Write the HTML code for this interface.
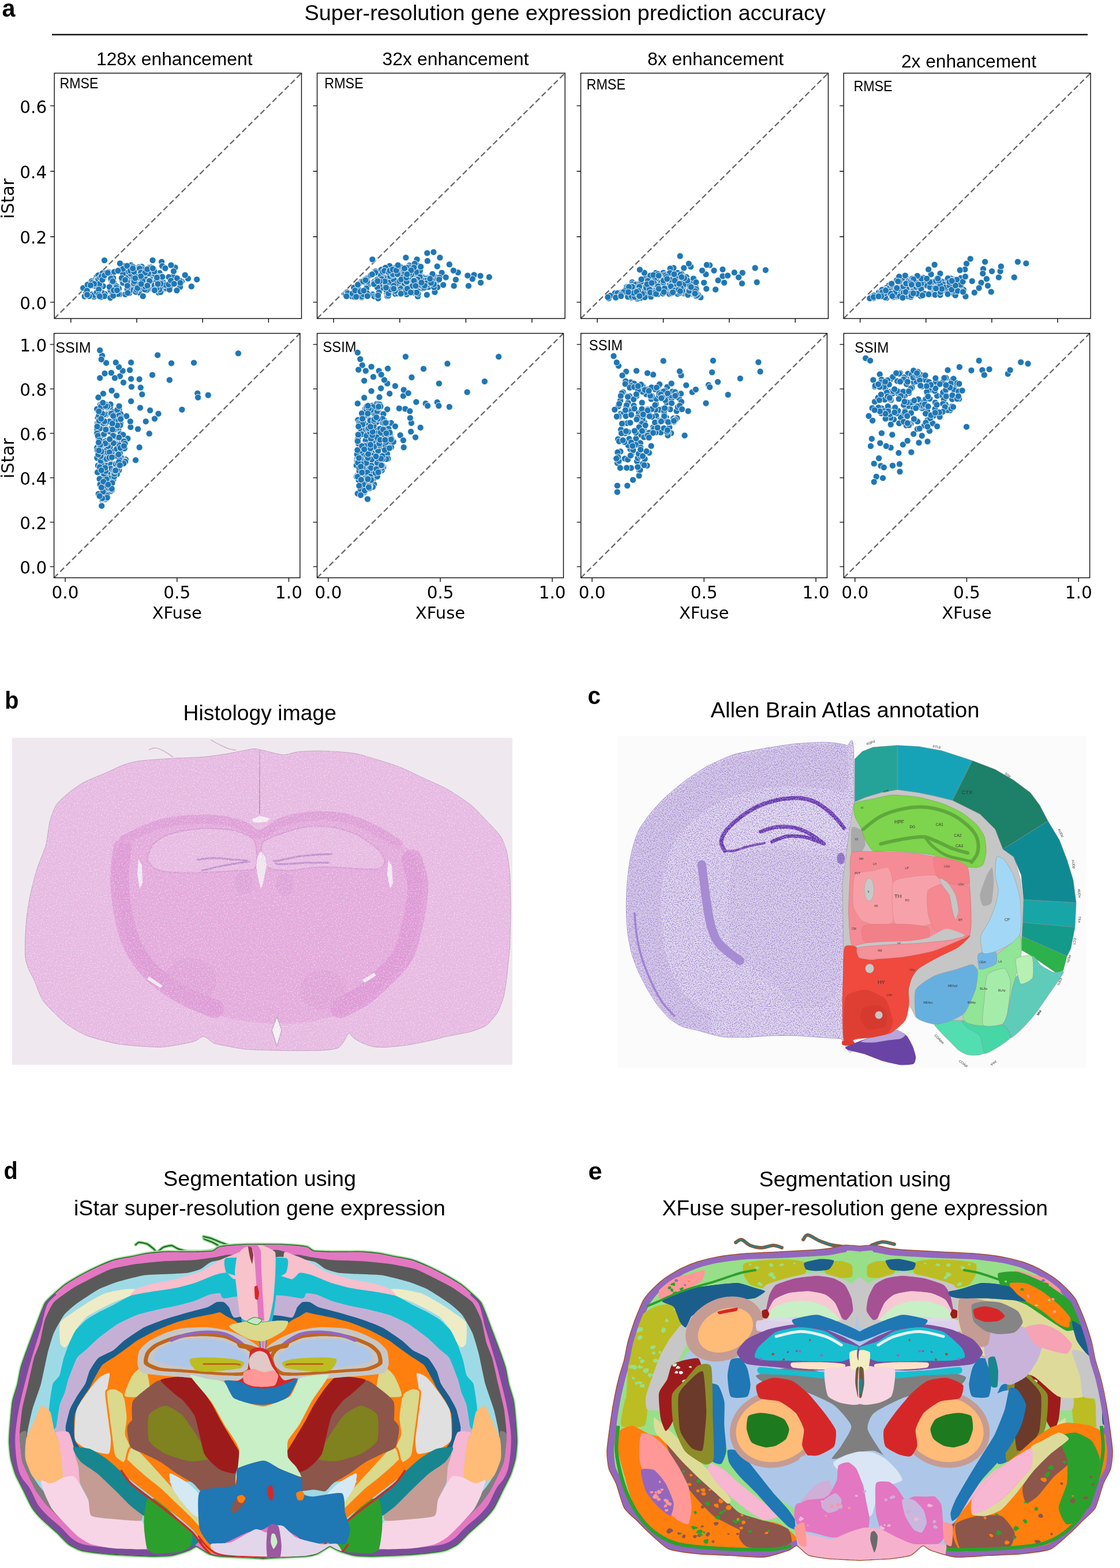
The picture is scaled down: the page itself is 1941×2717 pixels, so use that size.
<!DOCTYPE html>
<html><head><meta charset="utf-8"><title>Super-resolution gene expression figure</title>
<style>html,body{margin:0;padding:0;background:#fff;}svg{display:block;}</style></head>
<body><svg width="1941" height="2717" viewBox="0 0 1941 2717">
<rect width="1941" height="2717" fill="#fff"/>
<text x="3.5" y="28.8" font-size="42" font-family="'Liberation Sans', Arial, sans-serif" font-weight="bold" textLength="23" lengthAdjust="spacingAndGlyphs">a</text>
<text x="527.5" y="34.7" font-size="37" font-family="'Liberation Sans', Arial, sans-serif" textLength="903.5" lengthAdjust="spacingAndGlyphs">Super-resolution gene expression prediction accuracy</text>
<line x1="90" y1="60" x2="1885" y2="60" stroke="#111" stroke-width="2.6"/>
<text x="167" y="113.3" font-size="31" font-family="'Liberation Sans', Arial, sans-serif" textLength="270.5" lengthAdjust="spacingAndGlyphs">128x enhancement</text>
<text x="662.5" y="112.7" font-size="31" font-family="'Liberation Sans', Arial, sans-serif" textLength="254" lengthAdjust="spacingAndGlyphs">32x enhancement</text>
<text x="1122" y="113.2" font-size="31" font-family="'Liberation Sans', Arial, sans-serif" textLength="236" lengthAdjust="spacingAndGlyphs">8x enhancement</text>
<text x="1562" y="116.6" font-size="31" font-family="'Liberation Sans', Arial, sans-serif" textLength="234" lengthAdjust="spacingAndGlyphs">2x enhancement</text>
<text x="103.5" y="153.3" font-size="25.5" font-family="'Liberation Sans', Arial, sans-serif" textLength="67" lengthAdjust="spacingAndGlyphs">RMSE</text>
<text x="562.3" y="153.3" font-size="25.5" font-family="'Liberation Sans', Arial, sans-serif" textLength="67.5" lengthAdjust="spacingAndGlyphs">RMSE</text>
<text x="1016.6" y="155.4" font-size="25.5" font-family="'Liberation Sans', Arial, sans-serif" textLength="67.4" lengthAdjust="spacingAndGlyphs">RMSE</text>
<text x="1479.4" y="158.4" font-size="25.5" font-family="'Liberation Sans', Arial, sans-serif" textLength="67.2" lengthAdjust="spacingAndGlyphs">RMSE</text>
<text x="96.3" y="610.6" font-size="25.5" font-family="'Liberation Sans', Arial, sans-serif" textLength="61.2" lengthAdjust="spacingAndGlyphs">SSIM</text>
<text x="559.5" y="609.6" font-size="25.5" font-family="'Liberation Sans', Arial, sans-serif" textLength="58" lengthAdjust="spacingAndGlyphs">SSIM</text>
<text x="1020.8" y="607" font-size="25.5" font-family="'Liberation Sans', Arial, sans-serif" textLength="58.2" lengthAdjust="spacingAndGlyphs">SSIM</text>
<text x="1481.3" y="611" font-size="25.5" font-family="'Liberation Sans', Arial, sans-serif" textLength="59" lengthAdjust="spacingAndGlyphs">SSIM</text>
<text x="81.2" y="535.8" font-size="29.5" font-family="'DejaVu Sans', sans-serif" text-anchor="end">0.0</text>
<text x="81.2" y="422.4" font-size="29.5" font-family="'DejaVu Sans', sans-serif" text-anchor="end">0.2</text>
<text x="81.2" y="309" font-size="29.5" font-family="'DejaVu Sans', sans-serif" text-anchor="end">0.4</text>
<text x="81.2" y="195.6" font-size="29.5" font-family="'DejaVu Sans', sans-serif" text-anchor="end">0.6</text>
<text transform="translate(23.8 344) rotate(-90)" font-size="30" font-family="'DejaVu Sans', sans-serif" text-anchor="middle">iStar</text>
<text x="81.2" y="994.1" font-size="29.5" font-family="'DejaVu Sans', sans-serif" text-anchor="end">0.0</text>
<text x="81.2" y="917.1" font-size="29.5" font-family="'DejaVu Sans', sans-serif" text-anchor="end">0.2</text>
<text x="81.2" y="840.1" font-size="29.5" font-family="'DejaVu Sans', sans-serif" text-anchor="end">0.4</text>
<text x="81.2" y="763.1" font-size="29.5" font-family="'DejaVu Sans', sans-serif" text-anchor="end">0.6</text>
<text x="81.2" y="686.1" font-size="29.5" font-family="'DejaVu Sans', sans-serif" text-anchor="end">0.8</text>
<text x="81.2" y="609.1" font-size="29.5" font-family="'DejaVu Sans', sans-serif" text-anchor="end">1.0</text>
<text x="113" y="1036.6" font-size="29.5" font-family="'DejaVu Sans', sans-serif" text-anchor="middle">0.0</text>
<text x="306.8" y="1036.6" font-size="29.5" font-family="'DejaVu Sans', sans-serif" text-anchor="middle">0.5</text>
<text x="500.5" y="1036.6" font-size="29.5" font-family="'DejaVu Sans', sans-serif" text-anchor="middle">1.0</text>
<text x="306.8" y="1071.6" font-size="29" font-family="'DejaVu Sans', sans-serif" text-anchor="middle">XFuse</text>
<text x="569" y="1036.6" font-size="29.5" font-family="'DejaVu Sans', sans-serif" text-anchor="middle">0.0</text>
<text x="763.1" y="1036.6" font-size="29.5" font-family="'DejaVu Sans', sans-serif" text-anchor="middle">0.5</text>
<text x="957.1" y="1036.6" font-size="29.5" font-family="'DejaVu Sans', sans-serif" text-anchor="middle">1.0</text>
<text x="763" y="1071.6" font-size="29" font-family="'DejaVu Sans', sans-serif" text-anchor="middle">XFuse</text>
<text x="1026.1" y="1036.6" font-size="29.5" font-family="'DejaVu Sans', sans-serif" text-anchor="middle">0.0</text>
<text x="1220.1" y="1036.6" font-size="29.5" font-family="'DejaVu Sans', sans-serif" text-anchor="middle">0.5</text>
<text x="1414" y="1036.6" font-size="29.5" font-family="'DejaVu Sans', sans-serif" text-anchor="middle">1.0</text>
<text x="1220.1" y="1071.6" font-size="29" font-family="'DejaVu Sans', sans-serif" text-anchor="middle">XFuse</text>
<text x="1481.7" y="1036.6" font-size="29.5" font-family="'DejaVu Sans', sans-serif" text-anchor="middle">0.0</text>
<text x="1675.4" y="1036.6" font-size="29.5" font-family="'DejaVu Sans', sans-serif" text-anchor="middle">0.5</text>
<text x="1869.2" y="1036.6" font-size="29.5" font-family="'DejaVu Sans', sans-serif" text-anchor="middle">1.0</text>
<text x="1675.4" y="1071.6" font-size="29" font-family="'DejaVu Sans', sans-serif" text-anchor="middle">XFuse</text>
<text transform="translate(23.8 794) rotate(-90)" font-size="30" font-family="'DejaVu Sans', sans-serif" text-anchor="middle">iStar</text>
<g fill="none" stroke="#686868" stroke-width="2.3" stroke-dasharray="9.8 5"><line x1="94.2" y1="551.9" x2="522.5" y2="126.7"/><line x1="549.6" y1="551.9" x2="979.2" y2="126.7"/><line x1="1006.5" y1="551.9" x2="1435.4" y2="126.7"/><line x1="1462.1" y1="551.9" x2="1890" y2="126.7"/><line x1="93.6" y1="1001.2" x2="519.9" y2="577.6"/><line x1="549.6" y1="1001.2" x2="976.5" y2="577.6"/><line x1="1006.7" y1="1001.2" x2="1433.4" y2="577.6"/><line x1="1462.3" y1="1001.2" x2="1888.6" y2="577.6"/></g>
<g fill="none" stroke="#0a0a0a" stroke-width="1.4"><rect x="94.2" y="126.7" width="428.3" height="425.2"/><rect x="549.6" y="126.7" width="429.6" height="425.2"/><rect x="1006.5" y="126.7" width="428.9" height="425.2"/><rect x="1462.1" y="126.7" width="427.9" height="425.2"/><rect x="93.6" y="577.6" width="426.3" height="423.6"/><rect x="549.6" y="577.6" width="426.9" height="423.6"/><rect x="1006.7" y="577.6" width="426.7" height="423.6"/><rect x="1462.3" y="577.6" width="426.3" height="423.6"/></g>
<path fill="none" stroke="#0a0a0a" stroke-width="1.4" d="M87.2 523.6H94.2 M87.2 410.2H94.2 M87.2 296.8H94.2 M87.2 183.4H94.2 M122.8 551.9V558.9 M237 551.9V558.9 M351.2 551.9V558.9 M465.4 551.9V558.9 M542.6 523.6H549.6 M542.6 410.2H549.6 M542.6 296.8H549.6 M542.6 183.4H549.6 M578.2 551.9V558.9 M692.8 551.9V558.9 M807.4 551.9V558.9 M921.9 551.9V558.9 M999.5 523.6H1006.5 M999.5 410.2H1006.5 M999.5 296.8H1006.5 M999.5 183.4H1006.5 M1035.1 551.9V558.9 M1149.5 551.9V558.9 M1263.8 551.9V558.9 M1378.2 551.9V558.9 M1455.1 523.6H1462.1 M1455.1 410.2H1462.1 M1455.1 296.8H1462.1 M1455.1 183.4H1462.1 M1490.6 551.9V558.9 M1604.7 551.9V558.9 M1718.8 551.9V558.9 M1832.9 551.9V558.9 M86.6 981.9H93.6 M86.6 904.9H93.6 M86.6 827.9H93.6 M86.6 750.9H93.6 M86.6 673.9H93.6 M86.6 596.9H93.6 M113 1001.2V1008.2 M306.8 1001.2V1008.2 M500.5 1001.2V1008.2 M542.6 981.9H549.6 M542.6 904.9H549.6 M542.6 827.9H549.6 M542.6 750.9H549.6 M542.6 673.9H549.6 M542.6 596.9H549.6 M569 1001.2V1008.2 M763.1 1001.2V1008.2 M957.1 1001.2V1008.2 M999.7 981.9H1006.7 M999.7 904.9H1006.7 M999.7 827.9H1006.7 M999.7 750.9H1006.7 M999.7 673.9H1006.7 M999.7 596.9H1006.7 M1026.1 1001.2V1008.2 M1220.1 1001.2V1008.2 M1414 1001.2V1008.2 M1455.3 981.9H1462.3 M1455.3 904.9H1462.3 M1455.3 827.9H1462.3 M1455.3 750.9H1462.3 M1455.3 673.9H1462.3 M1455.3 596.9H1462.3 M1481.7 1001.2V1008.2 M1675.4 1001.2V1008.2 M1869.2 1001.2V1008.2"/>
<g fill="#1f77b4" stroke="#fff" stroke-width="0.9">
<circle cx="146.7" cy="502.1" r="5.6"/><circle cx="179.7" cy="513.7" r="5.6"/><circle cx="196.5" cy="509.5" r="5.6"/><circle cx="260.2" cy="474.7" r="5.6"/><circle cx="257.3" cy="495.3" r="5.6"/><circle cx="193.9" cy="494.2" r="5.6"/><circle cx="280.1" cy="453.7" r="5.6"/><circle cx="167.6" cy="479.5" r="5.6"/><circle cx="191.5" cy="497.1" r="5.6"/><circle cx="274" cy="491.7" r="5.6"/><circle cx="267.4" cy="497.9" r="5.6"/><circle cx="245.6" cy="462.2" r="5.6"/><circle cx="314.8" cy="487.6" r="5.6"/><circle cx="256.4" cy="466.6" r="5.6"/><circle cx="192.1" cy="501.4" r="5.6"/><circle cx="170.2" cy="477.1" r="5.6"/><circle cx="217.4" cy="492.4" r="5.6"/><circle cx="162.9" cy="514.2" r="5.6"/><circle cx="221" cy="471.6" r="5.6"/><circle cx="325.9" cy="482.7" r="5.6"/><circle cx="146.7" cy="513.6" r="5.6"/><circle cx="274.8" cy="507" r="5.6"/><circle cx="179.4" cy="481.6" r="5.6"/><circle cx="189.4" cy="471.9" r="5.6"/><circle cx="175.9" cy="507.3" r="5.6"/><circle cx="294.1" cy="502.2" r="5.6"/><circle cx="222.4" cy="470.5" r="5.6"/><circle cx="178.7" cy="495.9" r="5.6"/><circle cx="167.9" cy="510" r="5.6"/><circle cx="151.2" cy="512.4" r="5.6"/><circle cx="226.5" cy="497.4" r="5.6"/><circle cx="173" cy="495.4" r="5.6"/><circle cx="237.5" cy="490.6" r="5.6"/><circle cx="262.2" cy="485" r="5.6"/><circle cx="171" cy="507.3" r="5.6"/><circle cx="223.1" cy="492.3" r="5.6"/><circle cx="244.9" cy="478.3" r="5.6"/><circle cx="204.6" cy="497.7" r="5.6"/><circle cx="159.3" cy="510.2" r="5.6"/><circle cx="281.3" cy="501.9" r="5.6"/><circle cx="211.7" cy="485.5" r="5.6"/><circle cx="213.2" cy="490.2" r="5.6"/><circle cx="312.2" cy="497" r="5.6"/><circle cx="194.3" cy="510.6" r="5.6"/><circle cx="242.7" cy="477.1" r="5.6"/><circle cx="283" cy="489.7" r="5.6"/><circle cx="312" cy="486.7" r="5.6"/><circle cx="294.3" cy="490.7" r="5.6"/><circle cx="254.3" cy="489.5" r="5.6"/><circle cx="164.7" cy="495.3" r="5.6"/><circle cx="278.4" cy="488.9" r="5.6"/><circle cx="148.8" cy="504.9" r="5.6"/><circle cx="187.6" cy="471.4" r="5.6"/><circle cx="181.8" cy="509.4" r="5.6"/><circle cx="252.4" cy="495.4" r="5.6"/><circle cx="287.9" cy="499.7" r="5.6"/><circle cx="217.1" cy="510.1" r="5.6"/><circle cx="176.5" cy="507.2" r="5.6"/><circle cx="227.1" cy="459.5" r="5.6"/><circle cx="159.5" cy="491.6" r="5.6"/><circle cx="190.3" cy="474.9" r="5.6"/><circle cx="249.5" cy="500.2" r="5.6"/><circle cx="259.4" cy="500.1" r="5.6"/><circle cx="282.2" cy="495.1" r="5.6"/><circle cx="276.6" cy="473.1" r="5.6"/><circle cx="264.7" cy="488.4" r="5.6"/><circle cx="256.4" cy="501.1" r="5.6"/><circle cx="225.9" cy="479" r="5.6"/><circle cx="320.7" cy="476.7" r="5.6"/><circle cx="303.5" cy="463.5" r="5.6"/><circle cx="163.6" cy="486" r="5.6"/><circle cx="266.5" cy="466.4" r="5.6"/><circle cx="177.5" cy="473.6" r="5.6"/><circle cx="196.3" cy="482" r="5.6"/><circle cx="235.3" cy="479" r="5.6"/><circle cx="230.4" cy="462.5" r="5.6"/><circle cx="274.2" cy="501.4" r="5.6"/><circle cx="175.2" cy="481.6" r="5.6"/><circle cx="276.1" cy="479.9" r="5.6"/><circle cx="241" cy="486.8" r="5.6"/><circle cx="232" cy="468.9" r="5.6"/><circle cx="214.9" cy="484.4" r="5.6"/><circle cx="168.3" cy="485.3" r="5.6"/><circle cx="244.9" cy="467.9" r="5.6"/><circle cx="299.8" cy="479.3" r="5.6"/><circle cx="168.4" cy="486.2" r="5.6"/><circle cx="264.5" cy="451.1" r="5.6"/><circle cx="193.7" cy="490.3" r="5.6"/><circle cx="175.7" cy="483.3" r="5.6"/><circle cx="158.3" cy="495" r="5.6"/><circle cx="166.6" cy="492.7" r="5.6"/><circle cx="204.5" cy="504.9" r="5.6"/><circle cx="170.4" cy="483.9" r="5.6"/><circle cx="306.9" cy="482.2" r="5.6"/><circle cx="241.4" cy="507.1" r="5.6"/><circle cx="294.8" cy="496.4" r="5.6"/><circle cx="221.3" cy="495.7" r="5.6"/><circle cx="262.9" cy="489" r="5.6"/><circle cx="224.3" cy="507.8" r="5.6"/><circle cx="191.5" cy="503.2" r="5.6"/><circle cx="281.4" cy="494.8" r="5.6"/><circle cx="269.1" cy="475.9" r="5.6"/><circle cx="267.2" cy="492.6" r="5.6"/><circle cx="234.8" cy="500.3" r="5.6"/><circle cx="217.3" cy="481.2" r="5.6"/><circle cx="247" cy="501" r="5.6"/><circle cx="250.8" cy="480.5" r="5.6"/><circle cx="281.1" cy="460.9" r="5.6"/><circle cx="240.6" cy="463.1" r="5.6"/><circle cx="207.8" cy="470.3" r="5.6"/><circle cx="191.5" cy="516.2" r="5.6"/><circle cx="306.4" cy="503.3" r="5.6"/><circle cx="163.1" cy="511.4" r="5.6"/><circle cx="341.2" cy="484.3" r="5.6"/><circle cx="206" cy="500.2" r="5.6"/><circle cx="149" cy="497.9" r="5.6"/><circle cx="220.6" cy="483.6" r="5.6"/><circle cx="171" cy="504.8" r="5.6"/><circle cx="211" cy="461" r="5.6"/><circle cx="259.3" cy="463" r="5.6"/><circle cx="233.7" cy="468.8" r="5.6"/><circle cx="267.6" cy="490.7" r="5.6"/><circle cx="151.5" cy="499.6" r="5.6"/><circle cx="245.2" cy="465.8" r="5.6"/><circle cx="279.4" cy="479.3" r="5.6"/><circle cx="227.5" cy="502.7" r="5.6"/><circle cx="193.6" cy="493" r="5.6"/><circle cx="229.3" cy="488.8" r="5.6"/><circle cx="212.5" cy="477.9" r="5.6"/><circle cx="246" cy="497.9" r="5.6"/><circle cx="261.6" cy="463.3" r="5.6"/><circle cx="171.6" cy="502.3" r="5.6"/><circle cx="154.5" cy="513.1" r="5.6"/><circle cx="193" cy="496.1" r="5.6"/><circle cx="239.9" cy="465.5" r="5.6"/><circle cx="217.9" cy="462.2" r="5.6"/><circle cx="239.1" cy="474.9" r="5.6"/><circle cx="149.2" cy="506.3" r="5.6"/><circle cx="150.3" cy="498.3" r="5.6"/><circle cx="207.2" cy="509.9" r="5.6"/><circle cx="172.3" cy="491.9" r="5.6"/><circle cx="158.7" cy="487.3" r="5.6"/><circle cx="286.4" cy="464.8" r="5.6"/><circle cx="235.6" cy="491.2" r="5.6"/><circle cx="296.4" cy="459.5" r="5.6"/><circle cx="267.1" cy="497.7" r="5.6"/><circle cx="217.8" cy="481.2" r="5.6"/><circle cx="197" cy="489.3" r="5.6"/><circle cx="167.8" cy="506.9" r="5.6"/><circle cx="144.1" cy="499.1" r="5.6"/><circle cx="277.9" cy="499.5" r="5.6"/><circle cx="247.7" cy="513.3" r="5.6"/><circle cx="275.8" cy="492.6" r="5.6"/><circle cx="159.9" cy="489.8" r="5.6"/><circle cx="191.6" cy="483.5" r="5.6"/><circle cx="200.6" cy="470.3" r="5.6"/><circle cx="278.6" cy="488.3" r="5.6"/><circle cx="235.2" cy="505.8" r="5.6"/><circle cx="300.9" cy="470.1" r="5.6"/><circle cx="278" cy="506.3" r="5.6"/><circle cx="222.4" cy="495.7" r="5.6"/><circle cx="239" cy="491.8" r="5.6"/><circle cx="266.1" cy="488.3" r="5.6"/><circle cx="258.8" cy="464.8" r="5.6"/><circle cx="312.4" cy="490.2" r="5.6"/><circle cx="268.6" cy="475.8" r="5.6"/><circle cx="175.1" cy="514.9" r="5.6"/><circle cx="155.3" cy="495.2" r="5.6"/><circle cx="213.5" cy="461.8" r="5.6"/><circle cx="247.1" cy="486.5" r="5.6"/><circle cx="287.1" cy="493.9" r="5.6"/><circle cx="235.6" cy="478.7" r="5.6"/><circle cx="267.8" cy="494.6" r="5.6"/><circle cx="231.5" cy="481.9" r="5.6"/><circle cx="236.6" cy="502.1" r="5.6"/><circle cx="198" cy="471.1" r="5.6"/><circle cx="267.3" cy="470.3" r="5.6"/><circle cx="244.1" cy="472.7" r="5.6"/><circle cx="204.6" cy="509.5" r="5.6"/><circle cx="220.5" cy="502.4" r="5.6"/><circle cx="241.9" cy="465.3" r="5.6"/><circle cx="220.2" cy="488.3" r="5.6"/><circle cx="244.4" cy="473.8" r="5.6"/><circle cx="171.2" cy="501.6" r="5.6"/><circle cx="244.3" cy="472.2" r="5.6"/><circle cx="220.6" cy="500.8" r="5.6"/><circle cx="251" cy="473.5" r="5.6"/><circle cx="213.5" cy="460.8" r="5.6"/><circle cx="257" cy="473.8" r="5.6"/><circle cx="213" cy="474.3" r="5.6"/><circle cx="293.7" cy="501.8" r="5.6"/><circle cx="292.2" cy="492.9" r="5.6"/><circle cx="173.3" cy="481.2" r="5.6"/><circle cx="175.8" cy="479.2" r="5.6"/><circle cx="241.2" cy="493" r="5.6"/><circle cx="151.7" cy="493.3" r="5.6"/><circle cx="163.1" cy="491.9" r="5.6"/><circle cx="181.2" cy="513.2" r="5.6"/><circle cx="202.3" cy="503.4" r="5.6"/><circle cx="191.3" cy="516" r="5.6"/><circle cx="258.4" cy="486.6" r="5.6"/><circle cx="213.1" cy="465.8" r="5.6"/><circle cx="171.1" cy="510.9" r="5.6"/><circle cx="201.5" cy="496" r="5.6"/><circle cx="231.6" cy="490.6" r="5.6"/><circle cx="254.3" cy="502.5" r="5.6"/><circle cx="183.7" cy="473.2" r="5.6"/><circle cx="251.2" cy="501.7" r="5.6"/><circle cx="177.4" cy="484.9" r="5.6"/><circle cx="210.9" cy="481.6" r="5.6"/><circle cx="156.9" cy="494.4" r="5.6"/><circle cx="150.7" cy="503.7" r="5.6"/><circle cx="276.1" cy="501.7" r="5.6"/><circle cx="251.5" cy="472.6" r="5.6"/><circle cx="251.6" cy="496.4" r="5.6"/><circle cx="195.5" cy="508.5" r="5.6"/><circle cx="278.3" cy="491.6" r="5.6"/><circle cx="292.5" cy="480.1" r="5.6"/><circle cx="220.7" cy="495.1" r="5.6"/><circle cx="274.7" cy="480.3" r="5.6"/><circle cx="255.2" cy="466.5" r="5.6"/><circle cx="244.1" cy="478.7" r="5.6"/><circle cx="196.1" cy="512.6" r="5.6"/><circle cx="271.1" cy="484.1" r="5.6"/><circle cx="181.2" cy="477.1" r="5.6"/><circle cx="259" cy="486.8" r="5.6"/><circle cx="271.5" cy="499.8" r="5.6"/><circle cx="331.7" cy="496.4" r="5.6"/><circle cx="264.8" cy="465.1" r="5.6"/><circle cx="221.4" cy="507.6" r="5.6"/><circle cx="189.7" cy="497.3" r="5.6"/><circle cx="186.8" cy="472.7" r="5.6"/><circle cx="220.2" cy="460.7" r="5.6"/><circle cx="181" cy="451.1" r="5.6"/><circle cx="232.8" cy="487.5" r="5.6"/><circle cx="225.8" cy="469.3" r="5.6"/><circle cx="238.3" cy="499.3" r="5.6"/><circle cx="281.3" cy="479.7" r="5.6"/><circle cx="192.4" cy="482.7" r="5.6"/><circle cx="201.5" cy="498.7" r="5.6"/><circle cx="296.1" cy="486.3" r="5.6"/><circle cx="172.6" cy="513.4" r="5.6"/><circle cx="207.9" cy="456.4" r="5.6"/><circle cx="234.2" cy="482.1" r="5.6"/><circle cx="272.9" cy="491.9" r="5.6"/><circle cx="271.7" cy="485" r="5.6"/><circle cx="232.3" cy="471.1" r="5.6"/><circle cx="204.5" cy="469.1" r="5.6"/><circle cx="151.1" cy="510.7" r="5.6"/><circle cx="255.4" cy="495" r="5.6"/><circle cx="197" cy="503.1" r="5.6"/><circle cx="195.4" cy="487.4" r="5.6"/><circle cx="202.9" cy="503" r="5.6"/><circle cx="230.2" cy="465.1" r="5.6"/><circle cx="271.9" cy="481" r="5.6"/><circle cx="268" cy="503" r="5.6"/><circle cx="217" cy="485.1" r="5.6"/><circle cx="273.6" cy="492.1" r="5.6"/><circle cx="244.7" cy="492.1" r="5.6"/><circle cx="301.7" cy="491.8" r="5.6"/>
</g>
<g fill="#1f77b4" stroke="#fff" stroke-width="0.9">
<circle cx="192.4" cy="811.1" r="5.6"/><circle cx="171" cy="816.2" r="5.6"/><circle cx="181" cy="772.6" r="5.6"/><circle cx="242.9" cy="706.6" r="5.6"/><circle cx="175.9" cy="734.7" r="5.6"/><circle cx="169.8" cy="806.7" r="5.6"/><circle cx="235" cy="797.3" r="5.6"/><circle cx="179.6" cy="786.8" r="5.6"/><circle cx="176.5" cy="707.5" r="5.6"/><circle cx="209.9" cy="753.8" r="5.6"/><circle cx="168.3" cy="793.6" r="5.6"/><circle cx="200" cy="819.8" r="5.6"/><circle cx="206.4" cy="709.4" r="5.6"/><circle cx="189.1" cy="730.8" r="5.6"/><circle cx="174.2" cy="706" r="5.6"/><circle cx="177" cy="861.3" r="5.6"/><circle cx="182.8" cy="764.1" r="5.6"/><circle cx="182.3" cy="796.1" r="5.6"/><circle cx="183.9" cy="718.8" r="5.6"/><circle cx="209" cy="717.3" r="5.6"/><circle cx="181.8" cy="806.7" r="5.6"/><circle cx="204.7" cy="815.2" r="5.6"/><circle cx="221.3" cy="759.9" r="5.6"/><circle cx="192.2" cy="851.1" r="5.6"/><circle cx="187.1" cy="777.3" r="5.6"/><circle cx="209" cy="724.4" r="5.6"/><circle cx="191.6" cy="742.4" r="5.6"/><circle cx="176.2" cy="769" r="5.6"/><circle cx="169.5" cy="747.8" r="5.6"/><circle cx="188.3" cy="792.6" r="5.6"/><circle cx="177.3" cy="705.6" r="5.6"/><circle cx="226.3" cy="740.1" r="5.6"/><circle cx="241.6" cy="657.1" r="5.6"/><circle cx="202.1" cy="685.5" r="5.6"/><circle cx="168.8" cy="733" r="5.6"/><circle cx="204.8" cy="787.3" r="5.6"/><circle cx="173.8" cy="840" r="5.6"/><circle cx="191.8" cy="715.7" r="5.6"/><circle cx="168.1" cy="775.9" r="5.6"/><circle cx="178.6" cy="728.3" r="5.6"/><circle cx="191" cy="800.9" r="5.6"/><circle cx="174.3" cy="805.2" r="5.6"/><circle cx="194.1" cy="848.7" r="5.6"/><circle cx="209" cy="733.9" r="5.6"/><circle cx="200.3" cy="719.3" r="5.6"/><circle cx="185.5" cy="767.3" r="5.6"/><circle cx="187.8" cy="768.7" r="5.6"/><circle cx="192" cy="794.5" r="5.6"/><circle cx="188" cy="820.3" r="5.6"/><circle cx="173.3" cy="767.2" r="5.6"/><circle cx="204.5" cy="744.5" r="5.6"/><circle cx="190.7" cy="774.3" r="5.6"/><circle cx="176.1" cy="826.7" r="5.6"/><circle cx="177.6" cy="815.4" r="5.6"/><circle cx="215.4" cy="795.8" r="5.6"/><circle cx="175.7" cy="836.9" r="5.6"/><circle cx="183" cy="787.7" r="5.6"/><circle cx="198.9" cy="781" r="5.6"/><circle cx="173.1" cy="733.5" r="5.6"/><circle cx="198.4" cy="728.4" r="5.6"/><circle cx="202.7" cy="759.5" r="5.6"/><circle cx="204.2" cy="814.7" r="5.6"/><circle cx="168.1" cy="748.8" r="5.6"/><circle cx="181.8" cy="736.1" r="5.6"/><circle cx="177.4" cy="781.6" r="5.6"/><circle cx="227.1" cy="695.3" r="5.6"/><circle cx="264" cy="649.7" r="5.6"/><circle cx="173.6" cy="701.2" r="5.6"/><circle cx="182" cy="865.4" r="5.6"/><circle cx="176.9" cy="781.6" r="5.6"/><circle cx="168.3" cy="743.4" r="5.6"/><circle cx="172.9" cy="735" r="5.6"/><circle cx="185.4" cy="779.2" r="5.6"/><circle cx="183.6" cy="742.5" r="5.6"/><circle cx="336" cy="628.6" r="5.6"/><circle cx="184.6" cy="813.3" r="5.6"/><circle cx="205.6" cy="729.4" r="5.6"/><circle cx="193.5" cy="835.4" r="5.6"/><circle cx="189.1" cy="812.1" r="5.6"/><circle cx="190.5" cy="747.7" r="5.6"/><circle cx="205.3" cy="738.2" r="5.6"/><circle cx="185" cy="806.5" r="5.6"/><circle cx="183" cy="717.6" r="5.6"/><circle cx="252.7" cy="730.3" r="5.6"/><circle cx="205.5" cy="808.8" r="5.6"/><circle cx="180.2" cy="849.2" r="5.6"/><circle cx="412.9" cy="612.3" r="5.6"/><circle cx="206.2" cy="814.8" r="5.6"/><circle cx="227.1" cy="656.5" r="5.6"/><circle cx="191.1" cy="705.3" r="5.6"/><circle cx="192.3" cy="804.9" r="5.6"/><circle cx="200" cy="807.1" r="5.6"/><circle cx="182.5" cy="839.6" r="5.6"/><circle cx="169.5" cy="723.9" r="5.6"/><circle cx="196.6" cy="830.4" r="5.6"/><circle cx="178.9" cy="682.1" r="5.6"/><circle cx="177.5" cy="767.2" r="5.6"/><circle cx="175.2" cy="792.8" r="5.6"/><circle cx="174.2" cy="720.7" r="5.6"/><circle cx="171.5" cy="728.1" r="5.6"/><circle cx="171.3" cy="720.1" r="5.6"/><circle cx="217.9" cy="796.2" r="5.6"/><circle cx="214.5" cy="774.1" r="5.6"/><circle cx="189.4" cy="788.6" r="5.6"/><circle cx="219.2" cy="721.1" r="5.6"/><circle cx="173" cy="839.5" r="5.6"/><circle cx="190.2" cy="824.8" r="5.6"/><circle cx="190.9" cy="817.8" r="5.6"/><circle cx="173.1" cy="828.5" r="5.6"/><circle cx="192" cy="812.1" r="5.6"/><circle cx="183.3" cy="703" r="5.6"/><circle cx="176.5" cy="771.5" r="5.6"/><circle cx="172.1" cy="754.4" r="5.6"/><circle cx="168.9" cy="780.3" r="5.6"/><circle cx="315.4" cy="709.8" r="5.6"/><circle cx="184.2" cy="847.6" r="5.6"/><circle cx="198.1" cy="739.7" r="5.6"/><circle cx="176.8" cy="866" r="5.6"/><circle cx="180" cy="765.8" r="5.6"/><circle cx="196.5" cy="713.8" r="5.6"/><circle cx="205.4" cy="767.6" r="5.6"/><circle cx="175.6" cy="862.9" r="5.6"/><circle cx="190" cy="845.7" r="5.6"/><circle cx="175.6" cy="804.6" r="5.6"/><circle cx="203.2" cy="710.1" r="5.6"/><circle cx="170.7" cy="732.9" r="5.6"/><circle cx="184.1" cy="628.9" r="5.6"/><circle cx="206.3" cy="797.7" r="5.6"/><circle cx="182.9" cy="796.4" r="5.6"/><circle cx="202.7" cy="821.6" r="5.6"/><circle cx="168.1" cy="708.8" r="5.6"/><circle cx="182.7" cy="826.3" r="5.6"/><circle cx="172.9" cy="789.6" r="5.6"/><circle cx="205.3" cy="743.1" r="5.6"/><circle cx="174.1" cy="754.5" r="5.6"/><circle cx="181.8" cy="740.8" r="5.6"/><circle cx="173.6" cy="785.9" r="5.6"/><circle cx="185.6" cy="705.9" r="5.6"/><circle cx="204.5" cy="779.5" r="5.6"/><circle cx="173.1" cy="655" r="5.6"/><circle cx="202.2" cy="777.9" r="5.6"/><circle cx="181" cy="852.1" r="5.6"/><circle cx="174.6" cy="798.6" r="5.6"/><circle cx="180.2" cy="821.7" r="5.6"/><circle cx="360.7" cy="684.7" r="5.6"/><circle cx="188.7" cy="845.6" r="5.6"/><circle cx="196.9" cy="821.1" r="5.6"/><circle cx="202.7" cy="807.7" r="5.6"/><circle cx="203.7" cy="811.4" r="5.6"/><circle cx="196.7" cy="815.7" r="5.6"/><circle cx="175.9" cy="754.5" r="5.6"/><circle cx="196.9" cy="788.5" r="5.6"/><circle cx="187.3" cy="773" r="5.6"/><circle cx="193.1" cy="792.1" r="5.6"/><circle cx="177.9" cy="831.3" r="5.6"/><circle cx="211.1" cy="802.2" r="5.6"/><circle cx="177.8" cy="785.2" r="5.6"/><circle cx="208.8" cy="752.1" r="5.6"/><circle cx="187.1" cy="794.9" r="5.6"/><circle cx="176.1" cy="855.8" r="5.6"/><circle cx="342.3" cy="681.6" r="5.6"/><circle cx="184" cy="785.7" r="5.6"/><circle cx="184.7" cy="768.2" r="5.6"/><circle cx="209.6" cy="776.7" r="5.6"/><circle cx="180.8" cy="846.3" r="5.6"/><circle cx="206.5" cy="736.5" r="5.6"/><circle cx="202.7" cy="791.1" r="5.6"/><circle cx="215.1" cy="776.9" r="5.6"/><circle cx="202.8" cy="788.9" r="5.6"/><circle cx="179" cy="865.5" r="5.6"/><circle cx="202.9" cy="741.5" r="5.6"/><circle cx="191.5" cy="700.7" r="5.6"/><circle cx="172.5" cy="829.9" r="5.6"/><circle cx="177" cy="616.2" r="5.6"/><circle cx="206.8" cy="771.5" r="5.6"/><circle cx="225" cy="641.3" r="5.6"/><circle cx="170.4" cy="688.7" r="5.6"/><circle cx="213.2" cy="753.3" r="5.6"/><circle cx="197.8" cy="825.9" r="5.6"/><circle cx="208.3" cy="736.8" r="5.6"/><circle cx="179.1" cy="733.1" r="5.6"/><circle cx="175.9" cy="700.1" r="5.6"/><circle cx="192.8" cy="646" r="5.6"/><circle cx="169" cy="818.4" r="5.6"/><circle cx="181.2" cy="793.6" r="5.6"/><circle cx="182.2" cy="836.5" r="5.6"/><circle cx="214.3" cy="763.7" r="5.6"/><circle cx="175" cy="860.6" r="5.6"/><circle cx="181.5" cy="647.1" r="5.6"/><circle cx="181" cy="812.1" r="5.6"/><circle cx="199.2" cy="765.6" r="5.6"/><circle cx="192" cy="743.5" r="5.6"/><circle cx="179.3" cy="842.9" r="5.6"/><circle cx="189.6" cy="730.4" r="5.6"/><circle cx="206.3" cy="719.9" r="5.6"/><circle cx="173.5" cy="770.9" r="5.6"/><circle cx="273.2" cy="615.4" r="5.6"/><circle cx="274.5" cy="716.9" r="5.6"/><circle cx="209.9" cy="793.2" r="5.6"/><circle cx="178.4" cy="720.7" r="5.6"/><circle cx="177.9" cy="721.9" r="5.6"/><circle cx="177.5" cy="864.5" r="5.6"/><circle cx="241.6" cy="775.2" r="5.6"/><circle cx="185.4" cy="859.4" r="5.6"/><circle cx="182.4" cy="768.4" r="5.6"/><circle cx="185.4" cy="858.4" r="5.6"/><circle cx="173.4" cy="773.6" r="5.6"/><circle cx="174.9" cy="704.5" r="5.6"/><circle cx="203.8" cy="759.2" r="5.6"/><circle cx="197.4" cy="744.7" r="5.6"/><circle cx="243.7" cy="671.6" r="5.6"/><circle cx="172.8" cy="809.3" r="5.6"/><circle cx="189.7" cy="783.8" r="5.6"/><circle cx="178.5" cy="863.9" r="5.6"/><circle cx="184.7" cy="830.4" r="5.6"/><circle cx="209.1" cy="796.6" r="5.6"/><circle cx="183.5" cy="701.1" r="5.6"/><circle cx="185.8" cy="862.2" r="5.6"/><circle cx="203.3" cy="737.2" r="5.6"/><circle cx="214.9" cy="764.8" r="5.6"/><circle cx="207.9" cy="651.8" r="5.6"/><circle cx="216.2" cy="798.7" r="5.6"/><circle cx="180.6" cy="718.1" r="5.6"/><circle cx="194.7" cy="734" r="5.6"/><circle cx="170.7" cy="855.9" r="5.6"/><circle cx="217.2" cy="800" r="5.6"/><circle cx="177.1" cy="863.4" r="5.6"/><circle cx="204" cy="758.3" r="5.6"/><circle cx="227.1" cy="628.1" r="5.6"/><circle cx="198.4" cy="755.9" r="5.6"/><circle cx="343.1" cy="688.7" r="5.6"/><circle cx="178.6" cy="852" r="5.6"/><circle cx="213.9" cy="662.9" r="5.6"/><circle cx="176.3" cy="786.8" r="5.6"/><circle cx="297" cy="629.4" r="5.6"/><circle cx="183" cy="813.9" r="5.6"/><circle cx="195" cy="744.3" r="5.6"/><circle cx="174.5" cy="790.4" r="5.6"/><circle cx="239" cy="743.5" r="5.6"/><circle cx="173.6" cy="839.4" r="5.6"/><circle cx="177.1" cy="716.6" r="5.6"/><circle cx="184.3" cy="743.9" r="5.6"/><circle cx="186.3" cy="704.1" r="5.6"/><circle cx="202.7" cy="790.6" r="5.6"/><circle cx="208.1" cy="784.7" r="5.6"/><circle cx="171.7" cy="729.1" r="5.6"/><circle cx="170.3" cy="787.6" r="5.6"/><circle cx="209.6" cy="724.2" r="5.6"/><circle cx="200.8" cy="804" r="5.6"/><circle cx="182.8" cy="703.5" r="5.6"/><circle cx="196.7" cy="767.9" r="5.6"/><circle cx="194.6" cy="836.8" r="5.6"/><circle cx="246.3" cy="683.4" r="5.6"/><circle cx="205.6" cy="803.4" r="5.6"/><circle cx="227.9" cy="670.3" r="5.6"/><circle cx="172.8" cy="742.5" r="5.6"/><circle cx="206.2" cy="758" r="5.6"/><circle cx="179.2" cy="834.6" r="5.6"/><circle cx="196" cy="755" r="5.6"/><circle cx="204" cy="802.8" r="5.6"/><circle cx="181" cy="730.1" r="5.6"/><circle cx="209.1" cy="726.2" r="5.6"/><circle cx="215.8" cy="777" r="5.6"/><circle cx="184.6" cy="795.2" r="5.6"/><circle cx="193.6" cy="676.8" r="5.6"/><circle cx="170.6" cy="758.4" r="5.6"/><circle cx="168.2" cy="750.9" r="5.6"/><circle cx="268" cy="725.6" r="5.6"/><circle cx="212.6" cy="642.6" r="5.6"/><circle cx="258.7" cy="751.4" r="5.6"/><circle cx="175.2" cy="725.6" r="5.6"/><circle cx="207.8" cy="785.2" r="5.6"/><circle cx="193.6" cy="846.8" r="5.6"/><circle cx="206.9" cy="797.1" r="5.6"/><circle cx="189.3" cy="793.2" r="5.6"/><circle cx="168.5" cy="739.1" r="5.6"/><circle cx="202.9" cy="813.5" r="5.6"/><circle cx="172.6" cy="859.5" r="5.6"/><circle cx="183" cy="816.3" r="5.6"/><circle cx="208.6" cy="776.1" r="5.6"/><circle cx="182.2" cy="810.6" r="5.6"/><circle cx="193.9" cy="792.4" r="5.6"/><circle cx="293.8" cy="658.4" r="5.6"/><circle cx="173.1" cy="607" r="5.6"/><circle cx="214.2" cy="803.1" r="5.6"/><circle cx="187.4" cy="839.7" r="5.6"/><circle cx="198.4" cy="820.8" r="5.6"/><circle cx="206" cy="800.6" r="5.6"/><circle cx="175.7" cy="622.8" r="5.6"/><circle cx="175.8" cy="844.7" r="5.6"/><circle cx="260.1" cy="711.1" r="5.6"/><circle cx="207.8" cy="806.2" r="5.6"/><circle cx="173.6" cy="771.1" r="5.6"/><circle cx="193.2" cy="716.7" r="5.6"/><circle cx="190.1" cy="761.1" r="5.6"/><circle cx="178.3" cy="697.9" r="5.6"/><circle cx="206" cy="636" r="5.6"/><circle cx="206.5" cy="703.8" r="5.6"/><circle cx="200.7" cy="628.1" r="5.6"/><circle cx="169.5" cy="755" r="5.6"/><circle cx="171.3" cy="712.7" r="5.6"/><circle cx="225.8" cy="730.3" r="5.6"/><circle cx="176.2" cy="876.6" r="5.6"/><circle cx="199.1" cy="816.3" r="5.6"/><circle cx="180.2" cy="752.4" r="5.6"/><circle cx="200.2" cy="815.3" r="5.6"/><circle cx="183.3" cy="744.4" r="5.6"/><circle cx="216.6" cy="768.8" r="5.6"/><circle cx="205.5" cy="787.4" r="5.6"/><circle cx="196.2" cy="720.8" r="5.6"/><circle cx="172.3" cy="762.8" r="5.6"/><circle cx="175.6" cy="782.2" r="5.6"/><circle cx="214.8" cy="772.8" r="5.6"/><circle cx="171.4" cy="780.6" r="5.6"/><circle cx="175.7" cy="814.9" r="5.6"/><circle cx="198.9" cy="655" r="5.6"/><circle cx="170.9" cy="766.7" r="5.6"/>
</g>
<g fill="#1f77b4" stroke="#fff" stroke-width="0.9">
<circle cx="691.6" cy="498.9" r="5.6"/><circle cx="718" cy="499.7" r="5.6"/><circle cx="645.4" cy="449.5" r="5.6"/><circle cx="688.6" cy="468.6" r="5.6"/><circle cx="716.6" cy="469.3" r="5.6"/><circle cx="679.6" cy="484.3" r="5.6"/><circle cx="704.2" cy="466.6" r="5.6"/><circle cx="677.6" cy="482.6" r="5.6"/><circle cx="758.2" cy="497.8" r="5.6"/><circle cx="821.5" cy="476.4" r="5.6"/><circle cx="741.4" cy="481.4" r="5.6"/><circle cx="703.1" cy="485.6" r="5.6"/><circle cx="670.4" cy="508.5" r="5.6"/><circle cx="645.7" cy="510" r="5.6"/><circle cx="699.9" cy="492.7" r="5.6"/><circle cx="650.7" cy="470.2" r="5.6"/><circle cx="669.5" cy="502.6" r="5.6"/><circle cx="695.6" cy="502.8" r="5.6"/><circle cx="727.2" cy="473.5" r="5.6"/><circle cx="609.9" cy="513.6" r="5.6"/><circle cx="812" cy="495.4" r="5.6"/><circle cx="680.8" cy="497.7" r="5.6"/><circle cx="671.2" cy="513.6" r="5.6"/><circle cx="751.4" cy="436.9" r="5.6"/><circle cx="715.7" cy="499.6" r="5.6"/><circle cx="657.6" cy="485.8" r="5.6"/><circle cx="721.4" cy="497.8" r="5.6"/><circle cx="675.9" cy="461.7" r="5.6"/><circle cx="740.8" cy="452.2" r="5.6"/><circle cx="669.2" cy="483.8" r="5.6"/><circle cx="778.8" cy="458.2" r="5.6"/><circle cx="689.1" cy="461.4" r="5.6"/><circle cx="661.2" cy="486.3" r="5.6"/><circle cx="683.7" cy="500.3" r="5.6"/><circle cx="742.7" cy="497.4" r="5.6"/><circle cx="732.8" cy="499.6" r="5.6"/><circle cx="762.4" cy="446.4" r="5.6"/><circle cx="709.4" cy="460" r="5.6"/><circle cx="789.9" cy="484.6" r="5.6"/><circle cx="695" cy="509.6" r="5.6"/><circle cx="741.5" cy="482.8" r="5.6"/><circle cx="660.2" cy="471.1" r="5.6"/><circle cx="618.8" cy="506.3" r="5.6"/><circle cx="687.1" cy="507.4" r="5.6"/><circle cx="692.1" cy="496.4" r="5.6"/><circle cx="722.2" cy="491.1" r="5.6"/><circle cx="693.7" cy="499.5" r="5.6"/><circle cx="723.2" cy="499.4" r="5.6"/><circle cx="663.8" cy="474.4" r="5.6"/><circle cx="680.7" cy="486.9" r="5.6"/><circle cx="755.8" cy="486.2" r="5.6"/><circle cx="847.8" cy="480.1" r="5.6"/><circle cx="689.7" cy="490.8" r="5.6"/><circle cx="632.3" cy="509.7" r="5.6"/><circle cx="655.5" cy="482.9" r="5.6"/><circle cx="680.6" cy="470.9" r="5.6"/><circle cx="707.8" cy="505.7" r="5.6"/><circle cx="685.2" cy="509.4" r="5.6"/><circle cx="742.8" cy="491.2" r="5.6"/><circle cx="686.3" cy="485.5" r="5.6"/><circle cx="699.8" cy="488.1" r="5.6"/><circle cx="626.4" cy="488" r="5.6"/><circle cx="673.6" cy="470.8" r="5.6"/><circle cx="688.8" cy="508.5" r="5.6"/><circle cx="638.2" cy="493.3" r="5.6"/><circle cx="833.1" cy="489.8" r="5.6"/><circle cx="650.8" cy="472.4" r="5.6"/><circle cx="667.3" cy="476.1" r="5.6"/><circle cx="660.9" cy="498.8" r="5.6"/><circle cx="746.4" cy="491.9" r="5.6"/><circle cx="717.5" cy="472.7" r="5.6"/><circle cx="722.8" cy="483.5" r="5.6"/><circle cx="711.9" cy="475.7" r="5.6"/><circle cx="723.8" cy="503.9" r="5.6"/><circle cx="702.7" cy="503.2" r="5.6"/><circle cx="629.9" cy="488.5" r="5.6"/><circle cx="622.1" cy="492" r="5.6"/><circle cx="614.3" cy="509.4" r="5.6"/><circle cx="598.8" cy="510.9" r="5.6"/><circle cx="722.7" cy="459.9" r="5.6"/><circle cx="704.7" cy="492.1" r="5.6"/><circle cx="716.4" cy="474.7" r="5.6"/><circle cx="740.3" cy="493.4" r="5.6"/><circle cx="669" cy="474.9" r="5.6"/><circle cx="752.1" cy="481.3" r="5.6"/><circle cx="698.9" cy="485.8" r="5.6"/><circle cx="736.2" cy="493.5" r="5.6"/><circle cx="680.8" cy="494.8" r="5.6"/><circle cx="671.2" cy="513.1" r="5.6"/><circle cx="724.6" cy="470.3" r="5.6"/><circle cx="704.7" cy="510.1" r="5.6"/><circle cx="663.1" cy="475.2" r="5.6"/><circle cx="735.1" cy="498.5" r="5.6"/><circle cx="734.2" cy="481.1" r="5.6"/><circle cx="674.7" cy="489" r="5.6"/><circle cx="726.6" cy="489.6" r="5.6"/><circle cx="737.5" cy="482.8" r="5.6"/><circle cx="686.4" cy="486.9" r="5.6"/><circle cx="702.8" cy="506.6" r="5.6"/><circle cx="673" cy="512.3" r="5.6"/><circle cx="714.8" cy="495.5" r="5.6"/><circle cx="696.1" cy="466.4" r="5.6"/><circle cx="737.5" cy="485.7" r="5.6"/><circle cx="620.7" cy="510" r="5.6"/><circle cx="680.5" cy="478.7" r="5.6"/><circle cx="722.6" cy="449.5" r="5.6"/><circle cx="703" cy="484.4" r="5.6"/><circle cx="685" cy="495" r="5.6"/><circle cx="753.5" cy="506.2" r="5.6"/><circle cx="680.6" cy="464.9" r="5.6"/><circle cx="676.8" cy="490.7" r="5.6"/><circle cx="684.4" cy="463.8" r="5.6"/><circle cx="793.8" cy="472.2" r="5.6"/><circle cx="673.8" cy="489.6" r="5.6"/><circle cx="636" cy="492.4" r="5.6"/><circle cx="678.7" cy="473.5" r="5.6"/><circle cx="621.5" cy="503.9" r="5.6"/><circle cx="725.5" cy="481.9" r="5.6"/><circle cx="725.1" cy="471.5" r="5.6"/><circle cx="707.1" cy="487.6" r="5.6"/><circle cx="818.8" cy="483.3" r="5.6"/><circle cx="687.3" cy="462.3" r="5.6"/><circle cx="692.3" cy="506" r="5.6"/><circle cx="613.3" cy="498.5" r="5.6"/><circle cx="704.7" cy="487.8" r="5.6"/><circle cx="700.3" cy="490.6" r="5.6"/><circle cx="667.5" cy="473.3" r="5.6"/><circle cx="738" cy="486.4" r="5.6"/><circle cx="730" cy="484.7" r="5.6"/><circle cx="662.1" cy="470.4" r="5.6"/><circle cx="757.7" cy="461.6" r="5.6"/><circle cx="758.6" cy="486" r="5.6"/><circle cx="673.3" cy="508.7" r="5.6"/><circle cx="626.9" cy="515.4" r="5.6"/><circle cx="622.5" cy="503.7" r="5.6"/><circle cx="614" cy="514.5" r="5.6"/><circle cx="620.9" cy="503.5" r="5.6"/><circle cx="666.3" cy="470.7" r="5.6"/><circle cx="755.6" cy="480.8" r="5.6"/><circle cx="785.9" cy="468.8" r="5.6"/><circle cx="664.9" cy="479.9" r="5.6"/><circle cx="765.6" cy="472.7" r="5.6"/><circle cx="715.8" cy="470" r="5.6"/><circle cx="668.8" cy="492.7" r="5.6"/><circle cx="724" cy="513.6" r="5.6"/><circle cx="660.7" cy="467.4" r="5.6"/><circle cx="648.5" cy="513.5" r="5.6"/><circle cx="739.8" cy="510.9" r="5.6"/><circle cx="753.9" cy="486.7" r="5.6"/><circle cx="601.8" cy="506.3" r="5.6"/><circle cx="623.2" cy="502.8" r="5.6"/><circle cx="620.1" cy="493.3" r="5.6"/><circle cx="602.7" cy="508.3" r="5.6"/><circle cx="675.2" cy="460.9" r="5.6"/><circle cx="740.3" cy="438.5" r="5.6"/><circle cx="682.2" cy="484.4" r="5.6"/><circle cx="648.8" cy="487.8" r="5.6"/><circle cx="610.8" cy="508.7" r="5.6"/><circle cx="723.5" cy="474.5" r="5.6"/><circle cx="633.3" cy="487.4" r="5.6"/><circle cx="739" cy="490.9" r="5.6"/><circle cx="686.4" cy="492.1" r="5.6"/><circle cx="718.7" cy="456.9" r="5.6"/><circle cx="639.3" cy="510.8" r="5.6"/><circle cx="704.8" cy="469.4" r="5.6"/><circle cx="772.7" cy="480.6" r="5.6"/><circle cx="752.1" cy="497.8" r="5.6"/><circle cx="694.2" cy="462.8" r="5.6"/><circle cx="668" cy="463.8" r="5.6"/><circle cx="670.3" cy="470.6" r="5.6"/><circle cx="727.7" cy="480" r="5.6"/><circle cx="636.5" cy="487.6" r="5.6"/><circle cx="653.4" cy="484.8" r="5.6"/><circle cx="657.5" cy="494.1" r="5.6"/><circle cx="682.3" cy="495" r="5.6"/><circle cx="703.4" cy="446.4" r="5.6"/><circle cx="758.8" cy="482.8" r="5.6"/><circle cx="635" cy="499.7" r="5.6"/><circle cx="727.7" cy="494.1" r="5.6"/><circle cx="695.7" cy="473" r="5.6"/><circle cx="692.5" cy="487" r="5.6"/><circle cx="635.4" cy="482.6" r="5.6"/><circle cx="654.1" cy="497.9" r="5.6"/><circle cx="634.6" cy="512.1" r="5.6"/><circle cx="684.6" cy="504.3" r="5.6"/><circle cx="676" cy="478.6" r="5.6"/><circle cx="688.8" cy="471.4" r="5.6"/><circle cx="653" cy="512.3" r="5.6"/><circle cx="696.2" cy="480.7" r="5.6"/><circle cx="761.7" cy="480.9" r="5.6"/><circle cx="704.8" cy="488.9" r="5.6"/><circle cx="600.5" cy="513.4" r="5.6"/><circle cx="699.7" cy="467.2" r="5.6"/><circle cx="662.2" cy="476.6" r="5.6"/><circle cx="735.9" cy="494.9" r="5.6"/><circle cx="695.3" cy="484.2" r="5.6"/><circle cx="660.1" cy="477.1" r="5.6"/><circle cx="704.7" cy="488.1" r="5.6"/><circle cx="632.4" cy="484.6" r="5.6"/><circle cx="663.2" cy="471.1" r="5.6"/><circle cx="661.3" cy="483.5" r="5.6"/><circle cx="723.9" cy="484.4" r="5.6"/><circle cx="708.2" cy="463.1" r="5.6"/><circle cx="705.8" cy="500.2" r="5.6"/><circle cx="702" cy="472.9" r="5.6"/><circle cx="810.4" cy="477.5" r="5.6"/><circle cx="635.9" cy="507.9" r="5.6"/><circle cx="666.2" cy="469.3" r="5.6"/><circle cx="627" cy="513.7" r="5.6"/><circle cx="655.4" cy="517" r="5.6"/><circle cx="673.6" cy="471.5" r="5.6"/><circle cx="704.9" cy="463.9" r="5.6"/><circle cx="617.2" cy="514.2" r="5.6"/><circle cx="680.9" cy="476.9" r="5.6"/><circle cx="724.1" cy="493.9" r="5.6"/><circle cx="727.9" cy="469.1" r="5.6"/><circle cx="615.4" cy="503.4" r="5.6"/><circle cx="629.3" cy="487.6" r="5.6"/><circle cx="677" cy="501.6" r="5.6"/><circle cx="724.5" cy="508.7" r="5.6"/><circle cx="721.2" cy="471.5" r="5.6"/><circle cx="749.5" cy="474.8" r="5.6"/><circle cx="768.2" cy="493.8" r="5.6"/><circle cx="681" cy="475.2" r="5.6"/><circle cx="708.3" cy="479.8" r="5.6"/><circle cx="656.7" cy="506.7" r="5.6"/><circle cx="666.8" cy="487.6" r="5.6"/><circle cx="650.8" cy="489.1" r="5.6"/><circle cx="717.3" cy="463.6" r="5.6"/><circle cx="716.4" cy="506.8" r="5.6"/><circle cx="642.5" cy="476.9" r="5.6"/><circle cx="719.1" cy="487.2" r="5.6"/><circle cx="675.4" cy="469.1" r="5.6"/><circle cx="712.8" cy="475.7" r="5.6"/><circle cx="633.5" cy="485.5" r="5.6"/><circle cx="694.4" cy="509.2" r="5.6"/><circle cx="680.6" cy="467.1" r="5.6"/><circle cx="688.7" cy="475" r="5.6"/><circle cx="786.7" cy="495.4" r="5.6"/><circle cx="648.2" cy="492.2" r="5.6"/><circle cx="657.9" cy="487.7" r="5.6"/><circle cx="629.9" cy="510.3" r="5.6"/><circle cx="686.7" cy="468.6" r="5.6"/><circle cx="701" cy="465.1" r="5.6"/><circle cx="717.4" cy="486.5" r="5.6"/><circle cx="722.1" cy="506.8" r="5.6"/><circle cx="689.7" cy="459.5" r="5.6"/><circle cx="682.7" cy="500.4" r="5.6"/><circle cx="751.8" cy="492.5" r="5.6"/><circle cx="624.6" cy="505.3" r="5.6"/><circle cx="644.9" cy="475.4" r="5.6"/><circle cx="720.3" cy="495.4" r="5.6"/><circle cx="747.1" cy="490" r="5.6"/><circle cx="709.8" cy="473.7" r="5.6"/><circle cx="704.3" cy="481" r="5.6"/><circle cx="636.8" cy="513.1" r="5.6"/><circle cx="745.3" cy="483.1" r="5.6"/><circle cx="655.2" cy="512" r="5.6"/><circle cx="729.2" cy="462.2" r="5.6"/><circle cx="761.1" cy="484.3" r="5.6"/><circle cx="669.1" cy="498.4" r="5.6"/><circle cx="711.8" cy="506.7" r="5.6"/><circle cx="730.4" cy="489.6" r="5.6"/><circle cx="694.8" cy="508.8" r="5.6"/><circle cx="712.5" cy="468.4" r="5.6"/><circle cx="654.4" cy="487.1" r="5.6"/><circle cx="705.4" cy="475.3" r="5.6"/><circle cx="682.3" cy="500.3" r="5.6"/><circle cx="832.6" cy="478" r="5.6"/><circle cx="630.4" cy="503.6" r="5.6"/>
</g>
<g fill="#1f77b4" stroke="#fff" stroke-width="0.9">
<circle cx="702.3" cy="708.5" r="5.6"/><circle cx="654.3" cy="777.5" r="5.6"/><circle cx="666" cy="793.9" r="5.6"/><circle cx="631.5" cy="811" r="5.6"/><circle cx="633.3" cy="825.5" r="5.6"/><circle cx="651.7" cy="759.1" r="5.6"/><circle cx="775.4" cy="630.2" r="5.6"/><circle cx="699.7" cy="775.2" r="5.6"/><circle cx="698.9" cy="686.1" r="5.6"/><circle cx="671.2" cy="709.3" r="5.6"/><circle cx="648.3" cy="839.2" r="5.6"/><circle cx="645.1" cy="782.8" r="5.6"/><circle cx="630.5" cy="853.9" r="5.6"/><circle cx="635.4" cy="729.1" r="5.6"/><circle cx="635.2" cy="713.9" r="5.6"/><circle cx="618.8" cy="800.3" r="5.6"/><circle cx="657.6" cy="799.6" r="5.6"/><circle cx="640.2" cy="795.4" r="5.6"/><circle cx="649.5" cy="818.3" r="5.6"/><circle cx="645.9" cy="713.9" r="5.6"/><circle cx="618.6" cy="796.4" r="5.6"/><circle cx="620.5" cy="727" r="5.6"/><circle cx="628.1" cy="852.2" r="5.6"/><circle cx="624.1" cy="795.7" r="5.6"/><circle cx="674.5" cy="760" r="5.6"/><circle cx="644.4" cy="731.5" r="5.6"/><circle cx="619.2" cy="823.8" r="5.6"/><circle cx="643.7" cy="737.9" r="5.6"/><circle cx="665.1" cy="741.5" r="5.6"/><circle cx="623.4" cy="829.5" r="5.6"/><circle cx="646.7" cy="726" r="5.6"/><circle cx="621.3" cy="768.6" r="5.6"/><circle cx="643.6" cy="635.5" r="5.6"/><circle cx="672.8" cy="794.3" r="5.6"/><circle cx="658.6" cy="788.3" r="5.6"/><circle cx="652.4" cy="731.6" r="5.6"/><circle cx="632.3" cy="709.3" r="5.6"/><circle cx="645" cy="825.3" r="5.6"/><circle cx="643.5" cy="756.6" r="5.6"/><circle cx="629.9" cy="774.5" r="5.6"/><circle cx="728.7" cy="740.9" r="5.6"/><circle cx="663.9" cy="731.3" r="5.6"/><circle cx="632.9" cy="832.4" r="5.6"/><circle cx="757.7" cy="697.1" r="5.6"/><circle cx="671.5" cy="773.2" r="5.6"/><circle cx="760.3" cy="703.2" r="5.6"/><circle cx="642.2" cy="785.4" r="5.6"/><circle cx="712.9" cy="733" r="5.6"/><circle cx="651.1" cy="782.6" r="5.6"/><circle cx="699.7" cy="675.5" r="5.6"/><circle cx="627.8" cy="632.8" r="5.6"/><circle cx="646.1" cy="843.8" r="5.6"/><circle cx="671.8" cy="773.6" r="5.6"/><circle cx="628.9" cy="731" r="5.6"/><circle cx="677.8" cy="733" r="5.6"/><circle cx="663.2" cy="732.3" r="5.6"/><circle cx="678.1" cy="774.7" r="5.6"/><circle cx="650.2" cy="814.5" r="5.6"/><circle cx="626.5" cy="788.4" r="5.6"/><circle cx="619.8" cy="610.9" r="5.6"/><circle cx="635.8" cy="736.8" r="5.6"/><circle cx="666.3" cy="733" r="5.6"/><circle cx="625.2" cy="851.9" r="5.6"/><circle cx="632.8" cy="834.1" r="5.6"/><circle cx="625.1" cy="736" r="5.6"/><circle cx="671.2" cy="664.5" r="5.6"/><circle cx="669.1" cy="745.1" r="5.6"/><circle cx="662.4" cy="794" r="5.6"/><circle cx="642.7" cy="754.3" r="5.6"/><circle cx="627.9" cy="726.7" r="5.6"/><circle cx="664.9" cy="809.7" r="5.6"/><circle cx="621.4" cy="831.6" r="5.6"/><circle cx="649.6" cy="746.7" r="5.6"/><circle cx="650.3" cy="771.3" r="5.6"/><circle cx="710.8" cy="724.3" r="5.6"/><circle cx="648.2" cy="726.4" r="5.6"/><circle cx="663" cy="753" r="5.6"/><circle cx="627.3" cy="819.9" r="5.6"/><circle cx="650.3" cy="750.7" r="5.6"/><circle cx="664" cy="810.7" r="5.6"/><circle cx="760.9" cy="664.5" r="5.6"/><circle cx="655.2" cy="805.6" r="5.6"/><circle cx="620.3" cy="727.9" r="5.6"/><circle cx="653" cy="797" r="5.6"/><circle cx="631.9" cy="810.6" r="5.6"/><circle cx="643.6" cy="677.6" r="5.6"/><circle cx="641" cy="842.6" r="5.6"/><circle cx="649.2" cy="788.1" r="5.6"/><circle cx="648" cy="741.2" r="5.6"/><circle cx="778.8" cy="705" r="5.6"/><circle cx="665.1" cy="745.2" r="5.6"/><circle cx="635" cy="787.5" r="5.6"/><circle cx="627.7" cy="847.3" r="5.6"/><circle cx="619.4" cy="794.2" r="5.6"/><circle cx="647.7" cy="829.8" r="5.6"/><circle cx="653.8" cy="703.2" r="5.6"/><circle cx="645.8" cy="766.2" r="5.6"/><circle cx="737.7" cy="699.2" r="5.6"/><circle cx="675.5" cy="751.2" r="5.6"/><circle cx="642.3" cy="806.3" r="5.6"/><circle cx="637.2" cy="805" r="5.6"/><circle cx="622.7" cy="813.6" r="5.6"/><circle cx="628.3" cy="721" r="5.6"/><circle cx="684.9" cy="738.8" r="5.6"/><circle cx="643" cy="728.7" r="5.6"/><circle cx="631.2" cy="849.3" r="5.6"/><circle cx="621.1" cy="795.6" r="5.6"/><circle cx="652.8" cy="792" r="5.6"/><circle cx="644.3" cy="796.2" r="5.6"/><circle cx="639.7" cy="802.5" r="5.6"/><circle cx="640.7" cy="765.6" r="5.6"/><circle cx="720" cy="757.8" r="5.6"/><circle cx="631.5" cy="798.7" r="5.6"/><circle cx="666.5" cy="768.5" r="5.6"/><circle cx="625.8" cy="745.3" r="5.6"/><circle cx="628.7" cy="808.5" r="5.6"/><circle cx="721.3" cy="696.6" r="5.6"/><circle cx="636.1" cy="768.8" r="5.6"/><circle cx="633.8" cy="642.6" r="5.6"/><circle cx="654" cy="774.2" r="5.6"/><circle cx="650.6" cy="784.4" r="5.6"/><circle cx="666.4" cy="786.8" r="5.6"/><circle cx="702.9" cy="618.1" r="5.6"/><circle cx="644.3" cy="802.5" r="5.6"/><circle cx="645.4" cy="790" r="5.6"/><circle cx="667.8" cy="783.2" r="5.6"/><circle cx="666" cy="658.4" r="5.6"/><circle cx="640.7" cy="811.4" r="5.6"/><circle cx="676.6" cy="764.9" r="5.6"/><circle cx="653.9" cy="760.6" r="5.6"/><circle cx="641.2" cy="796.9" r="5.6"/><circle cx="655.5" cy="802.9" r="5.6"/><circle cx="619.8" cy="699.2" r="5.6"/><circle cx="637" cy="864.8" r="5.6"/><circle cx="635.4" cy="725.8" r="5.6"/><circle cx="645" cy="829.6" r="5.6"/><circle cx="662" cy="814.8" r="5.6"/><circle cx="640.1" cy="750.8" r="5.6"/><circle cx="621.4" cy="757.1" r="5.6"/><circle cx="679.7" cy="761.9" r="5.6"/><circle cx="649.7" cy="750.6" r="5.6"/><circle cx="618.1" cy="826.1" r="5.6"/><circle cx="734" cy="639.1" r="5.6"/><circle cx="668.9" cy="743.4" r="5.6"/><circle cx="639.8" cy="727.5" r="5.6"/><circle cx="635.9" cy="706.1" r="5.6"/><circle cx="668" cy="735.5" r="5.6"/><circle cx="658.1" cy="726" r="5.6"/><circle cx="653.4" cy="745.5" r="5.6"/><circle cx="629.3" cy="786.4" r="5.6"/><circle cx="619.4" cy="762.6" r="5.6"/><circle cx="652.1" cy="743.1" r="5.6"/><circle cx="672" cy="638.6" r="5.6"/><circle cx="633.4" cy="710.4" r="5.6"/><circle cx="629.6" cy="716.1" r="5.6"/><circle cx="647.5" cy="737.9" r="5.6"/><circle cx="624" cy="811.3" r="5.6"/><circle cx="670.7" cy="750.6" r="5.6"/><circle cx="707.6" cy="681.3" r="5.6"/><circle cx="618.7" cy="787.2" r="5.6"/><circle cx="632.6" cy="849.4" r="5.6"/><circle cx="617.8" cy="806.4" r="5.6"/><circle cx="650.5" cy="720.7" r="5.6"/><circle cx="652" cy="751" r="5.6"/><circle cx="660.2" cy="672.9" r="5.6"/><circle cx="622" cy="797.4" r="5.6"/><circle cx="647.6" cy="796.7" r="5.6"/><circle cx="654.2" cy="789.8" r="5.6"/><circle cx="636.8" cy="764.3" r="5.6"/><circle cx="667" cy="745.2" r="5.6"/><circle cx="655.7" cy="713.6" r="5.6"/><circle cx="627.9" cy="854.1" r="5.6"/><circle cx="643.6" cy="806.9" r="5.6"/><circle cx="638.1" cy="790.8" r="5.6"/><circle cx="654.5" cy="808.1" r="5.6"/><circle cx="629.6" cy="839.6" r="5.6"/><circle cx="631.2" cy="689.2" r="5.6"/><circle cx="666.5" cy="741" r="5.6"/><circle cx="629.5" cy="788.8" r="5.6"/><circle cx="639.4" cy="751.5" r="5.6"/><circle cx="661.3" cy="811.5" r="5.6"/><circle cx="642.9" cy="794.8" r="5.6"/><circle cx="653.4" cy="710.3" r="5.6"/><circle cx="693.6" cy="754.1" r="5.6"/><circle cx="674.6" cy="747.6" r="5.6"/><circle cx="654.3" cy="780.9" r="5.6"/><circle cx="648.6" cy="827.6" r="5.6"/><circle cx="624" cy="853.6" r="5.6"/><circle cx="663.2" cy="732.5" r="5.6"/><circle cx="621.8" cy="731.9" r="5.6"/><circle cx="626" cy="735.6" r="5.6"/><circle cx="657.1" cy="777.3" r="5.6"/><circle cx="635.4" cy="790.1" r="5.6"/><circle cx="662.8" cy="768.7" r="5.6"/><circle cx="623.7" cy="820.8" r="5.6"/><circle cx="627" cy="716.2" r="5.6"/><circle cx="675.2" cy="682.1" r="5.6"/><circle cx="656.7" cy="642.6" r="5.6"/><circle cx="673.4" cy="742.9" r="5.6"/><circle cx="655.2" cy="781" r="5.6"/><circle cx="653.5" cy="712.8" r="5.6"/><circle cx="658.7" cy="743" r="5.6"/><circle cx="620.7" cy="759.1" r="5.6"/><circle cx="635.3" cy="709.6" r="5.6"/><circle cx="646.3" cy="816.2" r="5.6"/><circle cx="620.3" cy="752.8" r="5.6"/><circle cx="712.1" cy="748" r="5.6"/><circle cx="631.2" cy="659.7" r="5.6"/><circle cx="633.8" cy="744.2" r="5.6"/><circle cx="627" cy="752.4" r="5.6"/><circle cx="665.6" cy="787.9" r="5.6"/><circle cx="664.5" cy="717.5" r="5.6"/><circle cx="670" cy="732.3" r="5.6"/><circle cx="625.2" cy="781" r="5.6"/><circle cx="671" cy="786.5" r="5.6"/><circle cx="633.5" cy="763.2" r="5.6"/><circle cx="653.7" cy="772.3" r="5.6"/><circle cx="624.9" cy="794.8" r="5.6"/><circle cx="681.8" cy="765.7" r="5.6"/><circle cx="636.5" cy="751.9" r="5.6"/><circle cx="710.3" cy="712.4" r="5.6"/><circle cx="645" cy="703" r="5.6"/><circle cx="665.6" cy="770.2" r="5.6"/><circle cx="624.3" cy="622.3" r="5.6"/><circle cx="741.1" cy="703.2" r="5.6"/><circle cx="698.9" cy="763" r="5.6"/><circle cx="628.7" cy="775.6" r="5.6"/><circle cx="665.5" cy="727.6" r="5.6"/><circle cx="623.4" cy="821" r="5.6"/><circle cx="655.4" cy="792.7" r="5.6"/><circle cx="653.3" cy="699.8" r="5.6"/><circle cx="619.8" cy="855.3" r="5.6"/><circle cx="622.7" cy="733.8" r="5.6"/><circle cx="635.2" cy="755" r="5.6"/><circle cx="653.8" cy="825.8" r="5.6"/><circle cx="642.7" cy="811.2" r="5.6"/><circle cx="657.9" cy="807.3" r="5.6"/><circle cx="636.5" cy="818.7" r="5.6"/><circle cx="641.6" cy="825.8" r="5.6"/><circle cx="640.9" cy="727.3" r="5.6"/><circle cx="654.4" cy="724.3" r="5.6"/><circle cx="655.1" cy="706.2" r="5.6"/><circle cx="660.5" cy="762" r="5.6"/><circle cx="666.9" cy="770.7" r="5.6"/><circle cx="662.5" cy="806.7" r="5.6"/><circle cx="634.3" cy="775.9" r="5.6"/><circle cx="624.8" cy="734.5" r="5.6"/><circle cx="671.3" cy="754.4" r="5.6"/><circle cx="622.6" cy="815.8" r="5.6"/><circle cx="657.3" cy="771.4" r="5.6"/><circle cx="639.7" cy="843" r="5.6"/><circle cx="662.9" cy="725.6" r="5.6"/><circle cx="672.3" cy="794.7" r="5.6"/><circle cx="637" cy="742.9" r="5.6"/><circle cx="666.7" cy="779.8" r="5.6"/><circle cx="630.6" cy="771.3" r="5.6"/><circle cx="659.5" cy="749.8" r="5.6"/><circle cx="629.7" cy="773.1" r="5.6"/><circle cx="656.5" cy="816.9" r="5.6"/><circle cx="691.8" cy="707.7" r="5.6"/><circle cx="646.9" cy="729.2" r="5.6"/><circle cx="668.8" cy="766.2" r="5.6"/><circle cx="665.8" cy="733" r="5.6"/><circle cx="864.2" cy="618.1" r="5.6"/><circle cx="630.4" cy="734.1" r="5.6"/><circle cx="628.4" cy="735.4" r="5.6"/><circle cx="641.2" cy="749.1" r="5.6"/><circle cx="639.3" cy="842.3" r="5.6"/><circle cx="639.4" cy="736.6" r="5.6"/><circle cx="619.9" cy="826" r="5.6"/><circle cx="653.8" cy="802" r="5.6"/><circle cx="653.8" cy="817.9" r="5.6"/><circle cx="641.6" cy="728.9" r="5.6"/><circle cx="648.4" cy="774" r="5.6"/><circle cx="636.4" cy="828.6" r="5.6"/><circle cx="643.3" cy="831.8" r="5.6"/><circle cx="669.5" cy="795.5" r="5.6"/><circle cx="656.9" cy="699.8" r="5.6"/><circle cx="658.4" cy="701.2" r="5.6"/><circle cx="655.7" cy="794.5" r="5.6"/><circle cx="644.2" cy="796.1" r="5.6"/><circle cx="663.2" cy="795.4" r="5.6"/><circle cx="684.9" cy="668.9" r="5.6"/><circle cx="654.7" cy="725.7" r="5.6"/><circle cx="648" cy="729.6" r="5.6"/><circle cx="646.2" cy="705.2" r="5.6"/><circle cx="639" cy="741.9" r="5.6"/><circle cx="713.4" cy="653.9" r="5.6"/><circle cx="635.4" cy="704.5" r="5.6"/><circle cx="668.4" cy="732.7" r="5.6"/><circle cx="619.8" cy="764.4" r="5.6"/><circle cx="652.9" cy="757.5" r="5.6"/><circle cx="624.8" cy="847.7" r="5.6"/><circle cx="660.7" cy="649.2" r="5.6"/><circle cx="642.9" cy="760.3" r="5.6"/><circle cx="668" cy="747.3" r="5.6"/><circle cx="657.3" cy="768.7" r="5.6"/><circle cx="647" cy="653.1" r="5.6"/><circle cx="637.5" cy="830.2" r="5.6"/><circle cx="645.3" cy="754.2" r="5.6"/><circle cx="622.5" cy="810.2" r="5.6"/><circle cx="621.2" cy="640.7" r="5.6"/><circle cx="659.5" cy="704.3" r="5.6"/><circle cx="657.5" cy="688.2" r="5.6"/><circle cx="634.7" cy="802.2" r="5.6"/><circle cx="650.6" cy="819.5" r="5.6"/><circle cx="632" cy="850.1" r="5.6"/><circle cx="648.7" cy="726.5" r="5.6"/><circle cx="642.7" cy="710.6" r="5.6"/><circle cx="676" cy="753.6" r="5.6"/><circle cx="678.3" cy="760.2" r="5.6"/><circle cx="637.6" cy="793.4" r="5.6"/><circle cx="662.6" cy="790.3" r="5.6"/><circle cx="625.7" cy="803.8" r="5.6"/><circle cx="839.9" cy="661" r="5.6"/><circle cx="638.1" cy="786.7" r="5.6"/><circle cx="620.3" cy="801.7" r="5.6"/><circle cx="660.3" cy="794.7" r="5.6"/><circle cx="637.1" cy="771.4" r="5.6"/><circle cx="632" cy="772.6" r="5.6"/><circle cx="622.4" cy="841.7" r="5.6"/><circle cx="639.2" cy="708.2" r="5.6"/><circle cx="677.6" cy="761.6" r="5.6"/><circle cx="628.2" cy="725.6" r="5.6"/><circle cx="675" cy="776.6" r="5.6"/><circle cx="656.1" cy="704.6" r="5.6"/><circle cx="675.5" cy="749.5" r="5.6"/><circle cx="664.1" cy="744.3" r="5.6"/><circle cx="669.4" cy="750.8" r="5.6"/><circle cx="621.3" cy="738.9" r="5.6"/><circle cx="652.3" cy="812.8" r="5.6"/><circle cx="642" cy="777.1" r="5.6"/><circle cx="622.1" cy="793.6" r="5.6"/><circle cx="619.4" cy="779.9" r="5.6"/><circle cx="640" cy="846.2" r="5.6"/><circle cx="620.9" cy="753.3" r="5.6"/><circle cx="652.1" cy="723.2" r="5.6"/><circle cx="642" cy="770.7" r="5.6"/><circle cx="809.6" cy="679.5" r="5.6"/><circle cx="658.8" cy="762.2" r="5.6"/><circle cx="660.9" cy="806.4" r="5.6"/><circle cx="625.3" cy="808.6" r="5.6"/><circle cx="637.4" cy="716.6" r="5.6"/><circle cx="639" cy="844.4" r="5.6"/><circle cx="651.6" cy="790.9" r="5.6"/><circle cx="645.7" cy="748.2" r="5.6"/><circle cx="667.4" cy="762.3" r="5.6"/><circle cx="642" cy="739.4" r="5.6"/><circle cx="627.2" cy="773" r="5.6"/><circle cx="625.1" cy="857.9" r="5.6"/><circle cx="627.3" cy="818.8" r="5.6"/><circle cx="631.3" cy="778.6" r="5.6"/><circle cx="625.8" cy="831.3" r="5.6"/><circle cx="637.5" cy="703.2" r="5.6"/><circle cx="655.5" cy="818.4" r="5.6"/>
</g>
<g fill="#1f77b4" stroke="#fff" stroke-width="0.9">
<circle cx="1173.3" cy="473.2" r="5.6"/><circle cx="1223.4" cy="475.4" r="5.6"/><circle cx="1197.1" cy="462.2" r="5.6"/><circle cx="1143.9" cy="498.7" r="5.6"/><circle cx="1077.6" cy="506.2" r="5.6"/><circle cx="1134.4" cy="492" r="5.6"/><circle cx="1095.6" cy="489.1" r="5.6"/><circle cx="1209" cy="512.3" r="5.6"/><circle cx="1149.3" cy="486.3" r="5.6"/><circle cx="1132.9" cy="495.5" r="5.6"/><circle cx="1165.8" cy="495.2" r="5.6"/><circle cx="1182.3" cy="501.3" r="5.6"/><circle cx="1214.2" cy="515.4" r="5.6"/><circle cx="1165.9" cy="500" r="5.6"/><circle cx="1133" cy="503.9" r="5.6"/><circle cx="1102" cy="515.3" r="5.6"/><circle cx="1150.1" cy="478.9" r="5.6"/><circle cx="1066.3" cy="511.6" r="5.6"/><circle cx="1200.4" cy="509.1" r="5.6"/><circle cx="1186.9" cy="491.5" r="5.6"/><circle cx="1118.4" cy="483.8" r="5.6"/><circle cx="1326.8" cy="468" r="5.6"/><circle cx="1178.6" cy="443.7" r="5.6"/><circle cx="1109.5" cy="491.6" r="5.6"/><circle cx="1143.4" cy="490.8" r="5.6"/><circle cx="1139.7" cy="510.1" r="5.6"/><circle cx="1139.5" cy="488.1" r="5.6"/><circle cx="1101.6" cy="492" r="5.6"/><circle cx="1110.8" cy="506.4" r="5.6"/><circle cx="1194.9" cy="487.8" r="5.6"/><circle cx="1102.1" cy="506.6" r="5.6"/><circle cx="1166.9" cy="474.1" r="5.6"/><circle cx="1158.2" cy="475.4" r="5.6"/><circle cx="1122.1" cy="489.9" r="5.6"/><circle cx="1186.4" cy="505.1" r="5.6"/><circle cx="1139.6" cy="505.1" r="5.6"/><circle cx="1203.8" cy="509.5" r="5.6"/><circle cx="1173.3" cy="490.6" r="5.6"/><circle cx="1106.5" cy="514.4" r="5.6"/><circle cx="1199.8" cy="487.2" r="5.6"/><circle cx="1101.9" cy="505.5" r="5.6"/><circle cx="1163.5" cy="485.3" r="5.6"/><circle cx="1166.1" cy="473.3" r="5.6"/><circle cx="1175.9" cy="482.6" r="5.6"/><circle cx="1148.4" cy="475.2" r="5.6"/><circle cx="1172" cy="501" r="5.6"/><circle cx="1244.5" cy="485.9" r="5.6"/><circle cx="1201.8" cy="482.7" r="5.6"/><circle cx="1252.4" cy="466.9" r="5.6"/><circle cx="1161.3" cy="477.1" r="5.6"/><circle cx="1187.5" cy="479.5" r="5.6"/><circle cx="1085.7" cy="497.3" r="5.6"/><circle cx="1185.2" cy="464.3" r="5.6"/><circle cx="1120.5" cy="497.8" r="5.6"/><circle cx="1286.7" cy="472.7" r="5.6"/><circle cx="1185.3" cy="479" r="5.6"/><circle cx="1180.8" cy="478.7" r="5.6"/><circle cx="1124.8" cy="484.6" r="5.6"/><circle cx="1098.7" cy="496.2" r="5.6"/><circle cx="1199.3" cy="506" r="5.6"/><circle cx="1102.5" cy="514.5" r="5.6"/><circle cx="1138.1" cy="500.4" r="5.6"/><circle cx="1124.2" cy="489.9" r="5.6"/><circle cx="1054.9" cy="517" r="5.6"/><circle cx="1119" cy="481" r="5.6"/><circle cx="1130.1" cy="490" r="5.6"/><circle cx="1132.9" cy="483" r="5.6"/><circle cx="1121.9" cy="509.8" r="5.6"/><circle cx="1095.7" cy="492.3" r="5.6"/><circle cx="1132.2" cy="503.8" r="5.6"/><circle cx="1180.8" cy="474.4" r="5.6"/><circle cx="1087.2" cy="509.4" r="5.6"/><circle cx="1135.9" cy="475" r="5.6"/><circle cx="1129.3" cy="484.3" r="5.6"/><circle cx="1094.3" cy="515.4" r="5.6"/><circle cx="1131.7" cy="485.1" r="5.6"/><circle cx="1128" cy="514.3" r="5.6"/><circle cx="1157.7" cy="494.9" r="5.6"/><circle cx="1252.4" cy="478.5" r="5.6"/><circle cx="1110.6" cy="516.1" r="5.6"/><circle cx="1183.6" cy="497.4" r="5.6"/><circle cx="1083.5" cy="509.1" r="5.6"/><circle cx="1150.2" cy="492.4" r="5.6"/><circle cx="1097" cy="504.8" r="5.6"/><circle cx="1124.7" cy="481.8" r="5.6"/><circle cx="1177.1" cy="482.6" r="5.6"/><circle cx="1127.1" cy="477.5" r="5.6"/><circle cx="1174.4" cy="472.8" r="5.6"/><circle cx="1161.3" cy="482.5" r="5.6"/><circle cx="1094.6" cy="496" r="5.6"/><circle cx="1205.6" cy="497.4" r="5.6"/><circle cx="1184.1" cy="485.6" r="5.6"/><circle cx="1088.2" cy="514.4" r="5.6"/><circle cx="1157.5" cy="482.6" r="5.6"/><circle cx="1085.4" cy="504.3" r="5.6"/><circle cx="1166.4" cy="494.5" r="5.6"/><circle cx="1193.7" cy="456.9" r="5.6"/><circle cx="1104.6" cy="517.5" r="5.6"/><circle cx="1123.6" cy="489.3" r="5.6"/><circle cx="1142" cy="492.4" r="5.6"/><circle cx="1191.6" cy="490" r="5.6"/><circle cx="1135" cy="481.2" r="5.6"/><circle cx="1116.7" cy="472.7" r="5.6"/><circle cx="1190.3" cy="485.9" r="5.6"/><circle cx="1100.5" cy="498.9" r="5.6"/><circle cx="1189.6" cy="480.1" r="5.6"/><circle cx="1101.7" cy="493.3" r="5.6"/><circle cx="1162.8" cy="476.5" r="5.6"/><circle cx="1154.9" cy="483.7" r="5.6"/><circle cx="1135" cy="501.4" r="5.6"/><circle cx="1112.8" cy="493.3" r="5.6"/><circle cx="1111.9" cy="488.6" r="5.6"/><circle cx="1108" cy="496.4" r="5.6"/><circle cx="1105.2" cy="514" r="5.6"/><circle cx="1148.9" cy="495.8" r="5.6"/><circle cx="1149.6" cy="472.7" r="5.6"/><circle cx="1083.9" cy="501.8" r="5.6"/><circle cx="1077.2" cy="507" r="5.6"/><circle cx="1166.5" cy="476.7" r="5.6"/><circle cx="1073.5" cy="507.7" r="5.6"/><circle cx="1167.3" cy="464.3" r="5.6"/><circle cx="1114.8" cy="505" r="5.6"/><circle cx="1272.7" cy="472.2" r="5.6"/><circle cx="1163.8" cy="504.2" r="5.6"/><circle cx="1067" cy="516.5" r="5.6"/><circle cx="1206.9" cy="513.3" r="5.6"/><circle cx="1065.7" cy="508.2" r="5.6"/><circle cx="1115.9" cy="506.8" r="5.6"/><circle cx="1136" cy="493.1" r="5.6"/><circle cx="1167.8" cy="489.4" r="5.6"/><circle cx="1230" cy="459.5" r="5.6"/><circle cx="1175.3" cy="493.5" r="5.6"/><circle cx="1133.4" cy="503.9" r="5.6"/><circle cx="1102.4" cy="509.6" r="5.6"/><circle cx="1109.3" cy="490.1" r="5.6"/><circle cx="1308.6" cy="464.3" r="5.6"/><circle cx="1173.1" cy="493.2" r="5.6"/><circle cx="1125.2" cy="503.5" r="5.6"/><circle cx="1057.4" cy="512.3" r="5.6"/><circle cx="1161.5" cy="486.2" r="5.6"/><circle cx="1177.4" cy="480.4" r="5.6"/><circle cx="1125.8" cy="494.3" r="5.6"/><circle cx="1210" cy="511" r="5.6"/><circle cx="1156.5" cy="500.6" r="5.6"/><circle cx="1133.2" cy="490.4" r="5.6"/><circle cx="1174.5" cy="501.1" r="5.6"/><circle cx="1086" cy="499.1" r="5.6"/><circle cx="1237.4" cy="468.8" r="5.6"/><circle cx="1134.7" cy="508.1" r="5.6"/><circle cx="1224.8" cy="459" r="5.6"/><circle cx="1104.6" cy="514.9" r="5.6"/><circle cx="1145.5" cy="503.9" r="5.6"/><circle cx="1184.9" cy="508.4" r="5.6"/><circle cx="1183.9" cy="505.7" r="5.6"/><circle cx="1161.5" cy="465.3" r="5.6"/><circle cx="1150.9" cy="476.4" r="5.6"/><circle cx="1145.7" cy="490" r="5.6"/><circle cx="1132.9" cy="508.7" r="5.6"/><circle cx="1148.7" cy="493" r="5.6"/><circle cx="1117.4" cy="515.1" r="5.6"/><circle cx="1127.6" cy="502.6" r="5.6"/><circle cx="1201.8" cy="493.2" r="5.6"/><circle cx="1094.4" cy="513.1" r="5.6"/><circle cx="1119.7" cy="498.6" r="5.6"/><circle cx="1190.6" cy="486.3" r="5.6"/><circle cx="1186.1" cy="490" r="5.6"/><circle cx="1157.6" cy="474.6" r="5.6"/><circle cx="1111.5" cy="488.1" r="5.6"/><circle cx="1198.2" cy="492.4" r="5.6"/><circle cx="1108.8" cy="467.4" r="5.6"/><circle cx="1174.5" cy="509.4" r="5.6"/><circle cx="1149.6" cy="489.4" r="5.6"/><circle cx="1178" cy="507.4" r="5.6"/><circle cx="1053.4" cy="514.9" r="5.6"/><circle cx="1128.5" cy="492.4" r="5.6"/><circle cx="1192.1" cy="510.9" r="5.6"/><circle cx="1170.9" cy="484.9" r="5.6"/><circle cx="1125.5" cy="501.6" r="5.6"/><circle cx="1206.3" cy="489.1" r="5.6"/><circle cx="1113" cy="509.2" r="5.6"/><circle cx="1106.2" cy="499" r="5.6"/><circle cx="1224.2" cy="500.4" r="5.6"/><circle cx="1121.5" cy="490.4" r="5.6"/><circle cx="1098.4" cy="497.8" r="5.6"/><circle cx="1070.1" cy="508.1" r="5.6"/><circle cx="1195.7" cy="496.2" r="5.6"/><circle cx="1095.7" cy="497.1" r="5.6"/><circle cx="1126.9" cy="506.9" r="5.6"/><circle cx="1153.6" cy="502.8" r="5.6"/><circle cx="1182.4" cy="503.6" r="5.6"/><circle cx="1146" cy="501.6" r="5.6"/><circle cx="1151.4" cy="500.8" r="5.6"/><circle cx="1180.5" cy="479.1" r="5.6"/><circle cx="1285.9" cy="491.2" r="5.6"/><circle cx="1148.8" cy="508.6" r="5.6"/><circle cx="1100.1" cy="514.5" r="5.6"/><circle cx="1206.5" cy="501.2" r="5.6"/><circle cx="1136.6" cy="472.9" r="5.6"/><circle cx="1160" cy="509.3" r="5.6"/><circle cx="1183.8" cy="487.7" r="5.6"/><circle cx="1098.1" cy="507.6" r="5.6"/><circle cx="1173.2" cy="477.8" r="5.6"/><circle cx="1162.6" cy="496.3" r="5.6"/><circle cx="1083.6" cy="503.3" r="5.6"/><circle cx="1067.1" cy="515.5" r="5.6"/><circle cx="1077.3" cy="509.3" r="5.6"/><circle cx="1198.5" cy="504.6" r="5.6"/><circle cx="1186.8" cy="492.5" r="5.6"/><circle cx="1194.4" cy="504.1" r="5.6"/><circle cx="1108" cy="496.9" r="5.6"/><circle cx="1220" cy="489.8" r="5.6"/><circle cx="1140.1" cy="474.7" r="5.6"/><circle cx="1132.3" cy="476.6" r="5.6"/><circle cx="1179.7" cy="498.3" r="5.6"/><circle cx="1122.7" cy="486.6" r="5.6"/><circle cx="1179.3" cy="476" r="5.6"/><circle cx="1161.2" cy="484.6" r="5.6"/><circle cx="1169.1" cy="503.3" r="5.6"/><circle cx="1195.2" cy="497.2" r="5.6"/><circle cx="1169.4" cy="486.2" r="5.6"/><circle cx="1106.2" cy="504" r="5.6"/><circle cx="1089.9" cy="497.3" r="5.6"/><circle cx="1175.8" cy="502.4" r="5.6"/><circle cx="1207.9" cy="511.7" r="5.6"/><circle cx="1177.3" cy="491.7" r="5.6"/><circle cx="1163.8" cy="508.2" r="5.6"/><circle cx="1142.2" cy="478.5" r="5.6"/><circle cx="1106.8" cy="512.8" r="5.6"/><circle cx="1311.7" cy="489.1" r="5.6"/><circle cx="1151.7" cy="499.7" r="5.6"/><circle cx="1195.4" cy="495" r="5.6"/><circle cx="1166" cy="506.6" r="5.6"/><circle cx="1153.5" cy="476.9" r="5.6"/><circle cx="1155.5" cy="484.4" r="5.6"/><circle cx="1141.2" cy="497" r="5.6"/><circle cx="1191.2" cy="486.1" r="5.6"/><circle cx="1150.5" cy="506.1" r="5.6"/><circle cx="1255.1" cy="489.8" r="5.6"/><circle cx="1111.5" cy="484.1" r="5.6"/><circle cx="1161" cy="472.9" r="5.6"/><circle cx="1121.4" cy="492.6" r="5.6"/><circle cx="1149.8" cy="486.2" r="5.6"/><circle cx="1141.5" cy="477.6" r="5.6"/><circle cx="1186" cy="482" r="5.6"/><circle cx="1080.5" cy="506.2" r="5.6"/><circle cx="1206.4" cy="507.9" r="5.6"/><circle cx="1140.4" cy="496.2" r="5.6"/><circle cx="1155.2" cy="479.7" r="5.6"/><circle cx="1240.1" cy="501.7" r="5.6"/><circle cx="1076" cy="510.6" r="5.6"/><circle cx="1136.1" cy="506.6" r="5.6"/><circle cx="1129.4" cy="490.3" r="5.6"/><circle cx="1204.6" cy="504.4" r="5.6"/><circle cx="1204.4" cy="508.7" r="5.6"/><circle cx="1156.1" cy="483.3" r="5.6"/><circle cx="1181.2" cy="480.1" r="5.6"/><circle cx="1088.8" cy="506.2" r="5.6"/><circle cx="1103.3" cy="505.8" r="5.6"/><circle cx="1280.1" cy="480.6" r="5.6"/><circle cx="1178.8" cy="504.6" r="5.6"/><circle cx="1137" cy="509.4" r="5.6"/><circle cx="1197.6" cy="497.4" r="5.6"/><circle cx="1261.1" cy="477.5" r="5.6"/><circle cx="1108.3" cy="513.1" r="5.6"/><circle cx="1216.9" cy="468.8" r="5.6"/><circle cx="1168.3" cy="475.1" r="5.6"/><circle cx="1141.6" cy="500.5" r="5.6"/><circle cx="1076.3" cy="513.1" r="5.6"/>
</g>
<g fill="#1f77b4" stroke="#fff" stroke-width="0.9">
<circle cx="1090.4" cy="760.3" r="5.6"/><circle cx="1110.8" cy="735.6" r="5.6"/><circle cx="1117.3" cy="716" r="5.6"/><circle cx="1130.2" cy="749.1" r="5.6"/><circle cx="1087.8" cy="686.4" r="5.6"/><circle cx="1093.2" cy="662.4" r="5.6"/><circle cx="1227.9" cy="667.1" r="5.6"/><circle cx="1155.7" cy="683.6" r="5.6"/><circle cx="1129.4" cy="722.4" r="5.6"/><circle cx="1176.4" cy="687.7" r="5.6"/><circle cx="1156.3" cy="670.5" r="5.6"/><circle cx="1110.7" cy="729" r="5.6"/><circle cx="1160.1" cy="740.6" r="5.6"/><circle cx="1092.1" cy="710.9" r="5.6"/><circle cx="1098.3" cy="702.7" r="5.6"/><circle cx="1121.4" cy="806.8" r="5.6"/><circle cx="1098.9" cy="664.6" r="5.6"/><circle cx="1120" cy="683.2" r="5.6"/><circle cx="1154.6" cy="723.6" r="5.6"/><circle cx="1161.4" cy="709.3" r="5.6"/><circle cx="1084.8" cy="704.1" r="5.6"/><circle cx="1088.4" cy="697.8" r="5.6"/><circle cx="1136.6" cy="729.6" r="5.6"/><circle cx="1124.9" cy="718.3" r="5.6"/><circle cx="1121.8" cy="750" r="5.6"/><circle cx="1103.3" cy="686" r="5.6"/><circle cx="1154.1" cy="682.4" r="5.6"/><circle cx="1137.1" cy="720.5" r="5.6"/><circle cx="1116.5" cy="719.1" r="5.6"/><circle cx="1132" cy="649.2" r="5.6"/><circle cx="1116.7" cy="732.1" r="5.6"/><circle cx="1132" cy="740.5" r="5.6"/><circle cx="1085.1" cy="643.9" r="5.6"/><circle cx="1084.5" cy="720.2" r="5.6"/><circle cx="1076.1" cy="744.4" r="5.6"/><circle cx="1192.6" cy="712.4" r="5.6"/><circle cx="1155.9" cy="729.6" r="5.6"/><circle cx="1093.8" cy="712.9" r="5.6"/><circle cx="1079.7" cy="679.5" r="5.6"/><circle cx="1103.9" cy="799.3" r="5.6"/><circle cx="1093.9" cy="668.6" r="5.6"/><circle cx="1137.1" cy="700.6" r="5.6"/><circle cx="1075.4" cy="717.2" r="5.6"/><circle cx="1131.2" cy="745.7" r="5.6"/><circle cx="1230" cy="670.8" r="5.6"/><circle cx="1282.8" cy="655.8" r="5.6"/><circle cx="1096.9" cy="831.6" r="5.6"/><circle cx="1128.6" cy="691.4" r="5.6"/><circle cx="1189.2" cy="667.6" r="5.6"/><circle cx="1154.1" cy="708.3" r="5.6"/><circle cx="1105.3" cy="793.9" r="5.6"/><circle cx="1087.2" cy="841.6" r="5.6"/><circle cx="1137.4" cy="691.3" r="5.6"/><circle cx="1163.6" cy="664.5" r="5.6"/><circle cx="1130.3" cy="722.5" r="5.6"/><circle cx="1084.2" cy="660.5" r="5.6"/><circle cx="1113.4" cy="678.7" r="5.6"/><circle cx="1146.6" cy="748" r="5.6"/><circle cx="1070.1" cy="794.2" r="5.6"/><circle cx="1091" cy="686.4" r="5.6"/><circle cx="1102.2" cy="760" r="5.6"/><circle cx="1235.8" cy="624.9" r="5.6"/><circle cx="1172.5" cy="712.3" r="5.6"/><circle cx="1149.6" cy="625.4" r="5.6"/><circle cx="1158.2" cy="750.9" r="5.6"/><circle cx="1109.7" cy="767.6" r="5.6"/><circle cx="1163.9" cy="690.3" r="5.6"/><circle cx="1132.4" cy="671.9" r="5.6"/><circle cx="1136.7" cy="748.4" r="5.6"/><circle cx="1088.5" cy="748.4" r="5.6"/><circle cx="1133.5" cy="742.7" r="5.6"/><circle cx="1083.6" cy="665.3" r="5.6"/><circle cx="1085" cy="795.6" r="5.6"/><circle cx="1149.3" cy="687.6" r="5.6"/><circle cx="1176.9" cy="690" r="5.6"/><circle cx="1151.1" cy="717.6" r="5.6"/><circle cx="1113.5" cy="726.7" r="5.6"/><circle cx="1125.7" cy="721.4" r="5.6"/><circle cx="1113.8" cy="804.1" r="5.6"/><circle cx="1080.3" cy="717.3" r="5.6"/><circle cx="1109.7" cy="790.6" r="5.6"/><circle cx="1148.4" cy="708.6" r="5.6"/><circle cx="1107.5" cy="814.7" r="5.6"/><circle cx="1075.1" cy="694" r="5.6"/><circle cx="1094.4" cy="787.5" r="5.6"/><circle cx="1071.9" cy="633.9" r="5.6"/><circle cx="1121.9" cy="674.8" r="5.6"/><circle cx="1170.7" cy="682.1" r="5.6"/><circle cx="1155.2" cy="686.3" r="5.6"/><circle cx="1099.5" cy="708.1" r="5.6"/><circle cx="1111.2" cy="670" r="5.6"/><circle cx="1180" cy="682.1" r="5.6"/><circle cx="1163.4" cy="685.2" r="5.6"/><circle cx="1069.8" cy="841.6" r="5.6"/><circle cx="1167.3" cy="724.9" r="5.6"/><circle cx="1113.6" cy="668.9" r="5.6"/><circle cx="1107.5" cy="824.4" r="5.6"/><circle cx="1165.4" cy="678.5" r="5.6"/><circle cx="1163.1" cy="750.6" r="5.6"/><circle cx="1097.3" cy="769.9" r="5.6"/><circle cx="1110.5" cy="721.9" r="5.6"/><circle cx="1141.5" cy="668.8" r="5.6"/><circle cx="1145.1" cy="749.4" r="5.6"/><circle cx="1142.2" cy="710" r="5.6"/><circle cx="1170" cy="682.8" r="5.6"/><circle cx="1092.4" cy="778.2" r="5.6"/><circle cx="1105.4" cy="744.5" r="5.6"/><circle cx="1071.8" cy="704" r="5.6"/><circle cx="1128.5" cy="772.8" r="5.6"/><circle cx="1150.8" cy="712.3" r="5.6"/><circle cx="1174.6" cy="705.5" r="5.6"/><circle cx="1095.8" cy="773.1" r="5.6"/><circle cx="1097.3" cy="780.1" r="5.6"/><circle cx="1168" cy="730.9" r="5.6"/><circle cx="1080.8" cy="733.8" r="5.6"/><circle cx="1117.6" cy="675.6" r="5.6"/><circle cx="1077.6" cy="681.3" r="5.6"/><circle cx="1143" cy="728.6" r="5.6"/><circle cx="1109.3" cy="814.3" r="5.6"/><circle cx="1071" cy="761" r="5.6"/><circle cx="1139.8" cy="738" r="5.6"/><circle cx="1106.8" cy="715.7" r="5.6"/><circle cx="1072.6" cy="800.9" r="5.6"/><circle cx="1117.5" cy="795.3" r="5.6"/><circle cx="1101.9" cy="770.7" r="5.6"/><circle cx="1105.2" cy="809.3" r="5.6"/><circle cx="1105.9" cy="744.9" r="5.6"/><circle cx="1143" cy="665.9" r="5.6"/><circle cx="1078.5" cy="650.5" r="5.6"/><circle cx="1180.5" cy="650.5" r="5.6"/><circle cx="1088.6" cy="771.5" r="5.6"/><circle cx="1098.1" cy="692" r="5.6"/><circle cx="1086.9" cy="733.3" r="5.6"/><circle cx="1135.4" cy="674.5" r="5.6"/><circle cx="1116" cy="741.9" r="5.6"/><circle cx="1093.8" cy="766.6" r="5.6"/><circle cx="1122.6" cy="709.4" r="5.6"/><circle cx="1063.5" cy="617" r="5.6"/><circle cx="1180.9" cy="696.2" r="5.6"/><circle cx="1112.6" cy="745" r="5.6"/><circle cx="1142.1" cy="685.7" r="5.6"/><circle cx="1158" cy="750.6" r="5.6"/><circle cx="1096.2" cy="772.7" r="5.6"/><circle cx="1110.1" cy="775.5" r="5.6"/><circle cx="1093.7" cy="810.9" r="5.6"/><circle cx="1069.8" cy="852.6" r="5.6"/><circle cx="1157.3" cy="754.5" r="5.6"/><circle cx="1087.3" cy="733.2" r="5.6"/><circle cx="1139.7" cy="735.3" r="5.6"/><circle cx="1111.2" cy="753.7" r="5.6"/><circle cx="1073.1" cy="699.8" r="5.6"/><circle cx="1129" cy="671.3" r="5.6"/><circle cx="1127.1" cy="686.1" r="5.6"/><circle cx="1135.9" cy="710.1" r="5.6"/><circle cx="1149.6" cy="725.5" r="5.6"/><circle cx="1124.9" cy="784.6" r="5.6"/><circle cx="1086.1" cy="810.6" r="5.6"/><circle cx="1169.9" cy="679.4" r="5.6"/><circle cx="1146.3" cy="680.8" r="5.6"/><circle cx="1173.3" cy="724.4" r="5.6"/><circle cx="1186.5" cy="754.6" r="5.6"/><circle cx="1137.9" cy="671.6" r="5.6"/><circle cx="1084.6" cy="720.9" r="5.6"/><circle cx="1112.5" cy="734.3" r="5.6"/><circle cx="1129.5" cy="708.9" r="5.6"/><circle cx="1070" cy="802.4" r="5.6"/><circle cx="1177.9" cy="703" r="5.6"/><circle cx="1091.4" cy="671.7" r="5.6"/><circle cx="1106.8" cy="786.3" r="5.6"/><circle cx="1083" cy="750.8" r="5.6"/><circle cx="1152" cy="727.9" r="5.6"/><circle cx="1150.4" cy="742.1" r="5.6"/><circle cx="1112.6" cy="697.7" r="5.6"/><circle cx="1261.7" cy="684" r="5.6"/><circle cx="1110.9" cy="666.3" r="5.6"/><circle cx="1155.3" cy="697.4" r="5.6"/><circle cx="1136.5" cy="749.2" r="5.6"/><circle cx="1072.3" cy="798.8" r="5.6"/><circle cx="1199.7" cy="679.5" r="5.6"/><circle cx="1116.2" cy="757.5" r="5.6"/><circle cx="1170" cy="727.2" r="5.6"/><circle cx="1073.1" cy="722" r="5.6"/><circle cx="1314.4" cy="627.6" r="5.6"/><circle cx="1152.8" cy="693.4" r="5.6"/><circle cx="1073" cy="764.8" r="5.6"/><circle cx="1075.3" cy="782.3" r="5.6"/><circle cx="1172.2" cy="684.4" r="5.6"/><circle cx="1144.7" cy="679.9" r="5.6"/><circle cx="1170.2" cy="685.9" r="5.6"/><circle cx="1107.6" cy="740.3" r="5.6"/><circle cx="1077.9" cy="734" r="5.6"/><circle cx="1118.5" cy="737" r="5.6"/><circle cx="1104.9" cy="723.4" r="5.6"/><circle cx="1135.9" cy="731" r="5.6"/><circle cx="1099.1" cy="670.7" r="5.6"/><circle cx="1105.8" cy="676.2" r="5.6"/><circle cx="1125" cy="749.8" r="5.6"/><circle cx="1122.2" cy="754.8" r="5.6"/><circle cx="1135.3" cy="701.9" r="5.6"/><circle cx="1071.9" cy="721" r="5.6"/><circle cx="1082.3" cy="766" r="5.6"/><circle cx="1135" cy="732" r="5.6"/><circle cx="1181.9" cy="709.1" r="5.6"/><circle cx="1234" cy="645.2" r="5.6"/><circle cx="1139.5" cy="741.1" r="5.6"/><circle cx="1103" cy="642.6" r="5.6"/><circle cx="1152.3" cy="677" r="5.6"/><circle cx="1079.6" cy="762.9" r="5.6"/><circle cx="1074.8" cy="810.8" r="5.6"/><circle cx="1101.8" cy="749.8" r="5.6"/><circle cx="1082.8" cy="794.6" r="5.6"/><circle cx="1103.4" cy="726.7" r="5.6"/><circle cx="1223.4" cy="698.7" r="5.6"/><circle cx="1116.3" cy="806" r="5.6"/><circle cx="1086" cy="702.1" r="5.6"/><circle cx="1111.2" cy="711.8" r="5.6"/><circle cx="1205.8" cy="675" r="5.6"/><circle cx="1070.4" cy="783.7" r="5.6"/><circle cx="1142.5" cy="681.4" r="5.6"/><circle cx="1151.9" cy="707.3" r="5.6"/><circle cx="1102.8" cy="683.2" r="5.6"/><circle cx="1149.8" cy="678.4" r="5.6"/><circle cx="1155.8" cy="748.3" r="5.6"/><circle cx="1317.5" cy="643.9" r="5.6"/><circle cx="1088.1" cy="687.7" r="5.6"/><circle cx="1145.3" cy="683.4" r="5.6"/><circle cx="1156.7" cy="745.5" r="5.6"/><circle cx="1087.9" cy="796.4" r="5.6"/><circle cx="1105.7" cy="669" r="5.6"/><circle cx="1159.7" cy="731.8" r="5.6"/><circle cx="1065.3" cy="709.8" r="5.6"/><circle cx="1071.2" cy="792.1" r="5.6"/><circle cx="1158" cy="731.4" r="5.6"/><circle cx="1083.9" cy="710.8" r="5.6"/><circle cx="1068.7" cy="628.1" r="5.6"/><circle cx="1112.4" cy="708.8" r="5.6"/><circle cx="1164" cy="698.6" r="5.6"/><circle cx="1144.5" cy="730.5" r="5.6"/><circle cx="1124.6" cy="758.2" r="5.6"/><circle cx="1129.5" cy="686.3" r="5.6"/><circle cx="1147.8" cy="688.7" r="5.6"/><circle cx="1131.9" cy="750" r="5.6"/><circle cx="1122" cy="646.5" r="5.6"/><circle cx="1075.8" cy="686.1" r="5.6"/><circle cx="1113.8" cy="790.3" r="5.6"/><circle cx="1170.4" cy="727.4" r="5.6"/><circle cx="1077" cy="750.9" r="5.6"/><circle cx="1127.1" cy="685.8" r="5.6"/><circle cx="1068.3" cy="794.5" r="5.6"/><circle cx="1122.4" cy="711.1" r="5.6"/><circle cx="1177.9" cy="643.4" r="5.6"/><circle cx="1085" cy="747.2" r="5.6"/><circle cx="1092.7" cy="789.4" r="5.6"/><circle cx="1112.8" cy="746.8" r="5.6"/><circle cx="1124.4" cy="677.3" r="5.6"/><circle cx="1167.9" cy="729.2" r="5.6"/><circle cx="1157" cy="681.7" r="5.6"/><circle cx="1244" cy="661.8" r="5.6"/><circle cx="1092.1" cy="732.5" r="5.6"/><circle cx="1114.6" cy="718.1" r="5.6"/><circle cx="1099.6" cy="746.6" r="5.6"/><circle cx="1120.3" cy="782" r="5.6"/><circle cx="1068.8" cy="721.8" r="5.6"/><circle cx="1146.2" cy="689.9" r="5.6"/><circle cx="1094" cy="718.9" r="5.6"/><circle cx="1151.1" cy="721.1" r="5.6"/><circle cx="1110.1" cy="779.1" r="5.6"/><circle cx="1145.8" cy="730.2" r="5.6"/>
</g>
<g fill="#1f77b4" stroke="#fff" stroke-width="0.9">
<circle cx="1540.7" cy="498.8" r="5.6"/><circle cx="1664.2" cy="491.9" r="5.6"/><circle cx="1535.9" cy="515.3" r="5.6"/><circle cx="1594.2" cy="511.2" r="5.6"/><circle cx="1543.9" cy="500.6" r="5.6"/><circle cx="1730.8" cy="480.6" r="5.6"/><circle cx="1548.4" cy="502.1" r="5.6"/><circle cx="1554.1" cy="509" r="5.6"/><circle cx="1564.3" cy="497.7" r="5.6"/><circle cx="1559" cy="483.3" r="5.6"/><circle cx="1717.7" cy="505.7" r="5.6"/><circle cx="1652" cy="505.3" r="5.6"/><circle cx="1675" cy="456.9" r="5.6"/><circle cx="1607.5" cy="494.6" r="5.6"/><circle cx="1549" cy="508.1" r="5.6"/><circle cx="1589.4" cy="496.6" r="5.6"/><circle cx="1540.9" cy="495.4" r="5.6"/><circle cx="1647" cy="484.9" r="5.6"/><circle cx="1570.4" cy="482.3" r="5.6"/><circle cx="1575.6" cy="503.4" r="5.6"/><circle cx="1555" cy="514.1" r="5.6"/><circle cx="1658.5" cy="487.6" r="5.6"/><circle cx="1618.8" cy="490.7" r="5.6"/><circle cx="1606" cy="493.4" r="5.6"/><circle cx="1581.9" cy="502.7" r="5.6"/><circle cx="1651.9" cy="484" r="5.6"/><circle cx="1637" cy="488.4" r="5.6"/><circle cx="1589.5" cy="482.6" r="5.6"/><circle cx="1622.4" cy="504.3" r="5.6"/><circle cx="1598.8" cy="484.3" r="5.6"/><circle cx="1612.3" cy="507.2" r="5.6"/><circle cx="1509.4" cy="514.9" r="5.6"/><circle cx="1778.3" cy="456.4" r="5.6"/><circle cx="1635.4" cy="502.7" r="5.6"/><circle cx="1582.7" cy="496.4" r="5.6"/><circle cx="1562.9" cy="501.5" r="5.6"/><circle cx="1594" cy="506.2" r="5.6"/><circle cx="1564" cy="510.8" r="5.6"/><circle cx="1559" cy="504.2" r="5.6"/><circle cx="1562.8" cy="501.5" r="5.6"/><circle cx="1551.4" cy="514.4" r="5.6"/><circle cx="1655.1" cy="492.2" r="5.6"/><circle cx="1596.5" cy="481.8" r="5.6"/><circle cx="1711.9" cy="495.1" r="5.6"/><circle cx="1673.4" cy="513.6" r="5.6"/><circle cx="1617.6" cy="504.5" r="5.6"/><circle cx="1523.1" cy="506.7" r="5.6"/><circle cx="1573.4" cy="484.7" r="5.6"/><circle cx="1540.1" cy="494.9" r="5.6"/><circle cx="1581.9" cy="490.8" r="5.6"/><circle cx="1665" cy="481.9" r="5.6"/><circle cx="1514" cy="516.6" r="5.6"/><circle cx="1577.5" cy="499" r="5.6"/><circle cx="1600.2" cy="496.6" r="5.6"/><circle cx="1646.7" cy="481.8" r="5.6"/><circle cx="1550.8" cy="507.4" r="5.6"/><circle cx="1554.7" cy="503.4" r="5.6"/><circle cx="1547.9" cy="504.2" r="5.6"/><circle cx="1684.7" cy="487.2" r="5.6"/><circle cx="1596.4" cy="506.6" r="5.6"/><circle cx="1580.7" cy="504" r="5.6"/><circle cx="1600" cy="481.4" r="5.6"/><circle cx="1592.4" cy="508" r="5.6"/><circle cx="1609.2" cy="492.9" r="5.6"/><circle cx="1622.9" cy="493.1" r="5.6"/><circle cx="1579.4" cy="490.7" r="5.6"/><circle cx="1709.8" cy="483.3" r="5.6"/><circle cx="1598.5" cy="484" r="5.6"/><circle cx="1563" cy="486.6" r="5.6"/><circle cx="1517.6" cy="513" r="5.6"/><circle cx="1577.7" cy="494.5" r="5.6"/><circle cx="1550.3" cy="512.7" r="5.6"/><circle cx="1647.3" cy="488.7" r="5.6"/><circle cx="1688.7" cy="507" r="5.6"/><circle cx="1573.2" cy="513.5" r="5.6"/><circle cx="1648.3" cy="482.8" r="5.6"/><circle cx="1733.5" cy="470.1" r="5.6"/><circle cx="1757.7" cy="480.6" r="5.6"/><circle cx="1597.1" cy="501.6" r="5.6"/><circle cx="1572.1" cy="502.2" r="5.6"/><circle cx="1669.8" cy="501.9" r="5.6"/><circle cx="1619.5" cy="493.7" r="5.6"/><circle cx="1627.1" cy="495" r="5.6"/><circle cx="1590.5" cy="501.7" r="5.6"/><circle cx="1579.9" cy="494.9" r="5.6"/><circle cx="1554" cy="500.1" r="5.6"/><circle cx="1592.5" cy="491.1" r="5.6"/><circle cx="1580.3" cy="491.9" r="5.6"/><circle cx="1514.6" cy="512.1" r="5.6"/><circle cx="1571.3" cy="506" r="5.6"/><circle cx="1663.5" cy="501.5" r="5.6"/><circle cx="1644.8" cy="493.2" r="5.6"/><circle cx="1707.1" cy="453.7" r="5.6"/><circle cx="1548" cy="514.7" r="5.6"/><circle cx="1681.6" cy="448.5" r="5.6"/><circle cx="1672.3" cy="466.9" r="5.6"/><circle cx="1536.1" cy="500.8" r="5.6"/><circle cx="1581.3" cy="508.9" r="5.6"/><circle cx="1536.3" cy="512.1" r="5.6"/><circle cx="1658.8" cy="500.1" r="5.6"/><circle cx="1593.4" cy="483.2" r="5.6"/><circle cx="1620" cy="498.3" r="5.6"/><circle cx="1581.6" cy="509.5" r="5.6"/><circle cx="1570.4" cy="484.2" r="5.6"/><circle cx="1533.8" cy="502.1" r="5.6"/><circle cx="1622.1" cy="488.9" r="5.6"/><circle cx="1578.6" cy="514.6" r="5.6"/><circle cx="1543" cy="509.3" r="5.6"/><circle cx="1559.6" cy="508.5" r="5.6"/><circle cx="1565" cy="484.9" r="5.6"/><circle cx="1651.8" cy="499.9" r="5.6"/><circle cx="1565.6" cy="503.4" r="5.6"/><circle cx="1719" cy="470.1" r="5.6"/><circle cx="1640.4" cy="492.7" r="5.6"/><circle cx="1587.9" cy="497.4" r="5.6"/><circle cx="1619" cy="493.4" r="5.6"/><circle cx="1566.3" cy="502.6" r="5.6"/><circle cx="1619.6" cy="458.7" r="5.6"/><circle cx="1536.3" cy="516.4" r="5.6"/><circle cx="1556" cy="511.6" r="5.6"/><circle cx="1624" cy="482.6" r="5.6"/><circle cx="1588.1" cy="491.5" r="5.6"/><circle cx="1506.8" cy="517" r="5.6"/><circle cx="1595.1" cy="510.2" r="5.6"/><circle cx="1612.6" cy="509.5" r="5.6"/><circle cx="1507.4" cy="517" r="5.6"/><circle cx="1576.8" cy="492.3" r="5.6"/><circle cx="1704" cy="466.1" r="5.6"/><circle cx="1536.6" cy="498.8" r="5.6"/><circle cx="1535.2" cy="501.9" r="5.6"/><circle cx="1549.3" cy="505.1" r="5.6"/><circle cx="1577.7" cy="490.2" r="5.6"/><circle cx="1557.7" cy="503.5" r="5.6"/><circle cx="1642.6" cy="500.5" r="5.6"/><circle cx="1656.1" cy="485.5" r="5.6"/><circle cx="1551.9" cy="512.1" r="5.6"/><circle cx="1574.4" cy="483.7" r="5.6"/><circle cx="1557.9" cy="500" r="5.6"/><circle cx="1621.8" cy="490.9" r="5.6"/><circle cx="1601.7" cy="495" r="5.6"/><circle cx="1568.7" cy="477.5" r="5.6"/><circle cx="1648" cy="502.4" r="5.6"/><circle cx="1617.1" cy="491" r="5.6"/><circle cx="1763.8" cy="453.7" r="5.6"/><circle cx="1632.1" cy="491" r="5.6"/><circle cx="1580.1" cy="483" r="5.6"/><circle cx="1575" cy="486.4" r="5.6"/><circle cx="1653.5" cy="509.9" r="5.6"/><circle cx="1545.3" cy="512.8" r="5.6"/><circle cx="1628.2" cy="502.6" r="5.6"/><circle cx="1650.1" cy="493.6" r="5.6"/><circle cx="1659.9" cy="487.7" r="5.6"/><circle cx="1576" cy="489.6" r="5.6"/><circle cx="1526.8" cy="505.2" r="5.6"/><circle cx="1599.5" cy="495" r="5.6"/><circle cx="1534.8" cy="511.9" r="5.6"/><circle cx="1561.6" cy="514.1" r="5.6"/><circle cx="1658.2" cy="484.6" r="5.6"/><circle cx="1584.5" cy="486" r="5.6"/><circle cx="1603" cy="488.4" r="5.6"/><circle cx="1625" cy="498.5" r="5.6"/><circle cx="1542.3" cy="498.8" r="5.6"/><circle cx="1655.8" cy="500.5" r="5.6"/><circle cx="1592.6" cy="496.5" r="5.6"/><circle cx="1631.6" cy="487.8" r="5.6"/><circle cx="1563.4" cy="497.5" r="5.6"/><circle cx="1540.3" cy="504.7" r="5.6"/><circle cx="1609.8" cy="494" r="5.6"/><circle cx="1589.5" cy="481.1" r="5.6"/><circle cx="1700.5" cy="489.8" r="5.6"/><circle cx="1665.5" cy="494.8" r="5.6"/><circle cx="1607" cy="494.9" r="5.6"/><circle cx="1570.8" cy="500.5" r="5.6"/><circle cx="1530.2" cy="510.5" r="5.6"/><circle cx="1559.2" cy="513.3" r="5.6"/><circle cx="1529.6" cy="503" r="5.6"/><circle cx="1664.6" cy="493.4" r="5.6"/><circle cx="1630" cy="495" r="5.6"/><circle cx="1534" cy="515.4" r="5.6"/><circle cx="1565.6" cy="496.4" r="5.6"/><circle cx="1533" cy="508.4" r="5.6"/><circle cx="1629.4" cy="474" r="5.6"/><circle cx="1596.1" cy="486.1" r="5.6"/><circle cx="1514" cy="514.7" r="5.6"/><circle cx="1611.7" cy="497.6" r="5.6"/><circle cx="1703.2" cy="474" r="5.6"/><circle cx="1649.3" cy="485.7" r="5.6"/><circle cx="1595.5" cy="512.9" r="5.6"/><circle cx="1596.5" cy="491.4" r="5.6"/><circle cx="1613.6" cy="475.4" r="5.6"/><circle cx="1554.1" cy="485.7" r="5.6"/><circle cx="1528.7" cy="502.1" r="5.6"/><circle cx="1579.1" cy="484.6" r="5.6"/><circle cx="1550.2" cy="507.8" r="5.6"/><circle cx="1734.8" cy="461.6" r="5.6"/><circle cx="1585.6" cy="488.1" r="5.6"/><circle cx="1655.7" cy="511.7" r="5.6"/><circle cx="1566" cy="506.9" r="5.6"/><circle cx="1654.9" cy="504.3" r="5.6"/><circle cx="1596.7" cy="482.8" r="5.6"/><circle cx="1543.6" cy="508.9" r="5.6"/><circle cx="1626.6" cy="491.4" r="5.6"/><circle cx="1610.3" cy="509.2" r="5.6"/><circle cx="1609.1" cy="466.9" r="5.6"/><circle cx="1569.4" cy="491.1" r="5.6"/><circle cx="1659.6" cy="504.1" r="5.6"/><circle cx="1668.5" cy="488.1" r="5.6"/><circle cx="1596.4" cy="501.3" r="5.6"/><circle cx="1569.6" cy="506" r="5.6"/><circle cx="1577.3" cy="488" r="5.6"/><circle cx="1672.9" cy="479.3" r="5.6"/><circle cx="1581.4" cy="482.6" r="5.6"/><circle cx="1620.5" cy="510.8" r="5.6"/><circle cx="1579.3" cy="508.8" r="5.6"/><circle cx="1625.5" cy="491.7" r="5.6"/><circle cx="1696.6" cy="499.1" r="5.6"/><circle cx="1629.5" cy="511.1" r="5.6"/><circle cx="1638.5" cy="500.1" r="5.6"/><circle cx="1614.8" cy="488.6" r="5.6"/><circle cx="1634.4" cy="493" r="5.6"/><circle cx="1636.8" cy="498" r="5.6"/><circle cx="1545.7" cy="493.6" r="5.6"/><circle cx="1611.4" cy="488.7" r="5.6"/><circle cx="1529.3" cy="506.3" r="5.6"/><circle cx="1554.3" cy="499.1" r="5.6"/><circle cx="1579.4" cy="512.1" r="5.6"/><circle cx="1645.4" cy="495" r="5.6"/><circle cx="1629.4" cy="494.2" r="5.6"/><circle cx="1642.5" cy="509.6" r="5.6"/><circle cx="1649.2" cy="501.9" r="5.6"/><circle cx="1630" cy="506.2" r="5.6"/><circle cx="1527.2" cy="513.3" r="5.6"/><circle cx="1546.4" cy="513.1" r="5.6"/><circle cx="1655.8" cy="494.7" r="5.6"/><circle cx="1599.1" cy="510.2" r="5.6"/><circle cx="1642.7" cy="482.3" r="5.6"/><circle cx="1545.2" cy="491.5" r="5.6"/><circle cx="1622.1" cy="486.7" r="5.6"/><circle cx="1591.7" cy="493.1" r="5.6"/><circle cx="1602.3" cy="509" r="5.6"/><circle cx="1632.2" cy="500.6" r="5.6"/><circle cx="1564.4" cy="515.9" r="5.6"/><circle cx="1558.2" cy="479.3" r="5.6"/><circle cx="1522.5" cy="513.5" r="5.6"/><circle cx="1609.4" cy="510" r="5.6"/><circle cx="1558.7" cy="487.8" r="5.6"/><circle cx="1668.9" cy="505.8" r="5.6"/><circle cx="1620.1" cy="499.4" r="5.6"/><circle cx="1589.2" cy="508.9" r="5.6"/><circle cx="1606.1" cy="482.8" r="5.6"/><circle cx="1570.4" cy="491.3" r="5.6"/><circle cx="1582.7" cy="508.3" r="5.6"/><circle cx="1589.8" cy="478" r="5.6"/><circle cx="1583.1" cy="484.1" r="5.6"/><circle cx="1645.5" cy="488.6" r="5.6"/><circle cx="1556.3" cy="487.5" r="5.6"/><circle cx="1663.6" cy="468.2" r="5.6"/><circle cx="1626.8" cy="486.2" r="5.6"/><circle cx="1622" cy="499.9" r="5.6"/><circle cx="1625.3" cy="482.7" r="5.6"/><circle cx="1578.7" cy="490.9" r="5.6"/><circle cx="1535.1" cy="503.3" r="5.6"/><circle cx="1598.6" cy="511.8" r="5.6"/><circle cx="1579.7" cy="493.2" r="5.6"/><circle cx="1649.6" cy="486.7" r="5.6"/>
</g>
<g fill="#1f77b4" stroke="#fff" stroke-width="0.9">
<circle cx="1638.6" cy="683" r="5.6"/><circle cx="1599.3" cy="703.5" r="5.6"/><circle cx="1675" cy="739.6" r="5.6"/><circle cx="1634.7" cy="661.1" r="5.6"/><circle cx="1544.1" cy="693.2" r="5.6"/><circle cx="1568.1" cy="696.4" r="5.6"/><circle cx="1573.5" cy="647.7" r="5.6"/><circle cx="1549" cy="726.8" r="5.6"/><circle cx="1574.8" cy="703.7" r="5.6"/><circle cx="1583.8" cy="662.5" r="5.6"/><circle cx="1527.8" cy="707.5" r="5.6"/><circle cx="1559.9" cy="646.4" r="5.6"/><circle cx="1650.3" cy="657.6" r="5.6"/><circle cx="1529.4" cy="665.7" r="5.6"/><circle cx="1578.4" cy="734.4" r="5.6"/><circle cx="1651.5" cy="659.6" r="5.6"/><circle cx="1561.1" cy="720.1" r="5.6"/><circle cx="1571.1" cy="665.6" r="5.6"/><circle cx="1500.2" cy="620.7" r="5.6"/><circle cx="1557.4" cy="784.9" r="5.6"/><circle cx="1555.6" cy="681" r="5.6"/><circle cx="1516" cy="670.1" r="5.6"/><circle cx="1567.2" cy="654.3" r="5.6"/><circle cx="1603.1" cy="658.1" r="5.6"/><circle cx="1570.1" cy="721.1" r="5.6"/><circle cx="1607" cy="712.1" r="5.6"/><circle cx="1624.1" cy="685.9" r="5.6"/><circle cx="1702.4" cy="641.3" r="5.6"/><circle cx="1544" cy="656.5" r="5.6"/><circle cx="1648.9" cy="660.7" r="5.6"/><circle cx="1514.7" cy="803.4" r="5.6"/><circle cx="1513.4" cy="658.4" r="5.6"/><circle cx="1604.1" cy="716.7" r="5.6"/><circle cx="1542" cy="691.4" r="5.6"/><circle cx="1620.4" cy="708.6" r="5.6"/><circle cx="1546.3" cy="753.3" r="5.6"/><circle cx="1585" cy="727.9" r="5.6"/><circle cx="1595.7" cy="697" r="5.6"/><circle cx="1561.1" cy="723.2" r="5.6"/><circle cx="1566.2" cy="701.8" r="5.6"/><circle cx="1575.4" cy="680.9" r="5.6"/><circle cx="1558.5" cy="647.5" r="5.6"/><circle cx="1575.7" cy="737" r="5.6"/><circle cx="1511.6" cy="707.2" r="5.6"/><circle cx="1567.2" cy="716.2" r="5.6"/><circle cx="1653.1" cy="675" r="5.6"/><circle cx="1527.9" cy="750.6" r="5.6"/><circle cx="1539.8" cy="707.5" r="5.6"/><circle cx="1589.8" cy="743.5" r="5.6"/><circle cx="1705.8" cy="649.7" r="5.6"/><circle cx="1598" cy="707.4" r="5.6"/><circle cx="1516" cy="696.1" r="5.6"/><circle cx="1610.5" cy="676.6" r="5.6"/><circle cx="1616.4" cy="733.6" r="5.6"/><circle cx="1579.8" cy="649.1" r="5.6"/><circle cx="1607.5" cy="765.1" r="5.6"/><circle cx="1570.7" cy="737.2" r="5.6"/><circle cx="1595.1" cy="649.2" r="5.6"/><circle cx="1518.7" cy="825.8" r="5.6"/><circle cx="1607" cy="682" r="5.6"/><circle cx="1536.8" cy="658.8" r="5.6"/><circle cx="1636.9" cy="684" r="5.6"/><circle cx="1559.5" cy="817.3" r="5.6"/><circle cx="1588.1" cy="660.8" r="5.6"/><circle cx="1560.3" cy="679.4" r="5.6"/><circle cx="1530.8" cy="713.9" r="5.6"/><circle cx="1543" cy="724.5" r="5.6"/><circle cx="1632.8" cy="685" r="5.6"/><circle cx="1582.7" cy="699" r="5.6"/><circle cx="1610.9" cy="746.7" r="5.6"/><circle cx="1781.5" cy="630.2" r="5.6"/><circle cx="1637.2" cy="709.5" r="5.6"/><circle cx="1558.2" cy="733.5" r="5.6"/><circle cx="1512.1" cy="728.8" r="5.6"/><circle cx="1590.1" cy="730.4" r="5.6"/><circle cx="1604.2" cy="691.8" r="5.6"/><circle cx="1505.5" cy="720.9" r="5.6"/><circle cx="1611.3" cy="690.8" r="5.6"/><circle cx="1526.6" cy="807.3" r="5.6"/><circle cx="1543.5" cy="724" r="5.6"/><circle cx="1525.7" cy="669.8" r="5.6"/><circle cx="1530.6" cy="713.7" r="5.6"/><circle cx="1635.4" cy="680.2" r="5.6"/><circle cx="1510.8" cy="760.4" r="5.6"/><circle cx="1533.2" cy="692.5" r="5.6"/><circle cx="1534.2" cy="673.7" r="5.6"/><circle cx="1568" cy="685.6" r="5.6"/><circle cx="1524.7" cy="648.6" r="5.6"/><circle cx="1538.3" cy="658.9" r="5.6"/><circle cx="1532.5" cy="712.3" r="5.6"/><circle cx="1543.7" cy="775.7" r="5.6"/><circle cx="1522.2" cy="688.9" r="5.6"/><circle cx="1591" cy="705.5" r="5.6"/><circle cx="1534.6" cy="725.5" r="5.6"/><circle cx="1554" cy="716.3" r="5.6"/><circle cx="1579.3" cy="783.6" r="5.6"/><circle cx="1566" cy="730.7" r="5.6"/><circle cx="1564.8" cy="770.4" r="5.6"/><circle cx="1652.5" cy="656.3" r="5.6"/><circle cx="1642.5" cy="641.3" r="5.6"/><circle cx="1651.2" cy="685.4" r="5.6"/><circle cx="1564.7" cy="688.7" r="5.6"/><circle cx="1547.3" cy="653.2" r="5.6"/><circle cx="1646.5" cy="711.1" r="5.6"/><circle cx="1546.8" cy="681.9" r="5.6"/><circle cx="1606.3" cy="678.9" r="5.6"/><circle cx="1514.7" cy="835" r="5.6"/><circle cx="1619.9" cy="677.5" r="5.6"/><circle cx="1555.2" cy="660.4" r="5.6"/><circle cx="1580.6" cy="671.7" r="5.6"/><circle cx="1538.8" cy="704.1" r="5.6"/><circle cx="1527.7" cy="657.8" r="5.6"/><circle cx="1575" cy="736.7" r="5.6"/><circle cx="1578.2" cy="673.5" r="5.6"/><circle cx="1597.5" cy="704.1" r="5.6"/><circle cx="1649.9" cy="704.2" r="5.6"/><circle cx="1641.9" cy="710.8" r="5.6"/><circle cx="1683.4" cy="641.8" r="5.6"/><circle cx="1638.8" cy="701.4" r="5.6"/><circle cx="1617.7" cy="720.5" r="5.6"/><circle cx="1635.7" cy="692.2" r="5.6"/><circle cx="1634.3" cy="679.9" r="5.6"/><circle cx="1525.3" cy="767.8" r="5.6"/><circle cx="1543.4" cy="678.6" r="5.6"/><circle cx="1769.1" cy="627.6" r="5.6"/><circle cx="1571.1" cy="657" r="5.6"/><circle cx="1551.9" cy="706" r="5.6"/><circle cx="1582.6" cy="654.2" r="5.6"/><circle cx="1566.9" cy="654" r="5.6"/><circle cx="1634" cy="699.9" r="5.6"/><circle cx="1620.8" cy="697.5" r="5.6"/><circle cx="1609.8" cy="661.8" r="5.6"/><circle cx="1568.4" cy="712.1" r="5.6"/><circle cx="1535.8" cy="773" r="5.6"/><circle cx="1523.1" cy="794.1" r="5.6"/><circle cx="1547.9" cy="677.8" r="5.6"/><circle cx="1607.9" cy="727.5" r="5.6"/><circle cx="1587.7" cy="650.2" r="5.6"/><circle cx="1568.4" cy="714.1" r="5.6"/><circle cx="1650.2" cy="691.7" r="5.6"/><circle cx="1555" cy="677.7" r="5.6"/><circle cx="1637.5" cy="705.2" r="5.6"/><circle cx="1536.9" cy="680" r="5.6"/><circle cx="1578.4" cy="697.3" r="5.6"/><circle cx="1597" cy="702" r="5.6"/><circle cx="1661.2" cy="678.3" r="5.6"/><circle cx="1553.2" cy="646.6" r="5.6"/><circle cx="1521.6" cy="689.2" r="5.6"/><circle cx="1597.7" cy="755.1" r="5.6"/><circle cx="1565.4" cy="678.5" r="5.6"/><circle cx="1662.8" cy="636" r="5.6"/><circle cx="1542.2" cy="717.7" r="5.6"/><circle cx="1575" cy="678.1" r="5.6"/><circle cx="1571.8" cy="697.1" r="5.6"/><circle cx="1597.8" cy="669.6" r="5.6"/><circle cx="1527" cy="662.4" r="5.6"/><circle cx="1540.7" cy="666.2" r="5.6"/><circle cx="1589.6" cy="704.1" r="5.6"/><circle cx="1524" cy="693.3" r="5.6"/><circle cx="1612" cy="724.8" r="5.6"/><circle cx="1550.2" cy="674.4" r="5.6"/><circle cx="1639.1" cy="675.7" r="5.6"/><circle cx="1601.9" cy="737.3" r="5.6"/><circle cx="1590.6" cy="649.8" r="5.6"/><circle cx="1657.4" cy="665.9" r="5.6"/><circle cx="1531.8" cy="670.4" r="5.6"/><circle cx="1583.1" cy="707.9" r="5.6"/><circle cx="1527.3" cy="716.2" r="5.6"/><circle cx="1587.2" cy="707.2" r="5.6"/><circle cx="1647.8" cy="664.6" r="5.6"/><circle cx="1516.7" cy="668.3" r="5.6"/><circle cx="1646.3" cy="671.5" r="5.6"/><circle cx="1594" cy="659.2" r="5.6"/><circle cx="1604.5" cy="732.3" r="5.6"/><circle cx="1590.6" cy="644.3" r="5.6"/><circle cx="1543.7" cy="735.6" r="5.6"/><circle cx="1602.8" cy="700.8" r="5.6"/><circle cx="1591.3" cy="691.8" r="5.6"/><circle cx="1564.7" cy="657.7" r="5.6"/><circle cx="1572.7" cy="763.8" r="5.6"/><circle cx="1628.6" cy="722.3" r="5.6"/><circle cx="1608.5" cy="704.3" r="5.6"/><circle cx="1546.9" cy="806.8" r="5.6"/><circle cx="1556.3" cy="711.7" r="5.6"/><circle cx="1584.3" cy="694" r="5.6"/><circle cx="1746.7" cy="647.8" r="5.6"/><circle cx="1578.9" cy="715.6" r="5.6"/><circle cx="1559" cy="804.1" r="5.6"/><circle cx="1621.9" cy="661.7" r="5.6"/><circle cx="1607.4" cy="739.3" r="5.6"/><circle cx="1637.6" cy="705.3" r="5.6"/><circle cx="1551.2" cy="706.2" r="5.6"/><circle cx="1624.1" cy="738.8" r="5.6"/><circle cx="1603.5" cy="650.4" r="5.6"/><circle cx="1538.2" cy="686.9" r="5.6"/><circle cx="1566" cy="657.4" r="5.6"/><circle cx="1639.7" cy="686.8" r="5.6"/><circle cx="1593.6" cy="742.6" r="5.6"/><circle cx="1658.7" cy="664" r="5.6"/><circle cx="1639.3" cy="654.7" r="5.6"/><circle cx="1608.3" cy="687.1" r="5.6"/><circle cx="1539.2" cy="712.8" r="5.6"/><circle cx="1621.3" cy="655.3" r="5.6"/><circle cx="1696.6" cy="624.9" r="5.6"/><circle cx="1750.6" cy="641.3" r="5.6"/><circle cx="1508.9" cy="773" r="5.6"/><circle cx="1621.3" cy="673" r="5.6"/><circle cx="1534.5" cy="716.9" r="5.6"/><circle cx="1648.5" cy="708" r="5.6"/><circle cx="1636.4" cy="654.9" r="5.6"/><circle cx="1613.2" cy="666.9" r="5.6"/><circle cx="1613.4" cy="719.5" r="5.6"/><circle cx="1561" cy="686.2" r="5.6"/><circle cx="1650.4" cy="684.9" r="5.6"/><circle cx="1522.4" cy="706.2" r="5.6"/><circle cx="1667.6" cy="676.8" r="5.6"/><circle cx="1662.1" cy="691.2" r="5.6"/><circle cx="1583.1" cy="642.2" r="5.6"/><circle cx="1524.6" cy="670.5" r="5.6"/><circle cx="1633.6" cy="713.5" r="5.6"/><circle cx="1531.8" cy="809.9" r="5.6"/><circle cx="1589.1" cy="646.6" r="5.6"/><circle cx="1627.8" cy="714.5" r="5.6"/><circle cx="1658.6" cy="691" r="5.6"/><circle cx="1524.9" cy="712.7" r="5.6"/><circle cx="1567.6" cy="696" r="5.6"/><circle cx="1530" cy="828.4" r="5.6"/><circle cx="1662.3" cy="665" r="5.6"/><circle cx="1623.5" cy="701.4" r="5.6"/><circle cx="1592.5" cy="767.2" r="5.6"/><circle cx="1628.8" cy="665.6" r="5.6"/><circle cx="1714.5" cy="639.9" r="5.6"/><circle cx="1522.1" cy="665.9" r="5.6"/><circle cx="1583.9" cy="726" r="5.6"/><circle cx="1572.9" cy="661.5" r="5.6"/><circle cx="1583.2" cy="752" r="5.6"/><circle cx="1526.9" cy="683.6" r="5.6"/><circle cx="1508.1" cy="624.9" r="5.6"/><circle cx="1605.8" cy="669" r="5.6"/><circle cx="1515.7" cy="710.5" r="5.6"/><circle cx="1550.4" cy="714.6" r="5.6"/><circle cx="1660.9" cy="686.6" r="5.6"/><circle cx="1560.1" cy="661.3" r="5.6"/><circle cx="1557.6" cy="691.2" r="5.6"/><circle cx="1620.7" cy="715.2" r="5.6"/><circle cx="1572.2" cy="720.9" r="5.6"/><circle cx="1572.8" cy="733.2" r="5.6"/><circle cx="1541.8" cy="689.5" r="5.6"/><circle cx="1534.1" cy="661.5" r="5.6"/><circle cx="1595.3" cy="668.2" r="5.6"/><circle cx="1651.9" cy="705.2" r="5.6"/><circle cx="1639.4" cy="667.4" r="5.6"/>
</g>
<text x="8.2" y="1227.5" font-size="42" font-family="'Liberation Sans', Arial, sans-serif" font-weight="bold" textLength="24.2" lengthAdjust="spacingAndGlyphs">b</text>
<text x="317.5" y="1247.8" font-size="36" font-family="'Liberation Sans', Arial, sans-serif" textLength="265.5" lengthAdjust="spacingAndGlyphs">Histology image</text>
<text x="1018.5" y="1219.6" font-size="42" font-family="'Liberation Sans', Arial, sans-serif" font-weight="bold" textLength="22.5" lengthAdjust="spacingAndGlyphs">c</text>
<text x="1231.5" y="1242.6" font-size="36" font-family="'Liberation Sans', Arial, sans-serif" textLength="466" lengthAdjust="spacingAndGlyphs">Allen Brain Atlas annotation</text>
<text x="6.4" y="2043.4" font-size="42" font-family="'Liberation Sans', Arial, sans-serif" font-weight="bold" textLength="24.2" lengthAdjust="spacingAndGlyphs">d</text>
<text x="283" y="2055.2" font-size="36" font-family="'Liberation Sans', Arial, sans-serif" textLength="334" lengthAdjust="spacingAndGlyphs">Segmentation using</text>
<text x="128" y="2106" font-size="36" font-family="'Liberation Sans', Arial, sans-serif" textLength="644" lengthAdjust="spacingAndGlyphs">iStar super-resolution gene expression</text>
<text x="1019.5" y="2043.8" font-size="42" font-family="'Liberation Sans', Arial, sans-serif" font-weight="bold" textLength="24" lengthAdjust="spacingAndGlyphs">e</text>
<text x="1315.5" y="2055.7" font-size="36" font-family="'Liberation Sans', Arial, sans-serif" textLength="332.5" lengthAdjust="spacingAndGlyphs">Segmentation using</text>
<text x="1147.5" y="2105.9" font-size="36" font-family="'Liberation Sans', Arial, sans-serif" textLength="668.5" lengthAdjust="spacingAndGlyphs">XFuse super-resolution gene expression</text>
<rect x="21" y="1278.5" width="867" height="566.5" fill="#efe9ef"/>
<path d="M438.4 1297.7 C431.3 1298.4 404.1 1304.4 394.1 1306 C384.1 1307.6 363.8 1310.6 352.5 1311.6 C341.2 1312.6 310 1313.5 297.1 1314.3 C284.2 1315.1 251.4 1317.2 241.7 1318.5 C232 1319.8 220.5 1323.1 214 1325.4 C207.5 1327.7 194.4 1334.3 186.3 1337.9 C178.2 1341.5 152.8 1351.5 144.7 1355.9 C136.6 1360.3 122.5 1370.8 117 1375.3 C111.5 1379.8 101.2 1389.2 97.6 1394.7 C94 1400.2 88.6 1414.3 86.5 1422.4 C84.4 1430.5 82.2 1454.3 79.6 1464 C77 1473.7 67.4 1495.8 64.3 1505.5 C61.2 1515.2 55.4 1537.4 53.3 1547.1 C51.2 1556.8 47.4 1579 46.3 1588.7 C45.2 1598.4 43.9 1621.9 43.6 1630.2 C43.3 1638.5 43.3 1654.2 44 1660 C44.7 1665.8 48.1 1675.3 50 1680 C51.9 1684.7 57 1693.6 60 1700 C63 1706.4 69.3 1726.6 75.4 1735 C81.5 1743.4 103.8 1765.1 112.4 1772 C121 1778.9 138.5 1789.7 149.3 1794 C160.1 1798.3 189.6 1806.5 204.7 1808.9 C219.8 1811.3 263.5 1814.8 278.6 1814.4 C293.7 1814 325.4 1807.3 334 1805.2 C342.6 1803.1 348.6 1796 352.5 1796 C356.4 1796 364.7 1803.7 367.3 1805.2 C369.9 1806.7 367.8 1807.4 374.7 1808.9 C381.6 1810.4 411.7 1816.7 426.4 1818.1 C441.1 1819.5 484.9 1820.3 500.3 1820.5 C515.7 1820.7 548.5 1820.5 558.4 1820 C568.3 1819.5 581.1 1817.9 585.5 1816 C589.9 1814.1 594.1 1806.8 596.3 1803.8 C598.5 1800.8 602.5 1790.9 604.4 1790.3 C606.3 1789.7 610.1 1796.5 612.6 1798.4 C615.1 1800.3 622.3 1804.8 626.1 1806.5 C629.9 1808.2 640.3 1812.3 645 1813.3 C649.7 1814.3 659.4 1815 666.7 1814.7 C674 1814.4 697.9 1812 707.4 1810.6 C716.9 1809.2 740.1 1804.2 748 1802.5 C755.9 1800.8 767.2 1797.4 775.1 1795.7 C783 1794 807.9 1789.8 815.8 1787.6 C823.7 1785.4 837.4 1780.5 842.8 1776.7 C848.2 1772.9 858.3 1760.7 861.8 1755 C865.3 1749.3 870.7 1734.9 872.6 1728 C874.5 1721.1 877 1702.5 878 1695.5 C879 1688.5 880.2 1674.7 880.8 1668.4 C881.4 1662.1 883 1650.8 883.5 1641.3 C884 1631.8 884.6 1596.5 884.8 1587 C885 1577.5 885 1568.5 884.8 1560 C884.6 1551.5 884.3 1523.6 883.5 1513.8 C882.7 1504 880 1483.5 878.1 1475.9 C876.2 1468.3 871.3 1455.1 867.2 1448.8 C863.1 1442.5 848.8 1428 842.8 1421.7 C836.8 1415.4 823.7 1400.9 815.8 1394.6 C807.9 1388.3 784.6 1372.9 775.1 1367.5 C765.6 1362.1 744 1353 734.5 1348.6 C725 1344.2 703.3 1333.4 693.8 1329.6 C684.3 1325.8 662.7 1318.9 653.2 1316.1 C643.7 1313.3 623.7 1306.9 612.6 1305.2 C601.5 1303.5 569.5 1301.5 558.4 1301.2 C547.3 1300.9 525.6 1301.7 517.7 1302.5 C509.8 1303.3 497.9 1308.2 490.6 1307.9 C483.3 1307.6 461.1 1301.2 455 1300 C448.9 1298.8 445.5 1297 438.4 1297.7 Z" fill="#e8bbe3" stroke="#b592b4" stroke-width="0.8"/>
<path d="M193.4 1494.9 C194.7 1484.2 202 1467.3 209.6 1459.7 C217.2 1452.1 239.5 1443.1 250.3 1438 C261.1 1432.9 280.3 1424.9 290.9 1421.7 C301.5 1418.5 319.2 1414.7 330 1414 C340.8 1413.3 359.3 1414.6 372.2 1416.3 C385.1 1418 416 1423.9 426.4 1427.1 C436.8 1430.3 441.4 1441.4 450 1440 C458.6 1438.6 478 1420.9 490.6 1416.3 C503.2 1411.7 530.3 1406.2 544.8 1405.5 C559.3 1404.8 584.5 1407.3 599 1410.9 C613.5 1414.5 640.6 1426.1 653.2 1432.6 C665.8 1439.1 684.8 1452.5 693.8 1459.7 C702.8 1466.9 715.8 1477.7 720.9 1486.7 C726 1495.7 730.7 1516.6 731.8 1527.4 C732.9 1538.2 730.4 1557.2 729 1568 C727.6 1578.8 723.5 1597.9 721 1608.7 C718.5 1619.5 713.6 1640.3 710 1649.3 C706.4 1658.3 699.6 1669.2 693.8 1676.4 C688 1683.6 674.8 1695.6 666.7 1703.5 C658.6 1711.4 643.9 1728.2 633.1 1735.5 C622.3 1742.8 598.9 1753.4 585.4 1758.2 C571.9 1763 545.9 1769.2 531.6 1771.3 C517.3 1773.4 492.9 1774.7 477.8 1774.3 C462.7 1773.9 432.4 1770.7 418.1 1768.3 C403.8 1765.9 383 1760.8 370.3 1756.4 C357.6 1752 335.2 1742.3 322.5 1735.5 C309.8 1728.7 285.1 1713.6 274.8 1705.6 C264.5 1697.6 252.1 1685.3 244.9 1675.8 C237.7 1666.3 225.8 1645.9 221 1634 C216.2 1622.1 211.8 1598.7 209 1586.2 C206.2 1573.7 202.1 1552.2 200 1540 C197.9 1527.8 192.1 1505.6 193.4 1494.9 Z" fill="#e4aadc"/>
<path d="M212 1470 C211.2 1478.3 206.8 1501.7 207 1520 C207.2 1538.3 209.7 1561.3 213 1580 C216.3 1598.7 220.7 1616.7 227 1632 C233.3 1647.3 242 1660.5 251 1672 C260 1683.5 268.5 1691.5 281 1701 C293.5 1710.5 310.8 1721.2 326 1729 C341.2 1736.8 364.3 1744.8 372 1748" fill="none" stroke="#dc92d2" stroke-width="32" stroke-linecap="round" opacity="0.7"/>
<path d="M714 1490 C715.7 1496.7 722.8 1516.7 724 1530 C725.2 1543.3 722.8 1556.7 721 1570 C719.2 1583.3 716.2 1597 713 1610 C709.8 1623 706.5 1637.7 702 1648 C697.5 1658.3 693 1663.7 686 1672 C679 1680.3 669.7 1689 660 1698 C650.3 1707 639.7 1718 628 1726 C616.3 1734 596.3 1742.7 590 1746" fill="none" stroke="#dc90d2" stroke-width="36" stroke-linecap="round" opacity="0.7"/>
<path d="M215 1455 C221.7 1451.8 240.8 1441.3 255 1436 C269.2 1430.7 280.5 1425.7 300 1423 C319.5 1420.3 352 1418.8 372 1420 C392 1421.2 407 1425.7 420 1430 C433 1434.3 438.3 1447 450 1446 C461.7 1445 474.2 1429.3 490 1424 C505.8 1418.7 526.7 1415 545 1414 C563.3 1413 582.5 1414 600 1418 C617.5 1422 635 1430.7 650 1438 C665 1445.3 683.3 1458 690 1462" fill="none" stroke="#df9fd7" stroke-width="16" stroke-linecap="round"/>
<path d="M255.7 1486.7 C256.4 1482.7 259.8 1470.2 263.8 1465.1 C267.8 1460 278.3 1452.2 285.5 1448.8 C292.7 1445.4 308.2 1441.1 318 1439.3 C327.8 1437.5 347.9 1435.5 358.7 1435.3 C369.5 1435.1 390.3 1436.6 399.3 1438 C408.3 1439.4 420.6 1443.2 426.4 1446.1 C432.2 1449 440.5 1452.1 442.7 1459.7 C444.9 1467.3 446.7 1496.5 442.7 1503 C438.7 1509.5 422.3 1507.3 412.9 1508.4 C403.5 1509.5 383 1510.6 372.2 1511.1 C361.4 1511.6 342.4 1512.5 331.6 1512.5 C320.8 1512.5 299.2 1512 290.9 1511.1 C282.6 1510.2 273.6 1507.9 269.3 1505.7 C265 1503.5 260.2 1497.4 258.4 1494.9 C256.6 1492.4 255 1490.7 255.7 1486.7 Z" fill="#e8bde4" stroke="#d99bd2" stroke-width="2.2"/>
<path d="M455.4 1459.7 C460.1 1452.8 480.5 1447 490.6 1443.4 C500.7 1439.8 520.5 1434 531.3 1432.6 C542.1 1431.2 561.1 1431.2 571.9 1432.6 C582.7 1434 603.6 1439.8 612.6 1443.4 C621.6 1447 633.2 1455 639.7 1459.7 C646.2 1464.4 657.7 1473.9 661.3 1478.6 C664.9 1483.3 667.4 1491.3 666.7 1494.9 C666 1498.5 661.3 1504.3 655.9 1505.7 C650.5 1507.1 635.5 1506.1 626.1 1505.7 C616.7 1505.3 596.3 1503.4 585.5 1503 C574.7 1502.6 555.6 1502.3 544.8 1503 C534 1503.7 513.9 1508 504.2 1508.4 C494.5 1508.8 478.2 1507.5 471.7 1505.7 C465.2 1503.9 457.6 1501 455.4 1494.9 C453.2 1488.8 450.7 1466.6 455.4 1459.7 Z" fill="#e8bde4" stroke="#d99bd2" stroke-width="2.2"/>
<path d="M342.4 1489.5 C347.4 1489 361.8 1486.7 372.2 1486.7 C382.6 1486.7 395.4 1488.8 404.7 1489.5 C414 1490.2 424.1 1490.8 428 1491" fill="none" stroke="#bf8fcc" stroke-width="3.2" stroke-linecap="round"/>
<path d="M350.5 1508.4 C356.4 1507.1 374.5 1502.5 385.8 1500.3 C397.1 1498 410.6 1496.1 418.3 1494.9 C426 1493.7 429.7 1493.3 432 1493" fill="none" stroke="#bf8fcc" stroke-width="3.2" stroke-linecap="round"/>
<path d="M474 1492 C475.9 1491.8 477.9 1492.1 485.2 1490.8 C492.5 1489.5 507.8 1485.6 517.7 1484 C527.6 1482.4 535.3 1482 544.8 1481.3 C554.3 1480.6 569.6 1480.2 574.6 1480" fill="none" stroke="#bf8fcc" stroke-width="3.2" stroke-linecap="round"/>
<path d="M478 1496 C480.1 1496.3 481.7 1497.8 490.6 1497.6 C499.5 1497.4 518.2 1495.4 531.3 1494.9 C544.4 1494.5 562.9 1494.9 569.2 1494.9" fill="none" stroke="#bf8fcc" stroke-width="3.2" stroke-linecap="round"/>
<ellipse cx="422" cy="1530" rx="16" ry="20" fill="#dea4d8"/>
<ellipse cx="494" cy="1532" rx="16" ry="20" fill="#dea4d8"/>
<ellipse cx="330" cy="1700" rx="45" ry="40" fill="#de9fd6" opacity="0.6"/>
<ellipse cx="560" cy="1715" rx="40" ry="35" fill="#de9fd6" opacity="0.6"/>
<path d="M449.5 1300 L450.5 1300 L451 1410 L449 1410 Z" fill="#b58fb4"/>
<path d="M436 1420 L450 1414 L468 1418 L462 1424 L450 1425 L440 1425 Z" fill="#f7f3f7"/>
<path d="M452 1475 L460 1485 L462 1500 L456 1530 L452 1540 L448 1525 L444 1500 L446 1485 Z" fill="#f2eaf2"/>
<path d="M480 1762 L488 1785 L480 1813 L471 1785 Z" fill="#f8f4f8" stroke="#9a7a9a" stroke-width="0.8"/>
<path d="M240 1488 L246 1500 L247 1530 L242 1540 L238 1515 Z" fill="#f4eef4"/>
<path d="M673 1490 L679 1500 L681 1530 L676 1540 L671 1515 Z" fill="#f4eef4"/>
<path d="M258 1692 L282 1708 L278 1712 L255 1697 Z" fill="#f4eef4"/>
<path d="M628 1698 L648 1686 L652 1690 L632 1703 Z" fill="#f4eef4"/>
<path d="M258 1299 C260 1298.5 265.5 1295.5 270 1296 C274.5 1296.5 280 1299.3 285 1302 C290 1304.7 297.5 1310.3 300 1312" fill="none" stroke="#c9a0c8" stroke-width="1.2"/>
<path d="M365 1282 C367.5 1283.3 375 1287.5 380 1290 C385 1292.5 390 1295.3 395 1297 C400 1298.7 407.5 1299.5 410 1300" fill="none" stroke="#c9a0c8" stroke-width="1.2"/>
<defs><filter id="bgrain" x="0" y="0" width="1" height="1"><feTurbulence type="fractalNoise" baseFrequency="0.7" numOctaves="2" seed="3"/><feColorMatrix type="matrix" values="0 0 0 0 0.72  0 0 0 0 0.42  0 0 0 0 0.70  3.0 0 0 0 -1.45"/></filter><filter id="bgrain2" x="0" y="0" width="1" height="1"><feTurbulence type="fractalNoise" baseFrequency="0.45" numOctaves="2" seed="9"/><feColorMatrix type="matrix" values="0 0 0 0 1  0 0 0 0 1  0 0 0 0 1  0 3.0 0 0 -1.5"/></filter><clipPath id="bclip"><path d="M438.4 1297.7 C431.3 1298.4 404.1 1304.4 394.1 1306 C384.1 1307.6 363.8 1310.6 352.5 1311.6 C341.2 1312.6 310 1313.5 297.1 1314.3 C284.2 1315.1 251.4 1317.2 241.7 1318.5 C232 1319.8 220.5 1323.1 214 1325.4 C207.5 1327.7 194.4 1334.3 186.3 1337.9 C178.2 1341.5 152.8 1351.5 144.7 1355.9 C136.6 1360.3 122.5 1370.8 117 1375.3 C111.5 1379.8 101.2 1389.2 97.6 1394.7 C94 1400.2 88.6 1414.3 86.5 1422.4 C84.4 1430.5 82.2 1454.3 79.6 1464 C77 1473.7 67.4 1495.8 64.3 1505.5 C61.2 1515.2 55.4 1537.4 53.3 1547.1 C51.2 1556.8 47.4 1579 46.3 1588.7 C45.2 1598.4 43.9 1621.9 43.6 1630.2 C43.3 1638.5 43.3 1654.2 44 1660 C44.7 1665.8 48.1 1675.3 50 1680 C51.9 1684.7 57 1693.6 60 1700 C63 1706.4 69.3 1726.6 75.4 1735 C81.5 1743.4 103.8 1765.1 112.4 1772 C121 1778.9 138.5 1789.7 149.3 1794 C160.1 1798.3 189.6 1806.5 204.7 1808.9 C219.8 1811.3 263.5 1814.8 278.6 1814.4 C293.7 1814 325.4 1807.3 334 1805.2 C342.6 1803.1 348.6 1796 352.5 1796 C356.4 1796 364.7 1803.7 367.3 1805.2 C369.9 1806.7 367.8 1807.4 374.7 1808.9 C381.6 1810.4 411.7 1816.7 426.4 1818.1 C441.1 1819.5 484.9 1820.3 500.3 1820.5 C515.7 1820.7 548.5 1820.5 558.4 1820 C568.3 1819.5 581.1 1817.9 585.5 1816 C589.9 1814.1 594.1 1806.8 596.3 1803.8 C598.5 1800.8 602.5 1790.9 604.4 1790.3 C606.3 1789.7 610.1 1796.5 612.6 1798.4 C615.1 1800.3 622.3 1804.8 626.1 1806.5 C629.9 1808.2 640.3 1812.3 645 1813.3 C649.7 1814.3 659.4 1815 666.7 1814.7 C674 1814.4 697.9 1812 707.4 1810.6 C716.9 1809.2 740.1 1804.2 748 1802.5 C755.9 1800.8 767.2 1797.4 775.1 1795.7 C783 1794 807.9 1789.8 815.8 1787.6 C823.7 1785.4 837.4 1780.5 842.8 1776.7 C848.2 1772.9 858.3 1760.7 861.8 1755 C865.3 1749.3 870.7 1734.9 872.6 1728 C874.5 1721.1 877 1702.5 878 1695.5 C879 1688.5 880.2 1674.7 880.8 1668.4 C881.4 1662.1 883 1650.8 883.5 1641.3 C884 1631.8 884.6 1596.5 884.8 1587 C885 1577.5 885 1568.5 884.8 1560 C884.6 1551.5 884.3 1523.6 883.5 1513.8 C882.7 1504 880 1483.5 878.1 1475.9 C876.2 1468.3 871.3 1455.1 867.2 1448.8 C863.1 1442.5 848.8 1428 842.8 1421.7 C836.8 1415.4 823.7 1400.9 815.8 1394.6 C807.9 1388.3 784.6 1372.9 775.1 1367.5 C765.6 1362.1 744 1353 734.5 1348.6 C725 1344.2 703.3 1333.4 693.8 1329.6 C684.3 1325.8 662.7 1318.9 653.2 1316.1 C643.7 1313.3 623.7 1306.9 612.6 1305.2 C601.5 1303.5 569.5 1301.5 558.4 1301.2 C547.3 1300.9 525.6 1301.7 517.7 1302.5 C509.8 1303.3 497.9 1308.2 490.6 1307.9 C483.3 1307.6 461.1 1301.2 455 1300 C448.9 1298.8 445.5 1297 438.4 1297.7 Z"/></clipPath></defs>
<g clip-path="url(#bclip)"><rect x="40" y="1295" width="850" height="530" filter="url(#bgrain)" opacity="0.55"/><rect x="40" y="1295" width="850" height="530" filter="url(#bgrain2)" opacity="0.5"/></g>
<rect x="1070" y="1275" width="812" height="575" fill="#fbfbfb"/>
<defs><filter id="cgrain" x="0" y="0" width="1" height="1"><feTurbulence type="fractalNoise" baseFrequency="0.55" numOctaves="2" seed="7"/><feColorMatrix type="matrix" values="0 0 0 0 0.40  0 0 0 0 0.27  0 0 0 0 0.66  3.6 0 0 0 -1.55"/></filter><clipPath id="cleft"><path d="M1479.7 1311.3 C1478.6 1260.2 1472.7 1294 1467.8 1291.5 C1462.9 1289 1439.7 1286.4 1430.7 1286.2 C1421.7 1285.9 1388.3 1287.8 1377.7 1288.8 C1367.1 1289.9 1335.4 1294.9 1324.8 1296.8 C1314.2 1298.6 1281.9 1304.2 1271.8 1307.4 C1261.8 1310.5 1232.9 1323.8 1224.2 1328.5 C1215.4 1333.3 1191.9 1349.5 1184.4 1355 C1177 1360.6 1155.9 1378.6 1150 1384.2 C1144.2 1389.7 1130.4 1405.3 1126.2 1410.6 C1122 1415.9 1110.6 1431.5 1107.7 1437.1 C1104.7 1442.7 1098.8 1460.1 1097.1 1466.2 C1095.3 1472.3 1091.5 1491.1 1090.4 1498 C1089.4 1504.9 1087 1527.1 1086.5 1535.1 C1085.9 1543 1085 1569.2 1085.2 1577.4 C1085.3 1585.7 1086.9 1609.7 1087.8 1617.2 C1088.7 1624.6 1092.7 1645.2 1094.4 1651.6 C1096.1 1657.9 1102.4 1674.6 1105 1680.7 C1107.7 1686.8 1117.5 1706.4 1120.9 1712.5 C1124.3 1718.6 1135.5 1736.3 1139.4 1741.6 C1143.4 1746.9 1156.4 1761.7 1160.6 1765.4 C1164.9 1769.1 1177 1776.7 1181.8 1778.7 C1186.6 1780.7 1203.2 1784 1208.3 1785.3 C1213.3 1786.6 1228.1 1790.9 1232.1 1791.9 C1236.1 1793 1245.1 1795.4 1248 1795.9 C1250.9 1796.4 1256.2 1797.1 1261.2 1797.2 C1266.3 1797.3 1290.6 1797.5 1298.3 1797.2 C1306 1796.9 1330.1 1794.8 1338 1794.6 C1346 1794.3 1369.8 1794.3 1377.7 1794.6 C1385.7 1794.8 1409.5 1796.7 1417.5 1797.2 C1425.4 1797.7 1451.1 1799.3 1457.2 1799.9 C1463.3 1800.4 1476.1 1851.4 1478.4 1802.5 C1480.6 1753.7 1480.7 1362.4 1479.7 1311.3 Z"/></clipPath></defs>
<path d="M1479.7 1311.3 C1478.6 1260.2 1472.7 1294 1467.8 1291.5 C1462.9 1289 1439.7 1286.4 1430.7 1286.2 C1421.7 1285.9 1388.3 1287.8 1377.7 1288.8 C1367.1 1289.9 1335.4 1294.9 1324.8 1296.8 C1314.2 1298.6 1281.9 1304.2 1271.8 1307.4 C1261.8 1310.5 1232.9 1323.8 1224.2 1328.5 C1215.4 1333.3 1191.9 1349.5 1184.4 1355 C1177 1360.6 1155.9 1378.6 1150 1384.2 C1144.2 1389.7 1130.4 1405.3 1126.2 1410.6 C1122 1415.9 1110.6 1431.5 1107.7 1437.1 C1104.7 1442.7 1098.8 1460.1 1097.1 1466.2 C1095.3 1472.3 1091.5 1491.1 1090.4 1498 C1089.4 1504.9 1087 1527.1 1086.5 1535.1 C1085.9 1543 1085 1569.2 1085.2 1577.4 C1085.3 1585.7 1086.9 1609.7 1087.8 1617.2 C1088.7 1624.6 1092.7 1645.2 1094.4 1651.6 C1096.1 1657.9 1102.4 1674.6 1105 1680.7 C1107.7 1686.8 1117.5 1706.4 1120.9 1712.5 C1124.3 1718.6 1135.5 1736.3 1139.4 1741.6 C1143.4 1746.9 1156.4 1761.7 1160.6 1765.4 C1164.9 1769.1 1177 1776.7 1181.8 1778.7 C1186.6 1780.7 1203.2 1784 1208.3 1785.3 C1213.3 1786.6 1228.1 1790.9 1232.1 1791.9 C1236.1 1793 1245.1 1795.4 1248 1795.9 C1250.9 1796.4 1256.2 1797.1 1261.2 1797.2 C1266.3 1797.3 1290.6 1797.5 1298.3 1797.2 C1306 1796.9 1330.1 1794.8 1338 1794.6 C1346 1794.3 1369.8 1794.3 1377.7 1794.6 C1385.7 1794.8 1409.5 1796.7 1417.5 1797.2 C1425.4 1797.7 1451.1 1799.3 1457.2 1799.9 C1463.3 1800.4 1476.1 1851.4 1478.4 1802.5 C1480.6 1753.7 1480.7 1362.4 1479.7 1311.3 Z" fill="#e3ddf0" stroke="#9a86c4" stroke-width="0.8"/>
<path d="M1467.8 1294.1 C1464.1 1286.1 1439.7 1290.3 1430.7 1290.2 C1421.7 1290 1388.3 1291.7 1377.7 1292.8 C1367.1 1293.9 1335.4 1298.9 1324.8 1300.7 C1314.2 1302.6 1281.9 1308.2 1271.8 1311.3 C1261.8 1314.5 1232.9 1327.8 1224.2 1332.5 C1215.4 1337.3 1191.9 1353.4 1184.4 1359 C1177 1364.6 1155.9 1382.6 1150 1388.1 C1144.2 1393.7 1130.4 1409.3 1126.2 1414.6 C1122 1419.9 1110.4 1435.7 1107.7 1441.1 C1104.9 1446.5 1100 1463.2 1098.4 1468.9 C1096.8 1474.6 1092.8 1491.4 1091.8 1498 C1090.8 1504.6 1089 1527.1 1088.6 1535.1 C1088.1 1543 1087.2 1569.2 1087.3 1577.4 C1087.4 1585.7 1088.8 1609.7 1089.7 1617.2 C1090.6 1624.6 1094.6 1645.2 1096.3 1651.6 C1098 1657.9 1104.2 1674.6 1106.9 1680.7 C1109.5 1686.8 1119.1 1706.4 1122.5 1712.5 C1125.9 1718.6 1137.1 1736.4 1141 1741.6 C1145 1746.8 1157.9 1760.7 1161.9 1764.1 C1166 1767.6 1177.2 1774.2 1181.8 1776 C1186.4 1777.9 1203.5 1781.5 1208.3 1782.6 C1213 1783.8 1227.1 1790.7 1229.5 1787.9 C1231.8 1785.2 1234.2 1759.5 1232.1 1754.8 C1230 1750.2 1213 1745 1208.3 1741.6 C1203.5 1738.2 1188.7 1725.7 1184.4 1720.4 C1180.2 1715.1 1169.1 1695.8 1165.9 1688.7 C1162.7 1681.5 1154.5 1656.9 1152.7 1648.9 C1150.8 1641 1148.2 1617.2 1147.4 1609.2 C1146.6 1601.3 1144.7 1577.4 1144.7 1569.5 C1144.7 1561.6 1146.3 1537.5 1147.4 1529.8 C1148.4 1522.1 1152.9 1500.1 1155.3 1492.7 C1157.7 1485.3 1167 1462.5 1171.2 1455.6 C1175.4 1448.8 1191.6 1429.7 1197.7 1423.9 C1203.8 1418 1224.7 1401.9 1232.1 1397.4 C1239.5 1392.9 1262.6 1382 1271.8 1378.9 C1281.1 1375.7 1314.2 1367.2 1324.8 1365.6 C1335.4 1364 1367.1 1363 1377.7 1363 C1388.3 1363 1421.7 1364.8 1430.7 1365.6 C1439.7 1366.4 1464.1 1378.1 1467.8 1370.9 C1471.5 1363.8 1471.5 1302.2 1467.8 1294.1 Z" fill="#d9cfea"/>
<path d="M1099.7 1582.7 C1100.4 1589.4 1101.5 1609.2 1103.7 1622.5 C1105.9 1635.7 1108.8 1648.9 1113 1662.2 C1117.1 1675.4 1123.1 1689.5 1128.8 1701.9 C1134.6 1714.2 1140.8 1726.6 1147.4 1736.3 C1154 1746 1165 1756.2 1168.6 1760.1" fill="none" stroke="#8c6cc4" stroke-width="3.5" stroke-linecap="round" opacity="0.8"/>
<path d="M1271.8 1484.8 C1275.3 1479.5 1290.4 1478.1 1298.3 1476.8 C1306.2 1475.5 1340.7 1471.5 1351.3 1471.5 C1361.9 1471.5 1394.9 1475 1404.2 1476.8 C1413.5 1478.7 1437.8 1486.1 1443.9 1490.1 C1450 1494 1462.7 1507.3 1465.1 1516.5 C1467.5 1525.8 1468 1568.2 1467.8 1582.7 C1467.5 1597.3 1464.1 1648.9 1462.5 1662.2 C1460.9 1675.4 1455.1 1707.2 1451.9 1715.1 C1448.7 1723.1 1438.1 1738.4 1430.7 1741.6 C1423.3 1744.8 1385.7 1749.6 1377.7 1746.9 C1369.8 1744.3 1357.1 1721 1351.3 1715.1 C1345.4 1709.3 1325.8 1693.9 1319.5 1688.7 C1313.1 1683.4 1293 1667.5 1287.7 1662.2 C1282.4 1656.9 1269.2 1643.6 1266.5 1635.7 C1263.9 1627.8 1261.5 1593.3 1261.2 1582.7 C1261 1572.1 1262.8 1539.6 1263.9 1529.8 C1264.9 1520 1268.4 1490.1 1271.8 1484.8 Z" fill="#ddd5ec"/>
<path d="M1216.2 1498 C1216.9 1503.3 1218.6 1517.9 1220.2 1529.8 C1221.7 1541.7 1223.5 1557.1 1225.5 1569.5 C1227.5 1581.9 1229.2 1593.8 1232.1 1603.9 C1235 1614.1 1237.8 1622.9 1242.7 1630.4 C1247.6 1637.9 1254.6 1643.2 1261.2 1648.9 C1267.9 1654.7 1278.9 1662.2 1282.4 1664.8" fill="none" stroke="#8a68c4" stroke-width="15" stroke-linecap="round" opacity="0.7"/>
<path d="M1250.6 1471.5 C1246.3 1468.4 1246.1 1455.6 1248 1450.3 C1249.8 1445.1 1260.7 1432.1 1266.5 1426.5 C1272.4 1421 1290 1407.3 1298.3 1402.7 C1306.6 1398.1 1328.8 1389.3 1338 1386.8 C1347.3 1384.3 1368.5 1381.2 1377.7 1381.5 C1387 1381.8 1409.4 1385.7 1417.5 1389.4 C1425.5 1393.2 1441.3 1407.7 1446.6 1413.3 C1451.8 1418.8 1461.8 1430.9 1462.5 1437.1 C1463.1 1443.3 1456.2 1462.2 1451.9 1466.2 C1447.6 1470.2 1434 1471.5 1425.4 1471.5 C1416.7 1471.5 1389.5 1466.9 1377.7 1466.2 C1366 1465.6 1335.6 1465 1324.8 1466.2 C1314 1467.5 1293.7 1476.2 1285.1 1476.8 C1276.4 1477.4 1255 1474.6 1250.6 1471.5 Z" fill="#e8e3f2"/>
<path d="M1255.9 1474.2 C1255 1472 1250.3 1465.8 1250.1 1460.9 C1249.9 1456.1 1251.4 1450.6 1254.6 1445.1 C1257.8 1439.5 1263.2 1433.6 1269.2 1427.8 C1275.1 1422.1 1282 1416.1 1290.4 1410.6 C1298.7 1405.1 1309.3 1398.9 1319.5 1394.7 C1329.6 1390.6 1340.7 1387.5 1351.3 1385.5 C1361.9 1383.5 1372.9 1382.2 1383 1382.8 C1393.2 1383.5 1403.3 1385.7 1412.2 1389.4 C1421 1393.2 1429.4 1400 1436 1405.3 C1442.6 1410.6 1447.5 1416.4 1451.9 1421.2 C1456.3 1426.1 1460.7 1432.3 1462.5 1434.5" fill="none" stroke="#5f30a8" stroke-width="7" stroke-linecap="round"/>
<path d="M1255.9 1474.2 C1258.6 1474.2 1264.8 1475.5 1271.8 1474.2 C1278.9 1472.9 1289.5 1468.4 1298.3 1466.2 C1307.1 1464 1320.4 1461.8 1324.8 1460.9" fill="none" stroke="#6a3ab0" stroke-width="4" stroke-linecap="round"/>
<path d="M1318.2 1441.1 C1322.8 1439.8 1336 1434.2 1346 1433.1 C1355.9 1432 1368 1432.5 1377.7 1434.5 C1387.4 1436.4 1396.1 1440.6 1404.2 1445.1 C1412.4 1449.5 1423 1458.3 1426.7 1460.9" fill="none" stroke="#5f30a8" stroke-width="6.5" stroke-linecap="round"/>
<path d="M1338 1458.3 C1342.4 1456.7 1355.2 1450.3 1364.5 1449 C1373.8 1447.7 1385.2 1449 1393.6 1450.3 C1402 1451.7 1409.1 1455 1414.8 1457 C1420.5 1459 1425.8 1461.4 1428 1462.3" fill="none" stroke="#5f30a8" stroke-width="6" stroke-linecap="round"/>
<ellipse cx="1457.2" cy="1487.4" rx="7" ry="10" fill="#8a6cc0"/>
<g clip-path="url(#cleft)"><rect x="1080" y="1280" width="410" height="530" filter="url(#cgrain)"/></g>
<path d="M1465.3 1814.4 C1466.9 1813 1481.7 1807 1486.5 1805.2 C1491.2 1803.3 1507.7 1797.6 1513 1795.9 C1518.3 1794.2 1535.2 1789 1539.4 1787.9 C1543.7 1786.9 1552.1 1784.6 1555.3 1785.3 C1558.5 1786 1568.6 1791.8 1571.2 1794.6 C1573.9 1797.3 1580.2 1809.4 1581.8 1813.1 C1583.4 1816.8 1587 1828.6 1587.1 1831.6 C1587.2 1834.7 1585.8 1842.2 1583.1 1843.5 C1580.5 1844.9 1566 1845.9 1560.6 1845.4 C1555.2 1844.9 1535.2 1840.2 1528.8 1838.3 C1522.5 1836.3 1502.9 1828.2 1497.1 1826.3 C1491.2 1824.5 1473.8 1820.9 1470.6 1819.7 C1467.4 1818.5 1463.7 1815.9 1465.3 1814.4 Z" fill="#6a44a4"/>
<path d="M1491.8 1805.2 C1491.8 1804.1 1508.2 1797.6 1513 1795.9 C1517.7 1794.2 1535.2 1789 1539.4 1787.9 C1543.7 1786.9 1552.4 1784.8 1555.3 1785.3 C1558.2 1785.8 1568 1791.8 1568.6 1793.2 C1569.1 1794.7 1563.5 1798.9 1560.6 1799.9 C1557.7 1800.8 1544.2 1801.8 1539.4 1802.5 C1534.7 1803.2 1517.7 1806.2 1513 1806.5 C1508.2 1806.7 1491.8 1806.2 1491.8 1805.2 Z" fill="#b9a5dc"/>
<path d="M1481.2 1389.4 L1513 1376.2 L1547.4 1366.9 L1592.4 1373.6 L1650.6 1386.8 L1698.3 1410.6 L1735.4 1445.1 L1756.6 1482.1 L1768.5 1524.5 L1773.8 1569.5 L1772.4 1609.2 L1769.8 1641 L1767.1 1662.2 L1751.3 1715.1 L1724.8 1768.1 L1671.8 1773.4 L1618.9 1773.4 L1587.1 1762.8 L1576.5 1741.6 L1573.9 1715.1 L1462.6 1715.1 L1460 1529.8 L1470.6 1450.3 L1478.5 1397.4 Z" fill="#c6c6c6" stroke="#8a8a8a" stroke-width="0.5"/>
<path d="M1481.2 1315.3 L1494.4 1302.1 L1513 1294.7 L1555.3 1291.5 L1555.3 1368.3 L1526.2 1373.6 L1499.7 1381.5 L1481.2 1389.4 Z" fill="#26a398" stroke="#8a8a8a" stroke-width="0.5"/>
<path d="M1555.3 1291.5 L1592.4 1293.6 L1632.1 1300.7 L1685.1 1318 L1650.6 1386.8 L1618.9 1378.9 L1592.4 1373.6 L1555.3 1368.3 Z" fill="#17a3b7" stroke="#8a8a8a" stroke-width="0.5"/>
<path d="M1685.1 1318 L1724.8 1333.3 L1756.6 1351.8 L1785.7 1373.6 L1801.6 1394.7 L1816.1 1422.5 L1738 1471.5 L1724.8 1437.1 L1698.3 1410.6 L1650.6 1386.8 Z" fill="#1d8068" stroke="#8a8a8a" stroke-width="0.5"/>
<path d="M1816.1 1422.5 L1836 1455.6 L1849.2 1490.1 L1859.8 1524.5 L1865.1 1564.2 L1773.8 1558.9 L1769.8 1516.5 L1756.6 1484.8 L1738 1471.5 Z" fill="#0f8a93" stroke="#8a8a8a" stroke-width="0.5"/>
<path d="M1865.1 1564.2 L1863 1606.6 L1772.4 1598.6 L1773.8 1558.9 Z" fill="#18a5a7" stroke="#8a8a8a" stroke-width="0.5"/>
<path d="M1863 1606.6 L1855.8 1643.6 L1849.2 1656.9 L1771.1 1622.5 L1772.4 1598.6 Z" fill="#139a8b" stroke="#8a8a8a" stroke-width="0.5"/>
<path d="M1849.2 1656.9 L1842.6 1682 L1830.7 1686 L1788.3 1656.9 L1770.3 1646.3 L1771.1 1622.5 Z" fill="#2bb24a" stroke="#8a8a8a" stroke-width="0.5"/>
<path d="M1736.7 1720.4 C1738.3 1713 1750.3 1706.1 1753.9 1701.9 C1757.5 1697.7 1768.9 1682.6 1772.4 1678.1 C1776 1673.5 1786.5 1656.9 1789.7 1656.3 C1792.8 1655.8 1800.6 1669.9 1804.2 1672.8 C1807.8 1675.6 1821.5 1683.6 1825.4 1684.7 C1829.3 1685.8 1842.9 1681.9 1843.4 1683.9 C1843.9 1685.9 1833.8 1699.8 1830.7 1704.5 C1827.6 1709.3 1815.9 1725.7 1812.2 1731 C1808.5 1736.3 1797.6 1752.5 1793.6 1757.5 C1789.7 1762.5 1776.7 1777.2 1772.4 1781.3 C1768.2 1785.4 1754.7 1799.1 1751.3 1798.5 C1747.8 1798 1739.5 1783.8 1738 1776 C1736.6 1768.2 1735.1 1727.8 1736.7 1720.4 Z" fill="#5fcbb9" stroke="#8a8a8a" stroke-width="0.5"/>
<path d="M1618.9 1773.4 C1620.2 1771.1 1640.1 1768.5 1645.3 1768.1 C1650.6 1767.7 1666.5 1768.5 1671.8 1769.4 C1677.1 1770.3 1691.7 1776.7 1698.3 1777.4 C1704.9 1778 1732.7 1774 1738 1776 C1743.3 1778 1752.6 1793.1 1751.3 1797.2 C1749.9 1801.3 1730.1 1814 1724.8 1817.1 C1719.5 1820.1 1703.1 1826.6 1698.3 1827.7 C1693.5 1828.7 1680.8 1828.5 1677.1 1827.7 C1673.4 1826.9 1664.4 1822.1 1661.2 1819.7 C1658.1 1817.3 1648.3 1806.7 1645.3 1803.8 C1642.4 1800.9 1634.8 1793.6 1632.1 1790.6 C1629.5 1787.5 1617.5 1775.6 1618.9 1773.4 Z" fill="#52deb0" stroke="#8a8a8a" stroke-width="0.5"/>
<path d="M1666.5 1768.1 C1668.6 1767.7 1691.2 1776.6 1698.3 1777.4 C1705.5 1778.1 1732.7 1774 1738 1776 C1743.3 1778 1752.6 1793.1 1751.3 1797.2 C1749.9 1801.3 1729.3 1814.3 1724.8 1817.1 C1720.3 1819.8 1708.9 1827.3 1706.2 1825 C1703.6 1822.8 1701.2 1798.9 1698.3 1794.6 C1695.4 1790.2 1680.3 1784 1677.1 1781.3 C1673.9 1778.7 1664.4 1768.5 1666.5 1768.1 Z" fill="#47d6a6" stroke="#8a8a8a" stroke-width="0.5"/>
<path d="M1693 1680.7 C1696.7 1675.8 1719 1660.1 1724.8 1655.6 C1730.6 1651.1 1747 1639.1 1751.3 1635.7 C1755.5 1632.3 1765.2 1619.8 1767.1 1621.1 C1769.1 1622.5 1770.6 1643.2 1770.3 1648.9 C1770.1 1654.6 1766.1 1671.4 1764.5 1678.1 C1762.9 1684.7 1755.8 1707.4 1753.9 1715.1 C1752.1 1722.8 1747.7 1748.9 1746 1754.8 C1744.2 1760.8 1741.5 1772.5 1736.7 1774.7 C1731.9 1777 1704.8 1777.9 1698.3 1777.4 C1691.8 1776.8 1675 1774 1671.8 1769.4 C1668.6 1764.8 1664.9 1737.5 1666.5 1731 C1668.1 1724.5 1685.1 1709.6 1687.7 1704.5 C1690.4 1699.5 1689.3 1685.6 1693 1680.7 Z" fill="#90e596" stroke="#8a8a8a" stroke-width="0.5"/>
<path d="M1711.5 1688.7 C1715 1683.6 1736.7 1676.7 1740.7 1678.1 C1744.6 1679.4 1750.7 1694.2 1751.3 1701.9 C1751.8 1709.6 1747.4 1747.6 1746 1754.8 C1744.5 1762.1 1740.9 1772.6 1736.7 1774.7 C1732.5 1776.8 1706.6 1780.7 1703.6 1776 C1700.6 1771.4 1705.5 1737.1 1706.2 1728.4 C1707 1719.6 1708.1 1693.7 1711.5 1688.7 Z" fill="#a5ecaa" stroke="#8a8a8a" stroke-width="0.5"/>
<path d="M1760.5 1662.2 C1762.5 1657.4 1785.4 1653.7 1788.3 1656.9 C1791.2 1660.1 1791.6 1689.2 1789.7 1693.9 C1787.7 1698.7 1771.4 1707.7 1768.5 1704.5 C1765.6 1701.4 1758.5 1666.9 1760.5 1662.2 Z" fill="#b6f0b3" stroke="#8a8a8a" stroke-width="0.5"/>
<path d="M1695.7 1652.9 C1698.3 1649.9 1721.7 1647.2 1724.8 1648.9 C1727.8 1650.7 1728.8 1667.1 1726.1 1670.1 C1723.5 1673.2 1701.3 1681.1 1698.3 1679.4 C1695.3 1677.7 1693 1655.9 1695.7 1652.9 Z" fill="#72b6e6" stroke="#8a8a8a" stroke-width="0.5"/>
<path d="M1587.1 1715.1 C1590.1 1708 1611.7 1694.9 1618.9 1691.3 C1626 1687.7 1652 1681.4 1658.6 1679.4 C1665.2 1677.4 1681.5 1671 1685.1 1671.4 C1688.6 1671.8 1693.8 1679 1694.3 1683.4 C1694.9 1687.7 1692.6 1708 1690.4 1715.1 C1688.1 1722.3 1676.3 1749.4 1671.8 1754.8 C1667.3 1760.3 1650.6 1767.4 1645.3 1769.4 C1640.1 1771.4 1624.6 1775.4 1618.9 1774.7 C1613.2 1774 1591.6 1768.7 1588.4 1762.8 C1585.2 1756.8 1584.1 1722.3 1587.1 1715.1 Z" fill="#66b0e0" stroke="#8a8a8a" stroke-width="0.5"/>
<path d="M1727.4 1484.8 C1729 1482.1 1737.8 1486.9 1740.7 1490.1 C1743.6 1493.2 1753.9 1509.9 1756.6 1516.5 C1759.3 1523.2 1766.4 1548.3 1767.7 1556.3 C1769 1564.2 1769.8 1589.6 1769.8 1596 C1769.7 1602.3 1769 1615.8 1767.1 1619.8 C1765.3 1623.8 1755.5 1632.8 1751.3 1635.7 C1747 1638.6 1729.5 1647.3 1724.8 1648.9 C1720 1650.5 1706.1 1654.2 1703.6 1651.6 C1701.1 1648.9 1698.6 1628 1699.6 1622.5 C1700.7 1616.9 1711.7 1601.3 1714.2 1596 C1716.7 1590.7 1723.2 1574.8 1724.8 1569.5 C1726.4 1564.2 1730.1 1548.3 1730.1 1543 C1730.1 1537.7 1725 1522.4 1724.8 1516.5 C1724.5 1510.7 1725.8 1487.4 1727.4 1484.8 Z" fill="#a2d8f5" stroke="#8a8a8a" stroke-width="0.5"/>
<path d="M1708.9 1519.2 C1711 1514.4 1718.2 1502.2 1719.5 1503.3 C1720.8 1504.4 1722.3 1523.7 1722.1 1529.8 C1722 1535.9 1720 1560.2 1718.2 1564.2 C1716.3 1568.2 1705.6 1570.8 1703.6 1569.5 C1701.6 1568.2 1697.8 1556 1698.3 1551 C1698.8 1545.9 1706.8 1524 1708.9 1519.2 Z" fill="#a9a9a9" stroke="none" stroke-width="0.5"/>
<path d="M1475.9 1434.5 C1477.7 1430 1492 1436.8 1494.4 1439.8 C1496.8 1442.7 1500.2 1459.3 1499.7 1463.6 C1499.2 1467.8 1491.5 1480 1489.1 1482.1 C1486.7 1484.2 1477.2 1489.5 1475.9 1484.8 C1474.6 1480 1474 1439 1475.9 1434.5 Z" fill="#a9a9a9" stroke="none" stroke-width="0.5"/>
<path d="M1481.2 1392.1 C1484.4 1389.2 1506.3 1385.6 1513 1384.2 C1519.6 1382.7 1539.4 1377.8 1547.4 1377.5 C1555.3 1377.3 1583.9 1380 1592.4 1381.5 C1600.9 1383 1624.7 1389.4 1632.1 1392.1 C1639.5 1394.7 1660.4 1404.3 1666.5 1408 C1672.6 1411.7 1689 1424.9 1693 1429.2 C1697 1433.4 1704.7 1445.6 1706.2 1450.3 C1707.8 1455.1 1709.2 1472.1 1708.9 1476.8 C1708.6 1481.6 1705.5 1495.4 1703.6 1498 C1701.7 1500.7 1696.2 1503.3 1690.4 1503.3 C1684.5 1503.3 1652.5 1500.1 1645.3 1498 C1638.2 1495.9 1625.5 1484.2 1618.9 1482.1 C1612.2 1480 1587.1 1477.6 1579.2 1476.8 C1571.2 1476 1546.1 1474.4 1539.4 1474.2 C1532.8 1473.9 1516.9 1476 1513 1474.2 C1509 1472.3 1501.8 1459.6 1499.7 1455.6 C1497.6 1451.7 1493.6 1438.7 1491.8 1434.5 C1489.9 1430.2 1482.2 1417.5 1481.2 1413.3 C1480.1 1409 1478 1395 1481.2 1392.1 Z" fill="#7ed44c" stroke="#5e9f3a" stroke-width="0.5"/>
<path d="M1495.7 1437.1 C1500.8 1433.4 1514.5 1420.6 1526.2 1414.6 C1537.9 1408.6 1552.7 1404 1565.9 1401.4 C1579.2 1398.7 1592.4 1397.4 1605.6 1398.7 C1618.9 1400 1633.4 1404 1645.3 1409.3 C1657.3 1414.6 1669.2 1423.4 1677.1 1430.5 C1685.1 1437.5 1690.1 1443.9 1693 1451.7 C1695.9 1459.4 1695.9 1469.8 1694.3 1476.8 C1692.8 1483.9 1685.5 1491.2 1683.7 1494" fill="none" stroke="#5fa83c" stroke-width="6" stroke-linecap="round"/>
<path d="M1526.2 1462.3 C1530.6 1461.2 1543.8 1457.9 1552.7 1456.2 C1561.5 1454.4 1570.8 1452.6 1579.2 1451.7 C1587.5 1450.7 1595.5 1449.2 1603 1450.3 C1610.5 1451.5 1616.2 1455 1624.2 1458.3 C1632.1 1461.6 1641.8 1466.9 1650.6 1470.2 C1659.5 1473.5 1672.7 1476.8 1677.1 1478.1" fill="none" stroke="#5fa83c" stroke-width="6" stroke-linecap="round"/>
<path d="M1603 1450.3 C1605.2 1453 1610 1460.9 1616.2 1466.2 C1622.4 1471.5 1630.8 1478.1 1640.1 1482.1 C1649.3 1486.1 1664.3 1488.3 1671.8 1490.1 C1679.3 1491.8 1682.9 1492.3 1685.1 1492.7" fill="none" stroke="#5fa83c" stroke-width="5" stroke-linecap="round"/>
<path d="M1475.9 1478.1 C1479.9 1474 1502.6 1475.5 1513 1475.5 C1523.3 1475.5 1568.6 1477.2 1579.2 1478.1 C1589.7 1479.1 1609.6 1482.7 1618.9 1484.8 C1628.1 1486.9 1665.7 1494.8 1671.8 1499.3 C1678 1503.8 1679.5 1517.7 1680.3 1529.8 C1681.1 1541.8 1686.4 1609.6 1680.3 1619.8 C1674.2 1630 1630.3 1630.5 1618.9 1631.7 C1607.4 1632.9 1577.8 1631.5 1565.9 1631.7 C1554 1632 1508.7 1633.8 1499.7 1634.4 C1490.7 1634.9 1478.8 1642.2 1475.9 1637 C1473 1631.9 1470.9 1594.8 1470.6 1582.7 C1470.3 1570.7 1472.7 1527 1473.2 1516.5 C1473.8 1506.1 1471.9 1482.3 1475.9 1478.1 Z" fill="#f58c95" stroke="#c86a70" stroke-width="0.5"/>
<path d="M1481.2 1516.5 C1484.6 1510.5 1507.1 1509.9 1513 1508.6 C1518.8 1507.3 1536 1501.2 1539.4 1503.3 C1542.9 1505.4 1546.6 1520.5 1547.4 1529.8 C1548.2 1539 1549.5 1588.6 1547.4 1596 C1545.3 1603.4 1531.5 1603.9 1526.2 1603.9 C1520.9 1603.9 1499.2 1599.4 1494.4 1596 C1489.7 1592.5 1479.9 1577.4 1478.5 1569.5 C1477.2 1561.6 1477.7 1522.6 1481.2 1516.5 Z" fill="#f79fa7" stroke="#d07a80" stroke-width="0.5"/>
<path d="M1547.4 1529.8 C1550.3 1521.8 1572 1520.5 1579.2 1519.2 C1586.3 1517.9 1612.8 1515.5 1618.9 1516.5 C1625 1517.6 1637.4 1524.5 1640.1 1529.8 C1642.7 1535.1 1647.5 1562.6 1645.3 1569.5 C1643.2 1576.4 1624.7 1594.9 1618.9 1598.6 C1613 1602.3 1594 1606.6 1587.1 1606.6 C1580.2 1606.6 1554 1606.3 1550 1598.6 C1546.1 1590.9 1544.5 1537.7 1547.4 1529.8 Z" fill="#f7a2aa" stroke="#d07a80" stroke-width="0.5"/>
<path d="M1618.9 1484.8 C1622.6 1482.1 1655.4 1490.9 1661.2 1492.7 C1667.1 1494.6 1675.3 1499.6 1677.1 1503.3 C1679 1507 1681.4 1526.9 1679.8 1529.8 C1678.2 1532.7 1664.7 1532.4 1661.2 1532.4 C1657.8 1532.4 1649.1 1531.1 1645.3 1529.8 C1641.6 1528.5 1626.8 1523.7 1624.2 1519.2 C1621.5 1514.7 1615.2 1487.4 1618.9 1484.8 Z" fill="#f48088" stroke="#d07a80" stroke-width="0.5"/>
<path d="M1608.3 1543 C1611.5 1537.7 1634.8 1530.6 1640.1 1529.8 C1645.3 1529 1657.3 1534 1661.2 1535.1 C1665.2 1536.1 1677.9 1531.9 1679.8 1540.4 C1681.7 1548.8 1683.7 1611.6 1680.3 1619.8 C1676.9 1628 1651.5 1623.5 1645.3 1622.5 C1639.2 1621.4 1622.6 1613.2 1618.9 1609.2 C1615.2 1605.2 1609.3 1589.4 1608.3 1582.7 C1607.2 1576.1 1605.1 1548.3 1608.3 1543 Z" fill="#f58890" stroke="#d07a80" stroke-width="0.5"/>
<path d="M1497.1 1603.9 C1503.7 1600.7 1554.8 1601 1565.9 1601.3 C1577 1601.5 1604 1604.2 1608.3 1606.6 C1612.5 1609 1612.5 1622.7 1608.3 1625.1 C1604 1627.5 1576.8 1629.6 1565.9 1630.4 C1555.1 1631.2 1506.6 1635.7 1499.7 1633 C1492.8 1630.4 1490.4 1607.1 1497.1 1603.9 Z" fill="#f28089" stroke="#d07a80" stroke-width="0.5"/>
<ellipse cx="1506.3" cy="1541.7" rx="8.5" ry="19.9" fill="#c8c8c8" stroke="#999" stroke-width="0.5"/>
<path d="M1629.5 1521.8 C1630.5 1521.6 1640.1 1526.9 1642.7 1529.8 C1645.3 1532.7 1654.1 1546.2 1655.9 1551 C1657.8 1555.7 1661.2 1573.2 1661.2 1577.4 C1661.2 1581.7 1657 1593.3 1655.9 1593.3 C1654.9 1593.3 1651.7 1581.7 1650.6 1577.4 C1649.6 1573.2 1647.2 1555.5 1645.3 1551 C1643.5 1546.5 1633.7 1535.3 1632.1 1532.4 C1630.5 1529.5 1628.4 1522.1 1629.5 1521.8 Z" fill="#c6c6c6" stroke="#999" stroke-width="0.4"/>
<path d="M1499.7 1634.4 C1504 1633.4 1531.5 1632.1 1539.4 1631.7 C1547.4 1631.3 1572.3 1631.1 1579.2 1630.4 C1586 1629.7 1602.2 1627.2 1608.3 1625.1 C1614.4 1623 1633.7 1609.6 1640.1 1609.2 C1646.4 1608.8 1672.6 1618.5 1671.8 1621.1 C1671 1623.8 1641.4 1634 1632.1 1635.7 C1622.8 1637.4 1589.7 1637.8 1579.2 1638.3 C1568.6 1638.9 1534.4 1640.7 1526.2 1641 C1518 1641.3 1499.7 1641.7 1497.1 1641 C1494.4 1640.3 1495.5 1635.3 1499.7 1634.4 Z" fill="#c6c6c6"/>
<path d="M1464 1641 C1466.2 1636.2 1481.3 1639.1 1483.8 1641 C1486.3 1642.8 1486.2 1657.3 1489.1 1659.5 C1492 1661.8 1507.9 1663.8 1513 1663.5 C1518 1663.2 1531.5 1658.9 1539.4 1656.9 C1547.4 1654.9 1581.8 1646.2 1592.4 1643.6 C1603 1641.1 1636.5 1634 1645.3 1631.7 C1654.2 1629.5 1679.5 1620.2 1681.1 1621.1 C1682.7 1622.1 1666.9 1637.2 1661.2 1641 C1655.5 1644.8 1631 1655.8 1624.2 1659.5 C1617.3 1663.2 1596.8 1674.6 1592.4 1678.1 C1588 1681.5 1582.3 1690.2 1580.5 1693.9 C1578.7 1697.7 1574.9 1710.4 1574.4 1715.1 C1573.9 1719.9 1575.8 1736.3 1575.2 1741.6 C1574.6 1746.9 1571.6 1763.3 1568.6 1768.1 C1565.5 1772.9 1550.3 1786.4 1544.7 1789.3 C1539.2 1792.2 1518.8 1796.2 1513 1797.2 C1507.1 1798.3 1491.5 1799.2 1486.5 1799.9 C1481.4 1800.5 1465.3 1809.7 1462.6 1803.8 C1460 1798 1460.1 1753.1 1460 1741.6 C1459.9 1730.1 1460.9 1698.7 1461.3 1688.7 C1461.7 1678.6 1461.7 1645.8 1464 1641 Z" fill="#ef4a3d" stroke="#c23a30" stroke-width="0.5"/>
<path d="M1486.5 1642.3 C1491.5 1640.1 1528.8 1637.8 1539.4 1637 C1550 1636.2 1581.8 1635.2 1592.4 1634.4 C1603 1633.6 1636.5 1630.4 1645.3 1629.1 C1654.2 1627.8 1683.7 1619.3 1681.1 1621.1 C1678.4 1623 1630.4 1643.9 1618.9 1647.6 C1607.4 1651.3 1576.5 1656.7 1565.9 1658.2 C1555.3 1659.7 1520.6 1662 1513 1662.2 C1505.3 1662.3 1491.8 1661.5 1489.1 1659.5 C1486.5 1657.5 1481.4 1644.6 1486.5 1642.3 Z" fill="#f49199" stroke="#c86a70" stroke-width="0.5"/>
<path d="M1465.3 1728.4 C1469 1719.6 1492.8 1714.9 1499.7 1715.1 C1506.6 1715.4 1529.4 1725.7 1534.1 1731 C1538.9 1736.3 1546.8 1762.3 1547.4 1768.1 C1547.9 1773.9 1542.9 1786.4 1539.4 1789.3 C1536 1792.2 1518.8 1796.2 1513 1797.2 C1507.1 1798.3 1486.2 1799.3 1481.2 1799.9 C1476.2 1800.4 1464.2 1809.7 1462.6 1802.5 C1461.1 1795.4 1461.6 1737.1 1465.3 1728.4 Z" fill="#df3f33" stroke="none" stroke-width="0.5"/>
<path d="M1494.4 1746.9 C1497.3 1744.3 1516.7 1740.8 1520.9 1741.6 C1525.1 1742.4 1535.5 1751.1 1536.8 1754.8 C1538.1 1758.6 1537.3 1775.8 1534.1 1778.7 C1531 1781.6 1509.2 1785 1505 1784 C1500.8 1782.9 1492.8 1771.8 1491.8 1768.1 C1490.7 1764.4 1491.5 1749.6 1494.4 1746.9 Z" fill="#d63a2f" stroke="none" stroke-width="0.5"/>
<ellipse cx="1507.1" cy="1678.1" rx="7.4" ry="7.9" fill="#c8c8c8"/>
<ellipse cx="1523" cy="1758.8" rx="6.6" ry="6.6" fill="#c8c8c8"/>
<path d="M1460 1803.8 C1461.6 1803 1473.8 1802.1 1475.9 1802.5 C1478 1802.9 1481.7 1806.9 1481.2 1807.8 C1480.7 1808.7 1472.7 1811.5 1470.6 1811.8 C1468.5 1812 1461.1 1811.2 1460 1810.4 C1458.9 1809.7 1458.4 1804.6 1460 1803.8 Z" fill="#e03a2e" stroke="none" stroke-width="0.5"/>
<g font-family="'Liberation Sans', sans-serif" fill="#333"><text x="1502.4" y="1291.5" font-size="5.9" transform="rotate(-20 1502.4 1291.5)">RSPd</text><text x="1616.2" y="1295.4" font-size="5.9" transform="rotate(5 1616.2 1295.4)">PTLp</text><text x="1740.7" y="1341.8" font-size="5.9" transform="rotate(30 1740.7 1341.8)">SSp</text><text x="1666.5" y="1376.2" font-size="9.3" transform="rotate(0 1666.5 1376.2)">CTX</text><text x="1833.3" y="1437.1" font-size="5.9" transform="rotate(65 1833.3 1437.1)">AUDd</text><text x="1857.2" y="1490.1" font-size="5.9" transform="rotate(80 1857.2 1490.1)">AUDp</text><text x="1867.8" y="1540.4" font-size="5.9" transform="rotate(85 1867.8 1540.4)">AUDv</text><text x="1869.1" y="1588" font-size="5.9" transform="rotate(90 1869.1 1588)">TEa</text><text x="1861.1" y="1625.1" font-size="5.9" transform="rotate(100 1861.1 1625.1)">ECT</text><text x="1851.9" y="1654.2" font-size="5.9" transform="rotate(105 1851.9 1654.2)">PERI</text><text x="1837.3" y="1693.9" font-size="5.9" transform="rotate(115 1837.3 1693.9)">ENTl</text><text x="1801.6" y="1749.6" font-size="5.9" transform="rotate(125 1801.6 1749.6)">PIR</text><text x="1724.8" y="1836.9" font-size="5.9" transform="rotate(140 1724.8 1836.9)">PAA</text><text x="1661.2" y="1839.6" font-size="5.9" transform="rotate(35 1661.2 1839.6)">COApl</text><text x="1618.9" y="1794.6" font-size="5.9" transform="rotate(45 1618.9 1794.6)">COApm</text><text x="1550" y="1426.5" font-size="8.5" transform="rotate(0 1550 1426.5)">HPF</text><text x="1576.5" y="1434.5" font-size="6.4" transform="rotate(0 1576.5 1434.5)">DG</text><text x="1621.5" y="1430.5" font-size="6.8" transform="rotate(0 1621.5 1430.5)">CA1</text><text x="1653.3" y="1450.3" font-size="6.8" transform="rotate(0 1653.3 1450.3)">CA2</text><text x="1655.9" y="1467.6" font-size="6.8" transform="rotate(0 1655.9 1467.6)">CA3</text><text x="1550" y="1556.3" font-size="9.3" transform="rotate(0 1550 1556.3)">TH</text><text x="1520.9" y="1704.5" font-size="9.3" transform="rotate(0 1520.9 1704.5)">HY</text><text x="1740.7" y="1596" font-size="6.8" transform="rotate(0 1740.7 1596)">CP</text><text x="1730.1" y="1667.5" font-size="5.1" transform="rotate(0 1730.1 1667.5)">LA</text><text x="1698.3" y="1715.1" font-size="5.1" transform="rotate(0 1698.3 1715.1)">BLAa</text><text x="1730.1" y="1717.8" font-size="5.1" transform="rotate(0 1730.1 1717.8)">BLAp</text><text x="1677.1" y="1739" font-size="5.1" transform="rotate(0 1677.1 1739)">BMAp</text><text x="1642.7" y="1709.8" font-size="5.1" transform="rotate(0 1642.7 1709.8)">MEApd</text><text x="1600.3" y="1739" font-size="5.1" transform="rotate(0 1600.3 1739)">MEApv</text><text x="1697" y="1668.8" font-size="5.1" transform="rotate(0 1697 1668.8)">CEAl</text><text x="1568.6" y="1506" font-size="5.1" transform="rotate(0 1568.6 1506)">LP</text><text x="1636.1" y="1503.3" font-size="5.1" transform="rotate(0 1636.1 1503.3)">LGd</text><text x="1661.2" y="1533.8" font-size="5.1" transform="rotate(0 1661.2 1533.8)">LGv</text><text x="1568.6" y="1561.6" font-size="5.1" transform="rotate(0 1568.6 1561.6)">PO</text><text x="1661.2" y="1596" font-size="5.1" transform="rotate(0 1661.2 1596)">RT</text><text x="1520.9" y="1648.9" font-size="5.1" transform="rotate(0 1520.9 1648.9)">VM</text><text x="1481.2" y="1515.2" font-size="5.1" transform="rotate(0 1481.2 1515.2)">PVT</text><text x="1489.1" y="1490.1" font-size="4.7" transform="rotate(0 1489.1 1490.1)">MH</text><text x="1513" y="1499.3" font-size="4.7" transform="rotate(0 1513 1499.3)">LH</text><text x="1475.9" y="1610.5" font-size="5.1" transform="rotate(0 1475.9 1610.5)">CM</text><text x="1515.6" y="1572.1" font-size="4.7" transform="rotate(0 1515.6 1572.1)">PF</text><text x="1503.7" y="1547" font-size="4.7" transform="rotate(0 1503.7 1547)">fr</text><text x="1555.3" y="1635.7" font-size="5.1" transform="rotate(0 1555.3 1635.7)">ml</text><text x="1531.5" y="1373.6" font-size="4.7" transform="rotate(-20 1531.5 1373.6)">cing</text><text x="1491.8" y="1401.4" font-size="4.7" transform="rotate(0 1491.8 1401.4)">cc</text><text x="1481.2" y="1455.6" font-size="4.7" transform="rotate(0 1481.2 1455.6)">V3</text><text x="1576.5" y="1683.4" font-size="4.7" transform="rotate(0 1576.5 1683.4)">TTN</text><text x="1536.8" y="1725.7" font-size="4.7" transform="rotate(0 1536.8 1725.7)">LHA</text><text x="1801.6" y="1749.6" font-size="5.9" transform="rotate(125 1801.6 1749.6)">PIR</text></g>
<defs><clipPath id="dclip"><path d="M424.9 2156.9 C416.4 2157 406.7 2157.9 402.2 2158.3 C397.7 2158.7 383 2160.2 379.6 2161.2 C376.2 2162.2 372.2 2167.3 368.2 2168.2 C364.2 2169 345.6 2169.5 339.9 2169.7 C334.2 2169.8 317.3 2169.7 311.6 2169.7 C305.9 2169.7 289 2169.4 283.3 2169.7 C277.6 2170 260.6 2171.7 254.9 2172.5 C249.2 2173.3 232.3 2177.1 226.6 2178.2 C220.9 2179.3 204 2182.1 198.3 2183.8 C192.6 2185.5 175.7 2192.5 170 2195.1 C164.3 2197.7 147.3 2206.2 141.6 2209.3 C135.9 2212.4 118.1 2222.9 113.3 2226.3 C108.5 2229.7 96.9 2240.2 93.5 2243.3 C90.1 2246.4 81.6 2254.1 79.3 2257.5 C77 2260.9 72.5 2273.1 70.8 2277.3 C69.1 2281.6 64 2295.5 62.3 2300 C60.6 2304.5 55.5 2318.1 53.8 2322.6 C52.1 2327.1 47 2340.5 45.3 2345.3 C43.6 2350.1 38.2 2365.4 36.8 2370.8 C35.4 2376.2 32.6 2393.3 31.2 2399.1 C29.8 2404.8 24 2421.1 22.7 2428.3 C21.4 2435.5 19 2463.7 18.4 2470.8 C17.8 2477.9 16.9 2493.4 17 2499.1 C17.1 2504.8 18.7 2521.8 19.8 2527.5 C20.9 2533.2 26 2550.1 28.3 2555.8 C30.6 2561.5 39.7 2578.4 42.5 2584.1 C45.3 2589.8 53.6 2607.6 56.7 2612.4 C59.8 2617.2 69.4 2628.1 73.6 2632.3 C77.8 2636.6 94.6 2650.7 99.1 2654.9 C103.6 2659.2 114.8 2671.7 119 2674.8 C123.2 2677.9 135.1 2684.4 141.6 2686.1 C148.1 2687.8 175.6 2691 184.1 2691.8 C192.6 2692.7 218.1 2694.2 226.6 2694.6 C235.1 2695 262 2696 269.1 2696 C276.2 2696 291.7 2695.6 297.4 2694.6 C303.1 2693.6 321.4 2687.7 325.7 2686.1 C329.9 2684.5 337.6 2679.3 339.9 2679 C342.2 2678.7 346.1 2682 348.4 2683.3 C350.7 2684.6 359.2 2690.5 362.6 2691.8 C366 2693.1 377.6 2695.4 382.4 2696 C387.2 2696.6 405 2697.1 410.7 2697.4 C416.4 2697.7 434.5 2698.5 439 2698.8 C443.5 2699.1 454.3 2699.9 456 2700 C457.7 2700.1 454.3 2700.1 456 2700 C457.7 2699.9 468.5 2699.1 473 2698.8 C477.5 2698.5 495.6 2697.7 501.3 2697.4 C507 2697.1 524.8 2696.6 529.6 2696 C534.4 2695.4 546 2693.1 549.4 2691.8 C552.8 2690.5 561.3 2684.6 563.6 2683.3 C565.9 2682 569.8 2678.7 572.1 2679 C574.4 2679.3 582 2684.5 586.3 2686.1 C590.5 2687.7 608.9 2693.6 614.6 2694.6 C620.3 2695.6 635.8 2696 642.9 2696 C650 2696 676.9 2695 685.4 2694.6 C693.9 2694.2 719.4 2692.7 727.9 2691.8 C736.4 2691 763.9 2687.8 770.4 2686.1 C776.9 2684.4 788.8 2677.9 793 2674.8 C797.2 2671.7 808.4 2659.2 812.9 2654.9 C817.4 2650.7 834.2 2636.6 838.4 2632.3 C842.6 2628.1 852.2 2617.2 855.3 2612.4 C858.4 2607.6 866.7 2589.8 869.5 2584.1 C872.3 2578.4 881.4 2561.5 883.7 2555.8 C886 2550.1 891.1 2533.2 892.2 2527.5 C893.3 2521.8 894.9 2504.8 895 2499.1 C895.1 2493.4 894.2 2477.9 893.6 2470.8 C893 2463.7 890.6 2435.5 889.3 2428.3 C888 2421.1 882.2 2404.8 880.8 2399.1 C879.4 2393.3 876.6 2376.2 875.2 2370.8 C873.8 2365.4 868.4 2350.1 866.7 2345.3 C865 2340.5 859.9 2327.1 858.2 2322.6 C856.5 2318.1 851.4 2304.5 849.7 2300 C848 2295.5 842.9 2281.6 841.2 2277.3 C839.5 2273.1 835 2260.9 832.7 2257.5 C830.4 2254.1 821.9 2246.4 818.5 2243.3 C815.1 2240.2 803.5 2229.7 798.7 2226.3 C793.9 2222.9 776.1 2212.4 770.4 2209.3 C764.7 2206.2 747.7 2197.7 742 2195.1 C736.3 2192.5 719.4 2185.5 713.7 2183.8 C708 2182.1 691.1 2179.3 685.4 2178.2 C679.7 2177.1 662.8 2173.3 657.1 2172.5 C651.4 2171.7 634.4 2170 628.7 2169.7 C623 2169.4 606.1 2169.7 600.4 2169.7 C594.7 2169.7 577.8 2169.8 572.1 2169.7 C566.4 2169.5 547.8 2169 543.8 2168.2 C539.8 2167.3 535.8 2162.2 532.4 2161.2 C529 2160.2 514.3 2158.7 509.8 2158.3 C505.3 2157.9 495.6 2157 487.1 2156.9 C478.6 2156.8 433.4 2156.8 424.9 2156.9 Z"/></clipPath></defs>
<path d="M235.1 2156.9 C235.7 2156.5 238.8 2152.8 240.8 2152.7 C242.7 2152.5 252.4 2154.4 254.9 2155.5 C257.5 2156.6 264.6 2162.6 266.3 2164 C268 2165.4 270.2 2169.9 271.9 2169.7 C273.6 2169.4 280.7 2162.3 283.3 2161.2 C285.8 2160 294.9 2158 297.4 2158.3 C300 2158.6 305.9 2163 308.7 2164 C311.6 2165 321.2 2167.8 325.7 2168.2 C330.3 2168.7 349.3 2168.5 354.1 2168.2 C358.9 2168 371.3 2166.3 373.9 2165.4 C376.4 2164.6 380.1 2161 379.6 2159.7 C379 2158.5 370.8 2153.9 368.2 2152.7 C365.7 2151.4 355.6 2148 354.1 2147 C352.5 2146 352.8 2143.2 352.7 2142.7" fill="none" stroke="#a8e0a0" stroke-width="6" stroke-linecap="round"/>
<path d="M235.1 2156.9 C235.7 2156.5 238.8 2152.8 240.8 2152.7 C242.7 2152.5 252.4 2154.4 254.9 2155.5 C257.5 2156.6 264.6 2162.6 266.3 2164 C268 2165.4 270.2 2169.9 271.9 2169.7 C273.6 2169.4 280.7 2162.3 283.3 2161.2 C285.8 2160 294.9 2158 297.4 2158.3 C300 2158.6 305.9 2163 308.7 2164 C311.6 2165 321.2 2167.8 325.7 2168.2 C330.3 2168.7 349.3 2168.5 354.1 2168.2 C358.9 2168 371.3 2166.3 373.9 2165.4 C376.4 2164.6 380.1 2161 379.6 2159.7 C379 2158.5 370.8 2153.9 368.2 2152.7 C365.7 2151.4 355.6 2148 354.1 2147 C352.5 2146 352.8 2143.2 352.7 2142.7" fill="none" stroke="#1e6e2a" stroke-width="2.5" stroke-linecap="round"/>
<path d="M352.7 2142.7 C353.9 2143 362.4 2144.6 365.4 2145.6 C368.4 2146.6 378.7 2151.2 382.4 2152.7 C386.1 2154.1 400.2 2159 402.2 2159.7" fill="none" stroke="#a8e0a0" stroke-width="6" stroke-linecap="round"/>
<path d="M352.7 2142.7 C353.9 2143 362.4 2144.6 365.4 2145.6 C368.4 2146.6 378.7 2151.2 382.4 2152.7 C386.1 2154.1 400.2 2159 402.2 2159.7" fill="none" stroke="#1e6e2a" stroke-width="2.5" stroke-linecap="round"/>
<path d="M424.9 2156.9 C416.4 2157 406.7 2157.9 402.2 2158.3 C397.7 2158.7 383 2160.2 379.6 2161.2 C376.2 2162.2 372.2 2167.3 368.2 2168.2 C364.2 2169 345.6 2169.5 339.9 2169.7 C334.2 2169.8 317.3 2169.7 311.6 2169.7 C305.9 2169.7 289 2169.4 283.3 2169.7 C277.6 2170 260.6 2171.7 254.9 2172.5 C249.2 2173.3 232.3 2177.1 226.6 2178.2 C220.9 2179.3 204 2182.1 198.3 2183.8 C192.6 2185.5 175.7 2192.5 170 2195.1 C164.3 2197.7 147.3 2206.2 141.6 2209.3 C135.9 2212.4 118.1 2222.9 113.3 2226.3 C108.5 2229.7 96.9 2240.2 93.5 2243.3 C90.1 2246.4 81.6 2254.1 79.3 2257.5 C77 2260.9 72.5 2273.1 70.8 2277.3 C69.1 2281.6 64 2295.5 62.3 2300 C60.6 2304.5 55.5 2318.1 53.8 2322.6 C52.1 2327.1 47 2340.5 45.3 2345.3 C43.6 2350.1 38.2 2365.4 36.8 2370.8 C35.4 2376.2 32.6 2393.3 31.2 2399.1 C29.8 2404.8 24 2421.1 22.7 2428.3 C21.4 2435.5 19 2463.7 18.4 2470.8 C17.8 2477.9 16.9 2493.4 17 2499.1 C17.1 2504.8 18.7 2521.8 19.8 2527.5 C20.9 2533.2 26 2550.1 28.3 2555.8 C30.6 2561.5 39.7 2578.4 42.5 2584.1 C45.3 2589.8 53.6 2607.6 56.7 2612.4 C59.8 2617.2 69.4 2628.1 73.6 2632.3 C77.8 2636.6 94.6 2650.7 99.1 2654.9 C103.6 2659.2 114.8 2671.7 119 2674.8 C123.2 2677.9 135.1 2684.4 141.6 2686.1 C148.1 2687.8 175.6 2691 184.1 2691.8 C192.6 2692.7 218.1 2694.2 226.6 2694.6 C235.1 2695 262 2696 269.1 2696 C276.2 2696 291.7 2695.6 297.4 2694.6 C303.1 2693.6 321.4 2687.7 325.7 2686.1 C329.9 2684.5 337.6 2679.3 339.9 2679 C342.2 2678.7 346.1 2682 348.4 2683.3 C350.7 2684.6 359.2 2690.5 362.6 2691.8 C366 2693.1 377.6 2695.4 382.4 2696 C387.2 2696.6 405 2697.1 410.7 2697.4 C416.4 2697.7 434.5 2698.5 439 2698.8 C443.5 2699.1 454.3 2699.9 456 2700 C457.7 2700.1 454.3 2700.1 456 2700 C457.7 2699.9 468.5 2699.1 473 2698.8 C477.5 2698.5 495.6 2697.7 501.3 2697.4 C507 2697.1 524.8 2696.6 529.6 2696 C534.4 2695.4 546 2693.1 549.4 2691.8 C552.8 2690.5 561.3 2684.6 563.6 2683.3 C565.9 2682 569.8 2678.7 572.1 2679 C574.4 2679.3 582 2684.5 586.3 2686.1 C590.5 2687.7 608.9 2693.6 614.6 2694.6 C620.3 2695.6 635.8 2696 642.9 2696 C650 2696 676.9 2695 685.4 2694.6 C693.9 2694.2 719.4 2692.7 727.9 2691.8 C736.4 2691 763.9 2687.8 770.4 2686.1 C776.9 2684.4 788.8 2677.9 793 2674.8 C797.2 2671.7 808.4 2659.2 812.9 2654.9 C817.4 2650.7 834.2 2636.6 838.4 2632.3 C842.6 2628.1 852.2 2617.2 855.3 2612.4 C858.4 2607.6 866.7 2589.8 869.5 2584.1 C872.3 2578.4 881.4 2561.5 883.7 2555.8 C886 2550.1 891.1 2533.2 892.2 2527.5 C893.3 2521.8 894.9 2504.8 895 2499.1 C895.1 2493.4 894.2 2477.9 893.6 2470.8 C893 2463.7 890.6 2435.5 889.3 2428.3 C888 2421.1 882.2 2404.8 880.8 2399.1 C879.4 2393.3 876.6 2376.2 875.2 2370.8 C873.8 2365.4 868.4 2350.1 866.7 2345.3 C865 2340.5 859.9 2327.1 858.2 2322.6 C856.5 2318.1 851.4 2304.5 849.7 2300 C848 2295.5 842.9 2281.6 841.2 2277.3 C839.5 2273.1 835 2260.9 832.7 2257.5 C830.4 2254.1 821.9 2246.4 818.5 2243.3 C815.1 2240.2 803.5 2229.7 798.7 2226.3 C793.9 2222.9 776.1 2212.4 770.4 2209.3 C764.7 2206.2 747.7 2197.7 742 2195.1 C736.3 2192.5 719.4 2185.5 713.7 2183.8 C708 2182.1 691.1 2179.3 685.4 2178.2 C679.7 2177.1 662.8 2173.3 657.1 2172.5 C651.4 2171.7 634.4 2170 628.7 2169.7 C623 2169.4 606.1 2169.7 600.4 2169.7 C594.7 2169.7 577.8 2169.8 572.1 2169.7 C566.4 2169.5 547.8 2169 543.8 2168.2 C539.8 2167.3 535.8 2162.2 532.4 2161.2 C529 2160.2 514.3 2158.7 509.8 2158.3 C505.3 2157.9 495.6 2157 487.1 2156.9 C478.6 2156.8 433.4 2156.8 424.9 2156.9 Z" fill="none" stroke="#a8e0a0" stroke-width="7"/>
<path d="M424.9 2156.9 C416.4 2157 406.7 2157.9 402.2 2158.3 C397.7 2158.7 383 2160.2 379.6 2161.2 C376.2 2162.2 372.2 2167.3 368.2 2168.2 C364.2 2169 345.6 2169.5 339.9 2169.7 C334.2 2169.8 317.3 2169.7 311.6 2169.7 C305.9 2169.7 289 2169.4 283.3 2169.7 C277.6 2170 260.6 2171.7 254.9 2172.5 C249.2 2173.3 232.3 2177.1 226.6 2178.2 C220.9 2179.3 204 2182.1 198.3 2183.8 C192.6 2185.5 175.7 2192.5 170 2195.1 C164.3 2197.7 147.3 2206.2 141.6 2209.3 C135.9 2212.4 118.1 2222.9 113.3 2226.3 C108.5 2229.7 96.9 2240.2 93.5 2243.3 C90.1 2246.4 81.6 2254.1 79.3 2257.5 C77 2260.9 72.5 2273.1 70.8 2277.3 C69.1 2281.6 64 2295.5 62.3 2300 C60.6 2304.5 55.5 2318.1 53.8 2322.6 C52.1 2327.1 47 2340.5 45.3 2345.3 C43.6 2350.1 38.2 2365.4 36.8 2370.8 C35.4 2376.2 32.6 2393.3 31.2 2399.1 C29.8 2404.8 24 2421.1 22.7 2428.3 C21.4 2435.5 19 2463.7 18.4 2470.8 C17.8 2477.9 16.9 2493.4 17 2499.1 C17.1 2504.8 18.7 2521.8 19.8 2527.5 C20.9 2533.2 26 2550.1 28.3 2555.8 C30.6 2561.5 39.7 2578.4 42.5 2584.1 C45.3 2589.8 53.6 2607.6 56.7 2612.4 C59.8 2617.2 69.4 2628.1 73.6 2632.3 C77.8 2636.6 94.6 2650.7 99.1 2654.9 C103.6 2659.2 114.8 2671.7 119 2674.8 C123.2 2677.9 135.1 2684.4 141.6 2686.1 C148.1 2687.8 175.6 2691 184.1 2691.8 C192.6 2692.7 218.1 2694.2 226.6 2694.6 C235.1 2695 262 2696 269.1 2696 C276.2 2696 291.7 2695.6 297.4 2694.6 C303.1 2693.6 321.4 2687.7 325.7 2686.1 C329.9 2684.5 337.6 2679.3 339.9 2679 C342.2 2678.7 346.1 2682 348.4 2683.3 C350.7 2684.6 359.2 2690.5 362.6 2691.8 C366 2693.1 377.6 2695.4 382.4 2696 C387.2 2696.6 405 2697.1 410.7 2697.4 C416.4 2697.7 434.5 2698.5 439 2698.8 C443.5 2699.1 454.3 2699.9 456 2700 C457.7 2700.1 454.3 2700.1 456 2700 C457.7 2699.9 468.5 2699.1 473 2698.8 C477.5 2698.5 495.6 2697.7 501.3 2697.4 C507 2697.1 524.8 2696.6 529.6 2696 C534.4 2695.4 546 2693.1 549.4 2691.8 C552.8 2690.5 561.3 2684.6 563.6 2683.3 C565.9 2682 569.8 2678.7 572.1 2679 C574.4 2679.3 582 2684.5 586.3 2686.1 C590.5 2687.7 608.9 2693.6 614.6 2694.6 C620.3 2695.6 635.8 2696 642.9 2696 C650 2696 676.9 2695 685.4 2694.6 C693.9 2694.2 719.4 2692.7 727.9 2691.8 C736.4 2691 763.9 2687.8 770.4 2686.1 C776.9 2684.4 788.8 2677.9 793 2674.8 C797.2 2671.7 808.4 2659.2 812.9 2654.9 C817.4 2650.7 834.2 2636.6 838.4 2632.3 C842.6 2628.1 852.2 2617.2 855.3 2612.4 C858.4 2607.6 866.7 2589.8 869.5 2584.1 C872.3 2578.4 881.4 2561.5 883.7 2555.8 C886 2550.1 891.1 2533.2 892.2 2527.5 C893.3 2521.8 894.9 2504.8 895 2499.1 C895.1 2493.4 894.2 2477.9 893.6 2470.8 C893 2463.7 890.6 2435.5 889.3 2428.3 C888 2421.1 882.2 2404.8 880.8 2399.1 C879.4 2393.3 876.6 2376.2 875.2 2370.8 C873.8 2365.4 868.4 2350.1 866.7 2345.3 C865 2340.5 859.9 2327.1 858.2 2322.6 C856.5 2318.1 851.4 2304.5 849.7 2300 C848 2295.5 842.9 2281.6 841.2 2277.3 C839.5 2273.1 835 2260.9 832.7 2257.5 C830.4 2254.1 821.9 2246.4 818.5 2243.3 C815.1 2240.2 803.5 2229.7 798.7 2226.3 C793.9 2222.9 776.1 2212.4 770.4 2209.3 C764.7 2206.2 747.7 2197.7 742 2195.1 C736.3 2192.5 719.4 2185.5 713.7 2183.8 C708 2182.1 691.1 2179.3 685.4 2178.2 C679.7 2177.1 662.8 2173.3 657.1 2172.5 C651.4 2171.7 634.4 2170 628.7 2169.7 C623 2169.4 606.1 2169.7 600.4 2169.7 C594.7 2169.7 577.8 2169.8 572.1 2169.7 C566.4 2169.5 547.8 2169 543.8 2168.2 C539.8 2167.3 535.8 2162.2 532.4 2161.2 C529 2160.2 514.3 2158.7 509.8 2158.3 C505.3 2157.9 495.6 2157 487.1 2156.9 C478.6 2156.8 433.4 2156.8 424.9 2156.9 Z" fill="none" stroke="#1e6e2a" stroke-width="3"/>
<path d="M424.9 2156.9 C416.4 2157 406.7 2157.9 402.2 2158.3 C397.7 2158.7 383 2160.2 379.6 2161.2 C376.2 2162.2 372.2 2167.3 368.2 2168.2 C364.2 2169 345.6 2169.5 339.9 2169.7 C334.2 2169.8 317.3 2169.7 311.6 2169.7 C305.9 2169.7 289 2169.4 283.3 2169.7 C277.6 2170 260.6 2171.7 254.9 2172.5 C249.2 2173.3 232.3 2177.1 226.6 2178.2 C220.9 2179.3 204 2182.1 198.3 2183.8 C192.6 2185.5 175.7 2192.5 170 2195.1 C164.3 2197.7 147.3 2206.2 141.6 2209.3 C135.9 2212.4 118.1 2222.9 113.3 2226.3 C108.5 2229.7 96.9 2240.2 93.5 2243.3 C90.1 2246.4 81.6 2254.1 79.3 2257.5 C77 2260.9 72.5 2273.1 70.8 2277.3 C69.1 2281.6 64 2295.5 62.3 2300 C60.6 2304.5 55.5 2318.1 53.8 2322.6 C52.1 2327.1 47 2340.5 45.3 2345.3 C43.6 2350.1 38.2 2365.4 36.8 2370.8 C35.4 2376.2 32.6 2393.3 31.2 2399.1 C29.8 2404.8 24 2421.1 22.7 2428.3 C21.4 2435.5 19 2463.7 18.4 2470.8 C17.8 2477.9 16.9 2493.4 17 2499.1 C17.1 2504.8 18.7 2521.8 19.8 2527.5 C20.9 2533.2 26 2550.1 28.3 2555.8 C30.6 2561.5 39.7 2578.4 42.5 2584.1 C45.3 2589.8 53.6 2607.6 56.7 2612.4 C59.8 2617.2 69.4 2628.1 73.6 2632.3 C77.8 2636.6 94.6 2650.7 99.1 2654.9 C103.6 2659.2 114.8 2671.7 119 2674.8 C123.2 2677.9 135.1 2684.4 141.6 2686.1 C148.1 2687.8 175.6 2691 184.1 2691.8 C192.6 2692.7 218.1 2694.2 226.6 2694.6 C235.1 2695 262 2696 269.1 2696 C276.2 2696 291.7 2695.6 297.4 2694.6 C303.1 2693.6 321.4 2687.7 325.7 2686.1 C329.9 2684.5 337.6 2679.3 339.9 2679 C342.2 2678.7 346.1 2682 348.4 2683.3 C350.7 2684.6 359.2 2690.5 362.6 2691.8 C366 2693.1 377.6 2695.4 382.4 2696 C387.2 2696.6 405 2697.1 410.7 2697.4 C416.4 2697.7 434.5 2698.5 439 2698.8 C443.5 2699.1 454.3 2699.9 456 2700 C457.7 2700.1 454.3 2700.1 456 2700 C457.7 2699.9 468.5 2699.1 473 2698.8 C477.5 2698.5 495.6 2697.7 501.3 2697.4 C507 2697.1 524.8 2696.6 529.6 2696 C534.4 2695.4 546 2693.1 549.4 2691.8 C552.8 2690.5 561.3 2684.6 563.6 2683.3 C565.9 2682 569.8 2678.7 572.1 2679 C574.4 2679.3 582 2684.5 586.3 2686.1 C590.5 2687.7 608.9 2693.6 614.6 2694.6 C620.3 2695.6 635.8 2696 642.9 2696 C650 2696 676.9 2695 685.4 2694.6 C693.9 2694.2 719.4 2692.7 727.9 2691.8 C736.4 2691 763.9 2687.8 770.4 2686.1 C776.9 2684.4 788.8 2677.9 793 2674.8 C797.2 2671.7 808.4 2659.2 812.9 2654.9 C817.4 2650.7 834.2 2636.6 838.4 2632.3 C842.6 2628.1 852.2 2617.2 855.3 2612.4 C858.4 2607.6 866.7 2589.8 869.5 2584.1 C872.3 2578.4 881.4 2561.5 883.7 2555.8 C886 2550.1 891.1 2533.2 892.2 2527.5 C893.3 2521.8 894.9 2504.8 895 2499.1 C895.1 2493.4 894.2 2477.9 893.6 2470.8 C893 2463.7 890.6 2435.5 889.3 2428.3 C888 2421.1 882.2 2404.8 880.8 2399.1 C879.4 2393.3 876.6 2376.2 875.2 2370.8 C873.8 2365.4 868.4 2350.1 866.7 2345.3 C865 2340.5 859.9 2327.1 858.2 2322.6 C856.5 2318.1 851.4 2304.5 849.7 2300 C848 2295.5 842.9 2281.6 841.2 2277.3 C839.5 2273.1 835 2260.9 832.7 2257.5 C830.4 2254.1 821.9 2246.4 818.5 2243.3 C815.1 2240.2 803.5 2229.7 798.7 2226.3 C793.9 2222.9 776.1 2212.4 770.4 2209.3 C764.7 2206.2 747.7 2197.7 742 2195.1 C736.3 2192.5 719.4 2185.5 713.7 2183.8 C708 2182.1 691.1 2179.3 685.4 2178.2 C679.7 2177.1 662.8 2173.3 657.1 2172.5 C651.4 2171.7 634.4 2170 628.7 2169.7 C623 2169.4 606.1 2169.7 600.4 2169.7 C594.7 2169.7 577.8 2169.8 572.1 2169.7 C566.4 2169.5 547.8 2169 543.8 2168.2 C539.8 2167.3 535.8 2162.2 532.4 2161.2 C529 2160.2 514.3 2158.7 509.8 2158.3 C505.3 2157.9 495.6 2157 487.1 2156.9 C478.6 2156.8 433.4 2156.8 424.9 2156.9 Z" fill="#e377c2"/>
<g clip-path="url(#dclip)">
<g><path d="M90 2236 C87.2 2239 77.6 2246.2 73.3 2254 C69 2261.8 66.3 2276.3 64.4 2283 C62.5 2289.7 65.4 2282.3 62 2294 C58.6 2305.7 49 2335.7 44 2353 C39 2370.3 35.7 2383.2 32 2398 C28.3 2412.8 24.7 2427.3 22 2442 C19.3 2456.7 16.8 2473 16 2486 C15.2 2499 16 2509.3 17 2520 C18 2530.7 19.8 2542 22 2550 C24.2 2558 26.6 2562.3 30 2568 C33.4 2573.7 38 2576.7 42.5 2584.1 C47 2591.5 51.5 2604.4 56.7 2612.4 C61.9 2620.4 66.5 2625.2 73.6 2632.3 C80.7 2639.4 91.5 2647.8 99.1 2654.9 C106.7 2662 111.9 2669.6 119 2674.8 C126.1 2680 130.8 2683.3 141.6 2686.1 C152.4 2688.9 169.9 2690.4 184.1 2691.8 C198.3 2693.2 212.4 2693.9 226.6 2694.6 C240.8 2695.3 257.3 2696 269.1 2696 C280.9 2696 288 2696.2 297.4 2694.6 C306.8 2692.9 318.6 2688.7 325.7 2686.1 C332.8 2683.5 337.5 2680.2 339.9 2679" fill="none" stroke="#7b4c9c" stroke-width="21" clip-path="url(#dclip)" stroke-linejoin="round"/><path d="M447 2174 C442.7 2155.2 408.1 2174.4 403.6 2174.4 C399.1 2174.4 395.3 2174 392.5 2174.4 C389.7 2174.8 374.9 2178.1 370.3 2178.8 C365.7 2179.5 344.5 2182.7 337.1 2183.3 C329.7 2183.9 290 2184.9 281.7 2185.5 C273.4 2186.1 244.7 2188.9 237.3 2190 C229.9 2191.1 199.5 2196.8 193 2198.8 C186.5 2200.8 165.3 2211.5 159.8 2214.3 C154.3 2217.1 132 2228.5 126.5 2232 C121 2235.5 97.4 2251.8 93.3 2256.4 C89.2 2261 79.7 2281.5 77.7 2287.4 C75.7 2293.3 70.5 2321.5 68.9 2327 C67.3 2332.5 60.7 2347.1 59 2353 C57.3 2358.9 50.5 2390.6 48.8 2398 C47.1 2405.4 39.6 2434.7 38.4 2442 C37.2 2449.3 34 2478.6 34 2486 C34 2493.4 37.2 2525.2 38.4 2531 C39.6 2536.8 46.7 2551.4 48.7 2555.8 C50.7 2560.2 60.3 2579.8 62.9 2584.1 C65.5 2588.3 76.8 2603.3 79.9 2606.8 C83 2610.3 96.4 2623.3 99.7 2626.6 C103 2629.9 116.4 2643.5 119.5 2646.4 C122.6 2649.3 133.2 2659.9 136.5 2662 C139.8 2664.1 153.4 2670.7 158.6 2671.9 C163.8 2673.1 191.5 2675.7 198.3 2676.2 C205.2 2676.7 233.7 2677.5 240.8 2677.6 C247.9 2677.7 276.2 2678 283.3 2677.6 C290.4 2677.2 321 2673.2 325.7 2672.5 C330.4 2671.8 335.4 2668.5 339.9 2669.1 C344.4 2669.7 369.2 2689.1 380 2680 C390.8 2670.9 463.8 2583.3 470 2560 C476.2 2536.7 456.9 2432.2 455 2400 C453.1 2367.8 451.3 2192.8 447 2174 Z" fill="#5a5a5a"/><path d="M34 2486 C33.3 2491.1 36.9 2524 38.4 2531 C39.9 2538 46.2 2550.5 48.7 2555.8 C51.2 2561.1 59.8 2579 62.9 2584.1 C66 2589.2 76.2 2602.6 79.9 2606.8 C83.6 2611.1 95.7 2622.6 99.7 2626.6 C103.7 2630.6 115.8 2642.9 119.5 2646.4 C123.2 2649.9 132.6 2659.4 136.5 2662 C140.4 2664.6 152.4 2670.5 158.6 2671.9 C164.8 2673.3 190.1 2675.6 198.3 2676.2 C206.5 2676.8 232.3 2677.5 240.8 2677.6 C249.3 2677.7 274.8 2678.1 283.3 2677.6 C291.8 2677.1 320 2673.3 325.7 2672.5 C331.4 2671.7 342.5 2670.2 339.9 2669.1 C337.3 2668 311 2662.9 300 2662 C289 2661.1 243 2661 230 2660 C217 2659 179.4 2654 170 2652 C160.6 2650 142.2 2643.5 136 2640 C129.8 2636.5 112.7 2621.5 107.6 2617 C102.5 2612.5 89 2599.2 85 2595 C81 2590.8 71.3 2579.5 68 2575 C64.7 2570.5 53.9 2554.5 52 2550 C50.1 2545.5 49.5 2535 49 2530 C48.5 2525 47.4 2505 47 2500 C46.6 2495 46.3 2481.4 45 2480 C43.7 2478.6 34.7 2480.9 34 2486 Z" fill="#7f7f7f"/><path d="M447 2186 C439.9 2168.1 378.5 2184.4 370.3 2185.5 C362.1 2186.6 351.9 2197.1 348.2 2198.8 C344.5 2200.5 330.6 2204.7 326 2205.4 C321.4 2206.1 299.3 2207.2 292.8 2207.6 C286.3 2208 255.8 2208.8 248.4 2209.9 C241 2211 210.6 2219 204.1 2221 C197.6 2223 176.7 2231.1 170.8 2234.2 C164.9 2237.3 138.2 2254.9 133.2 2258.6 C128.2 2262.3 114.3 2274.3 111 2278.6 C107.7 2282.8 95.7 2304.1 93.3 2309.6 C90.9 2315.1 84.4 2337.6 82.5 2345 C80.6 2352.4 73.2 2389.9 71 2398 C68.8 2406.1 58.2 2434.7 56.2 2442 C54.2 2449.3 47.6 2478.7 47 2486 C46.4 2493.3 48.6 2524.7 49 2530 C49.4 2535.3 50.4 2546.2 52 2550 C53.6 2553.8 65.2 2571.2 68 2575 C70.8 2578.8 81.7 2591.5 85 2595 C88.3 2598.5 103.3 2613.2 107.6 2617 C111.8 2620.8 130.8 2637.1 136 2640 C141.2 2642.9 162.2 2650.3 170 2652 C177.8 2653.7 219.2 2659.2 230 2660 C240.8 2660.8 290.9 2661.6 300 2662 C309.1 2662.4 332.3 2664.3 339 2665 C345.7 2665.7 369.1 2678.8 380 2670 C390.9 2661.2 463.8 2582.5 470 2560 C476.2 2537.5 456.9 2431.2 455 2400 C453.1 2368.8 454.1 2203.9 447 2186 Z" fill="#9edae5"/><path d="M104.3 2327.3 C103.5 2323 102.1 2297.2 104.3 2291.9 C106.5 2286.6 121.6 2277.6 126.5 2274 C131.4 2270.4 147.5 2259.7 153.1 2256.4 C158.7 2253.1 175.8 2243.2 182 2241 C188.2 2238.8 209.9 2234.9 215.2 2234.2 C220.5 2233.5 234 2233.1 235.1 2234.2 C236.2 2235.3 230.1 2243.1 226.3 2245.3 C222.5 2247.5 203 2254 197.4 2256.4 C191.8 2258.8 175.7 2267 170.8 2269.7 C165.9 2272.4 152.7 2279.4 148.7 2283 C144.7 2286.6 133.9 2300.8 131 2305.2 C128.1 2309.6 121.8 2324.3 119.9 2327.3 C118 2330.3 113.6 2335 112 2335 C110.4 2335 105.1 2331.6 104.3 2327.3 Z" fill="#eeecc6"/><path d="M235.1 2234.2 C238.4 2232.2 252.6 2227.2 259.5 2225.4 C266.4 2223.6 294.9 2218.7 303.8 2216.5 C312.7 2214.3 340.4 2206.5 348.2 2203.2 C356 2199.9 375.9 2186.2 381.4 2183.3 C386.9 2180.4 399.7 2175.5 403.6 2174.4 C407.5 2173.3 418.4 2165.6 420 2172 C421.6 2178.4 421.4 2234.2 420 2238.7 C418.6 2243.1 408.6 2219.8 405.8 2216.5 C403.1 2213.2 396.1 2206.1 392.5 2205.4 C388.9 2204.7 375.8 2208.1 370.3 2209.9 C364.8 2211.7 343.8 2221 337.1 2223.2 C330.5 2225.4 311.6 2230.4 303.8 2232 C296 2233.6 267.2 2237.4 259.5 2238.7 C251.8 2240 228.7 2245.8 226.3 2245.3 C223.9 2244.9 231.8 2236.2 235.1 2234.2 Z" fill="#f8bfcd"/><path d="M447 2216 C442.9 2200.7 410.3 2217.4 405.8 2216.5 C401.3 2215.6 395.5 2206 392.5 2205.4 C389.5 2204.8 374.9 2208.4 370.3 2209.9 C365.7 2211.4 342.6 2221.4 337.1 2223.2 C331.6 2225 310.3 2230.7 303.8 2232 C297.3 2233.3 266 2237.6 259.5 2238.7 C253 2239.8 231.5 2243.5 226.3 2245.3 C221.1 2247.1 202 2258.4 197.4 2260.8 C192.8 2263.2 174.9 2271.8 170.8 2274 C166.7 2276.2 152 2284.8 148.7 2287.4 C145.4 2290 133.4 2301.9 131 2305.2 C128.6 2308.5 121.7 2323.2 119.9 2327.3 C118.2 2331.5 111.4 2350.4 110 2355 C108.6 2359.6 104.9 2379.4 103.4 2383 C101.9 2386.6 93.1 2393.5 91.6 2397.8 C90.1 2402.1 86.4 2427.9 85.7 2434.7 C85 2441.5 82.5 2474.9 82.8 2479 C83 2483.1 78.9 2476.8 88.7 2483.5 C98.5 2490.2 168.2 2553.6 200 2560 C231.8 2566.4 448.8 2573.3 470 2560 C491.2 2546.7 456.9 2428.7 455 2400 C453.1 2371.3 451.1 2231.3 447 2216 Z" fill="#17becf"/><path d="M447 2250 C441.4 2237.5 393.6 2250.6 388.1 2249.8 C382.6 2249 383.4 2241.5 381.4 2240.9 C379.4 2240.3 367.4 2242 363.7 2243.1 C360 2244.2 342.1 2252.5 337.1 2254.2 C332.1 2255.9 309.3 2261.7 303.8 2263 C298.3 2264.3 276.1 2268.4 270.6 2269.7 C265.1 2271 242.8 2276.6 237.3 2278.6 C231.8 2280.6 209.6 2290.8 204.1 2294.1 C198.6 2297.4 175.3 2314.8 170.8 2318.5 C166.3 2322.2 153.2 2335.1 150 2338 C146.8 2340.9 135.7 2349 133 2353.4 C130.3 2357.8 119.9 2385.5 118.2 2390.4 C116.5 2395.3 113.5 2408.9 112.3 2412.6 C111.1 2416.3 104.6 2429.8 103.4 2434.7 C102.2 2439.6 98.1 2467.4 97.5 2471.7 C96.9 2476 87.5 2479.1 96 2486.5 C104.5 2493.9 168.8 2553.9 200 2560 C231.2 2566.1 448.8 2573.3 470 2560 C491.2 2546.7 456.9 2425.8 455 2400 C453.1 2374.2 452.6 2262.5 447 2250 Z" fill="#c5b0d5"/><path d="M447 2283 C442.9 2273.2 410 2284.5 405.8 2283 C401.6 2281.5 398.5 2267.5 397 2265.3 C395.5 2263.1 390 2257.1 388.1 2256.4 C386.2 2255.7 377.2 2255.7 374.8 2256.4 C372.4 2257.1 363.4 2263.8 359.3 2265.3 C355.2 2266.8 332.5 2272.3 326 2274.1 C319.5 2275.9 288.2 2285.2 281.7 2287.4 C275.2 2289.6 253.9 2297.7 248.4 2300.7 C242.9 2303.7 219.6 2319.6 215.2 2322.9 C210.8 2326.2 199.8 2337.5 196 2340 C192.2 2342.5 173.4 2350.4 170 2353.4 C166.6 2356.4 157 2371.9 155.2 2375.6 C153.3 2379.3 149.7 2394.1 147.8 2397.8 C146 2401.5 135.2 2416.3 133 2420 C130.8 2423.7 122.8 2437.7 121.2 2442 C119.6 2446.3 114.3 2468 113.8 2471.7 C113.3 2475.4 114.4 2483.1 115.3 2486.5 C116.2 2489.9 117 2506.9 124.1 2513 C131.2 2519.1 171.2 2556.1 200 2560 C228.8 2563.9 448.8 2573.3 470 2560 C491.2 2546.7 456.9 2423.1 455 2400 C453.1 2376.9 451.1 2292.8 447 2283 Z" fill="#1b5e8c"/></g>
<g transform="matrix(-1 0 0 1 912 0)"><path d="M90 2236 C87.2 2239 77.6 2246.2 73.3 2254 C69 2261.8 66.3 2276.3 64.4 2283 C62.5 2289.7 65.4 2282.3 62 2294 C58.6 2305.7 49 2335.7 44 2353 C39 2370.3 35.7 2383.2 32 2398 C28.3 2412.8 24.7 2427.3 22 2442 C19.3 2456.7 16.8 2473 16 2486 C15.2 2499 16 2509.3 17 2520 C18 2530.7 19.8 2542 22 2550 C24.2 2558 26.6 2562.3 30 2568 C33.4 2573.7 38 2576.7 42.5 2584.1 C47 2591.5 51.5 2604.4 56.7 2612.4 C61.9 2620.4 66.5 2625.2 73.6 2632.3 C80.7 2639.4 91.5 2647.8 99.1 2654.9 C106.7 2662 111.9 2669.6 119 2674.8 C126.1 2680 130.8 2683.3 141.6 2686.1 C152.4 2688.9 169.9 2690.4 184.1 2691.8 C198.3 2693.2 212.4 2693.9 226.6 2694.6 C240.8 2695.3 257.3 2696 269.1 2696 C280.9 2696 288 2696.2 297.4 2694.6 C306.8 2692.9 318.6 2688.7 325.7 2686.1 C332.8 2683.5 337.5 2680.2 339.9 2679" fill="none" stroke="#7b4c9c" stroke-width="21"  stroke-linejoin="round"/><path d="M447 2174 C442.7 2155.2 408.1 2174.4 403.6 2174.4 C399.1 2174.4 395.3 2174 392.5 2174.4 C389.7 2174.8 374.9 2178.1 370.3 2178.8 C365.7 2179.5 344.5 2182.7 337.1 2183.3 C329.7 2183.9 290 2184.9 281.7 2185.5 C273.4 2186.1 244.7 2188.9 237.3 2190 C229.9 2191.1 199.5 2196.8 193 2198.8 C186.5 2200.8 165.3 2211.5 159.8 2214.3 C154.3 2217.1 132 2228.5 126.5 2232 C121 2235.5 97.4 2251.8 93.3 2256.4 C89.2 2261 79.7 2281.5 77.7 2287.4 C75.7 2293.3 70.5 2321.5 68.9 2327 C67.3 2332.5 60.7 2347.1 59 2353 C57.3 2358.9 50.5 2390.6 48.8 2398 C47.1 2405.4 39.6 2434.7 38.4 2442 C37.2 2449.3 34 2478.6 34 2486 C34 2493.4 37.2 2525.2 38.4 2531 C39.6 2536.8 46.7 2551.4 48.7 2555.8 C50.7 2560.2 60.3 2579.8 62.9 2584.1 C65.5 2588.3 76.8 2603.3 79.9 2606.8 C83 2610.3 96.4 2623.3 99.7 2626.6 C103 2629.9 116.4 2643.5 119.5 2646.4 C122.6 2649.3 133.2 2659.9 136.5 2662 C139.8 2664.1 153.4 2670.7 158.6 2671.9 C163.8 2673.1 191.5 2675.7 198.3 2676.2 C205.2 2676.7 233.7 2677.5 240.8 2677.6 C247.9 2677.7 276.2 2678 283.3 2677.6 C290.4 2677.2 321 2673.2 325.7 2672.5 C330.4 2671.8 335.4 2668.5 339.9 2669.1 C344.4 2669.7 369.2 2689.1 380 2680 C390.8 2670.9 463.8 2583.3 470 2560 C476.2 2536.7 456.9 2432.2 455 2400 C453.1 2367.8 451.3 2192.8 447 2174 Z" fill="#5a5a5a"/><path d="M34 2486 C33.3 2491.1 36.9 2524 38.4 2531 C39.9 2538 46.2 2550.5 48.7 2555.8 C51.2 2561.1 59.8 2579 62.9 2584.1 C66 2589.2 76.2 2602.6 79.9 2606.8 C83.6 2611.1 95.7 2622.6 99.7 2626.6 C103.7 2630.6 115.8 2642.9 119.5 2646.4 C123.2 2649.9 132.6 2659.4 136.5 2662 C140.4 2664.6 152.4 2670.5 158.6 2671.9 C164.8 2673.3 190.1 2675.6 198.3 2676.2 C206.5 2676.8 232.3 2677.5 240.8 2677.6 C249.3 2677.7 274.8 2678.1 283.3 2677.6 C291.8 2677.1 320 2673.3 325.7 2672.5 C331.4 2671.7 342.5 2670.2 339.9 2669.1 C337.3 2668 311 2662.9 300 2662 C289 2661.1 243 2661 230 2660 C217 2659 179.4 2654 170 2652 C160.6 2650 142.2 2643.5 136 2640 C129.8 2636.5 112.7 2621.5 107.6 2617 C102.5 2612.5 89 2599.2 85 2595 C81 2590.8 71.3 2579.5 68 2575 C64.7 2570.5 53.9 2554.5 52 2550 C50.1 2545.5 49.5 2535 49 2530 C48.5 2525 47.4 2505 47 2500 C46.6 2495 46.3 2481.4 45 2480 C43.7 2478.6 34.7 2480.9 34 2486 Z" fill="#7f7f7f"/><path d="M447 2186 C439.9 2168.1 378.5 2184.4 370.3 2185.5 C362.1 2186.6 351.9 2197.1 348.2 2198.8 C344.5 2200.5 330.6 2204.7 326 2205.4 C321.4 2206.1 299.3 2207.2 292.8 2207.6 C286.3 2208 255.8 2208.8 248.4 2209.9 C241 2211 210.6 2219 204.1 2221 C197.6 2223 176.7 2231.1 170.8 2234.2 C164.9 2237.3 138.2 2254.9 133.2 2258.6 C128.2 2262.3 114.3 2274.3 111 2278.6 C107.7 2282.8 95.7 2304.1 93.3 2309.6 C90.9 2315.1 84.4 2337.6 82.5 2345 C80.6 2352.4 73.2 2389.9 71 2398 C68.8 2406.1 58.2 2434.7 56.2 2442 C54.2 2449.3 47.6 2478.7 47 2486 C46.4 2493.3 48.6 2524.7 49 2530 C49.4 2535.3 50.4 2546.2 52 2550 C53.6 2553.8 65.2 2571.2 68 2575 C70.8 2578.8 81.7 2591.5 85 2595 C88.3 2598.5 103.3 2613.2 107.6 2617 C111.8 2620.8 130.8 2637.1 136 2640 C141.2 2642.9 162.2 2650.3 170 2652 C177.8 2653.7 219.2 2659.2 230 2660 C240.8 2660.8 290.9 2661.6 300 2662 C309.1 2662.4 332.3 2664.3 339 2665 C345.7 2665.7 369.1 2678.8 380 2670 C390.9 2661.2 463.8 2582.5 470 2560 C476.2 2537.5 456.9 2431.2 455 2400 C453.1 2368.8 454.1 2203.9 447 2186 Z" fill="#9edae5"/><path d="M104.3 2327.3 C103.5 2323 102.1 2297.2 104.3 2291.9 C106.5 2286.6 121.6 2277.6 126.5 2274 C131.4 2270.4 147.5 2259.7 153.1 2256.4 C158.7 2253.1 175.8 2243.2 182 2241 C188.2 2238.8 209.9 2234.9 215.2 2234.2 C220.5 2233.5 234 2233.1 235.1 2234.2 C236.2 2235.3 230.1 2243.1 226.3 2245.3 C222.5 2247.5 203 2254 197.4 2256.4 C191.8 2258.8 175.7 2267 170.8 2269.7 C165.9 2272.4 152.7 2279.4 148.7 2283 C144.7 2286.6 133.9 2300.8 131 2305.2 C128.1 2309.6 121.8 2324.3 119.9 2327.3 C118 2330.3 113.6 2335 112 2335 C110.4 2335 105.1 2331.6 104.3 2327.3 Z" fill="#eeecc6"/><path d="M235.1 2234.2 C238.4 2232.2 252.6 2227.2 259.5 2225.4 C266.4 2223.6 294.9 2218.7 303.8 2216.5 C312.7 2214.3 340.4 2206.5 348.2 2203.2 C356 2199.9 375.9 2186.2 381.4 2183.3 C386.9 2180.4 399.7 2175.5 403.6 2174.4 C407.5 2173.3 418.4 2165.6 420 2172 C421.6 2178.4 421.4 2234.2 420 2238.7 C418.6 2243.1 408.6 2219.8 405.8 2216.5 C403.1 2213.2 396.1 2206.1 392.5 2205.4 C388.9 2204.7 375.8 2208.1 370.3 2209.9 C364.8 2211.7 343.8 2221 337.1 2223.2 C330.5 2225.4 311.6 2230.4 303.8 2232 C296 2233.6 267.2 2237.4 259.5 2238.7 C251.8 2240 228.7 2245.8 226.3 2245.3 C223.9 2244.9 231.8 2236.2 235.1 2234.2 Z" fill="#f8bfcd"/><path d="M447 2216 C442.9 2200.7 410.3 2217.4 405.8 2216.5 C401.3 2215.6 395.5 2206 392.5 2205.4 C389.5 2204.8 374.9 2208.4 370.3 2209.9 C365.7 2211.4 342.6 2221.4 337.1 2223.2 C331.6 2225 310.3 2230.7 303.8 2232 C297.3 2233.3 266 2237.6 259.5 2238.7 C253 2239.8 231.5 2243.5 226.3 2245.3 C221.1 2247.1 202 2258.4 197.4 2260.8 C192.8 2263.2 174.9 2271.8 170.8 2274 C166.7 2276.2 152 2284.8 148.7 2287.4 C145.4 2290 133.4 2301.9 131 2305.2 C128.6 2308.5 121.7 2323.2 119.9 2327.3 C118.2 2331.5 111.4 2350.4 110 2355 C108.6 2359.6 104.9 2379.4 103.4 2383 C101.9 2386.6 93.1 2393.5 91.6 2397.8 C90.1 2402.1 86.4 2427.9 85.7 2434.7 C85 2441.5 82.5 2474.9 82.8 2479 C83 2483.1 78.9 2476.8 88.7 2483.5 C98.5 2490.2 168.2 2553.6 200 2560 C231.8 2566.4 448.8 2573.3 470 2560 C491.2 2546.7 456.9 2428.7 455 2400 C453.1 2371.3 451.1 2231.3 447 2216 Z" fill="#17becf"/><path d="M447 2250 C441.4 2237.5 393.6 2250.6 388.1 2249.8 C382.6 2249 383.4 2241.5 381.4 2240.9 C379.4 2240.3 367.4 2242 363.7 2243.1 C360 2244.2 342.1 2252.5 337.1 2254.2 C332.1 2255.9 309.3 2261.7 303.8 2263 C298.3 2264.3 276.1 2268.4 270.6 2269.7 C265.1 2271 242.8 2276.6 237.3 2278.6 C231.8 2280.6 209.6 2290.8 204.1 2294.1 C198.6 2297.4 175.3 2314.8 170.8 2318.5 C166.3 2322.2 153.2 2335.1 150 2338 C146.8 2340.9 135.7 2349 133 2353.4 C130.3 2357.8 119.9 2385.5 118.2 2390.4 C116.5 2395.3 113.5 2408.9 112.3 2412.6 C111.1 2416.3 104.6 2429.8 103.4 2434.7 C102.2 2439.6 98.1 2467.4 97.5 2471.7 C96.9 2476 87.5 2479.1 96 2486.5 C104.5 2493.9 168.8 2553.9 200 2560 C231.2 2566.1 448.8 2573.3 470 2560 C491.2 2546.7 456.9 2425.8 455 2400 C453.1 2374.2 452.6 2262.5 447 2250 Z" fill="#c5b0d5"/><path d="M447 2283 C442.9 2273.2 410 2284.5 405.8 2283 C401.6 2281.5 398.5 2267.5 397 2265.3 C395.5 2263.1 390 2257.1 388.1 2256.4 C386.2 2255.7 377.2 2255.7 374.8 2256.4 C372.4 2257.1 363.4 2263.8 359.3 2265.3 C355.2 2266.8 332.5 2272.3 326 2274.1 C319.5 2275.9 288.2 2285.2 281.7 2287.4 C275.2 2289.6 253.9 2297.7 248.4 2300.7 C242.9 2303.7 219.6 2319.6 215.2 2322.9 C210.8 2326.2 199.8 2337.5 196 2340 C192.2 2342.5 173.4 2350.4 170 2353.4 C166.6 2356.4 157 2371.9 155.2 2375.6 C153.3 2379.3 149.7 2394.1 147.8 2397.8 C146 2401.5 135.2 2416.3 133 2420 C130.8 2423.7 122.8 2437.7 121.2 2442 C119.6 2446.3 114.3 2468 113.8 2471.7 C113.3 2475.4 114.4 2483.1 115.3 2486.5 C116.2 2489.9 117 2506.9 124.1 2513 C131.2 2519.1 171.2 2556.1 200 2560 C228.8 2563.9 448.8 2573.3 470 2560 C491.2 2546.7 456.9 2423.1 455 2400 C453.1 2376.9 451.1 2292.8 447 2283 Z" fill="#1b5e8c"/></g>
<path d="M392 2205 C393.2 2207.1 408.3 2209 410 2212 C411.7 2215 417.3 2244.7 418 2250 C418.7 2255.3 416.5 2289.2 420 2292 C423.5 2294.8 466.1 2294.8 470 2292 C473.9 2289.2 477.2 2255.1 478 2250 C478.8 2244.9 480.8 2218 482 2215 C483.2 2212 495.1 2207.3 496 2205 C496.9 2202.7 502.9 2181.7 496 2180 C489.1 2178.3 398.9 2178.3 392 2180 C385.1 2181.7 390.8 2202.9 392 2205 Z" fill="#17becf"/><path d="M410.3 2179 C411 2176.4 416.8 2167.3 418 2166 C419.2 2164.7 425.5 2160.5 428 2160 C430.5 2159.5 451.7 2157.3 455 2158 C458.3 2158.7 475.5 2166.5 477 2170 C478.5 2173.5 477.2 2204.7 477 2210 C476.8 2215.3 474.7 2244.8 474 2250 C473.3 2255.2 468 2285.3 466 2288 C464 2290.7 446.8 2290 444 2290 C441.2 2290 425.9 2288.7 424 2288 C422.1 2287.3 416.8 2282.5 416 2280 C415.2 2277.5 412.6 2255 412 2250 C411.4 2245 407.1 2209.7 407 2205 C406.9 2200.3 409.6 2181.6 410.3 2179 Z" fill="#f8c3cb"/><path d="M428 2158 C427.5 2158.5 437.1 2164.5 438 2166 C438.9 2167.5 440.6 2176.4 441 2180 C441.4 2183.6 443.7 2214.7 444 2220 C444.3 2225.3 445.7 2255.5 446 2260 C446.3 2264.5 447.4 2285.1 448 2287 C448.6 2288.9 454.3 2288 455 2288 C455.7 2288 458 2290.2 458 2287 C458 2283.8 455.3 2245.8 455 2240 C454.7 2234.2 453.2 2204.8 453 2200 C452.8 2195.2 452.5 2170.8 452 2168 C451.5 2165.2 447.6 2158.7 446 2158 C444.4 2157.3 428.5 2157.5 428 2158 Z" fill="#e377c2"/><path d="M441 2230 C441.3 2228.5 445.5 2227.3 446 2228 C446.5 2228.7 448.9 2238.4 449 2240 C449.1 2241.6 447.5 2251.3 447 2252 C446.5 2252.7 442.4 2251.5 442 2250 C441.6 2248.5 440.7 2231.5 441 2230 Z" fill="#d62728"/><path d="M430 2160 C430.2 2158.9 435.4 2161 436 2162 C436.6 2163 438.9 2173.1 439 2175 C439.1 2176.9 437.4 2189.8 437 2190 C436.6 2190.2 433.5 2180 433 2178 C432.5 2176 429.8 2161.1 430 2160 Z" fill="#8b3a4a"/>
<g><path d="M447 2297 C444.1 2288.4 423.4 2297.1 420 2296.3 C416.6 2295.5 408.1 2288.7 405.8 2287.4 C403.5 2286.1 394.5 2281.9 392.5 2280.8 C390.5 2279.7 383.2 2274.5 381.4 2274.1 C379.5 2273.7 374 2275.7 370.3 2276.4 C366.6 2277.1 342.6 2281.7 337.1 2283 C331.6 2284.3 309.3 2290.1 303.8 2291.9 C298.3 2293.8 276.1 2302.6 270.6 2305.2 C265.1 2307.8 241.6 2320.3 237.3 2322.9 C233.1 2325.5 222.8 2333.7 219.6 2336 C216.4 2338.3 203 2348.1 199.5 2350.5 C196 2352.9 180.4 2362 177.3 2365.3 C174.2 2368.6 164.4 2387.1 162.6 2390.4 C160.8 2393.7 157 2402.1 155.2 2405.2 C153.3 2408.3 142.5 2423.6 140.4 2427.3 C138.3 2431 131 2445.8 130 2449.5 C129 2453.2 128.3 2467.4 128.6 2471.7 C128.8 2476 127 2493.8 133 2501.2 C138.9 2508.6 171.9 2555.1 200 2560 C228.1 2564.9 448.8 2573.3 470 2560 C491.2 2546.7 456.9 2421.9 455 2400 C453.1 2378.1 449.9 2305.6 447 2297 Z" fill="#ff7f0e"/><path d="M162.6 2397.8 C166.8 2392.1 172.3 2386.8 175 2385 C177.7 2383.2 188.9 2377.3 190 2380 C191.1 2382.7 185.8 2401.3 186 2412 C186.2 2422.7 191.8 2475.8 192 2486.5 C192.2 2497.2 192.2 2516.7 188 2519 C183.8 2521.3 155.8 2512.5 150 2510 C144.2 2507.5 131.7 2500.8 130 2494 C128.3 2487.2 129.7 2451.6 133 2442 C136.3 2432.4 158.4 2403.5 162.6 2397.8 Z" fill="#e0e0e0"/><path d="M45.3 2493.5 C46.9 2486.8 57.5 2465.7 60 2460 C62.5 2454.3 68.8 2438.8 70.8 2436.8 C72.8 2434.8 78.3 2438.9 80 2440 C81.7 2441.1 86.3 2443.8 87.8 2448 C89.3 2452.2 93.4 2476.9 94.9 2482 C96.4 2487.1 101.1 2491.3 102.5 2499 C103.9 2506.7 109.8 2551.5 109 2558.6 C108.2 2565.7 98.2 2568.9 94.9 2570 C91.7 2571.1 80.3 2571.1 76.5 2570 C72.7 2568.9 60 2562.8 56.7 2558.6 C53.5 2554.3 45.1 2534 44 2527.5 C42.9 2521 43.7 2500.2 45.3 2493.5 Z" fill="#ffbb78"/><path d="M96.3 2482 C98 2480.3 115.5 2478.3 119 2482 C122.5 2485.7 129.1 2511.6 130.9 2519 C132.7 2526.4 137 2549.3 137.4 2555.8 C137.8 2562.3 137.5 2579.8 134.5 2584 C131.5 2588.2 112.5 2597.4 107.6 2598.3 C102.6 2599.2 86.3 2595.4 85 2592.6 C83.7 2589.8 92.5 2573.4 94.9 2570 C97.3 2566.6 108.2 2565.7 109 2558.6 C109.8 2551.5 103.8 2506.7 102.5 2499 C101.2 2491.3 94.6 2483.7 96.3 2482 Z" fill="#f7b6d2"/><path d="M70.8 2565 C71.5 2563 82.6 2569.7 85 2570 C87.4 2570.3 92.5 2569 95 2568 C97.5 2567 106.7 2561 110 2560 C113.3 2559 125 2556.5 128 2558 C131 2559.5 137.5 2570.8 140 2575 C142.5 2579.2 151 2594.8 153 2600 C155 2605.2 155.5 2623.4 160 2626.6 C164.5 2629.8 189.9 2631.5 198.3 2632.3 C206.7 2633.1 237.9 2632.7 243.6 2635 C249.3 2637.3 253.8 2650.2 255 2655 C256.2 2659.8 261.7 2680.2 256 2683 C250.3 2685.8 208 2683.7 198.3 2683 C188.6 2682.3 164.8 2678 158.6 2676 C152.4 2674 140.5 2666.5 136 2663 C131.5 2659.5 117.8 2645.6 113.3 2640.8 C108.8 2636 94.1 2620.4 90.6 2615.3 C87.1 2610.2 80 2595 78 2590 C76 2585 70.1 2567 70.8 2565 Z" fill="#f8d5e6"/><path d="M130.3 2519 C132.6 2518.4 153.2 2532 158.6 2536 C164 2540 178.7 2554.1 184.1 2558.6 C189.5 2563.1 207.9 2577.3 212.4 2581.3 C216.9 2585.3 226 2594.6 229.4 2598.3 C232.8 2602 245 2614.3 246.4 2618 C247.8 2621.7 248.4 2633.6 243.6 2635 C238.8 2636.4 206.8 2633.1 198.3 2632.3 C189.8 2631.5 163.1 2630 158.6 2626.6 C154.1 2623.2 155 2604 153 2598.3 C151 2592.6 140.5 2575.7 138.8 2570 C137.1 2564.3 136.8 2546.7 136 2541.6 C135.2 2536.5 128 2519.6 130.3 2519 Z" fill="#c49c94"/><path d="M127.5 2507.6 C130.1 2506.8 150.1 2508.5 155.8 2510.5 C161.5 2512.5 179 2523.8 184.1 2527.5 C189.2 2531.2 202.6 2543.2 206.8 2547.3 C211.1 2551.4 221.8 2563.7 226.6 2568 C231.4 2572.3 249.2 2585.6 254.9 2590 C260.6 2594.4 277.6 2607.6 283.3 2612 C289 2616.4 306.5 2630.3 311.6 2634.5 C316.7 2638.7 330.9 2650.8 334.2 2654.3 C337.5 2657.9 345.4 2667.4 345 2670 C344.6 2672.6 334.5 2681 330 2680 C325.5 2679 306.5 2665 300 2660 C293.5 2655 269.9 2633.3 264.8 2630 C259.7 2626.7 253.1 2628.6 249.3 2626.6 C245.5 2624.6 231.7 2614.1 226.6 2609.6 C221.5 2605.1 204 2586.8 198.3 2581.3 C192.6 2575.8 175.7 2559.1 170 2554.4 C164.3 2549.7 145.6 2538 141.6 2534.5 C137.6 2531 131.7 2521.7 130.3 2519 C128.9 2516.3 125 2508.4 127.5 2507.6 Z" fill="#17868f"/><path d="M254.9 2598.3 C257.1 2595.5 267.6 2596 271.9 2598.3 C276.1 2600.6 292.9 2616.8 297.4 2621 C301.9 2625.2 313.7 2637.1 317.2 2640.8 C320.7 2644.5 331.5 2654 332.8 2657.8 C334.1 2661.6 332.1 2675.9 330 2679 C327.9 2682.1 317.7 2687.7 311.6 2689 C305.5 2690.3 274.8 2692.4 269.1 2691.8 C263.4 2691.2 256.8 2687.6 254.9 2683.3 C253 2679.1 250.3 2655 249.8 2649.3 C249.3 2643.6 249.3 2631.7 249.8 2626.6 C250.3 2621.5 252.7 2601.1 254.9 2598.3 Z" fill="#2ca02c"/><path d="M184 2411 C185.3 2406.7 194.4 2405 198 2405.7 C201.6 2406.4 212.3 2411.1 215 2417 C217.7 2422.9 220.7 2448.8 221 2456.7 C221.3 2464.6 217.3 2479.1 218 2485 C218.7 2490.9 226.2 2501.7 226.6 2507.6 C226.9 2513.5 223 2533 221 2536 C219 2539 212.3 2534.7 209.6 2533 C206.9 2531.3 200 2527.4 198 2521.8 C196 2516.2 193.9 2494.3 192.6 2485 C191.3 2475.7 188 2451.1 187 2442.5 C186 2433.9 182.7 2415.3 184 2411 Z" fill="#dbd98c" stroke="#ff7f0e" stroke-width="3"/><path d="M223.8 2510.5 C225.8 2507.2 231.5 2505.6 235.1 2507.6 C238.7 2509.6 249.3 2521.6 254.9 2527.5 C260.5 2533.4 277.3 2552 283.3 2558.6 C289.3 2565.2 300.7 2578.4 306 2584 C311.3 2589.6 323.7 2601.2 328.6 2606.8 C333.5 2612.4 345.8 2627.7 348.4 2632.3 C351 2636.9 351.9 2644.4 351.2 2646.4 C350.5 2648.4 346.6 2651.6 342.6 2649.3 C338.6 2647 323.5 2631.9 317.2 2626.6 C310.9 2621.3 296.3 2609.2 289 2603.9 C281.7 2598.6 262.2 2586.6 254.9 2581.3 C247.6 2576 230.9 2563.9 226.6 2558.6 C222.3 2553.3 218.4 2541.6 218.1 2536 C217.8 2530.4 221.8 2513.8 223.8 2510.5 Z" fill="#dbd98c" stroke="#ff7f0e" stroke-width="3.5"/><path d="M215 2420 C211.7 2415.9 223.3 2391.1 226.6 2385 C229.9 2378.9 240.3 2369.3 243.6 2368 C246.9 2366.7 253 2369.6 255 2373.6 C257 2377.6 260.6 2396.6 260.6 2402 C260.6 2407.4 260.3 2417.9 255 2420 C249.7 2422.1 218.3 2424.1 215 2420 Z" fill="#dbd98c" stroke="#ff7f0e" stroke-width="3"/><path d="M209.6 2547.3 C210.5 2551 222.1 2561 226.6 2565 C231.1 2569 249.2 2582.6 254.9 2587 C260.6 2591.4 277.6 2604.6 283.3 2609 C289 2613.4 306.5 2626.8 311.6 2631 C316.7 2635.2 330.7 2647.3 334.2 2651 C337.7 2654.7 344.2 2664.1 347 2668 C349.8 2671.9 359.5 2688 362 2690 C364.5 2692 371.7 2690.2 372 2688 C372.3 2685.8 367.2 2671.8 365 2668 C362.8 2664.2 353.5 2654 350 2650 C346.5 2646 334.5 2632.6 330 2628 C325.5 2623.4 310 2608.8 305 2604 C300 2599.2 285 2584.4 280 2580 C275 2575.6 259.8 2564 255 2560 C250.2 2556 235.7 2543.2 232 2540 C228.3 2536.8 220.2 2527.3 218 2528 C215.8 2528.7 208.7 2543.6 209.6 2547.3 Z" fill="#ff7f0e"/><path d="M209.6 2547.3 C212.4 2551.1 219 2562.4 226.6 2570 C234.2 2577.6 245.4 2585.3 254.9 2592.6 C264.4 2599.9 273.9 2606.6 283.3 2613.9 C292.8 2621.2 303.1 2629.4 311.6 2636.5 C320.1 2643.6 328.3 2650.2 334.2 2656.3 C340.1 2662.4 341.8 2666.9 347 2673.3 C352.2 2679.7 362.3 2691.1 365.4 2694.6" fill="none" stroke="#d62728" stroke-width="3.5"/><path d="M294.6 2553 C297.4 2552.4 320.3 2566 325.7 2570 C331.1 2574 345.2 2588.1 348.4 2592.6 C351.6 2597.1 357.2 2611.5 357.5 2615.3 C357.8 2619.1 354.1 2630.1 351.8 2630.9 C349.5 2631.8 338.2 2627.1 334.2 2623.8 C330.2 2620.5 315.3 2603.1 311.6 2598.3 C307.9 2593.5 299.1 2580.1 297.4 2575.6 C295.7 2571.1 291.8 2553.6 294.6 2553 Z" fill="#d4e9f4"/><path d="M221 2470.8 C223.3 2464.3 244.2 2447.3 249.3 2442.5 C254.4 2437.7 268.5 2425.8 271.9 2422.7 C275.3 2419.6 280.5 2410.2 283.3 2411.3 C286.1 2412.4 296.1 2429.5 300.3 2434 C304.5 2438.5 320.3 2450.8 325.7 2456.7 C331.1 2462.6 349.2 2486.7 354 2493.5 C358.8 2500.3 369.1 2519.8 373.9 2524.6 C378.7 2529.4 398.2 2537.1 402.2 2541.6 C406.2 2546.1 414.1 2565.8 413.5 2570 C412.9 2574.2 401 2583 396.5 2584.1 C392 2585.2 373 2581.3 368.2 2581.3 C363.4 2581.3 351.8 2585.2 348.4 2584.1 C345 2583 338.4 2573.1 334.2 2570 C329.9 2566.9 311.6 2556.7 305.9 2553 C300.2 2549.3 283.3 2536.5 277.6 2533.1 C271.9 2529.7 254.4 2521.6 249.3 2519 C244.2 2516.4 229.4 2512.4 226.6 2507.6 C223.8 2502.8 218.7 2477.3 221 2470.8 Z" fill="#8c564b"/><path d="M230 2428.6 C232.8 2422.1 253.5 2406.8 258.3 2403.1 C263.1 2399.4 272.5 2391 278.2 2391.8 C283.9 2392.7 307.9 2405.4 315 2411.6 C322.1 2417.8 344.2 2445.5 349 2454 C353.8 2462.5 362.2 2489.5 363.1 2496.6 C364 2503.7 362.3 2522.2 357.5 2525 C352.7 2527.8 323.5 2526.4 315 2525 C306.5 2523.6 279.9 2513.6 272.5 2510.8 C265.1 2508 245.6 2500.8 241.3 2496.6 C237.1 2492.3 231.1 2475.1 230 2468.3 C228.9 2461.5 227.2 2435.1 230 2428.6 Z" fill="#8c564b"/><path d="M258.3 2451.3 C261.1 2445.2 281 2435.7 286.7 2435.7 C292.4 2435.7 309.9 2446.6 315 2451.3 C320.1 2456 333.4 2476.2 337.6 2482.4 C341.9 2488.6 354.7 2509.1 357.5 2513.6 C360.3 2518.1 368.8 2525.9 366 2527.7 C363.2 2529.5 337 2532.8 329.1 2532 C321.2 2531.2 293.8 2522.8 286.7 2519.3 C279.6 2515.8 261.1 2503.4 258.3 2496.6 C255.5 2489.8 255.5 2457.4 258.3 2451.3 Z" fill="#7f821f"/><path d="M278.2 2391.8 C278.2 2388.8 298.5 2386.8 303.6 2386.1 C308.7 2385.4 324.6 2382.7 329.1 2384.7 C333.6 2386.7 345.1 2401 349 2406 C352.9 2411 364.5 2428.6 367.9 2434.3 C371.3 2440 379.8 2456.9 383 2462.6 C386.2 2468.3 396.6 2485.2 400 2490.9 C403.4 2496.6 414.7 2514.2 417 2519.3 C419.3 2524.4 423.7 2538.6 422.6 2542 C421.5 2545.4 409.6 2552.6 405.6 2553.2 C401.6 2553.8 386.7 2549.2 383 2547.5 C379.3 2545.8 371.1 2538.8 368.2 2536 C365.3 2533.2 356.3 2524.1 354 2519 C351.7 2513.9 347.3 2491.6 345.6 2485 C343.9 2478.4 339.9 2458.7 337.1 2452.9 C334.3 2447.1 320.6 2430.4 317.2 2426.7 C313.8 2423 307.5 2419.5 303.6 2416 C299.7 2412.5 278.2 2394.8 278.2 2391.8 Z" fill="#9e1b1b"/></g>
<g transform="matrix(-1 0 0 1 912 0)"><path d="M447 2297 C444.1 2288.4 423.4 2297.1 420 2296.3 C416.6 2295.5 408.1 2288.7 405.8 2287.4 C403.5 2286.1 394.5 2281.9 392.5 2280.8 C390.5 2279.7 383.2 2274.5 381.4 2274.1 C379.5 2273.7 374 2275.7 370.3 2276.4 C366.6 2277.1 342.6 2281.7 337.1 2283 C331.6 2284.3 309.3 2290.1 303.8 2291.9 C298.3 2293.8 276.1 2302.6 270.6 2305.2 C265.1 2307.8 241.6 2320.3 237.3 2322.9 C233.1 2325.5 222.8 2333.7 219.6 2336 C216.4 2338.3 203 2348.1 199.5 2350.5 C196 2352.9 180.4 2362 177.3 2365.3 C174.2 2368.6 164.4 2387.1 162.6 2390.4 C160.8 2393.7 157 2402.1 155.2 2405.2 C153.3 2408.3 142.5 2423.6 140.4 2427.3 C138.3 2431 131 2445.8 130 2449.5 C129 2453.2 128.3 2467.4 128.6 2471.7 C128.8 2476 127 2493.8 133 2501.2 C138.9 2508.6 171.9 2555.1 200 2560 C228.1 2564.9 448.8 2573.3 470 2560 C491.2 2546.7 456.9 2421.9 455 2400 C453.1 2378.1 449.9 2305.6 447 2297 Z" fill="#ff7f0e"/><path d="M162.6 2397.8 C166.8 2392.1 172.3 2386.8 175 2385 C177.7 2383.2 188.9 2377.3 190 2380 C191.1 2382.7 185.8 2401.3 186 2412 C186.2 2422.7 191.8 2475.8 192 2486.5 C192.2 2497.2 192.2 2516.7 188 2519 C183.8 2521.3 155.8 2512.5 150 2510 C144.2 2507.5 131.7 2500.8 130 2494 C128.3 2487.2 129.7 2451.6 133 2442 C136.3 2432.4 158.4 2403.5 162.6 2397.8 Z" fill="#e0e0e0"/><path d="M45.3 2493.5 C46.9 2486.8 57.5 2465.7 60 2460 C62.5 2454.3 68.8 2438.8 70.8 2436.8 C72.8 2434.8 78.3 2438.9 80 2440 C81.7 2441.1 86.3 2443.8 87.8 2448 C89.3 2452.2 93.4 2476.9 94.9 2482 C96.4 2487.1 101.1 2491.3 102.5 2499 C103.9 2506.7 109.8 2551.5 109 2558.6 C108.2 2565.7 98.2 2568.9 94.9 2570 C91.7 2571.1 80.3 2571.1 76.5 2570 C72.7 2568.9 60 2562.8 56.7 2558.6 C53.5 2554.3 45.1 2534 44 2527.5 C42.9 2521 43.7 2500.2 45.3 2493.5 Z" fill="#ffbb78"/><path d="M96.3 2482 C98 2480.3 115.5 2478.3 119 2482 C122.5 2485.7 129.1 2511.6 130.9 2519 C132.7 2526.4 137 2549.3 137.4 2555.8 C137.8 2562.3 137.5 2579.8 134.5 2584 C131.5 2588.2 112.5 2597.4 107.6 2598.3 C102.6 2599.2 86.3 2595.4 85 2592.6 C83.7 2589.8 92.5 2573.4 94.9 2570 C97.3 2566.6 108.2 2565.7 109 2558.6 C109.8 2551.5 103.8 2506.7 102.5 2499 C101.2 2491.3 94.6 2483.7 96.3 2482 Z" fill="#f7b6d2"/><path d="M70.8 2565 C71.5 2563 82.6 2569.7 85 2570 C87.4 2570.3 92.5 2569 95 2568 C97.5 2567 106.7 2561 110 2560 C113.3 2559 125 2556.5 128 2558 C131 2559.5 137.5 2570.8 140 2575 C142.5 2579.2 151 2594.8 153 2600 C155 2605.2 155.5 2623.4 160 2626.6 C164.5 2629.8 189.9 2631.5 198.3 2632.3 C206.7 2633.1 237.9 2632.7 243.6 2635 C249.3 2637.3 253.8 2650.2 255 2655 C256.2 2659.8 261.7 2680.2 256 2683 C250.3 2685.8 208 2683.7 198.3 2683 C188.6 2682.3 164.8 2678 158.6 2676 C152.4 2674 140.5 2666.5 136 2663 C131.5 2659.5 117.8 2645.6 113.3 2640.8 C108.8 2636 94.1 2620.4 90.6 2615.3 C87.1 2610.2 80 2595 78 2590 C76 2585 70.1 2567 70.8 2565 Z" fill="#f8d5e6"/><path d="M130.3 2519 C132.6 2518.4 153.2 2532 158.6 2536 C164 2540 178.7 2554.1 184.1 2558.6 C189.5 2563.1 207.9 2577.3 212.4 2581.3 C216.9 2585.3 226 2594.6 229.4 2598.3 C232.8 2602 245 2614.3 246.4 2618 C247.8 2621.7 248.4 2633.6 243.6 2635 C238.8 2636.4 206.8 2633.1 198.3 2632.3 C189.8 2631.5 163.1 2630 158.6 2626.6 C154.1 2623.2 155 2604 153 2598.3 C151 2592.6 140.5 2575.7 138.8 2570 C137.1 2564.3 136.8 2546.7 136 2541.6 C135.2 2536.5 128 2519.6 130.3 2519 Z" fill="#c49c94"/><path d="M127.5 2507.6 C130.1 2506.8 150.1 2508.5 155.8 2510.5 C161.5 2512.5 179 2523.8 184.1 2527.5 C189.2 2531.2 202.6 2543.2 206.8 2547.3 C211.1 2551.4 221.8 2563.7 226.6 2568 C231.4 2572.3 249.2 2585.6 254.9 2590 C260.6 2594.4 277.6 2607.6 283.3 2612 C289 2616.4 306.5 2630.3 311.6 2634.5 C316.7 2638.7 330.9 2650.8 334.2 2654.3 C337.5 2657.9 345.4 2667.4 345 2670 C344.6 2672.6 334.5 2681 330 2680 C325.5 2679 306.5 2665 300 2660 C293.5 2655 269.9 2633.3 264.8 2630 C259.7 2626.7 253.1 2628.6 249.3 2626.6 C245.5 2624.6 231.7 2614.1 226.6 2609.6 C221.5 2605.1 204 2586.8 198.3 2581.3 C192.6 2575.8 175.7 2559.1 170 2554.4 C164.3 2549.7 145.6 2538 141.6 2534.5 C137.6 2531 131.7 2521.7 130.3 2519 C128.9 2516.3 125 2508.4 127.5 2507.6 Z" fill="#17868f"/><path d="M254.9 2598.3 C257.1 2595.5 267.6 2596 271.9 2598.3 C276.1 2600.6 292.9 2616.8 297.4 2621 C301.9 2625.2 313.7 2637.1 317.2 2640.8 C320.7 2644.5 331.5 2654 332.8 2657.8 C334.1 2661.6 332.1 2675.9 330 2679 C327.9 2682.1 317.7 2687.7 311.6 2689 C305.5 2690.3 274.8 2692.4 269.1 2691.8 C263.4 2691.2 256.8 2687.6 254.9 2683.3 C253 2679.1 250.3 2655 249.8 2649.3 C249.3 2643.6 249.3 2631.7 249.8 2626.6 C250.3 2621.5 252.7 2601.1 254.9 2598.3 Z" fill="#2ca02c"/><path d="M184 2411 C185.3 2406.7 194.4 2405 198 2405.7 C201.6 2406.4 212.3 2411.1 215 2417 C217.7 2422.9 220.7 2448.8 221 2456.7 C221.3 2464.6 217.3 2479.1 218 2485 C218.7 2490.9 226.2 2501.7 226.6 2507.6 C226.9 2513.5 223 2533 221 2536 C219 2539 212.3 2534.7 209.6 2533 C206.9 2531.3 200 2527.4 198 2521.8 C196 2516.2 193.9 2494.3 192.6 2485 C191.3 2475.7 188 2451.1 187 2442.5 C186 2433.9 182.7 2415.3 184 2411 Z" fill="#dbd98c" stroke="#ff7f0e" stroke-width="3"/><path d="M223.8 2510.5 C225.8 2507.2 231.5 2505.6 235.1 2507.6 C238.7 2509.6 249.3 2521.6 254.9 2527.5 C260.5 2533.4 277.3 2552 283.3 2558.6 C289.3 2565.2 300.7 2578.4 306 2584 C311.3 2589.6 323.7 2601.2 328.6 2606.8 C333.5 2612.4 345.8 2627.7 348.4 2632.3 C351 2636.9 351.9 2644.4 351.2 2646.4 C350.5 2648.4 346.6 2651.6 342.6 2649.3 C338.6 2647 323.5 2631.9 317.2 2626.6 C310.9 2621.3 296.3 2609.2 289 2603.9 C281.7 2598.6 262.2 2586.6 254.9 2581.3 C247.6 2576 230.9 2563.9 226.6 2558.6 C222.3 2553.3 218.4 2541.6 218.1 2536 C217.8 2530.4 221.8 2513.8 223.8 2510.5 Z" fill="#dbd98c" stroke="#ff7f0e" stroke-width="3.5"/><path d="M215 2420 C211.7 2415.9 223.3 2391.1 226.6 2385 C229.9 2378.9 240.3 2369.3 243.6 2368 C246.9 2366.7 253 2369.6 255 2373.6 C257 2377.6 260.6 2396.6 260.6 2402 C260.6 2407.4 260.3 2417.9 255 2420 C249.7 2422.1 218.3 2424.1 215 2420 Z" fill="#dbd98c" stroke="#ff7f0e" stroke-width="3"/><path d="M209.6 2547.3 C210.5 2551 222.1 2561 226.6 2565 C231.1 2569 249.2 2582.6 254.9 2587 C260.6 2591.4 277.6 2604.6 283.3 2609 C289 2613.4 306.5 2626.8 311.6 2631 C316.7 2635.2 330.7 2647.3 334.2 2651 C337.7 2654.7 344.2 2664.1 347 2668 C349.8 2671.9 359.5 2688 362 2690 C364.5 2692 371.7 2690.2 372 2688 C372.3 2685.8 367.2 2671.8 365 2668 C362.8 2664.2 353.5 2654 350 2650 C346.5 2646 334.5 2632.6 330 2628 C325.5 2623.4 310 2608.8 305 2604 C300 2599.2 285 2584.4 280 2580 C275 2575.6 259.8 2564 255 2560 C250.2 2556 235.7 2543.2 232 2540 C228.3 2536.8 220.2 2527.3 218 2528 C215.8 2528.7 208.7 2543.6 209.6 2547.3 Z" fill="#ff7f0e"/><path d="M209.6 2547.3 C212.4 2551.1 219 2562.4 226.6 2570 C234.2 2577.6 245.4 2585.3 254.9 2592.6 C264.4 2599.9 273.9 2606.6 283.3 2613.9 C292.8 2621.2 303.1 2629.4 311.6 2636.5 C320.1 2643.6 328.3 2650.2 334.2 2656.3 C340.1 2662.4 341.8 2666.9 347 2673.3 C352.2 2679.7 362.3 2691.1 365.4 2694.6" fill="none" stroke="#d62728" stroke-width="3.5"/><path d="M294.6 2553 C297.4 2552.4 320.3 2566 325.7 2570 C331.1 2574 345.2 2588.1 348.4 2592.6 C351.6 2597.1 357.2 2611.5 357.5 2615.3 C357.8 2619.1 354.1 2630.1 351.8 2630.9 C349.5 2631.8 338.2 2627.1 334.2 2623.8 C330.2 2620.5 315.3 2603.1 311.6 2598.3 C307.9 2593.5 299.1 2580.1 297.4 2575.6 C295.7 2571.1 291.8 2553.6 294.6 2553 Z" fill="#d4e9f4"/><path d="M221 2470.8 C223.3 2464.3 244.2 2447.3 249.3 2442.5 C254.4 2437.7 268.5 2425.8 271.9 2422.7 C275.3 2419.6 280.5 2410.2 283.3 2411.3 C286.1 2412.4 296.1 2429.5 300.3 2434 C304.5 2438.5 320.3 2450.8 325.7 2456.7 C331.1 2462.6 349.2 2486.7 354 2493.5 C358.8 2500.3 369.1 2519.8 373.9 2524.6 C378.7 2529.4 398.2 2537.1 402.2 2541.6 C406.2 2546.1 414.1 2565.8 413.5 2570 C412.9 2574.2 401 2583 396.5 2584.1 C392 2585.2 373 2581.3 368.2 2581.3 C363.4 2581.3 351.8 2585.2 348.4 2584.1 C345 2583 338.4 2573.1 334.2 2570 C329.9 2566.9 311.6 2556.7 305.9 2553 C300.2 2549.3 283.3 2536.5 277.6 2533.1 C271.9 2529.7 254.4 2521.6 249.3 2519 C244.2 2516.4 229.4 2512.4 226.6 2507.6 C223.8 2502.8 218.7 2477.3 221 2470.8 Z" fill="#8c564b"/><path d="M230 2428.6 C232.8 2422.1 253.5 2406.8 258.3 2403.1 C263.1 2399.4 272.5 2391 278.2 2391.8 C283.9 2392.7 307.9 2405.4 315 2411.6 C322.1 2417.8 344.2 2445.5 349 2454 C353.8 2462.5 362.2 2489.5 363.1 2496.6 C364 2503.7 362.3 2522.2 357.5 2525 C352.7 2527.8 323.5 2526.4 315 2525 C306.5 2523.6 279.9 2513.6 272.5 2510.8 C265.1 2508 245.6 2500.8 241.3 2496.6 C237.1 2492.3 231.1 2475.1 230 2468.3 C228.9 2461.5 227.2 2435.1 230 2428.6 Z" fill="#8c564b"/><path d="M258.3 2451.3 C261.1 2445.2 281 2435.7 286.7 2435.7 C292.4 2435.7 309.9 2446.6 315 2451.3 C320.1 2456 333.4 2476.2 337.6 2482.4 C341.9 2488.6 354.7 2509.1 357.5 2513.6 C360.3 2518.1 368.8 2525.9 366 2527.7 C363.2 2529.5 337 2532.8 329.1 2532 C321.2 2531.2 293.8 2522.8 286.7 2519.3 C279.6 2515.8 261.1 2503.4 258.3 2496.6 C255.5 2489.8 255.5 2457.4 258.3 2451.3 Z" fill="#7f821f"/><path d="M278.2 2391.8 C278.2 2388.8 298.5 2386.8 303.6 2386.1 C308.7 2385.4 324.6 2382.7 329.1 2384.7 C333.6 2386.7 345.1 2401 349 2406 C352.9 2411 364.5 2428.6 367.9 2434.3 C371.3 2440 379.8 2456.9 383 2462.6 C386.2 2468.3 396.6 2485.2 400 2490.9 C403.4 2496.6 414.7 2514.2 417 2519.3 C419.3 2524.4 423.7 2538.6 422.6 2542 C421.5 2545.4 409.6 2552.6 405.6 2553.2 C401.6 2553.8 386.7 2549.2 383 2547.5 C379.3 2545.8 371.1 2538.8 368.2 2536 C365.3 2533.2 356.3 2524.1 354 2519 C351.7 2513.9 347.3 2491.6 345.6 2485 C343.9 2478.4 339.9 2458.7 337.1 2452.9 C334.3 2447.1 320.6 2430.4 317.2 2426.7 C313.8 2423 307.5 2419.5 303.6 2416 C299.7 2412.5 278.2 2394.8 278.2 2391.8 Z" fill="#9e1b1b"/></g>
<g><path d="M238.5 2364.9 C237.8 2360.4 239 2345.6 241.3 2340.8 C243.6 2336 253 2327.5 258.3 2323.8 C263.6 2320.2 280 2312.2 286.7 2309.7 C293.3 2307.1 306.7 2302.9 315 2301.7 C323.2 2300.6 348.2 2299.3 357.5 2299.7 C366.7 2300.2 386.7 2303.4 394.3 2305.4 C401.9 2307.4 416.7 2313.8 422.6 2316.7 C428.6 2319.7 441.3 2327.4 445.3 2330.9 C449.2 2334.4 455.6 2342.3 456.6 2346.5 C457.6 2350.6 456.1 2361.2 453.8 2366.3 C451.5 2371.4 443.1 2387.2 436.8 2390.4 C430.5 2393.5 409.2 2393.2 400 2393.2 C390.7 2393.2 367.4 2391.2 357.5 2390.4 C347.6 2389.6 324.9 2387 315 2386.1 C305.1 2385.2 280.4 2383.6 272.5 2382.7 C264.6 2381.9 251 2381.1 247 2379.1 C243 2377 239.2 2369.4 238.5 2364.9 Z" fill="#c7c7c7"/><path d="M249.8 2363.5 C247.5 2359.8 250.7 2347.6 252.7 2343.6 C254.6 2339.7 262.2 2332.5 266.8 2329.5 C271.4 2326.5 286 2320.3 292.3 2318.2 C298.6 2316 313 2312.1 320.6 2311.1 C328.2 2310.1 349.2 2309.3 357.5 2309.7 C365.7 2310 384.5 2312.1 391.5 2313.9 C398.4 2315.7 411.7 2322.4 416.9 2325.2 C422.2 2328 433.5 2334.8 436.8 2338 C440.1 2341.1 444.9 2348.2 445.3 2352.1 C445.6 2356.1 442.3 2368.3 439.6 2372 C437 2375.6 428.6 2382 422.6 2383.3 C416.7 2384.6 397.2 2383.6 388.6 2383.3 C380 2383 358.2 2381.1 349 2380.5 C339.7 2379.8 318.2 2378.3 309.3 2377.6 C300.4 2377 279.4 2376.5 272.5 2374.8 C265.5 2373.2 252.1 2367.1 249.8 2363.5 Z" fill="#c0661c"/><path d="M256.9 2360.6 C254.8 2357.8 257.9 2348.2 259.7 2345.1 C261.6 2341.9 268.4 2336.2 272.5 2333.7 C276.6 2331.3 289.2 2325.8 295.1 2323.8 C301.1 2321.8 316.2 2317.7 323.5 2316.7 C330.7 2315.7 349.9 2315.1 357.5 2315.3 C365.1 2315.6 382.2 2317.1 388.6 2318.7 C395.1 2320.4 407.6 2326.7 412.7 2329.5 C417.8 2332.2 429.6 2339.4 432.5 2342.2 C435.5 2345 438 2350.6 438.2 2353.6 C438.4 2356.5 436.1 2364.9 433.9 2367.7 C431.8 2370.5 425.1 2376.4 419.8 2377.6 C414.5 2378.9 396.9 2378.5 388.6 2378.2 C380.4 2377.9 357.9 2376 349 2375.4 C340 2374.7 320.4 2373.2 312.1 2372.5 C303.9 2371.9 284.6 2371.1 278.2 2369.7 C271.7 2368.3 259.1 2363.5 256.9 2360.6 Z" fill="#c7c7c7"/><path d="M266.8 2355 C264.8 2352.7 268 2346 269.7 2343.6 C271.3 2341.3 277.4 2337.1 281 2335.1 C284.6 2333.2 295.5 2328.3 300.8 2326.7 C306.1 2325 319.7 2321.7 326.3 2321 C332.9 2320.3 350.5 2320.1 357.5 2320.4 C364.4 2320.7 379.8 2322.3 385.8 2323.8 C391.7 2325.4 403.8 2331.3 408.5 2333.7 C413.1 2336.2 423 2342.6 425.4 2345.1 C427.9 2347.5 429.7 2352.5 429.7 2355 C429.7 2357.5 427.6 2364.3 425.4 2366.3 C423.3 2368.3 416.2 2371.2 411.3 2372 C406.3 2372.7 390.2 2372.7 383 2372.5 C375.7 2372.4 356.9 2371.1 349 2370.6 C341 2370 322.2 2368.5 315 2367.7 C307.7 2366.9 292.3 2365 286.7 2363.5 C281 2362 268.8 2357.3 266.8 2355 Z" fill="#aec7e8"/><path d="M296.6 2322.4 C301 2320.7 313.3 2314.8 323.5 2312.5 C333.6 2310.1 346.6 2308.5 357.5 2308.2 C368.3 2308 379.7 2308.7 388.6 2311.1 C397.6 2313.4 405.1 2318.6 411.3 2322.4 C417.4 2326.2 423.1 2331.8 425.4 2333.7" fill="none" stroke="#9467bd" stroke-width="5.5" stroke-linecap="round"/><path d="M329.1 2355 C331.1 2353.3 343.3 2352.4 349 2352.1 C354.6 2351.9 370.7 2352.4 377.3 2352.7 C383.9 2353 400.3 2354.1 405.6 2355 C410.9 2355.9 421.3 2358.8 422.6 2360.6 C423.9 2362.5 420.9 2368.9 416.9 2370.6 C413 2372.2 395.6 2374 388.6 2374.8 C381.7 2375.6 363.1 2377.1 357.5 2377.1 C351.8 2377.1 343.4 2376.1 340.5 2374.8 C337.5 2373.5 333.3 2368.6 332 2366.3 C330.6 2364 327.2 2356.6 329.1 2355 Z" fill="#bcbd22"/><path d="M351.8 2363.5 C356 2363.5 368.3 2363.5 377.3 2363.5 C386.3 2363.5 399 2363.2 405.6 2363.5 C412.2 2363.7 415.1 2364.7 416.9 2364.9" fill="none" stroke="#c0661c" stroke-width="3"/><path d="M411.3 2326.7 C413.6 2326.2 429.3 2329.6 433.9 2330.9 C438.6 2332.2 448.3 2335.5 450.9 2338 C453.6 2340.5 457.3 2351.5 456.6 2352.1 C455.9 2352.8 448.6 2345.3 445.3 2343.6 C442 2342 431.9 2339 428.3 2338 C424.6 2337 416.1 2336.5 414.1 2335.1 C412.1 2333.8 409 2327.1 411.3 2326.7 Z" fill="#c0661c"/></g><g transform="matrix(-1 0 0 1 912 0)"><path d="M238.5 2364.9 C237.8 2360.4 239 2345.6 241.3 2340.8 C243.6 2336 253 2327.5 258.3 2323.8 C263.6 2320.2 280 2312.2 286.7 2309.7 C293.3 2307.1 306.7 2302.9 315 2301.7 C323.2 2300.6 348.2 2299.3 357.5 2299.7 C366.7 2300.2 386.7 2303.4 394.3 2305.4 C401.9 2307.4 416.7 2313.8 422.6 2316.7 C428.6 2319.7 441.3 2327.4 445.3 2330.9 C449.2 2334.4 455.6 2342.3 456.6 2346.5 C457.6 2350.6 456.1 2361.2 453.8 2366.3 C451.5 2371.4 443.1 2387.2 436.8 2390.4 C430.5 2393.5 409.2 2393.2 400 2393.2 C390.7 2393.2 367.4 2391.2 357.5 2390.4 C347.6 2389.6 324.9 2387 315 2386.1 C305.1 2385.2 280.4 2383.6 272.5 2382.7 C264.6 2381.9 251 2381.1 247 2379.1 C243 2377 239.2 2369.4 238.5 2364.9 Z" fill="#c7c7c7"/><path d="M249.8 2363.5 C247.5 2359.8 250.7 2347.6 252.7 2343.6 C254.6 2339.7 262.2 2332.5 266.8 2329.5 C271.4 2326.5 286 2320.3 292.3 2318.2 C298.6 2316 313 2312.1 320.6 2311.1 C328.2 2310.1 349.2 2309.3 357.5 2309.7 C365.7 2310 384.5 2312.1 391.5 2313.9 C398.4 2315.7 411.7 2322.4 416.9 2325.2 C422.2 2328 433.5 2334.8 436.8 2338 C440.1 2341.1 444.9 2348.2 445.3 2352.1 C445.6 2356.1 442.3 2368.3 439.6 2372 C437 2375.6 428.6 2382 422.6 2383.3 C416.7 2384.6 397.2 2383.6 388.6 2383.3 C380 2383 358.2 2381.1 349 2380.5 C339.7 2379.8 318.2 2378.3 309.3 2377.6 C300.4 2377 279.4 2376.5 272.5 2374.8 C265.5 2373.2 252.1 2367.1 249.8 2363.5 Z" fill="#c0661c"/><path d="M256.9 2360.6 C254.8 2357.8 257.9 2348.2 259.7 2345.1 C261.6 2341.9 268.4 2336.2 272.5 2333.7 C276.6 2331.3 289.2 2325.8 295.1 2323.8 C301.1 2321.8 316.2 2317.7 323.5 2316.7 C330.7 2315.7 349.9 2315.1 357.5 2315.3 C365.1 2315.6 382.2 2317.1 388.6 2318.7 C395.1 2320.4 407.6 2326.7 412.7 2329.5 C417.8 2332.2 429.6 2339.4 432.5 2342.2 C435.5 2345 438 2350.6 438.2 2353.6 C438.4 2356.5 436.1 2364.9 433.9 2367.7 C431.8 2370.5 425.1 2376.4 419.8 2377.6 C414.5 2378.9 396.9 2378.5 388.6 2378.2 C380.4 2377.9 357.9 2376 349 2375.4 C340 2374.7 320.4 2373.2 312.1 2372.5 C303.9 2371.9 284.6 2371.1 278.2 2369.7 C271.7 2368.3 259.1 2363.5 256.9 2360.6 Z" fill="#c7c7c7"/><path d="M266.8 2355 C264.8 2352.7 268 2346 269.7 2343.6 C271.3 2341.3 277.4 2337.1 281 2335.1 C284.6 2333.2 295.5 2328.3 300.8 2326.7 C306.1 2325 319.7 2321.7 326.3 2321 C332.9 2320.3 350.5 2320.1 357.5 2320.4 C364.4 2320.7 379.8 2322.3 385.8 2323.8 C391.7 2325.4 403.8 2331.3 408.5 2333.7 C413.1 2336.2 423 2342.6 425.4 2345.1 C427.9 2347.5 429.7 2352.5 429.7 2355 C429.7 2357.5 427.6 2364.3 425.4 2366.3 C423.3 2368.3 416.2 2371.2 411.3 2372 C406.3 2372.7 390.2 2372.7 383 2372.5 C375.7 2372.4 356.9 2371.1 349 2370.6 C341 2370 322.2 2368.5 315 2367.7 C307.7 2366.9 292.3 2365 286.7 2363.5 C281 2362 268.8 2357.3 266.8 2355 Z" fill="#aec7e8"/><path d="M296.6 2322.4 C301 2320.7 313.3 2314.8 323.5 2312.5 C333.6 2310.1 346.6 2308.5 357.5 2308.2 C368.3 2308 379.7 2308.7 388.6 2311.1 C397.6 2313.4 405.1 2318.6 411.3 2322.4 C417.4 2326.2 423.1 2331.8 425.4 2333.7" fill="none" stroke="#9467bd" stroke-width="5.5" stroke-linecap="round"/><path d="M329.1 2355 C331.1 2353.3 343.3 2352.4 349 2352.1 C354.6 2351.9 370.7 2352.4 377.3 2352.7 C383.9 2353 400.3 2354.1 405.6 2355 C410.9 2355.9 421.3 2358.8 422.6 2360.6 C423.9 2362.5 420.9 2368.9 416.9 2370.6 C413 2372.2 395.6 2374 388.6 2374.8 C381.7 2375.6 363.1 2377.1 357.5 2377.1 C351.8 2377.1 343.4 2376.1 340.5 2374.8 C337.5 2373.5 333.3 2368.6 332 2366.3 C330.6 2364 327.2 2356.6 329.1 2355 Z" fill="#bcbd22"/><path d="M351.8 2363.5 C356 2363.5 368.3 2363.5 377.3 2363.5 C386.3 2363.5 399 2363.2 405.6 2363.5 C412.2 2363.7 415.1 2364.7 416.9 2364.9" fill="none" stroke="#c0661c" stroke-width="3"/><path d="M411.3 2326.7 C413.6 2326.2 429.3 2329.6 433.9 2330.9 C438.6 2332.2 448.3 2335.5 450.9 2338 C453.6 2340.5 457.3 2351.5 456.6 2352.1 C455.9 2352.8 448.6 2345.3 445.3 2343.6 C442 2342 431.9 2339 428.3 2338 C424.6 2337 416.1 2336.5 414.1 2335.1 C412.1 2333.8 409 2327.1 411.3 2326.7 Z" fill="#c0661c"/></g>
<path d="M397.1 2296.9 C399.1 2294.6 421.7 2290.5 428.3 2289.8 C434.9 2289.2 447.8 2291.4 453.8 2291.2 C459.7 2291.1 474 2288.6 479.3 2288.4 C484.6 2288.2 497.4 2288 499.1 2289.8 C500.7 2291.6 496.1 2301 493.4 2304 C490.8 2307 480.7 2313 476.4 2315.3 C472.1 2317.6 461.6 2323.2 456.6 2323.8 C451.6 2324.5 439.2 2322.6 433.9 2321 C428.7 2319.3 415.6 2312.5 411.3 2309.7 C407 2306.8 395.1 2299.2 397.1 2296.9 Z" fill="#dbd98c"/><path d="M428.3 2289.8 C427.8 2288.3 438.1 2283.1 441 2282.7 C444 2282.4 453.3 2285.5 453.8 2287 C454.3 2288.5 448.2 2295.2 445.3 2295.5 C442.3 2295.8 428.8 2291.3 428.3 2289.8 Z" fill="#c8e6c8" stroke="#2ca02c" stroke-width="1.2"/><path d="M433.9 2340.8 C436.3 2335.9 444.5 2335.1 448.1 2335.1 C451.7 2335.1 462.1 2337.8 465.1 2340.8 C468.1 2343.8 471.3 2355.7 473.6 2360.6 C475.9 2365.6 482.6 2379.7 484.9 2383.3 C487.2 2386.9 490.1 2391.1 493.4 2391.8 C496.7 2392.5 512.3 2386 513.3 2389 C514.2 2391.9 505.2 2412.7 501.9 2417.3 C498.6 2421.9 490.2 2426.6 484.9 2428.6 C479.6 2430.6 463.2 2434.3 456.6 2434.3 C450 2434.3 434.2 2429.9 428.3 2428.6 C422.3 2427.3 410.2 2426.9 405.6 2423 C401 2419 387.6 2398.3 388.6 2394.6 C389.6 2391 409.5 2393.8 414.1 2391.8 C418.7 2389.8 426 2383.6 428.3 2377.6 C430.6 2371.7 431.6 2345.8 433.9 2340.8 Z" fill="#d62728"/><path d="M388.6 2393.2 C389.9 2389.7 411.7 2393.5 416.9 2394.6 C422.2 2395.8 429.3 2401.8 433.9 2403.1 C438.6 2404.5 451.3 2406 456.6 2406 C461.9 2406 474 2404.5 479.3 2403.1 C484.6 2401.8 497.6 2396.3 501.9 2394.6 C506.2 2393 516.1 2386.3 516.1 2389 C516.1 2391.6 505.6 2412.7 501.9 2417.3 C498.3 2421.9 490.2 2426.6 484.9 2428.6 C479.6 2430.6 463.2 2434 456.6 2434.3 C450 2434.6 434.2 2432.6 428.3 2431.5 C422.3 2430.3 410.2 2428.8 405.6 2424.4 C401 2419.9 387.3 2396.7 388.6 2393.2 Z" fill="#1f77b4"/><path d="M436.8 2346.5 C438.9 2344.5 446.5 2340.8 449.5 2340.8 C452.5 2340.8 459.8 2343.5 462.3 2346.5 C464.7 2349.5 468.8 2362.3 470.8 2366.3 C472.7 2370.3 480.3 2378.7 479.3 2380.5 C478.3 2382.3 466.2 2381.9 462.3 2381.9 C458.3 2381.9 448.6 2381.6 445.3 2380.5 C442 2379.3 435.6 2374.6 433.9 2372 C432.3 2369.3 430.8 2360.8 431.1 2357.8 C431.4 2354.8 434.6 2348.5 436.8 2346.5 Z" fill="#e3c8c8"/><path d="M422.6 2377.6 C424.6 2375 435.6 2372 439.6 2372 C443.6 2372 452.6 2377.3 456.6 2377.6 C460.6 2378 470.6 2374.1 473.6 2374.8 C476.6 2375.5 481.8 2380.3 482.1 2383.3 C482.4 2386.3 479.4 2398 476.4 2400.3 C473.5 2402.6 461.2 2403 456.6 2403.1 C452 2403.3 440.7 2402.7 436.8 2401.7 C432.8 2400.7 424.3 2397.4 422.6 2394.6 C421 2391.8 420.6 2380.3 422.6 2377.6 Z" fill="#ff9896"/><path d="M329.1 2383.3 C328.4 2380 352.5 2388 357.5 2389 C362.4 2389.9 384.6 2391.8 388.6 2394.6 C392.6 2397.5 400 2419.4 405.6 2423 C411.3 2426.5 448.6 2437.4 456.6 2437.1 C464.6 2436.9 496.7 2424.1 501.9 2420.1 C507.1 2416.1 515.4 2392 518.9 2389 C522.5 2385.9 540.2 2383.8 544.4 2383.3 C548.7 2382.8 570.1 2379.8 569.9 2383.3 C569.7 2386.8 545.8 2418.7 541.6 2425.8 C537.3 2432.9 522.5 2462.4 518.9 2468.3 C515.4 2474.2 500.7 2491.9 499.1 2496.6 C497.4 2501.3 497.9 2521.2 499.1 2524.9 C500.3 2528.7 511.4 2539.1 513.3 2541.9 C515.1 2544.8 524.1 2559 521.8 2559.3 C519.4 2559.6 490.4 2547.5 484.9 2545.1 C479.5 2542.8 462.7 2531 456.6 2531 C450.5 2531 415.3 2541.6 411.3 2545.1 C407.3 2548.7 408.2 2576.3 408.5 2573.5 C408.7 2570.6 415.8 2519.5 414.1 2510.8 C412.5 2502 392.6 2475.1 388.6 2468.3 C384.6 2461.4 370.9 2435.7 366 2428.6 C361 2421.5 329.8 2386.6 329.1 2383.3 Z" fill="#c9efc6"/><path d="M349 2582 C355.5 2578.6 402.2 2577.2 408.5 2573.5 C414.7 2569.8 406.5 2549.4 411.3 2545.1 C416.1 2540.9 449.2 2531 456.6 2531 C464 2531 478.4 2542 484.9 2545.1 C491.4 2548.3 517.8 2557.9 521.8 2562.1 C525.7 2566.4 522.6 2584.5 524.6 2587.6 C526.6 2590.8 534.8 2593.3 541.6 2593.3 C548.4 2593.3 586.9 2584.8 592.6 2587.6 C598.2 2590.5 596.8 2615.4 598.2 2621.6 C599.6 2627.9 606.7 2644.6 606.7 2650 C606.7 2655.3 601.9 2673.2 598.2 2675.4 C594.5 2677.7 575.6 2672.6 569.9 2672.6 C564.2 2672.6 547.2 2676.6 541.6 2675.4 C535.9 2674.3 518.9 2664.4 513.3 2661.3 C507.6 2658.2 489.2 2646.3 484.9 2644.3 C480.7 2642.3 473.6 2640.9 470.8 2641.5 C467.9 2642 460.9 2648.5 456.6 2650 C452.4 2651.4 435.4 2653.1 428.3 2655.6 C421.2 2658.2 392.3 2673.5 385.8 2675.4 C379.3 2677.4 367.1 2678 363.1 2675.4 C359.2 2672.9 348.1 2656.8 346.1 2650 C344.2 2643.2 343 2614.3 343.3 2607.5 C343.6 2600.7 342.5 2585.4 349 2582 Z" fill="#1f77b4"/><path d="M400 2616 C400.6 2612.7 408.6 2596.3 411.3 2593.3 C413.9 2590.3 421 2589.5 422.6 2590.5 C424.3 2591.5 426.4 2598.8 425.4 2601.8 C424.5 2604.8 416.4 2613.6 414.1 2616 C411.8 2618.3 407.3 2621.6 405.6 2621.6 C404 2621.6 399.3 2619.3 400 2616 Z" fill="#8c564b"/><path d="M411.3 2593.3 C412.1 2592 418.1 2590.1 419.8 2590.5 C421.4 2590.8 425.4 2594.5 425.4 2596.1 C425.4 2597.8 421.3 2604 419.8 2604.6 C418.3 2605.3 413.7 2603.1 412.7 2601.8 C411.7 2600.5 410.5 2594.6 411.3 2593.3 Z" fill="#ff7f0e"/><path d="M513.3 2587.6 C513.9 2585.8 520.1 2583.2 521.8 2583.4 C523.4 2583.6 527.1 2587.2 527.4 2589.1 C527.7 2590.9 525.9 2597.8 524.6 2599 C523.3 2600.1 517.4 2600.3 516.1 2599 C514.8 2597.6 512.6 2589.5 513.3 2587.6 Z" fill="#ff7f0e"/><path d="M465.1 2576.3 C465.9 2575 469.8 2572.5 470.8 2573.5 C471.8 2574.5 473.4 2581.8 473.6 2584.8 C473.8 2587.8 473 2597.5 472.2 2599 C471.4 2600.5 467.5 2599.2 466.5 2597.6 C465.5 2595.9 463.8 2587.3 463.7 2584.8 C463.5 2582.3 464.3 2577.6 465.1 2576.3 Z" fill="#d62728"/><path d="M366 2675.4 C368.8 2673.6 392.3 2675.2 400 2672.6 C407.6 2670.1 436.2 2651.7 442.4 2650 C448.7 2648.3 459.2 2656.2 462.3 2655.6 C465.4 2655.1 470.8 2645.4 473.6 2644.3 C476.4 2643.2 486.6 2642.3 490.6 2644.3 C494.6 2646.3 506.7 2661 513.3 2664.1 C519.8 2667.2 548.7 2674.3 555.7 2675.4 C562.8 2676.6 580.2 2673.7 584.1 2675.4 C587.9 2677.1 594 2690 594 2692.4 C594 2694.8 592.1 2698.5 584.1 2699.5 C576 2700.5 528.8 2702.4 513.3 2702.4 C497.7 2702.4 442.4 2700.7 428.3 2699.5 C414.1 2698.4 377.9 2693.4 371.6 2691 C365.4 2688.6 363.1 2677.3 366 2675.4 Z" fill="#e2d6ea"/><path d="M343.3 2661.3 C346.6 2665.1 355.6 2678.3 363.1 2683.9 C370.7 2689.6 373 2692.8 388.6 2695.3 C404.2 2697.7 431.1 2698.1 456.6 2698.7 C482.1 2699.2 520.3 2699.2 541.6 2698.7 C562.8 2698.1 573.7 2699.1 584.1 2695.3 C594.5 2691.4 600.6 2678.7 603.9 2675.4" fill="none" stroke="#d62728" stroke-width="3"/><path d="M465.1 2644.3 C467.5 2640.3 479.5 2640.3 482.1 2644.3 C484.7 2648.3 487.6 2671.3 487.8 2678.3 C487.9 2685.2 486.2 2700.8 483.5 2703.8 C480.9 2706.7 467.6 2706.7 465.1 2703.8 C462.6 2700.8 461.7 2685.2 461.7 2678.3 C461.7 2671.3 462.7 2648.3 465.1 2644.3 Z" fill="#9b59a0"/><path d="M470.8 2658.5 C471.6 2656.8 475.3 2656.8 476.4 2658.5 C477.6 2660.1 480.9 2669.6 480.7 2672.6 C480.4 2675.6 475.5 2683.9 474.2 2683.9 C472.8 2683.9 469.7 2675.6 469.3 2672.6 C469 2669.6 469.9 2660.1 470.8 2658.5 Z" fill="#c9efc6"/>
</g>
<defs><clipPath id="eclip"><path d="M1490 2160 C1487.5 2159.8 1470.2 2157.9 1464.9 2158.3 C1459.6 2158.7 1442.3 2163.2 1436.6 2164 C1430.9 2164.8 1416.7 2166.2 1408.2 2166.8 C1399.7 2167.4 1362.9 2169.1 1351.6 2169.7 C1340.3 2170.3 1303.4 2171.9 1294.9 2172.5 C1286.4 2173.1 1272.3 2174.6 1266.6 2175.3 C1260.9 2176 1244 2178.5 1238.3 2179.6 C1232.6 2180.7 1215.7 2184.9 1210 2186.7 C1204.3 2188.5 1187.3 2195.2 1181.6 2198 C1175.9 2200.8 1158.1 2211.6 1153.3 2215 C1148.5 2218.4 1137.2 2228.3 1133.5 2232 C1129.8 2235.7 1119.3 2247.3 1116.5 2251.8 C1113.7 2256.3 1107.1 2272.5 1105.1 2277.3 C1103.1 2282.1 1098.4 2294.9 1096.7 2300 C1095 2305.1 1089.6 2322.6 1088.2 2328.3 C1086.8 2334 1083.9 2350.9 1082.5 2356.6 C1081.1 2362.3 1075.7 2378.6 1074 2384.9 C1072.3 2391.2 1067.4 2412.8 1066 2420 C1064.6 2427.2 1061.1 2447.4 1059.8 2456.7 C1058.5 2466 1053.1 2504.5 1052.7 2513.3 C1052.3 2522.1 1054.4 2539.3 1056 2545 C1057.6 2550.7 1065.6 2563.3 1068.3 2570 C1071 2576.7 1078.8 2605.9 1082.5 2612.4 C1086.2 2618.9 1100.8 2630.8 1105.1 2635.1 C1109.3 2639.4 1119.6 2650.2 1125 2655 C1130.4 2659.8 1150.5 2679.6 1159 2683.3 C1167.5 2687 1199.2 2690.7 1210 2691.8 C1220.8 2692.9 1255.3 2694 1266.6 2694.6 C1277.9 2695.2 1313.4 2698.2 1323.3 2697.4 C1333.2 2696.6 1360 2688.1 1365.7 2686.1 C1371.4 2684.1 1377.6 2677.9 1379.9 2677.6 C1382.2 2677.3 1386.1 2681.6 1388.4 2683.3 C1390.7 2685 1397.8 2692.9 1402.6 2694.6 C1407.4 2696.3 1427.9 2699.4 1436.6 2700.2 C1445.3 2701 1484.7 2702.7 1490 2703 C1495.3 2703.3 1484.7 2703.3 1490 2703 C1495.3 2702.7 1534.7 2701 1543.4 2700.2 C1552.1 2699.4 1572.6 2696.3 1577.4 2694.6 C1582.2 2692.9 1589.3 2685 1591.6 2683.3 C1593.9 2681.6 1597.8 2677.3 1600.1 2677.6 C1602.4 2677.9 1608.6 2684.1 1614.3 2686.1 C1620 2688.1 1646.8 2696.6 1656.7 2697.4 C1666.6 2698.2 1702.1 2695.2 1713.4 2694.6 C1724.7 2694 1759.2 2692.9 1770 2691.8 C1780.8 2690.7 1812.5 2687 1821 2683.3 C1829.5 2679.6 1849.6 2659.8 1855 2655 C1860.4 2650.2 1870.7 2639.4 1874.9 2635.1 C1879.2 2630.8 1893.8 2618.9 1897.5 2612.4 C1901.2 2605.9 1909 2576.7 1911.7 2570 C1914.4 2563.3 1922.4 2550.7 1924 2545 C1925.6 2539.3 1927.7 2522.1 1927.3 2513.3 C1926.9 2504.5 1921.5 2466 1920.2 2456.7 C1918.9 2447.4 1915.4 2427.2 1914 2420 C1912.6 2412.8 1907.7 2391.2 1906 2384.9 C1904.3 2378.6 1898.9 2362.3 1897.5 2356.6 C1896.1 2350.9 1893.2 2334 1891.8 2328.3 C1890.4 2322.6 1885 2305.1 1883.3 2300 C1881.6 2294.9 1876.9 2282.1 1874.9 2277.3 C1872.9 2272.5 1866.3 2256.3 1863.5 2251.8 C1860.7 2247.3 1850.2 2235.7 1846.5 2232 C1842.8 2228.3 1831.5 2218.4 1826.7 2215 C1821.9 2211.6 1804.1 2200.8 1798.4 2198 C1792.7 2195.2 1775.7 2188.5 1770 2186.7 C1764.3 2184.9 1747.4 2180.7 1741.7 2179.6 C1736 2178.5 1719.1 2176 1713.4 2175.3 C1707.7 2174.6 1693.6 2173.1 1685.1 2172.5 C1676.6 2171.9 1639.7 2170.3 1628.4 2169.7 C1617.1 2169.1 1580.3 2167.4 1571.8 2166.8 C1563.3 2166.2 1549.1 2164.8 1543.4 2164 C1537.7 2163.2 1520.4 2158.7 1515.1 2158.3 C1509.8 2157.9 1492.5 2159.8 1490 2160 C1487.5 2160.2 1492.5 2160.2 1490 2160 Z"/></clipPath></defs>
<path d="M1275 2153 C1276.7 2152.2 1280.8 2147.2 1285 2148 C1289.2 2148.8 1294.2 2155.7 1300 2158 C1305.8 2160.3 1313.3 2162 1320 2162 C1326.7 2162 1334.2 2158 1340 2158 C1345.8 2158 1352.5 2161.3 1355 2162" fill="none" stroke="#8a5a3c" stroke-width="6" stroke-linecap="round"/>
<path d="M1275 2153 C1276.7 2152.2 1280.8 2147.2 1285 2148 C1289.2 2148.8 1294.2 2155.7 1300 2158 C1305.8 2160.3 1313.3 2162 1320 2162 C1326.7 2162 1334.2 2158 1340 2158 C1345.8 2158 1352.5 2161.3 1355 2162" fill="none" stroke="#17868f" stroke-width="2.2" stroke-linecap="round"/>
<path d="M1392 2148 C1393.3 2146.7 1395.3 2139.7 1400 2140 C1404.7 2140.3 1413.3 2147.2 1420 2150 C1426.7 2152.8 1433.3 2155.3 1440 2157 C1446.7 2158.7 1456.7 2159.5 1460 2160" fill="none" stroke="#8a5a3c" stroke-width="6" stroke-linecap="round"/>
<path d="M1392 2148 C1393.3 2146.7 1395.3 2139.7 1400 2140 C1404.7 2140.3 1413.3 2147.2 1420 2150 C1426.7 2152.8 1433.3 2155.3 1440 2157 C1446.7 2158.7 1456.7 2159.5 1460 2160" fill="none" stroke="#17868f" stroke-width="2.2" stroke-linecap="round"/>
<path d="M1510 2158 C1513.3 2157 1523.3 2152.3 1530 2152 C1536.7 2151.7 1546.7 2155.3 1550 2156" fill="none" stroke="#8a5a3c" stroke-width="6" stroke-linecap="round"/>
<path d="M1510 2158 C1513.3 2157 1523.3 2152.3 1530 2152 C1536.7 2151.7 1546.7 2155.3 1550 2156" fill="none" stroke="#17868f" stroke-width="2.2" stroke-linecap="round"/>
<path d="M1490 2160 C1487.5 2159.8 1470.2 2157.9 1464.9 2158.3 C1459.6 2158.7 1442.3 2163.2 1436.6 2164 C1430.9 2164.8 1416.7 2166.2 1408.2 2166.8 C1399.7 2167.4 1362.9 2169.1 1351.6 2169.7 C1340.3 2170.3 1303.4 2171.9 1294.9 2172.5 C1286.4 2173.1 1272.3 2174.6 1266.6 2175.3 C1260.9 2176 1244 2178.5 1238.3 2179.6 C1232.6 2180.7 1215.7 2184.9 1210 2186.7 C1204.3 2188.5 1187.3 2195.2 1181.6 2198 C1175.9 2200.8 1158.1 2211.6 1153.3 2215 C1148.5 2218.4 1137.2 2228.3 1133.5 2232 C1129.8 2235.7 1119.3 2247.3 1116.5 2251.8 C1113.7 2256.3 1107.1 2272.5 1105.1 2277.3 C1103.1 2282.1 1098.4 2294.9 1096.7 2300 C1095 2305.1 1089.6 2322.6 1088.2 2328.3 C1086.8 2334 1083.9 2350.9 1082.5 2356.6 C1081.1 2362.3 1075.7 2378.6 1074 2384.9 C1072.3 2391.2 1067.4 2412.8 1066 2420 C1064.6 2427.2 1061.1 2447.4 1059.8 2456.7 C1058.5 2466 1053.1 2504.5 1052.7 2513.3 C1052.3 2522.1 1054.4 2539.3 1056 2545 C1057.6 2550.7 1065.6 2563.3 1068.3 2570 C1071 2576.7 1078.8 2605.9 1082.5 2612.4 C1086.2 2618.9 1100.8 2630.8 1105.1 2635.1 C1109.3 2639.4 1119.6 2650.2 1125 2655 C1130.4 2659.8 1150.5 2679.6 1159 2683.3 C1167.5 2687 1199.2 2690.7 1210 2691.8 C1220.8 2692.9 1255.3 2694 1266.6 2694.6 C1277.9 2695.2 1313.4 2698.2 1323.3 2697.4 C1333.2 2696.6 1360 2688.1 1365.7 2686.1 C1371.4 2684.1 1377.6 2677.9 1379.9 2677.6 C1382.2 2677.3 1386.1 2681.6 1388.4 2683.3 C1390.7 2685 1397.8 2692.9 1402.6 2694.6 C1407.4 2696.3 1427.9 2699.4 1436.6 2700.2 C1445.3 2701 1484.7 2702.7 1490 2703 C1495.3 2703.3 1484.7 2703.3 1490 2703 C1495.3 2702.7 1534.7 2701 1543.4 2700.2 C1552.1 2699.4 1572.6 2696.3 1577.4 2694.6 C1582.2 2692.9 1589.3 2685 1591.6 2683.3 C1593.9 2681.6 1597.8 2677.3 1600.1 2677.6 C1602.4 2677.9 1608.6 2684.1 1614.3 2686.1 C1620 2688.1 1646.8 2696.6 1656.7 2697.4 C1666.6 2698.2 1702.1 2695.2 1713.4 2694.6 C1724.7 2694 1759.2 2692.9 1770 2691.8 C1780.8 2690.7 1812.5 2687 1821 2683.3 C1829.5 2679.6 1849.6 2659.8 1855 2655 C1860.4 2650.2 1870.7 2639.4 1874.9 2635.1 C1879.2 2630.8 1893.8 2618.9 1897.5 2612.4 C1901.2 2605.9 1909 2576.7 1911.7 2570 C1914.4 2563.3 1922.4 2550.7 1924 2545 C1925.6 2539.3 1927.7 2522.1 1927.3 2513.3 C1926.9 2504.5 1921.5 2466 1920.2 2456.7 C1918.9 2447.4 1915.4 2427.2 1914 2420 C1912.6 2412.8 1907.7 2391.2 1906 2384.9 C1904.3 2378.6 1898.9 2362.3 1897.5 2356.6 C1896.1 2350.9 1893.2 2334 1891.8 2328.3 C1890.4 2322.6 1885 2305.1 1883.3 2300 C1881.6 2294.9 1876.9 2282.1 1874.9 2277.3 C1872.9 2272.5 1866.3 2256.3 1863.5 2251.8 C1860.7 2247.3 1850.2 2235.7 1846.5 2232 C1842.8 2228.3 1831.5 2218.4 1826.7 2215 C1821.9 2211.6 1804.1 2200.8 1798.4 2198 C1792.7 2195.2 1775.7 2188.5 1770 2186.7 C1764.3 2184.9 1747.4 2180.7 1741.7 2179.6 C1736 2178.5 1719.1 2176 1713.4 2175.3 C1707.7 2174.6 1693.6 2173.1 1685.1 2172.5 C1676.6 2171.9 1639.7 2170.3 1628.4 2169.7 C1617.1 2169.1 1580.3 2167.4 1571.8 2166.8 C1563.3 2166.2 1549.1 2164.8 1543.4 2164 C1537.7 2163.2 1520.4 2158.7 1515.1 2158.3 C1509.8 2157.9 1492.5 2159.8 1490 2160 C1487.5 2160.2 1492.5 2160.2 1490 2160 Z" fill="#9467bd" stroke="#a0522d" stroke-width="3"/>
<g clip-path="url(#eclip)">
<g><path d="M1490 2172 C1487.5 2119.7 1470.3 2169.7 1465 2170 C1459.7 2170.3 1442.7 2174.3 1437 2175 C1431.3 2175.7 1416.5 2176.5 1408 2177 C1399.5 2177.5 1363.3 2179.5 1352 2180 C1340.7 2180.5 1303.5 2181.5 1295 2182 C1286.5 2182.5 1272.5 2184.3 1267 2185 C1261.5 2185.7 1245.4 2187.9 1240 2189 C1234.6 2190.1 1218.4 2194.2 1213 2196 C1207.6 2197.8 1191.3 2204.3 1186 2207 C1180.7 2209.7 1164.5 2219.7 1160 2223 C1155.5 2226.3 1144.4 2236.4 1141 2240 C1137.6 2243.6 1128.6 2254.7 1126 2259 C1123.4 2263.3 1117 2278.4 1115 2283 C1113 2287.6 1107.7 2300.1 1106 2305 C1104.3 2309.9 1099.4 2326.5 1098 2332 C1096.6 2337.5 1093.4 2354.4 1092 2360 C1090.6 2365.6 1085.6 2381.8 1084 2388 C1082.4 2394.2 1077.4 2415.1 1076 2422 C1074.6 2428.9 1071.2 2448 1070 2457 C1068.8 2466 1064.3 2503.4 1064 2512 C1063.7 2520.6 1065.6 2537.7 1067 2543 C1068.4 2548.3 1075.5 2558.9 1078 2565 C1080.5 2571.1 1088.5 2597.9 1092 2604 C1095.5 2610.1 1108.9 2621.9 1113 2626 C1117.1 2630.1 1127.9 2640.4 1133 2645 C1138.1 2649.6 1156.1 2668.4 1164 2672 C1171.9 2675.6 1201.7 2679.8 1212 2681 C1222.3 2682.2 1256 2683.4 1267 2684 C1278 2684.6 1312.5 2687.8 1322 2687 C1331.5 2686.2 1356.2 2678.1 1362 2676 C1367.8 2673.9 1376.2 2665.6 1380 2666 C1383.8 2666.4 1394.3 2677.6 1400 2680 C1405.7 2682.4 1428 2688.7 1437 2690 C1446 2691.3 1484.7 2744.8 1490 2693 C1495.3 2641.2 1492.5 2224.3 1490 2172 Z" fill="#98df8a"/><path d="M1289.3 2189.5 C1292.7 2186.9 1315.6 2184.5 1323.3 2183.8 C1330.9 2183.1 1358.7 2182.1 1365.7 2182.4 C1372.8 2182.7 1391 2184.5 1394.1 2186.7 C1397.2 2188.8 1398.3 2200 1396.9 2203.6 C1395.5 2207.3 1384.4 2220.9 1379.9 2223.5 C1375.4 2226 1357.2 2228.3 1351.6 2229.1 C1345.9 2230 1328.4 2232.3 1323.3 2232 C1318.2 2231.7 1304 2228.6 1300.6 2226.3 C1297.2 2224 1290.4 2213 1289.3 2209.3 C1288.1 2205.6 1285.9 2192 1289.3 2189.5 Z" fill="#bcbd22"/><path d="M1430.9 2186.7 C1434 2185.1 1454.7 2184.7 1459.2 2185.2 C1463.7 2185.8 1474.5 2189.6 1476.2 2192.3 C1477.9 2195 1478.2 2209.9 1476.2 2212.1 C1474.2 2214.4 1460.3 2215 1456.4 2215 C1452.4 2215 1439.4 2213.6 1436.6 2212.1 C1433.7 2210.7 1428.6 2203.4 1428.1 2200.8 C1427.5 2198.3 1427.8 2188.2 1430.9 2186.7 Z" fill="#bcbd22"/><path d="M1341.1 2208.8 C1341 2209.7 1340.3 2211.2 1339.5 2211.7 C1338.8 2212.2 1336.4 2212.8 1335.6 2212.6 C1334.8 2212.4 1333.9 2210.8 1333.5 2210.1 C1333.1 2209.3 1332.3 2207.9 1332.6 2207.3 C1332.8 2206.6 1334.6 2205.2 1335.6 2205 C1336.6 2204.7 1339.4 2204.9 1340.1 2205.4 C1340.8 2205.9 1341.2 2208 1341.1 2208.8 Z" fill="#98df8a"/><path d="M1340.5 2192.3 C1340.5 2192.9 1339.1 2194.3 1338.4 2194.6 C1337.7 2195 1335.9 2195.3 1335.3 2195.1 C1334.6 2195 1333.5 2193.9 1333.2 2193.4 C1332.9 2192.8 1332.8 2191.7 1333.1 2191.1 C1333.3 2190.6 1334.5 2189.3 1335.2 2189.1 C1335.9 2189 1337.7 2189.5 1338.4 2189.9 C1339.2 2190.3 1340.5 2191.6 1340.5 2192.3 Z" fill="#98df8a"/><path d="M1379 2189.2 C1379 2189.5 1378.2 2190.2 1377.8 2190.5 C1377.4 2190.8 1376.3 2191.1 1375.9 2191 C1375.5 2190.9 1375 2190.1 1374.9 2189.8 C1374.7 2189.4 1374.3 2188.7 1374.5 2188.4 C1374.7 2188.2 1375.7 2188 1376.1 2187.9 C1376.5 2187.9 1377 2188 1377.4 2188.1 C1377.8 2188.3 1378.9 2188.8 1379 2189.2 Z" fill="#98df8a"/><path d="M1344.3 2212.9 C1344.5 2213.5 1344.9 2215.2 1344.4 2215.7 C1343.9 2216.1 1341.5 2216.5 1340.7 2216.3 C1339.8 2216.2 1338.3 2214.9 1338 2214.3 C1337.7 2213.7 1337.9 2212.1 1338.3 2211.6 C1338.7 2211.2 1340.4 2210.8 1341 2210.8 C1341.7 2210.7 1342.8 2211 1343.2 2211.3 C1343.7 2211.6 1344.2 2212.3 1344.3 2212.9 Z" fill="#98df8a"/><path d="M1302.4 2190.9 C1302.4 2191.3 1302 2191.7 1301.7 2192 C1301.3 2192.3 1300.3 2193.4 1299.9 2193.3 C1299.5 2193.3 1299 2192.2 1298.6 2191.7 C1298.3 2191.2 1297.1 2190 1297.3 2189.7 C1297.5 2189.4 1299.5 2189.5 1300.2 2189.5 C1300.8 2189.5 1301.8 2189.2 1302.1 2189.4 C1302.4 2189.6 1302.5 2190.6 1302.4 2190.9 Z" fill="#98df8a"/><path d="M1336 2209.1 C1336.1 2209.4 1335 2210.2 1334.6 2210.5 C1334.2 2210.7 1333.2 2210.9 1332.8 2210.8 C1332.4 2210.7 1332 2210 1331.8 2209.7 C1331.6 2209.3 1331.1 2208.7 1331.2 2208.3 C1331.3 2207.9 1332.1 2206.6 1332.5 2206.6 C1333 2206.5 1333.9 2207.6 1334.4 2208 C1334.8 2208.3 1336 2208.8 1336 2209.1 Z" fill="#98df8a"/><path d="M1342.7 2213.7 C1342.7 2214.3 1342.8 2215.5 1342.3 2215.8 C1341.9 2216.1 1340.2 2216.1 1339.6 2216 C1339.1 2215.8 1338.4 2214.9 1338.2 2214.5 C1338 2214.1 1338.1 2213.3 1338.3 2212.9 C1338.5 2212.6 1339.2 2212.1 1339.8 2211.9 C1340.3 2211.8 1342 2211.4 1342.4 2211.6 C1342.7 2211.9 1342.7 2213.1 1342.7 2213.7 Z" fill="#98df8a"/><path d="M1321.1 2225.2 C1321.3 2225.8 1321.5 2228.2 1320.9 2228.5 C1320.3 2228.9 1317.7 2228 1316.8 2227.7 C1315.9 2227.5 1314.6 2227.1 1314.1 2226.5 C1313.5 2225.9 1312.5 2224 1312.8 2223.3 C1313.1 2222.7 1315.6 2221.5 1316.5 2221.5 C1317.4 2221.5 1318.8 2222.8 1319.4 2223.3 C1320 2223.8 1320.9 2224.5 1321.1 2225.2 Z" fill="#98df8a"/><path d="M1315.2 2196.9 C1315.1 2197.6 1314.3 2198.8 1313.8 2199.1 C1313.2 2199.4 1311.6 2199.2 1311 2199.1 C1310.4 2198.9 1309.5 2198.4 1309 2197.9 C1308.6 2197.4 1307.4 2195.9 1307.7 2195.4 C1307.9 2194.9 1310 2194.5 1310.9 2194.3 C1311.8 2194.1 1313.8 2193.8 1314.4 2194.1 C1314.9 2194.5 1315.3 2196.2 1315.2 2196.9 Z" fill="#98df8a"/><path d="M1358.9 2191.7 C1358.8 2192.2 1356.8 2193 1356.1 2193.3 C1355.4 2193.7 1354.4 2194.3 1353.7 2194.2 C1353.1 2194.2 1351.2 2193.5 1350.9 2193.1 C1350.7 2192.6 1351.3 2191.1 1351.7 2190.6 C1352.1 2190.2 1353.1 2189.6 1353.8 2189.5 C1354.5 2189.3 1356.2 2189 1356.9 2189.3 C1357.6 2189.6 1359 2191.2 1358.9 2191.7 Z" fill="#98df8a"/><path d="M1144.8 2226.3 C1147.4 2222.9 1162.1 2217 1167.5 2215 C1172.8 2213 1193.2 2207.9 1198.6 2206.5 C1204 2205.1 1219.6 2199.4 1221.3 2200.8 C1223 2202.2 1219 2217.2 1215.6 2220.6 C1212.2 2224 1192.7 2231.7 1187.3 2234.8 C1181.9 2237.9 1166.3 2250.4 1161.8 2251.8 C1157.3 2253.2 1143.7 2251.5 1142 2249 C1140.3 2246.4 1142.3 2229.7 1144.8 2226.3 Z" fill="#ff9896"/><path d="M1183.4 2234.3 C1183.3 2234.8 1182.8 2235.3 1182.4 2235.6 C1182 2235.9 1180.9 2236.6 1180.5 2236.6 C1180 2236.5 1179.1 2235.7 1178.7 2235.3 C1178.3 2234.8 1177.4 2233.5 1177.6 2233 C1177.8 2232.5 1179.5 2231.6 1180.3 2231.5 C1181 2231.4 1182.8 2231.8 1183.2 2232.2 C1183.6 2232.6 1183.5 2233.9 1183.4 2234.3 Z" fill="#2ca02c"/><path d="M1164.5 2251.3 C1164.4 2251.8 1164.2 2252.8 1163.8 2253.2 C1163.3 2253.5 1161.7 2254.2 1161.1 2254.1 C1160.5 2254 1159.7 2252.8 1159.4 2252.2 C1159.1 2251.7 1158.5 2250.5 1158.8 2250.1 C1159 2249.6 1160.5 2249.2 1161.2 2249.1 C1162 2248.9 1163.7 2248.7 1164.2 2249 C1164.6 2249.3 1164.5 2250.7 1164.5 2251.3 Z" fill="#9467bd"/><path d="M1189.5 2226.7 C1189.6 2227 1189.1 2227.9 1188.7 2228.1 C1188.3 2228.3 1187.3 2228.3 1186.8 2228.2 C1186.4 2228.2 1185.5 2227.8 1185.3 2227.4 C1185.1 2227.1 1185.2 2226.3 1185.3 2225.9 C1185.5 2225.6 1186.4 2224.9 1186.8 2224.9 C1187.1 2224.9 1187.8 2225.5 1188.2 2225.8 C1188.5 2226 1189.4 2226.4 1189.5 2226.7 Z" fill="#9467bd"/><path d="M1175.7 2219.3 C1175.6 2219.8 1174 2220.5 1173.5 2220.8 C1172.9 2221 1172 2221.4 1171.5 2221.3 C1170.9 2221.3 1169.8 2220.7 1169.5 2220.3 C1169.1 2219.9 1168.9 2218.7 1169.1 2218.2 C1169.4 2217.7 1170.5 2216.4 1171.2 2216.3 C1171.8 2216.1 1173.5 2216.9 1174.1 2217.3 C1174.7 2217.7 1175.8 2218.9 1175.7 2219.3 Z" fill="#9467bd"/><path d="M1163.1 2231.8 C1162.9 2232.3 1162.3 2232.9 1161.9 2233.2 C1161.4 2233.5 1160.4 2234 1159.8 2233.9 C1159.2 2233.9 1157.9 2233.3 1157.6 2232.9 C1157.3 2232.4 1157.2 2231.1 1157.4 2230.6 C1157.7 2230.1 1158.9 2229.2 1159.6 2229 C1160.4 2228.8 1162.4 2229 1162.9 2229.3 C1163.3 2229.7 1163.2 2231.3 1163.1 2231.8 Z" fill="#2ca02c"/><path d="M1170 2225.1 C1170.1 2225.9 1170 2227.9 1169.5 2228.2 C1168.9 2228.5 1166.7 2227.5 1165.7 2227.3 C1164.7 2227.1 1162.3 2227.2 1162 2226.8 C1161.6 2226.3 1162.8 2224.5 1163.3 2223.9 C1163.8 2223.4 1165 2223.1 1165.7 2222.9 C1166.5 2222.6 1168.5 2222 1169.1 2222.3 C1169.7 2222.6 1170 2224.3 1170 2225.1 Z" fill="#2ca02c"/><path d="M1173.3 2241 C1173.2 2241.6 1171.8 2242.3 1171.2 2242.7 C1170.6 2243.1 1169.3 2243.8 1168.7 2243.7 C1168 2243.7 1166.7 2242.7 1166.4 2242.1 C1166 2241.6 1165.7 2240.1 1166 2239.6 C1166.4 2239.2 1168 2238.9 1168.8 2238.7 C1169.7 2238.5 1171.8 2237.8 1172.3 2238.1 C1172.9 2238.4 1173.5 2240.3 1173.3 2241 Z" fill="#2ca02c"/><path d="M1166.6 2235.7 C1166.7 2236.3 1167.3 2237.9 1166.9 2238.2 C1166.5 2238.6 1164.3 2238.2 1163.6 2238 C1163 2237.8 1162.2 2237 1162 2236.6 C1161.7 2236.1 1161.4 2235.2 1161.5 2234.6 C1161.7 2234 1162.7 2232.4 1163.3 2232.3 C1164 2232.1 1166 2233.1 1166.4 2233.5 C1166.8 2234 1166.6 2235 1166.6 2235.7 Z" fill="#2ca02c"/><path d="M1196.1 2220.4 C1196.1 2220.7 1195 2221.3 1194.6 2221.5 C1194.3 2221.6 1193.6 2221.6 1193.3 2221.6 C1193 2221.5 1192.4 2221.2 1192.3 2220.9 C1192.2 2220.7 1192.1 2220.2 1192.2 2219.9 C1192.4 2219.6 1192.8 2218.9 1193.1 2218.8 C1193.5 2218.8 1194.3 2219.2 1194.7 2219.4 C1195.1 2219.6 1196.1 2220.2 1196.1 2220.4 Z" fill="#ff7f0e"/><path d="M1184.9 2232 C1184.9 2232.4 1184.4 2233.3 1184 2233.6 C1183.6 2233.9 1182.3 2234 1181.9 2233.9 C1181.5 2233.7 1181.2 2232.9 1181 2232.5 C1180.8 2232.2 1180.4 2231.5 1180.6 2231.3 C1180.7 2231 1181.6 2230.8 1182.1 2230.7 C1182.5 2230.7 1183.3 2230.5 1183.7 2230.7 C1184 2230.9 1184.8 2231.6 1184.9 2232 Z" fill="#2ca02c"/><path d="M1122.1 2263.1 C1125.4 2261.7 1134.4 2257.9 1142 2254.6 C1149.5 2251.3 1158 2247.1 1167.5 2243.3 C1176.9 2239.5 1186.8 2235.7 1198.6 2232 C1210.4 2228.2 1224.6 2224.9 1238.3 2220.6 C1252 2216.4 1269 2209.8 1280.8 2206.5 C1292.6 2203.2 1304.4 2201.8 1309.1 2200.8" fill="none" stroke="#2ca02c" stroke-width="4" stroke-linecap="round"/><path d="M1147.6 2254.6 C1148.5 2252.4 1169.7 2244.3 1176 2241.9 C1182.2 2239.5 1202.3 2232.3 1210 2230.6 C1217.6 2228.9 1245.4 2225.6 1252.4 2224.9 C1259.5 2224.2 1275.1 2222.8 1280.8 2223.5 C1286.4 2224.2 1304.6 2230.6 1309.1 2232 C1313.6 2233.4 1326.1 2235.9 1326.1 2237.6 C1326.1 2239.3 1313.6 2247.5 1309.1 2249 C1304.6 2250.4 1287.8 2251.4 1280.8 2252.4 C1273.7 2253.4 1245.4 2257.1 1238.3 2258.9 C1231.2 2260.7 1214.3 2267.2 1210 2270.2 C1205.6 2273.2 1196.6 2285.5 1194.4 2288.6 C1192.1 2291.7 1189.1 2301.4 1187.3 2301.4 C1185.5 2301.4 1177.9 2292.3 1176 2288.6 C1174 2284.9 1170.3 2267.9 1167.5 2264.5 C1164.6 2261.1 1146.8 2256.9 1147.6 2254.6 Z" fill="#1b5e8c"/><path d="M1394.1 2188.1 C1396.6 2186.3 1417.3 2181.9 1422.4 2181.6 C1427.5 2181.2 1443.6 2182.6 1445.1 2184.4 C1446.5 2186.2 1439.7 2197.6 1436.6 2199.4 C1433.4 2201.2 1417.9 2202.2 1413.9 2202.2 C1409.9 2202.2 1398.9 2200.8 1396.9 2199.4 C1394.9 2198 1391.5 2189.9 1394.1 2188.1 Z" fill="#1b5e8c"/><path d="M1096.7 2305.6 C1098.9 2300 1109.4 2281.5 1113.6 2277.3 C1117.9 2273 1132.9 2265.1 1139.1 2263.1 C1145.4 2261.1 1170 2257.7 1176 2257.5 C1181.9 2257.2 1196.9 2257.2 1198.6 2260.3 C1200.3 2263.4 1195.5 2284.1 1193 2288.6 C1190.4 2293.2 1176.5 2301.7 1173.1 2305.6 C1169.7 2309.6 1161.5 2323.2 1159 2328.3 C1156.4 2333.4 1149.9 2350.9 1147.6 2356.6 C1145.4 2362.3 1138.6 2378.6 1136.3 2384.9 C1134 2391.3 1126.4 2414.3 1125 2420.1 C1123.6 2425.8 1123 2437.4 1122.1 2442.5 C1121.3 2447.6 1121 2468 1116.5 2470.8 C1111.9 2473.6 1080.2 2475.1 1076.8 2470.8 C1073.4 2466.6 1081.6 2433.4 1082.5 2428.3 C1083.3 2423.2 1084.8 2425.8 1085.3 2420.1 C1085.9 2414.3 1087.6 2379.4 1088.2 2370.8 C1088.7 2362.2 1090.1 2340.5 1091 2333.9 C1091.8 2327.4 1094.4 2311.3 1096.7 2305.6 Z" fill="#bcbd22"/><path d="M1114.5 2368.9 C1114.5 2369.4 1111.8 2370.7 1111 2371 C1110.1 2371.4 1108.7 2371.8 1108 2371.7 C1107.3 2371.6 1106.1 2370.6 1105.8 2370 C1105.5 2369.5 1105.3 2368.3 1105.6 2367.6 C1105.8 2366.9 1106.9 2364.9 1107.6 2364.8 C1108.3 2364.7 1109.9 2366.3 1110.8 2366.8 C1111.7 2367.4 1114.4 2368.3 1114.5 2368.9 Z" fill="#98df8a"/><path d="M1104.5 2368.7 C1104.7 2369.7 1102.3 2372.7 1101.2 2373.1 C1100 2373.5 1097.3 2372.1 1095.9 2371.8 C1094.5 2371.5 1091.3 2371.9 1090.5 2371.1 C1089.8 2370.4 1089.5 2367 1090.2 2366.2 C1090.9 2365.4 1094.4 2365.2 1095.7 2365 C1097.1 2364.9 1099 2364.8 1100.2 2365.3 C1101.4 2365.8 1104.4 2367.7 1104.5 2368.7 Z" fill="#98df8a"/><path d="M1113 2395.7 C1113.1 2396.2 1111.7 2397.7 1111 2398.1 C1110.3 2398.5 1108.5 2398.6 1107.8 2398.4 C1107.1 2398.3 1105.9 2397.4 1105.5 2396.8 C1105.2 2396.3 1105.1 2394.9 1105.4 2394.4 C1105.7 2393.9 1107.2 2393.2 1107.9 2393.1 C1108.5 2393.1 1109.6 2393.6 1110.3 2394 C1111 2394.3 1112.9 2395.1 1113 2395.7 Z" fill="#98df8a"/><path d="M1151.4 2347.6 C1151.5 2348.3 1151.9 2350.5 1151.3 2350.9 C1150.7 2351.4 1147.8 2351.4 1146.9 2351.1 C1146.1 2350.8 1145 2349.5 1144.7 2348.8 C1144.4 2348.2 1144.3 2347 1144.6 2346.3 C1144.9 2345.6 1146.1 2344 1146.9 2343.8 C1147.6 2343.7 1149.8 2344.6 1150.4 2345.1 C1151 2345.6 1151.3 2346.8 1151.4 2347.6 Z" fill="#98df8a"/><path d="M1114.6 2303 C1114.7 2303.9 1113.4 2305.9 1112.5 2306.4 C1111.6 2307 1109.1 2307.5 1107.8 2307.3 C1106.5 2307.2 1103.5 2306.2 1102.9 2305.4 C1102.4 2304.5 1102.9 2301.6 1103.6 2300.9 C1104.3 2300.2 1107 2300.1 1108.2 2300 C1109.3 2299.9 1111.3 2299.5 1112.2 2299.9 C1113 2300.3 1114.6 2302.1 1114.6 2303 Z" fill="#98df8a"/><path d="M1124.3 2374.3 C1124.2 2375.1 1123.8 2376.2 1123.1 2376.9 C1122.5 2377.5 1120.3 2379.6 1119.2 2379.6 C1118 2379.5 1115 2377.7 1114.5 2376.7 C1114 2375.7 1114.5 2373 1115.2 2372.3 C1115.9 2371.5 1118.6 2371.3 1119.7 2371.2 C1120.9 2371 1123.2 2370.7 1123.8 2371.2 C1124.4 2371.6 1124.3 2373.6 1124.3 2374.3 Z" fill="#98df8a"/><path d="M1107.6 2396.3 C1107.5 2396.8 1105.9 2397.3 1105.2 2397.8 C1104.6 2398.2 1103.4 2399.8 1102.7 2399.8 C1102.1 2399.7 1100.8 2398.1 1100.5 2397.5 C1100.2 2396.9 1099.9 2395.4 1100.2 2394.9 C1100.6 2394.5 1102.4 2394.3 1103.1 2394.2 C1103.9 2394.1 1105.4 2393.7 1106 2394 C1106.6 2394.3 1107.7 2395.8 1107.6 2396.3 Z" fill="#98df8a"/><path d="M1120.6 2375.8 C1120.5 2376.3 1119.9 2376.9 1119.4 2377.3 C1118.9 2377.7 1117.6 2378.7 1117.1 2378.6 C1116.6 2378.5 1116 2377.1 1115.8 2376.6 C1115.6 2376.1 1115.4 2375.2 1115.6 2374.9 C1115.8 2374.6 1116.8 2374.3 1117.4 2374.1 C1118 2373.9 1119.7 2373.3 1120.1 2373.6 C1120.5 2373.8 1120.7 2375.3 1120.6 2375.8 Z" fill="#98df8a"/><path d="M1145.8 2343.1 C1145.8 2343.5 1145.5 2344.1 1145.2 2344.5 C1144.8 2344.8 1143.6 2345.6 1143.1 2345.5 C1142.6 2345.4 1141.8 2344.4 1141.5 2343.9 C1141.3 2343.5 1141.1 2342.6 1141.3 2342.1 C1141.5 2341.7 1142.6 2340.7 1143.1 2340.6 C1143.6 2340.5 1144.9 2341.2 1145.3 2341.6 C1145.7 2341.9 1145.9 2342.7 1145.8 2343.1 Z" fill="#98df8a"/><path d="M1135.9 2334.6 C1135.8 2335.2 1134.6 2335.9 1134 2336.4 C1133.3 2336.9 1132.1 2338 1131.2 2338 C1130.2 2338.1 1127.4 2337.3 1126.9 2336.6 C1126.4 2335.9 1126.9 2333.4 1127.4 2332.8 C1128 2332.1 1130.3 2331.9 1131.3 2331.7 C1132.4 2331.5 1134.7 2331 1135.3 2331.4 C1135.9 2331.8 1136.1 2333.9 1135.9 2334.6 Z" fill="#98df8a"/><path d="M1111.4 2353.1 C1111.4 2353.5 1110.9 2354.5 1110.5 2354.8 C1110 2355 1108.8 2355.1 1108.2 2355.1 C1107.6 2355 1106.3 2354.4 1106.1 2354.1 C1106 2353.7 1106.6 2352.8 1106.8 2352.3 C1107.1 2351.9 1107.6 2350.8 1108.1 2350.7 C1108.5 2350.6 1109.7 2351.3 1110.2 2351.7 C1110.6 2352 1111.4 2352.7 1111.4 2353.1 Z" fill="#98df8a"/><path d="M1159.3 2288.4 C1159.4 2288.9 1158.1 2290.1 1157.5 2290.5 C1156.9 2290.8 1155.5 2291 1154.8 2290.9 C1154.1 2290.8 1152.5 2290.1 1152.3 2289.7 C1152 2289.2 1152.7 2288.1 1153 2287.5 C1153.3 2286.8 1153.9 2284.8 1154.4 2284.7 C1155 2284.6 1156.5 2286.3 1157.1 2286.8 C1157.8 2287.3 1159.3 2287.9 1159.3 2288.4 Z" fill="#98df8a"/><path d="M1107.3 2306.8 C1107.3 2307.2 1107 2308 1106.6 2308.3 C1106.2 2308.6 1105 2309.2 1104.4 2309.1 C1103.8 2309.1 1102.6 2308.4 1102.2 2307.9 C1101.8 2307.4 1101 2305.9 1101.2 2305.3 C1101.5 2304.7 1103.4 2303.2 1104.1 2303.2 C1104.8 2303.2 1106.1 2304.9 1106.5 2305.4 C1106.9 2305.9 1107.3 2306.4 1107.3 2306.8 Z" fill="#98df8a"/><path d="M1101.1 2388.1 C1101.2 2388.6 1099.7 2389.9 1099.1 2390.2 C1098.5 2390.4 1097 2390.1 1096.5 2389.9 C1096 2389.7 1095.5 2389.2 1095.3 2388.8 C1095 2388.5 1094.6 2387.8 1094.8 2387.2 C1094.9 2386.7 1095.7 2385.1 1096.2 2385 C1096.7 2385 1097.8 2386.3 1098.5 2386.7 C1099.1 2387.1 1101 2387.7 1101.1 2388.1 Z" fill="#98df8a"/><path d="M1173.4 2268.9 C1173.3 2269.4 1171.5 2269.9 1171 2270.1 C1170.4 2270.4 1169.9 2270.7 1169.3 2270.7 C1168.7 2270.7 1166.8 2270.5 1166.5 2270.2 C1166.3 2269.8 1167.3 2268.6 1167.7 2268.1 C1168 2267.6 1168.4 2266.3 1169 2266.2 C1169.6 2266 1171.4 2266.4 1171.9 2266.7 C1172.5 2267.1 1173.5 2268.5 1173.4 2268.9 Z" fill="#98df8a"/><path d="M1143.9 2358.4 C1143.8 2359 1140.5 2360.3 1139.6 2360.6 C1138.6 2361 1137.4 2361.3 1136.5 2361.3 C1135.5 2361.2 1133.2 2360.9 1132.6 2360.2 C1131.9 2359.5 1131.2 2357 1131.6 2356.2 C1132.1 2355.4 1135 2354.4 1136.1 2354.3 C1137.2 2354.2 1139 2355.1 1140 2355.7 C1141 2356.2 1143.9 2357.7 1143.9 2358.4 Z" fill="#98df8a"/><path d="M1113.1 2318.1 C1112.9 2318.8 1111.9 2319.7 1111.1 2320.2 C1110.4 2320.8 1108.6 2322.5 1107.7 2322.4 C1106.9 2322.3 1105.2 2320.4 1104.9 2319.6 C1104.6 2318.9 1105.1 2317.4 1105.5 2316.7 C1105.9 2316 1106.9 2314.7 1107.9 2314.3 C1108.8 2314 1112 2313.8 1112.7 2314.3 C1113.4 2314.8 1113.3 2317.3 1113.1 2318.1 Z" fill="#98df8a"/><path d="M1153.6 2304.7 C1153.6 2305.4 1153.4 2306.6 1152.8 2307.3 C1152.1 2307.9 1149.7 2309.9 1148.8 2309.8 C1147.9 2309.7 1146.3 2307.2 1146 2306.3 C1145.7 2305.4 1146.2 2304.1 1146.6 2303.3 C1147 2302.5 1148.1 2300.4 1148.9 2300.2 C1149.8 2300 1152.5 2301.2 1153.1 2301.8 C1153.7 2302.4 1153.7 2304 1153.6 2304.7 Z" fill="#98df8a"/><path d="M1135.4 2344 C1135.4 2344.6 1136 2346.1 1135.5 2346.5 C1135.1 2346.9 1133 2347.2 1132.2 2347.1 C1131.3 2346.9 1129.7 2345.9 1129.5 2345.4 C1129.3 2344.8 1130.2 2343.5 1130.6 2343.1 C1131 2342.7 1131.9 2342.5 1132.5 2342.3 C1133.2 2342.1 1134.9 2341.5 1135.3 2341.7 C1135.7 2341.9 1135.4 2343.4 1135.4 2344 Z" fill="#98df8a"/><path d="M1133 2382 C1133 2382.5 1130.1 2383.3 1129.2 2383.9 C1128.2 2384.6 1126.8 2386.8 1126 2386.7 C1125.2 2386.7 1123.6 2384.5 1123.2 2383.6 C1122.8 2382.8 1122.7 2381 1123.1 2380.4 C1123.6 2379.9 1125.8 2379.5 1126.6 2379.4 C1127.4 2379.4 1128.3 2379.9 1129.1 2380.2 C1130 2380.6 1133 2381.6 1133 2382 Z" fill="#98df8a"/><path d="M1117 2401.4 C1117 2402.2 1116.7 2404 1116.1 2404.3 C1115.5 2404.6 1113.4 2403.9 1112.5 2403.7 C1111.6 2403.5 1109.6 2403.4 1109.1 2402.9 C1108.7 2402.4 1109 2400.5 1109.4 2399.9 C1109.8 2399.3 1111.4 2398.8 1112.4 2398.6 C1113.3 2398.4 1115.7 2397.8 1116.3 2398.2 C1117 2398.6 1117 2400.6 1117 2401.4 Z" fill="#98df8a"/><path d="M1117.5 2358.2 C1117.5 2358.8 1115.8 2360.2 1114.9 2360.8 C1114.1 2361.3 1112 2362.4 1111.2 2362.2 C1110.4 2362 1109.4 2360.1 1109.2 2359.4 C1109 2358.7 1109.5 2357.7 1109.8 2357.2 C1110.1 2356.7 1111 2356 1111.7 2355.8 C1112.3 2355.6 1113.9 2355.5 1114.7 2355.8 C1115.5 2356.1 1117.4 2357.5 1117.5 2358.2 Z" fill="#98df8a"/><path d="M1150 2440 C1147.7 2434.7 1161.7 2387 1165 2380 C1168.3 2373 1194.3 2340 1200 2335 C1205.7 2330 1243.3 2308 1250 2305 C1256.7 2302 1293.3 2291.7 1300 2290 C1306.7 2288.3 1337 2280.7 1350 2280 C1363 2279.3 1485.3 2256 1495 2280 C1504.7 2304 1501.3 2616 1495 2640 C1488.7 2664 1410.3 2645.3 1400 2640 C1389.7 2634.7 1346.7 2569.3 1340 2560 C1333.3 2550.7 1306 2506 1300 2500 C1294 2494 1256.7 2472.7 1250 2470 C1243.3 2467.3 1206.7 2462 1200 2460 C1193.3 2458 1152.3 2445.3 1150 2440 Z" fill="#aec7e8"/><path d="M1302.5 2277.3 C1302 2274 1308.9 2253.2 1311 2249 C1313.1 2244.7 1322.8 2229.4 1328 2226.3 C1333.2 2223.2 1366 2214 1373.3 2212.1 C1380.6 2210.3 1408.7 2204 1415.8 2204.2 C1422.9 2204.4 1453.3 2213.4 1458.3 2215 C1463.2 2216.6 1472.6 2223.5 1475.3 2223.5 C1478 2223.5 1489.6 2208.6 1490.9 2215 C1492.2 2221.3 1495.9 2293.8 1490.9 2300 C1485.8 2306.1 1439.7 2289.6 1430 2288.6 C1420.2 2287.7 1382.7 2288.6 1373.3 2288.6 C1363.9 2288.6 1322.6 2289.6 1316.7 2288.6 C1310.7 2287.7 1303 2280.6 1302.5 2277.3 Z" fill="#c7c7c7"/><path d="M1074 2479.3 C1076.5 2475.1 1091.6 2470.2 1096.7 2470.8 C1101.7 2471.4 1119.3 2482.7 1125 2485 C1130.6 2487.2 1147.6 2489.2 1153.3 2493.5 C1159 2497.7 1176 2520.9 1181.6 2527.5 C1187.3 2534 1204.3 2552.1 1210 2558.6 C1215.6 2565.1 1232.6 2586.4 1238.3 2592.6 C1243.9 2598.8 1259.5 2617 1266.6 2620.9 C1273.7 2624.9 1300.6 2630.3 1309.1 2632.3 C1317.6 2634.3 1344.5 2637.7 1351.6 2640.8 C1358.7 2643.9 1377.4 2659.5 1379.9 2663.4 C1382.5 2667.4 1379.9 2678.2 1377.1 2680.4 C1374.2 2682.7 1359.8 2685.4 1351.6 2686.1 C1343.4 2686.8 1306.3 2687.6 1294.9 2687.5 C1283.6 2687.4 1249.6 2685.5 1238.3 2684.7 C1226.9 2683.8 1190.1 2681 1181.6 2679 C1173.1 2677 1159 2668.4 1153.3 2664.8 C1147.6 2661.3 1130.6 2649.7 1125 2643.6 C1119.3 2637.5 1100.9 2612.4 1096.7 2603.9 C1092.4 2595.4 1085 2567.7 1082.5 2558.6 C1079.9 2549.6 1072 2521.2 1071.2 2513.3 C1070.3 2505.4 1071.4 2483.6 1074 2479.3 Z" fill="#ff7f0e"/><path d="M1071.2 2470.8 C1070.7 2477.9 1067.4 2498.7 1068.3 2513.3 C1069.3 2527.9 1073 2544.5 1076.8 2558.6 C1080.6 2572.8 1084.8 2585.5 1091 2598.3 C1097.1 2611 1105.1 2624.7 1113.6 2635.1 C1122.1 2645.5 1132.1 2654 1142 2660.6 C1151.9 2667.2 1159.4 2671.2 1173.1 2674.8 C1186.8 2678.3 1206.2 2680.2 1224.1 2681.8 C1242.1 2683.5 1261.9 2684.2 1280.8 2684.7 C1299.6 2685.1 1322.3 2685.6 1337.4 2684.7 C1352.5 2683.7 1365.7 2679.9 1371.4 2679" fill="none" stroke="#2ca02c" stroke-width="6"/><path d="M1153.3 2493.5 C1154.2 2489.9 1171.4 2498.6 1176 2502 C1180.5 2505.4 1193.8 2521.8 1198.6 2527.5 C1203.4 2533.1 1218.7 2552.1 1224.1 2558.6 C1229.5 2565.1 1246.8 2586.4 1252.4 2592.6 C1258.1 2598.8 1273.7 2616.7 1280.8 2620.9 C1287.8 2625.2 1314.8 2631.7 1323.3 2635.1 C1331.8 2638.5 1361.2 2650.7 1365.7 2654.9 C1370.3 2659.2 1371.4 2674.8 1368.6 2677.6 C1365.7 2680.4 1343.4 2684.2 1337.4 2683.3 C1331.5 2682.3 1314.8 2670.9 1309.1 2667.7 C1303.4 2664.4 1287.8 2654.6 1280.8 2650.7 C1273.7 2646.7 1245.4 2633.1 1238.3 2628 C1231.2 2622.9 1215.1 2605.4 1210 2599.7 C1204.9 2594 1191.5 2577.6 1187.3 2571.4 C1183 2565.1 1170.9 2545.2 1167.5 2537.4 C1164.1 2529.6 1152.5 2497 1153.3 2493.5 Z" fill="#8c564b"/><path d="M1289.3 2637.9 C1293.5 2635.1 1315.6 2634 1323.3 2635.1 C1330.9 2636.2 1360.9 2645 1365.7 2649.3 C1370.6 2653.5 1374.2 2674.2 1371.4 2677.6 C1368.6 2681 1345.1 2683 1337.4 2683.3 C1329.8 2683.5 1300.6 2682.4 1294.9 2680.4 C1289.3 2678.4 1281.3 2667.7 1280.8 2663.4 C1280.2 2659.2 1285 2640.8 1289.3 2637.9 Z" fill="#8c564b"/><path d="M1238 2671.2 C1238 2671.7 1238.1 2672.8 1237.7 2673.1 C1237.4 2673.4 1235.7 2673.7 1235.1 2673.5 C1234.6 2673.3 1234 2672.4 1233.7 2672 C1233.5 2671.5 1232.9 2670.5 1233.1 2670.1 C1233.3 2669.8 1234.6 2669.4 1235.2 2669.2 C1235.9 2669.1 1237.4 2668.9 1237.8 2669.2 C1238.2 2669.4 1238 2670.6 1238 2671.2 Z" fill="#8c564b"/><path d="M1181.8 2656.9 C1181.9 2657.3 1181 2658.5 1180.5 2658.8 C1180 2659 1178.8 2658.7 1178.1 2658.6 C1177.5 2658.5 1175.9 2658.4 1175.7 2658 C1175.4 2657.7 1176.1 2656.4 1176.4 2656.1 C1176.8 2655.7 1177.7 2655.5 1178.2 2655.4 C1178.7 2655.4 1179.4 2655.5 1179.9 2655.7 C1180.4 2655.9 1181.8 2656.5 1181.8 2656.9 Z" fill="#2ca02c"/><path d="M1227.2 2670.5 C1227.2 2671.4 1227.8 2673 1227.2 2673.6 C1226.6 2674.2 1223.8 2675.2 1222.8 2675 C1221.9 2674.8 1220.3 2673 1219.9 2672.2 C1219.4 2671.3 1219.2 2669.5 1219.7 2668.8 C1220.1 2668.2 1222.2 2667.6 1223.2 2667.4 C1224.3 2667.1 1227.1 2666.6 1227.6 2667 C1228.2 2667.4 1227.3 2669.6 1227.2 2670.5 Z" fill="#2ca02c"/><path d="M1142.5 2600.2 C1142.5 2600.5 1141.4 2600.8 1141.1 2601 C1140.7 2601.3 1140 2601.8 1139.7 2601.7 C1139.5 2601.7 1139.1 2600.9 1138.9 2600.6 C1138.8 2600.3 1138.3 2599.8 1138.4 2599.5 C1138.5 2599.2 1139.3 2598.5 1139.7 2598.4 C1140.1 2598.3 1141.1 2598.7 1141.5 2598.9 C1141.8 2599.1 1142.6 2599.9 1142.5 2600.2 Z" fill="#2ca02c"/><path d="M1181.4 2619.4 C1181.4 2619.9 1179.8 2620.7 1179.2 2621 C1178.6 2621.3 1177.5 2621.7 1176.9 2621.7 C1176.4 2621.6 1175.2 2620.9 1174.9 2620.5 C1174.6 2620 1174.3 2618.7 1174.6 2618.3 C1174.8 2617.8 1176.2 2617.2 1176.9 2617.1 C1177.6 2616.9 1179 2617.1 1179.6 2617.4 C1180.2 2617.7 1181.5 2619 1181.4 2619.4 Z" fill="#2ca02c"/><path d="M1246.8 2631.5 C1246.9 2631.8 1246.5 2632.9 1246.1 2633.1 C1245.8 2633.3 1244.5 2633 1244.1 2632.9 C1243.7 2632.8 1243.2 2632.3 1243 2632.1 C1242.8 2631.8 1242.6 2631.1 1242.7 2630.7 C1242.8 2630.4 1243.6 2629.5 1244 2629.4 C1244.3 2629.4 1245.2 2630.2 1245.5 2630.5 C1245.9 2630.7 1246.7 2631.1 1246.8 2631.5 Z" fill="#2ca02c"/><path d="M1221.7 2655.8 C1221.6 2656.2 1221.4 2656.7 1221.2 2656.9 C1220.9 2657 1220.1 2657 1219.8 2656.9 C1219.5 2656.8 1219.1 2656.5 1218.9 2656.3 C1218.7 2656 1218.1 2655.4 1218.2 2655.1 C1218.3 2654.8 1219.2 2654.2 1219.6 2654.1 C1220.1 2654 1221.5 2653.9 1221.8 2654.2 C1222.1 2654.4 1221.7 2655.5 1221.7 2655.8 Z" fill="#2ca02c"/><path d="M1169.4 2623.8 C1169.4 2624.3 1169.5 2625.3 1169.2 2625.6 C1168.9 2625.8 1167.6 2625.6 1167 2625.5 C1166.5 2625.4 1165.3 2625.2 1165 2624.8 C1164.7 2624.5 1164.4 2623.1 1164.7 2622.8 C1165 2622.5 1166.5 2622.7 1167.2 2622.6 C1167.8 2622.5 1169.2 2621.7 1169.5 2621.9 C1169.8 2622 1169.4 2623.3 1169.4 2623.8 Z" fill="#8c564b"/><path d="M1214 2660.5 C1214.1 2661.1 1214.2 2662.7 1213.8 2663 C1213.3 2663.3 1211.4 2663.1 1210.7 2662.9 C1209.9 2662.7 1208.4 2662.2 1208.2 2661.7 C1207.9 2661.3 1208.7 2660.2 1209 2659.6 C1209.4 2659.1 1209.9 2657.7 1210.5 2657.5 C1211.1 2657.4 1212.9 2658.1 1213.3 2658.5 C1213.8 2658.9 1214 2659.9 1214 2660.5 Z" fill="#8c564b"/><path d="M1237.1 2616.2 C1237.2 2616.9 1237.9 2619 1237.4 2619.3 C1237 2619.6 1234.4 2618.8 1233.6 2618.5 C1232.9 2618.2 1232.4 2617.7 1231.8 2617.1 C1231.2 2616.6 1229.2 2614.8 1229.4 2614.3 C1229.7 2613.8 1232.6 2613.7 1233.6 2613.7 C1234.6 2613.6 1236.3 2613.3 1236.8 2613.6 C1237.3 2614 1237.1 2615.4 1237.1 2616.2 Z" fill="#8c564b"/><path d="M1220.9 2610.9 C1220.9 2611.6 1220.4 2612.8 1219.9 2613.2 C1219.3 2613.7 1217.3 2614.1 1216.7 2614 C1216 2613.8 1215.1 2612.5 1214.8 2612 C1214.6 2611.4 1214.3 2610.2 1214.6 2609.8 C1214.9 2609.3 1216.1 2608.8 1216.9 2608.5 C1217.7 2608.3 1220 2607.6 1220.6 2607.9 C1221.1 2608.2 1221 2610.2 1220.9 2610.9 Z" fill="#8c564b"/><path d="M1230.3 2658.6 C1230.2 2659.3 1229.3 2660.4 1228.6 2661 C1227.8 2661.5 1225.7 2662.8 1225 2662.6 C1224.3 2662.5 1223.3 2660.4 1223.1 2659.7 C1222.9 2659.1 1223.5 2658.2 1223.8 2657.6 C1224.1 2657.1 1224.6 2656.1 1225.4 2655.8 C1226.2 2655.5 1228.8 2654.9 1229.5 2655.2 C1230.2 2655.6 1230.4 2657.8 1230.3 2658.6 Z" fill="#8c564b"/><path d="M1207.2 2663 C1207.1 2663.6 1206.8 2664.4 1206.3 2664.7 C1205.9 2665 1204.5 2665.6 1203.9 2665.6 C1203.3 2665.5 1202.1 2664.7 1201.6 2664.1 C1201.2 2663.6 1200.6 2662.1 1200.8 2661.5 C1201.1 2661 1202.9 2660 1203.8 2659.9 C1204.6 2659.8 1206.7 2660 1207.2 2660.4 C1207.6 2660.9 1207.3 2662.4 1207.2 2663 Z" fill="#8c564b"/><path d="M1149.1 2611.1 C1149.1 2611.5 1147.9 2612.4 1147.4 2612.6 C1147 2612.9 1145.9 2613 1145.5 2612.9 C1145 2612.8 1144.2 2612.3 1143.9 2611.9 C1143.6 2611.6 1143.2 2610.6 1143.4 2610.1 C1143.5 2609.7 1144.7 2608.6 1145.2 2608.6 C1145.8 2608.5 1146.9 2609.3 1147.4 2609.7 C1147.9 2610 1149.1 2610.7 1149.1 2611.1 Z" fill="#8c564b"/><path d="M1218.1 2659.9 C1217.9 2660.3 1215.9 2660.9 1215.3 2661.2 C1214.7 2661.5 1213.9 2662.2 1213.3 2662.2 C1212.7 2662.2 1211.3 2661.5 1211 2661 C1210.6 2660.5 1210.2 2659 1210.5 2658.5 C1210.8 2658.1 1212.5 2657.7 1213.3 2657.5 C1214.1 2657.4 1215.6 2657.3 1216.2 2657.6 C1216.8 2657.9 1218.2 2659.4 1218.1 2659.9 Z" fill="#2ca02c"/><path d="M1293.5 2654.1 C1293.5 2654.5 1292.2 2655.3 1291.6 2655.6 C1291 2656 1290 2657 1289.3 2657 C1288.6 2657 1286.8 2656.1 1286.5 2655.5 C1286.2 2655 1286.5 2653.5 1286.9 2652.9 C1287.3 2652.3 1288.6 2651.3 1289.3 2651.3 C1289.9 2651.2 1291 2652.3 1291.5 2652.7 C1292.1 2653.1 1293.5 2653.7 1293.5 2654.1 Z" fill="#8c564b"/><path d="M1245.5 2639.9 C1245.4 2640.5 1244.3 2641.4 1243.6 2641.9 C1243 2642.4 1241.3 2643.7 1240.5 2643.7 C1239.7 2643.6 1238 2642.2 1237.6 2641.4 C1237.1 2640.7 1236.9 2638.8 1237.3 2638.2 C1237.8 2637.7 1240 2637.5 1240.9 2637.4 C1241.8 2637.3 1243.3 2637.2 1243.9 2637.5 C1244.5 2637.9 1245.5 2639.3 1245.5 2639.9 Z" fill="#8c564b"/><path d="M1194.2 2634.8 C1194.1 2635.3 1192.7 2636.3 1192.1 2636.6 C1191.5 2636.9 1190.3 2637.4 1189.6 2637.3 C1188.9 2637.3 1186.9 2636.7 1186.7 2636.2 C1186.5 2635.7 1187.4 2634.3 1187.8 2633.8 C1188.2 2633.4 1189.2 2633 1189.8 2632.9 C1190.4 2632.7 1192 2632.3 1192.6 2632.6 C1193.2 2632.8 1194.2 2634.3 1194.2 2634.8 Z" fill="#8c564b"/><path d="M1281.1 2658.2 C1281 2658.6 1280.1 2659.3 1279.6 2659.6 C1279.2 2659.8 1278.2 2660 1277.8 2659.9 C1277.3 2659.8 1276.6 2659.3 1276.3 2658.9 C1276.1 2658.6 1275.6 2657.6 1275.7 2657.2 C1275.9 2656.8 1277 2656 1277.6 2655.9 C1278.2 2655.8 1279.5 2656.2 1280 2656.5 C1280.4 2656.8 1281.1 2657.8 1281.1 2658.2 Z" fill="#8c564b"/><path d="M1166.6 2652.8 C1166.4 2653.6 1163.9 2654.6 1162.9 2655.2 C1161.9 2655.8 1160.3 2657.5 1159.2 2657.5 C1158.2 2657.5 1155.6 2655.7 1155.2 2654.9 C1154.8 2654 1155.5 2651.9 1156 2651.1 C1156.5 2650.2 1158.2 2648.5 1159.3 2648.2 C1160.3 2648 1163.2 2648.6 1164.2 2649.2 C1165.2 2649.8 1166.8 2652 1166.6 2652.8 Z" fill="#8c564b"/><path d="M1187.8 2661.8 C1187.8 2662.6 1187.9 2664 1187.4 2664.5 C1186.8 2665 1184.4 2665.7 1183.6 2665.5 C1182.9 2665.3 1181.8 2663.6 1181.7 2663 C1181.6 2662.4 1182.4 2661.5 1182.7 2661 C1183 2660.6 1183.4 2659.8 1184 2659.5 C1184.7 2659.2 1187 2658.7 1187.5 2659 C1188 2659.3 1187.8 2661.1 1187.8 2661.8 Z" fill="#8c564b"/><path d="M1178.5 2656.9 C1178.6 2657.3 1178.3 2658.4 1177.9 2658.7 C1177.4 2659 1175.8 2659.6 1175.3 2659.4 C1174.8 2659.3 1174.4 2658 1174.2 2657.6 C1174 2657.2 1173.7 2656.4 1173.9 2656.1 C1174.1 2655.7 1175.1 2655.2 1175.5 2655.1 C1176 2655.1 1176.8 2655.5 1177.2 2655.8 C1177.6 2656 1178.4 2656.5 1178.5 2656.9 Z" fill="#8c564b"/><path d="M1247.8 2628.6 C1248 2629.3 1248.2 2631.1 1247.7 2631.6 C1247.1 2632.1 1244.8 2632.4 1243.7 2632.3 C1242.6 2632.2 1239.6 2631.5 1239.2 2630.8 C1238.7 2630.1 1239.7 2627.6 1240.4 2627 C1241 2626.3 1243.1 2625.9 1244 2625.9 C1244.8 2625.9 1246.2 2626.3 1246.7 2626.7 C1247.2 2627 1247.7 2628 1247.8 2628.6 Z" fill="#2ca02c"/><path d="M1207.4 2620.6 C1207.5 2621.1 1207.9 2622.3 1207.5 2622.7 C1207.1 2623.2 1205.1 2623.9 1204.5 2623.8 C1203.9 2623.6 1203.3 2622.2 1202.9 2621.6 C1202.6 2621 1201.6 2619.7 1201.9 2619.3 C1202.1 2618.9 1204.1 2618.6 1204.8 2618.6 C1205.4 2618.5 1206.6 2618.8 1206.9 2619.1 C1207.3 2619.3 1207.3 2620.1 1207.4 2620.6 Z" fill="#2ca02c"/><path d="M1209.2 2647.2 C1209.2 2647.6 1208.9 2648.4 1208.6 2648.6 C1208.3 2648.8 1207.3 2648.8 1206.8 2648.7 C1206.3 2648.6 1205.1 2648.4 1204.9 2648.1 C1204.7 2647.8 1204.9 2646.7 1205.2 2646.4 C1205.5 2646.1 1206.4 2646 1206.8 2645.9 C1207.3 2645.8 1208.3 2645.6 1208.6 2645.8 C1208.9 2646 1209.2 2646.8 1209.2 2647.2 Z" fill="#2ca02c"/><path d="M1217.9 2654.2 C1217.8 2655 1215.5 2656.5 1214.6 2656.8 C1213.7 2657.2 1212.3 2656.9 1211.2 2656.9 C1210.1 2656.8 1206.9 2656.8 1206.5 2656.3 C1206 2655.7 1207.5 2653.4 1208.1 2652.7 C1208.7 2652 1210.1 2651.3 1211 2651 C1212 2650.8 1214.5 2650.2 1215.4 2650.6 C1216.4 2651.1 1218 2653.3 1217.9 2654.2 Z" fill="#2ca02c"/><path d="M1219.3 2644.9 C1219.2 2645.4 1218.8 2646.2 1218.5 2646.4 C1218.1 2646.6 1217.2 2646.6 1216.6 2646.6 C1215.9 2646.5 1213.9 2646.5 1213.7 2646.2 C1213.5 2645.9 1214.9 2644.6 1215.2 2644.2 C1215.6 2643.8 1216 2643.3 1216.5 2643.2 C1217 2643 1218.5 2642.8 1218.9 2643 C1219.3 2643.3 1219.3 2644.5 1219.3 2644.9 Z" fill="#8c564b"/><path d="M1151.1 2612.2 C1151.1 2612.5 1150.7 2613 1150.4 2613.3 C1150.1 2613.6 1149.3 2614.2 1148.8 2614.2 C1148.3 2614.1 1147.1 2613.5 1147 2613.1 C1146.9 2612.8 1147.8 2612 1148 2611.7 C1148.3 2611.4 1148.6 2610.9 1148.9 2610.8 C1149.3 2610.7 1150.2 2610.9 1150.5 2611.1 C1150.8 2611.3 1151.1 2611.9 1151.1 2612.2 Z" fill="#2ca02c"/><path d="M1265 2657.8 C1265 2658.1 1264.1 2658.8 1263.7 2659 C1263.3 2659.2 1262.6 2659.4 1262.1 2659.3 C1261.7 2659.3 1260.4 2659 1260.3 2658.7 C1260.1 2658.4 1260.6 2657.5 1260.9 2657.2 C1261.2 2656.9 1261.9 2656.7 1262.2 2656.6 C1262.5 2656.6 1263 2656.9 1263.4 2657 C1263.7 2657.2 1264.9 2657.6 1265 2657.8 Z" fill="#8c564b"/><path d="M1207.3 2646.5 C1207.5 2647.1 1206.2 2649.1 1205.4 2649.6 C1204.5 2650.1 1202.1 2650.6 1201.2 2650.3 C1200.3 2650.1 1199.4 2648.5 1198.9 2647.8 C1198.5 2647.1 1197.6 2645.3 1197.9 2644.8 C1198.3 2644.3 1200.8 2644 1201.6 2644 C1202.4 2644 1203.2 2644.5 1204 2644.8 C1204.7 2645.1 1207.1 2645.9 1207.3 2646.5 Z" fill="#2ca02c"/><path d="M1214.9 2566.8 C1214.9 2567.4 1214.1 2568.5 1213.6 2568.9 C1213.1 2569.2 1211.8 2569.3 1210.9 2569.3 C1210 2569.3 1207.6 2569.1 1207.1 2568.6 C1206.6 2568 1206.6 2565.8 1207.1 2565.1 C1207.5 2564.4 1209.7 2563.2 1210.5 2563.1 C1211.4 2563.1 1213 2564.4 1213.5 2564.9 C1214.1 2565.4 1214.9 2566.3 1214.9 2566.8 Z" fill="#2ca02c"/><path d="M1212.2 2583.5 C1212.2 2584 1212.5 2585.2 1212.1 2585.5 C1211.7 2585.8 1210.1 2585.8 1209.4 2585.6 C1208.8 2585.5 1207.5 2585.1 1207.1 2584.6 C1206.7 2584.1 1206.1 2582.6 1206.4 2582.1 C1206.7 2581.6 1208.6 2580.9 1209.3 2580.8 C1210 2580.8 1211.5 2581.3 1211.9 2581.7 C1212.2 2582 1212.2 2583 1212.2 2583.5 Z" fill="#ff7f0e"/><path d="M1223.4 2589.1 C1223.3 2589.7 1222.7 2590.7 1222.2 2591.1 C1221.7 2591.4 1220.4 2591.4 1219.6 2591.4 C1218.8 2591.3 1216.9 2591.1 1216.3 2590.6 C1215.8 2590 1214.9 2587.8 1215.2 2587.1 C1215.6 2586.5 1218.2 2585.6 1219.2 2585.5 C1220.2 2585.4 1222.2 2586 1222.8 2586.5 C1223.3 2587 1223.4 2588.5 1223.4 2589.1 Z" fill="#ff7f0e"/><path d="M1232.1 2581.5 C1232.1 2581.9 1231.4 2582.9 1231 2583.1 C1230.5 2583.3 1229.3 2583.3 1228.9 2583.1 C1228.5 2583 1228.2 2582.3 1228 2582 C1227.8 2581.7 1227.3 2581 1227.5 2580.8 C1227.6 2580.5 1228.5 2580.1 1228.9 2580 C1229.4 2579.9 1230.6 2579.7 1231 2579.9 C1231.4 2580 1232.1 2581.1 1232.1 2581.5 Z" fill="#ff7f0e"/><path d="M1334.4 2652.7 C1334.4 2653.1 1333.9 2653.9 1333.5 2654.2 C1333.1 2654.5 1331.7 2655.3 1331.3 2655.2 C1331 2655.1 1330.7 2653.7 1330.6 2653.3 C1330.5 2652.9 1330.5 2652.6 1330.6 2652.2 C1330.7 2651.8 1331 2650.6 1331.4 2650.4 C1331.8 2650.3 1333.2 2650.9 1333.6 2651.2 C1334 2651.5 1334.4 2652.3 1334.4 2652.7 Z" fill="#2ca02c"/><path d="M1254.3 2621.1 C1254.1 2621.7 1252.5 2622.2 1251.8 2622.7 C1251.1 2623.2 1249.9 2624.6 1249.1 2624.6 C1248.4 2624.6 1246.2 2623.4 1245.8 2622.7 C1245.5 2622.1 1246.4 2620.3 1246.9 2619.8 C1247.4 2619.3 1248.7 2619.3 1249.6 2619.1 C1250.4 2618.8 1252.7 2617.6 1253.3 2617.9 C1253.9 2618.2 1254.5 2620.4 1254.3 2621.1 Z" fill="#2ca02c"/><path d="M1229.6 2604.6 C1229.4 2605.3 1228.3 2606 1227.8 2606.3 C1227.2 2606.6 1226.3 2606.9 1225.5 2606.9 C1224.7 2606.9 1222.2 2606.9 1221.7 2606.3 C1221.2 2605.8 1221.5 2603.6 1222 2603 C1222.5 2602.5 1224.6 2602.7 1225.5 2602.5 C1226.5 2602.3 1228.6 2601.3 1229.2 2601.6 C1229.7 2601.9 1229.8 2604 1229.6 2604.6 Z" fill="#2ca02c"/><path d="M1292.2 2637.7 C1292.2 2638.4 1291.3 2639.7 1290.6 2640.2 C1290 2640.6 1287.9 2641.4 1287.2 2641.2 C1286.5 2641 1285.4 2639.5 1285.1 2638.9 C1284.9 2638.3 1285.2 2637.2 1285.5 2636.7 C1285.7 2636.1 1286.6 2634.8 1287.3 2634.7 C1288 2634.5 1289.9 2634.9 1290.6 2635.3 C1291.2 2635.7 1292.2 2637.1 1292.2 2637.7 Z" fill="#ff7f0e"/><path d="M1280.6 2636.6 C1280.6 2637.2 1278.7 2638.5 1277.9 2638.9 C1277.1 2639.4 1275.4 2640 1274.6 2639.8 C1273.9 2639.7 1272.4 2638.7 1271.9 2638 C1271.4 2637.3 1270.5 2635.2 1270.9 2634.8 C1271.3 2634.3 1274.1 2634.7 1275 2634.6 C1275.9 2634.6 1276.9 2634.2 1277.7 2634.5 C1278.4 2634.7 1280.6 2636 1280.6 2636.6 Z" fill="#2ca02c"/><path d="M1230.7 2605.9 C1230.8 2606.5 1229.6 2607.5 1229 2608.1 C1228.3 2608.6 1226.3 2610.1 1225.6 2609.9 C1224.9 2609.8 1224.2 2607.8 1223.8 2607 C1223.3 2606.3 1221.8 2604.6 1222.1 2604.1 C1222.4 2603.6 1225.1 2603.4 1226 2603.3 C1227 2603.3 1228.2 2603.5 1228.9 2603.8 C1229.5 2604.1 1230.7 2605.3 1230.7 2605.9 Z" fill="#2ca02c"/><path d="M1222.4 2581.5 C1222.5 2582.3 1222 2584.5 1221.3 2584.9 C1220.6 2585.3 1218 2584.8 1217.1 2584.6 C1216.2 2584.3 1215 2583.4 1214.6 2582.8 C1214.1 2582.2 1213.5 2580.4 1213.9 2580 C1214.3 2579.5 1216.4 2579.6 1217.3 2579.5 C1218.2 2579.3 1219.9 2578.6 1220.6 2578.9 C1221.3 2579.1 1222.3 2580.7 1222.4 2581.5 Z" fill="#ff7f0e"/><path d="M1245.1 2608.9 C1245.2 2609.7 1246 2611.9 1245.4 2612.3 C1244.9 2612.7 1242.1 2612.3 1241.2 2612 C1240.3 2611.7 1239 2611 1238.5 2610.3 C1237.9 2609.7 1236.8 2607.7 1237.1 2607 C1237.5 2606.4 1240.1 2605.7 1241.1 2605.6 C1242.1 2605.5 1244.1 2605.9 1244.6 2606.4 C1245.2 2606.8 1245 2608.2 1245.1 2608.9 Z" fill="#ff7f0e"/><path d="M1200.2 2555.8 C1200.2 2556.2 1199.7 2557.1 1199.3 2557.5 C1198.8 2557.9 1197.3 2558.7 1196.8 2558.6 C1196.2 2558.5 1195.4 2557.2 1195.1 2556.7 C1194.9 2556.2 1194.8 2555.2 1195.1 2554.8 C1195.3 2554.5 1196.6 2554.3 1197.1 2554.3 C1197.6 2554.2 1198.5 2554.2 1198.9 2554.4 C1199.4 2554.6 1200.2 2555.4 1200.2 2555.8 Z" fill="#ff7f0e"/><path d="M1284.5 2634.2 C1284.6 2634.9 1284 2636.5 1283.4 2636.9 C1282.7 2637.3 1280.8 2637.2 1279.9 2637.1 C1279 2636.9 1276.9 2636.5 1276.4 2635.9 C1275.9 2635.3 1275.8 2633.2 1276.2 2632.5 C1276.7 2631.8 1278.8 2630.6 1279.7 2630.6 C1280.5 2630.5 1282.2 2631.6 1282.8 2632.1 C1283.5 2632.6 1284.4 2633.6 1284.5 2634.2 Z" fill="#2ca02c"/><path d="M1274.9 2636.1 C1274.9 2636.5 1274.2 2637.2 1273.8 2637.4 C1273.4 2637.6 1272.5 2637.7 1272.1 2637.6 C1271.6 2637.6 1270.7 2637.3 1270.3 2637 C1270 2636.6 1269.3 2635.4 1269.5 2635 C1269.7 2634.6 1271.2 2633.9 1271.8 2633.8 C1272.5 2633.7 1273.9 2633.9 1274.4 2634.2 C1274.8 2634.6 1275 2635.7 1274.9 2636.1 Z" fill="#2ca02c"/><path d="M1267.9 2612.3 C1267.8 2613.1 1266.9 2614.6 1266 2615.2 C1265.2 2615.8 1262.9 2616.7 1261.9 2616.6 C1260.8 2616.5 1258.6 2615 1258.1 2614.2 C1257.6 2613.4 1257.8 2611.2 1258.3 2610.4 C1258.8 2609.6 1260.9 2608.6 1262 2608.4 C1263.1 2608.1 1265.8 2608.2 1266.6 2608.7 C1267.4 2609.3 1268 2611.4 1267.9 2612.3 Z" fill="#ff7f0e"/><path d="M1287.5 2647.8 C1287.5 2648.3 1287.2 2649.3 1286.7 2649.6 C1286.3 2649.9 1284.8 2650.3 1284.2 2650.2 C1283.6 2650.1 1282.2 2649.4 1281.9 2648.9 C1281.5 2648.4 1281.2 2646.9 1281.6 2646.5 C1281.9 2646 1283.6 2645.7 1284.3 2645.6 C1285 2645.5 1286.5 2645.4 1287 2645.7 C1287.4 2646 1287.6 2647.2 1287.5 2647.8 Z" fill="#ff7f0e"/><path d="M1280.8 2632.7 C1280.7 2633.2 1280.6 2633.9 1280.1 2634.3 C1279.7 2634.7 1278.2 2635.6 1277.7 2635.5 C1277.3 2635.4 1276.8 2633.8 1276.7 2633.4 C1276.5 2632.9 1276.4 2632.3 1276.6 2631.9 C1276.8 2631.6 1277.4 2630.9 1278 2630.6 C1278.5 2630.4 1280.6 2630 1281 2630.2 C1281.3 2630.5 1280.9 2632.1 1280.8 2632.7 Z" fill="#ff7f0e"/><path d="M1302.5 2653.8 C1302.5 2654.4 1302.6 2656 1302.2 2656.2 C1301.7 2656.4 1300.1 2655.5 1299.3 2655.4 C1298.6 2655.3 1296.8 2655.4 1296.4 2655.1 C1296.1 2654.7 1296.5 2653.1 1296.9 2652.7 C1297.3 2652.2 1298.4 2651.7 1299.2 2651.5 C1299.9 2651.3 1301.9 2650.9 1302.4 2651.2 C1302.8 2651.5 1302.5 2653.1 1302.5 2653.8 Z" fill="#2ca02c"/><path d="M1331.1 2656.1 C1331.1 2656.7 1331 2657.6 1330.7 2657.9 C1330.3 2658.1 1329.2 2658.1 1328.4 2658.1 C1327.6 2658.1 1325.1 2658.1 1324.9 2657.7 C1324.6 2657.3 1325.9 2655.6 1326.4 2655.2 C1326.9 2654.7 1327.8 2654.5 1328.4 2654.3 C1329.1 2654.2 1330.7 2653.7 1331.1 2654 C1331.5 2654.2 1331.2 2655.6 1331.1 2656.1 Z" fill="#ff7f0e"/><path d="M1258.7 2617.5 C1258.8 2617.8 1258.2 2618.8 1257.8 2619.1 C1257.4 2619.4 1256.1 2619.8 1255.6 2619.7 C1255 2619.6 1253.6 2619 1253.4 2618.6 C1253.1 2618.1 1253.2 2616.8 1253.5 2616.5 C1253.9 2616.1 1255.2 2615.9 1255.7 2615.9 C1256.2 2615.9 1256.8 2616.3 1257.2 2616.5 C1257.6 2616.7 1258.6 2617.1 1258.7 2617.5 Z" fill="#2ca02c"/><path d="M1297.9 2630.5 C1297.9 2630.8 1296.9 2631.1 1296.5 2631.4 C1296.1 2631.6 1295.5 2632.1 1295.2 2632.1 C1294.8 2632 1294.2 2631.4 1294 2631.1 C1293.8 2630.8 1293.5 2630.1 1293.6 2629.7 C1293.8 2629.4 1294.7 2628.6 1295.1 2628.6 C1295.5 2628.5 1296.4 2629 1296.8 2629.3 C1297.2 2629.6 1297.9 2630.2 1297.9 2630.5 Z" fill="#2ca02c"/><path d="M1253.4 2601.1 C1253.5 2601.8 1252.6 2604.1 1251.8 2604.5 C1251 2604.9 1248.3 2604.5 1247.5 2604.2 C1246.7 2603.8 1246 2602.7 1245.7 2602.1 C1245.4 2601.5 1244.9 2600.5 1245.1 2599.8 C1245.3 2599 1246.4 2596.7 1247.1 2596.6 C1247.9 2596.5 1249.8 2598.2 1250.6 2598.8 C1251.4 2599.4 1253.2 2600.3 1253.4 2601.1 Z" fill="#ff7f0e"/><path d="M1187.6 2549.8 C1187.6 2550.3 1187.2 2551.3 1186.8 2551.6 C1186.4 2551.8 1185.2 2551.7 1184.5 2551.6 C1183.8 2551.6 1181.9 2551.5 1181.6 2551.1 C1181.3 2550.7 1182.1 2549.2 1182.5 2548.8 C1182.9 2548.4 1183.9 2548 1184.5 2547.9 C1185.1 2547.8 1186.6 2547.5 1187 2547.8 C1187.4 2548 1187.7 2549.2 1187.6 2549.8 Z" fill="#2ca02c"/><path d="M1288.8 2625.6 C1288.8 2626 1288.1 2627.3 1287.6 2627.5 C1287.2 2627.8 1285.7 2627.5 1285.2 2627.3 C1284.7 2627.2 1284.1 2626.6 1283.9 2626.2 C1283.7 2625.9 1283.4 2625.1 1283.6 2624.7 C1283.7 2624.4 1284.6 2623.6 1285.1 2623.5 C1285.6 2623.4 1286.6 2623.9 1287.1 2624.2 C1287.6 2624.4 1288.7 2625.1 1288.8 2625.6 Z" fill="#ff7f0e"/><path d="M1198.5 2572.1 C1198.6 2572.6 1197.7 2573.8 1197.1 2574.1 C1196.6 2574.5 1195 2575 1194.3 2574.8 C1193.7 2574.7 1192.9 2573.7 1192.4 2573.1 C1192 2572.5 1190.7 2570.9 1191 2570.5 C1191.2 2570.1 1193.7 2570 1194.5 2570 C1195.3 2569.9 1196.5 2569.9 1197 2570.1 C1197.6 2570.4 1198.5 2571.6 1198.5 2572.1 Z" fill="#ff7f0e"/><path d="M1110.8 2485 C1113.1 2481 1126.4 2485.5 1130.6 2487.8 C1134.9 2490.1 1148.8 2502.3 1153.3 2507.6 C1157.8 2513 1172 2534.8 1176 2541.6 C1179.9 2548.4 1190.7 2568.5 1193 2575.6 C1195.2 2582.7 1198.6 2605.9 1198.6 2612.4 C1198.6 2619 1195.2 2638.5 1193 2640.8 C1190.7 2643 1179.4 2637.1 1176 2635.1 C1172.6 2633.1 1162.6 2624.6 1159 2620.9 C1155.3 2617.3 1143.1 2603.9 1139.1 2598.3 C1135.2 2592.6 1122.4 2571.4 1119.3 2564.3 C1116.2 2557.2 1108.8 2535.4 1108 2527.5 C1107.1 2519.5 1108.5 2488.9 1110.8 2485 Z" fill="#ff9896"/><path d="M1110.8 2547.3 C1112.2 2543.6 1129.2 2545 1133.5 2547.3 C1137.7 2549.6 1149.9 2564.3 1153.3 2570 C1156.7 2575.6 1166.6 2598.3 1167.5 2603.9 C1168.3 2609.6 1164.6 2626 1161.8 2626.6 C1159 2627.2 1143.4 2613.9 1139.1 2609.6 C1134.9 2605.4 1122.1 2590.3 1119.3 2584.1 C1116.5 2577.9 1109.4 2551 1110.8 2547.3 Z" fill="#9467bd"/><path d="M1132.2 2585.4 C1132.2 2585.9 1131.5 2586.8 1131 2587.2 C1130.5 2587.6 1129 2588.2 1128.5 2588.1 C1127.9 2588 1127.3 2586.8 1127 2586.3 C1126.7 2585.8 1125.9 2584.5 1126.2 2584.2 C1126.4 2583.9 1128.2 2583.9 1128.8 2583.9 C1129.4 2583.8 1130.4 2583.5 1130.9 2583.7 C1131.3 2584 1132.2 2584.9 1132.2 2585.4 Z" fill="#ff9896"/><path d="M1145.2 2597.3 C1145.3 2597.8 1144.6 2599.2 1144 2599.7 C1143.4 2600.1 1141.5 2600.9 1140.7 2600.7 C1140 2600.6 1138.4 2599.3 1138.2 2598.7 C1138 2598.1 1138.7 2596.8 1139.1 2596.3 C1139.5 2595.8 1140.5 2595 1141 2595 C1141.6 2594.9 1142.6 2595.6 1143.1 2595.9 C1143.7 2596.2 1145.1 2596.8 1145.2 2597.3 Z" fill="#ff9896"/><path d="M1156 2610 C1155.9 2610.5 1155.3 2611.3 1154.8 2611.6 C1154.4 2611.9 1153.2 2612.3 1152.6 2612.2 C1152 2612.2 1150.5 2611.5 1150.3 2611.1 C1150.1 2610.7 1150.9 2609.7 1151.2 2609.2 C1151.5 2608.6 1151.8 2607.2 1152.4 2606.9 C1153 2606.7 1155.3 2607.1 1155.7 2607.5 C1156.2 2607.9 1156.1 2609.4 1156 2610 Z" fill="#ff9896"/><path d="M1146.3 2585.2 C1146.3 2585.8 1145.1 2587.4 1144.3 2587.9 C1143.5 2588.4 1141.2 2589.1 1140.5 2588.9 C1139.9 2588.6 1139.5 2586.7 1139.3 2586.1 C1139 2585.4 1138.4 2584.6 1138.6 2584 C1138.8 2583.4 1139.9 2581.9 1140.6 2581.7 C1141.3 2581.6 1143.3 2582.3 1144 2582.7 C1144.8 2583.2 1146.3 2584.5 1146.3 2585.2 Z" fill="#ff9896"/><path d="M1144.9 2567.6 C1145 2567.9 1145.2 2568.8 1144.9 2569.1 C1144.6 2569.4 1143.1 2570.1 1142.7 2570 C1142.3 2569.9 1141.9 2568.6 1141.8 2568.1 C1141.7 2567.7 1141.6 2567.2 1141.8 2566.9 C1141.9 2566.6 1142.5 2565.9 1142.9 2565.8 C1143.2 2565.8 1144.1 2566.3 1144.4 2566.6 C1144.6 2566.8 1144.8 2567.2 1144.9 2567.6 Z" fill="#ff9896"/><path d="M1150.4 2581.2 C1150.4 2581.6 1148.9 2582.4 1148.4 2582.7 C1147.8 2583 1146.6 2583.8 1146.1 2583.7 C1145.7 2583.6 1145.4 2582.3 1145.2 2581.9 C1144.9 2581.4 1144.1 2580.5 1144.3 2580.2 C1144.4 2579.9 1145.8 2579.6 1146.4 2579.5 C1146.9 2579.4 1147.9 2579.4 1148.5 2579.6 C1149 2579.8 1150.4 2580.8 1150.4 2581.2 Z" fill="#ff9896"/><path d="M1158.3 2616.8 C1158.3 2617.2 1157.8 2617.9 1157.3 2618.3 C1156.9 2618.6 1155.7 2619.5 1155 2619.5 C1154.4 2619.5 1152.7 2618.7 1152.3 2618.1 C1152 2617.6 1151.9 2615.8 1152.3 2615.4 C1152.7 2615 1154.6 2614.9 1155.3 2614.9 C1156 2614.8 1157.3 2614.7 1157.7 2614.9 C1158.1 2615.2 1158.4 2616.3 1158.3 2616.8 Z" fill="#ff9896"/><path d="M1141.6 2592.7 C1141.7 2593.5 1140.1 2595.6 1139.2 2596.2 C1138.2 2596.8 1135.6 2597.3 1134.4 2597.1 C1133.3 2596.9 1131 2595.4 1130.8 2594.6 C1130.5 2593.8 1131.8 2592.2 1132.3 2591.4 C1132.8 2590.6 1133.8 2588.8 1134.6 2588.7 C1135.3 2588.5 1137.1 2589.9 1138 2590.4 C1138.9 2590.9 1141.4 2591.9 1141.6 2592.7 Z" fill="#ff9896"/><path d="M1138.8 2586.2 C1138.8 2586.6 1138.3 2587.4 1137.9 2587.7 C1137.5 2587.9 1136.3 2588.2 1135.9 2588.1 C1135.5 2588 1135 2587.2 1134.8 2586.8 C1134.6 2586.5 1134.4 2585.8 1134.6 2585.5 C1134.7 2585.1 1135.4 2584.3 1135.9 2584.1 C1136.3 2584 1137.6 2584.4 1138 2584.6 C1138.4 2584.9 1138.8 2585.8 1138.8 2586.2 Z" fill="#ff9896"/><path d="M1139 2589.5 C1139 2589.7 1138.4 2590.5 1138.1 2590.6 C1137.8 2590.8 1137 2590.7 1136.7 2590.6 C1136.3 2590.5 1135.6 2590.3 1135.5 2590 C1135.3 2589.8 1135.3 2589.1 1135.4 2588.9 C1135.6 2588.6 1136.4 2588.4 1136.7 2588.4 C1137 2588.3 1137.5 2588.4 1137.8 2588.6 C1138.2 2588.7 1138.9 2589.2 1139 2589.5 Z" fill="#ff9896"/><path d="M1158.7 2599.9 C1158.9 2600.5 1158.1 2602.5 1157.4 2602.9 C1156.7 2603.3 1154.4 2603 1153.5 2602.8 C1152.6 2602.6 1151.2 2601.9 1150.7 2601.3 C1150.3 2600.7 1149.9 2598.9 1150.3 2598.3 C1150.6 2597.7 1152.7 2597 1153.5 2596.9 C1154.3 2596.9 1155.5 2597.6 1156.2 2598 C1156.9 2598.4 1158.6 2599.2 1158.7 2599.9 Z" fill="#ff9896"/><path d="M1164.1 2605.2 C1164.4 2606 1163.1 2608.8 1162.2 2609.2 C1161.4 2609.5 1158.5 2608.3 1157.5 2608 C1156.5 2607.6 1155.5 2607.1 1155 2606.5 C1154.5 2605.9 1153.4 2604.2 1153.7 2603.4 C1153.9 2602.7 1156.1 2600.9 1157 2600.8 C1157.9 2600.8 1159.5 2602.5 1160.4 2603.1 C1161.4 2603.7 1163.9 2604.4 1164.1 2605.2 Z" fill="#ff9896"/><path d="M1133.5 2456.7 C1135.2 2455.7 1149.1 2468.5 1153.3 2472.2 C1157.6 2475.9 1171.4 2488.8 1176 2493.5 C1180.5 2498.1 1193.5 2513.6 1198.6 2519 C1203.7 2524.3 1221.8 2541.6 1226.9 2547.3 C1232 2553 1245.6 2570.5 1249.6 2575.6 C1253.6 2580.7 1265.5 2595.3 1266.6 2598.3 C1267.7 2601.3 1263.8 2606.6 1260.9 2605.4 C1258.1 2604.1 1243.4 2590.1 1238.3 2585.5 C1233.2 2581 1215.6 2565.4 1210 2560 C1204.3 2554.7 1186.7 2537.1 1181.6 2531.7 C1176.5 2526.3 1163.5 2511.2 1159 2506.2 C1154.4 2501.3 1138.9 2487.1 1136.3 2482.1 C1133.8 2477.2 1131.8 2457.6 1133.5 2456.7 Z" fill="#dfdc98"/><path d="M1232.6 2536 C1235.4 2536 1250.5 2543.9 1255.3 2547.3 C1260.1 2550.7 1275.4 2565.4 1280.8 2570 C1286.1 2574.5 1303.4 2588.1 1309.1 2592.6 C1314.8 2597.1 1333.5 2611.7 1337.4 2615.3 C1341.4 2618.8 1350.2 2626.2 1348.7 2628 C1347.3 2629.9 1328.6 2634.8 1323.3 2633.7 C1317.9 2632.6 1300.6 2620.7 1294.9 2616.7 C1289.3 2612.7 1271.7 2598.6 1266.6 2594 C1261.5 2589.5 1247.9 2576 1243.9 2571.4 C1240 2566.7 1228.1 2550.8 1226.9 2547.3 C1225.8 2543.8 1229.8 2536 1232.6 2536 Z" fill="#f7b6d2"/><path d="M1238.3 2428.3 C1242.8 2421.2 1286.4 2412.7 1294.9 2414.2 C1303.4 2415.6 1317.6 2432.6 1323.3 2442.5 C1328.9 2452.4 1343.1 2504.2 1351.6 2513.3 C1360.1 2522.4 1399.2 2531.4 1408.2 2533.1 C1417.3 2534.8 1433 2530.3 1442.2 2530.3 C1451.4 2530.3 1494.2 2530.3 1500 2533.1 C1505.8 2536 1503.5 2556.6 1500 2558.6 C1496.5 2560.6 1474.1 2553.5 1464.9 2553 C1455.7 2552.4 1416.2 2549.8 1408.2 2553 C1400.3 2556.1 1388.1 2577.9 1385.6 2584.1 C1383 2590.3 1386.1 2613.9 1382.7 2615.3 C1379.3 2616.7 1357.5 2602.8 1351.6 2598.3 C1345.6 2593.7 1328.9 2575.6 1323.3 2570 C1317.6 2564.3 1300.6 2546.7 1294.9 2541.6 C1289.3 2536.5 1271.1 2524.6 1266.6 2519 C1262.1 2513.3 1252.4 2494 1249.6 2485 C1246.8 2475.9 1233.7 2435.4 1238.3 2428.3 Z" fill="#aec7e8"/><path d="M1210 2356.6 C1212.8 2348.9 1232.6 2350.9 1238.3 2350.9 C1243.9 2350.9 1260.9 2355.5 1266.6 2356.6 C1272.3 2357.7 1290.4 2359.4 1294.9 2362.3 C1299.5 2365.1 1309.1 2379.2 1311.9 2384.9 C1314.8 2390.7 1328.9 2415.7 1323.3 2420.1 C1317.6 2424.4 1266.6 2427.5 1255.3 2428.3 C1243.9 2429.2 1214.5 2435.5 1210 2428.3 C1205.4 2421.2 1207.1 2364.3 1210 2356.6 Z" fill="#aec7e8"/><path d="M1260.9 2513.3 C1262.4 2511.2 1274.5 2511.6 1277.9 2513.3 C1281.3 2515 1291 2525.8 1294.9 2530.3 C1298.9 2534.8 1313.1 2553 1317.6 2558.6 C1322.1 2564.3 1335.4 2581.3 1340.2 2586.9 C1345.1 2592.6 1361.4 2609.7 1365.7 2615.3 C1370 2620.8 1381.9 2638.6 1383.3 2642.2 C1384.7 2645.7 1381.7 2650.4 1379.9 2650.7 C1378.1 2651 1370 2648.4 1365.7 2645 C1361.5 2641.6 1343.1 2622.6 1337.4 2616.7 C1331.8 2610.7 1314.8 2591.5 1309.1 2585.5 C1303.4 2579.6 1285.3 2562.3 1280.8 2557.2 C1276.2 2552.1 1265.8 2538.9 1263.8 2534.5 C1261.8 2530.2 1259.5 2515.4 1260.9 2513.3 Z" fill="#1f77b4"/><path d="M1218.5 2400 C1220.7 2394.3 1240.3 2397.2 1243.9 2400 C1247.6 2402.8 1254.1 2421.2 1255.3 2428.3 C1256.4 2435.4 1254.9 2462.3 1255.3 2470.8 C1255.6 2479.3 1259.2 2506.7 1258.7 2513.3 C1258.2 2519.9 1252.7 2534.8 1250.2 2536.5 C1247.6 2538.3 1235.7 2534.5 1233.2 2530.9 C1230.6 2527.2 1225.9 2507.1 1224.7 2499.7 C1223.5 2492.3 1221.9 2466.6 1221.3 2456.7 C1220.7 2446.7 1216.2 2405.7 1218.5 2400 Z" fill="#1f77b4"/><path d="M1266.6 2356.6 C1268.9 2353.5 1280.8 2352.4 1283.6 2353.8 C1286.4 2355.2 1293.2 2366.2 1294.9 2370.8 C1296.6 2375.3 1300.6 2394.2 1300.6 2399.1 C1300.6 2404 1298.3 2418 1294.9 2420.1 C1291.5 2422.1 1270 2423.6 1266.6 2420.1 C1263.2 2416.5 1260.9 2391.3 1260.9 2384.9 C1260.9 2378.6 1264.3 2359.7 1266.6 2356.6 Z" fill="#1f77b4"/><path d="M1119.3 2420.1 C1120.2 2414.3 1128.2 2391.8 1130.6 2384.9 C1133 2378 1140.6 2357.2 1143.4 2350.9 C1146.2 2344.7 1155.4 2328 1159 2322.6 C1162.5 2317.2 1175.1 2301.1 1178.8 2297.1 C1182.5 2293.2 1192.7 2285.4 1195.8 2283 C1198.9 2280.5 1205.7 2275.3 1210 2273 C1214.2 2270.8 1231.2 2262.8 1238.3 2260.9 C1245.4 2258.9 1273.7 2254.3 1280.8 2253.2 C1287.8 2252.2 1304.6 2251.6 1309.1 2250.4 C1313.6 2249.2 1323 2241.7 1326.1 2241 C1329.2 2240.3 1341.1 2241.3 1340.2 2243.3 C1339.4 2245.3 1322.1 2258.5 1317.6 2260.9 C1313.1 2263.2 1301.4 2264.8 1294.9 2266.5 C1288.4 2268.2 1259.8 2275 1252.4 2277.9 C1245.1 2280.7 1226.7 2290.9 1221.3 2294.9 C1215.9 2298.8 1202.6 2312.4 1198.6 2317.5 C1194.7 2322.6 1184.5 2340.2 1181.6 2345.8 C1178.8 2351.5 1172.6 2366.7 1170.3 2374.2 C1168 2381.6 1160.7 2413.2 1159 2420.1 C1157.3 2426.9 1157 2440.2 1153.3 2442.5 C1149.6 2444.7 1125.5 2444.7 1122.1 2442.5 C1118.7 2440.2 1118.5 2425.8 1119.3 2420.1 Z" fill="#c7c7c7"/><path d="M1147.6 2254.6 C1148.5 2252.4 1169.7 2244.3 1176 2241.9 C1182.2 2239.5 1202.3 2232.3 1210 2230.6 C1217.6 2228.9 1245.4 2225.6 1252.4 2224.9 C1259.5 2224.2 1275.1 2222.8 1280.8 2223.5 C1286.4 2224.2 1304.6 2230.6 1309.1 2232 C1313.6 2233.4 1326.1 2235.9 1326.1 2237.6 C1326.1 2239.3 1313.6 2247.5 1309.1 2249 C1304.6 2250.4 1287.3 2251.8 1280.8 2252.4 C1274.3 2252.9 1250.5 2253.6 1243.9 2254.6 C1237.4 2255.7 1220.1 2260.6 1215.6 2263.1 C1211.1 2265.7 1201.3 2276.4 1198.6 2280.1 C1195.9 2283.8 1190.7 2298.8 1188.7 2300 C1186.7 2301.1 1180.9 2295 1178.8 2291.5 C1176.7 2287.9 1170.6 2268.2 1167.5 2264.5 C1164.3 2260.9 1146.8 2256.9 1147.6 2254.6 Z" fill="#1b5e8c"/><ellipse cx="1255.3" cy="2302.8" rx="70" ry="53" transform="rotate(-25 1255.3 2302.8)" fill="#c49c94" /><ellipse cx="1257.3" cy="2304.8" rx="50" ry="36" transform="rotate(-25 1257.3 2304.8)" fill="#ffbb78" /><path d="M1243.9 2273 C1245.4 2272.2 1257.5 2269.5 1260.9 2268.8 C1264.3 2268.1 1276.4 2265.7 1277.9 2266 C1279.5 2266.2 1278.2 2270.8 1276.5 2271.6 C1274.8 2272.5 1263.9 2273.9 1260.9 2274.5 C1258 2275 1248.5 2277.4 1246.8 2277.3 C1245.1 2277.2 1242.5 2273.9 1243.9 2273 Z" fill="#d62728"/><path d="M1328 2268.8 C1328.3 2266 1331.9 2247.6 1333.6 2243.3 C1335.3 2239.1 1340.4 2229.1 1345 2226.3 C1349.5 2223.5 1371.9 2216.5 1379 2215 C1386 2213.4 1409.3 2210.7 1415.8 2210.7 C1422.3 2210.7 1439.3 2213.4 1444.1 2215 C1448.9 2216.5 1460.8 2222.9 1463.9 2226.3 C1467.1 2229.7 1473.9 2244.4 1475.3 2249 C1476.7 2253.5 1479 2267.8 1478.1 2271.6 C1477.3 2275.5 1468.8 2286.1 1466.8 2287.2 C1464.8 2288.3 1460.3 2285.9 1458.3 2283 C1456.3 2280 1449.8 2261.4 1446.9 2257.5 C1444.1 2253.5 1434.5 2245.3 1430 2243.3 C1425.4 2241.3 1407.9 2237.9 1401.6 2237.6 C1395.4 2237.4 1373.6 2239.1 1367.6 2240.5 C1361.7 2241.9 1345.8 2248.7 1342.1 2251.8 C1338.5 2254.9 1332.2 2269.9 1330.8 2271.6 C1329.4 2273.3 1327.7 2271.6 1328 2268.8 Z" fill="#a55194"/><path d="M1330.8 2271.6 C1331.8 2269.2 1338.5 2254.9 1342.1 2251.8 C1345.8 2248.7 1361.7 2241.9 1367.6 2240.5 C1373.6 2239.1 1395.4 2237.4 1401.6 2237.6 C1407.9 2237.9 1425.4 2241.3 1430 2243.3 C1434.5 2245.3 1444.1 2253.5 1446.9 2257.5 C1449.8 2261.4 1457.4 2280 1458.3 2283 C1459.1 2285.9 1458.3 2289.2 1455.4 2287.2 C1452.6 2285.2 1435.3 2266.4 1430 2263.1 C1424.6 2259.9 1407.3 2255.5 1401.6 2254.6 C1396 2253.8 1379 2253.8 1373.3 2254.6 C1367.6 2255.5 1349.1 2261 1345 2263.1 C1340.9 2265.3 1333.6 2275 1332.2 2275.9 C1330.8 2276.7 1329.8 2274 1330.8 2271.6 Z" fill="#f8c9d4"/><path d="M1332.2 2275.9 C1333.4 2273.3 1340.9 2265.3 1345 2263.1 C1349.1 2261 1367.6 2255.5 1373.3 2254.6 C1379 2253.8 1396 2253.8 1401.6 2254.6 C1407.3 2255.5 1424.6 2259.9 1430 2263.1 C1435.3 2266.4 1455.4 2284.7 1455.4 2287.2 C1455.4 2289.8 1435.3 2289 1430 2288.6 C1424.6 2288.2 1407.3 2283.5 1401.6 2283 C1396 2282.4 1379 2282.7 1373.3 2283 C1367.6 2283.2 1348.9 2285.2 1345 2285.8 C1341 2286.4 1334.9 2289.6 1333.6 2288.6 C1332.4 2287.6 1331.1 2278.4 1332.2 2275.9 Z" fill="#c9efc6"/><path d="M1316.7 2288.6 C1319.5 2286.8 1338.7 2284.8 1345 2284.4 C1351.2 2283.9 1375.6 2282.8 1379 2284.4 C1382.4 2285.9 1382.4 2297.8 1379 2300 C1375.6 2302.1 1351.2 2305.3 1345 2305.6 C1338.7 2305.9 1319.5 2304.5 1316.7 2302.8 C1313.8 2301.1 1313.8 2290.5 1316.7 2288.6 Z" fill="#e0d8ec"/><path d="M1320.4 2271.6 C1321.1 2270.2 1327.6 2268.2 1328.9 2268.8 C1330.2 2269.4 1333.2 2275.7 1333.2 2277.3 C1333.2 2278.8 1330.1 2283.8 1328.9 2284.4 C1327.8 2284.9 1322.7 2284.2 1321.8 2283 C1321 2281.7 1319.7 2273 1320.4 2271.6 Z" fill="#9e1b1b"/><path d="M1311.9 2288.6 C1314.5 2286.9 1331.2 2288.3 1337.4 2288.6 C1343.6 2288.9 1370.6 2289.8 1374.2 2291.5 C1377.9 2293.2 1377.9 2303.9 1374.2 2305.6 C1370.6 2307.3 1343.6 2308.5 1337.4 2308.5 C1331.2 2308.5 1314.5 2307.6 1311.9 2305.6 C1309.4 2303.6 1309.4 2290.3 1311.9 2288.6 Z" fill="#dcd0ea"/><path d="M1164.6 2365.1 C1167.7 2361.7 1182.8 2357.7 1187.3 2356.6 C1191.8 2355.5 1207.1 2352.4 1210 2353.8 C1212.8 2355.2 1216.8 2367.7 1215.6 2370.8 C1214.5 2373.9 1201.5 2381.8 1198.6 2384.9 C1195.8 2388 1189 2398.4 1187.3 2401.9 C1185.6 2405.4 1182.8 2416 1181.6 2420.1 C1180.5 2424.1 1177.9 2437.4 1176 2442.5 C1174 2447.6 1164.1 2467.1 1161.8 2470.8 C1159.5 2474.5 1155 2480.7 1153.3 2479.3 C1151.6 2477.9 1145.9 2463.2 1144.8 2456.7 C1143.7 2450.1 1140.8 2420.8 1142 2414.2 C1143.1 2407.6 1153.9 2395.5 1156.1 2390.6 C1158.4 2385.7 1161.5 2368.5 1164.6 2365.1 Z" fill="#9e1b1b"/><path d="M1188.7 2392.6 C1188.8 2393.3 1188.9 2395 1188.4 2395.4 C1187.8 2395.8 1185.5 2396.1 1184.6 2396 C1183.8 2395.8 1182 2394.6 1181.8 2394.1 C1181.6 2393.5 1182.8 2392.1 1183.2 2391.7 C1183.6 2391.2 1184.4 2390.9 1185 2390.7 C1185.6 2390.6 1187.2 2390.2 1187.7 2390.5 C1188.2 2390.7 1188.6 2392 1188.7 2392.6 Z" fill="#c9efc6"/><path d="M1175 2377.9 C1175 2378.5 1174.4 2379.8 1173.9 2380 C1173.4 2380.2 1172 2379.9 1171.3 2379.7 C1170.6 2379.6 1168.9 2379.4 1168.8 2379.1 C1168.6 2378.8 1170 2377.8 1170.3 2377.3 C1170.6 2376.9 1170.7 2375.7 1171.1 2375.5 C1171.6 2375.3 1173.3 2375.6 1173.8 2375.9 C1174.3 2376.2 1175 2377.4 1175 2377.9 Z" fill="#ffffff"/><path d="M1183.8 2378.2 C1183.8 2378.8 1182.9 2380.2 1182.2 2380.6 C1181.6 2381 1179.7 2381.5 1179 2381.3 C1178.3 2381.2 1177.2 2379.9 1176.9 2379.3 C1176.6 2378.8 1176.4 2377.4 1176.7 2377 C1177 2376.5 1178.5 2375.9 1179.2 2375.8 C1179.9 2375.7 1181.3 2375.8 1181.9 2376.1 C1182.6 2376.4 1183.7 2377.6 1183.8 2378.2 Z" fill="#ffffff"/><path d="M1172.4 2365.7 C1172.2 2366.4 1171.9 2367 1171.4 2367.3 C1171 2367.6 1169.9 2368.2 1169.2 2368.2 C1168.4 2368.2 1166.4 2367.8 1165.9 2367.3 C1165.4 2366.7 1165.3 2364.7 1165.7 2364.1 C1166.1 2363.5 1168.1 2363 1169 2362.8 C1170 2362.6 1172.4 2362.3 1172.9 2362.7 C1173.3 2363.1 1172.6 2365.1 1172.4 2365.7 Z" fill="#c9efc6"/><path d="M1179.1 2369.8 C1179.1 2370.3 1177.7 2371.4 1177.1 2371.6 C1176.5 2371.9 1175.5 2371.6 1174.7 2371.6 C1173.9 2371.5 1171.7 2371.6 1171.3 2371.3 C1171 2370.9 1171.9 2369.2 1172.3 2368.6 C1172.7 2368.1 1173.8 2367.1 1174.4 2367 C1175.1 2366.9 1176.5 2367.5 1177.1 2367.9 C1177.7 2368.2 1179.1 2369.3 1179.1 2369.8 Z" fill="#ffffff"/><path d="M1198.9 2368.7 C1198.9 2369.1 1198.2 2370.2 1197.8 2370.4 C1197.4 2370.5 1196.3 2369.8 1195.8 2369.7 C1195.4 2369.6 1194.4 2369.7 1194.2 2369.4 C1194 2369.2 1193.8 2368.2 1194 2367.9 C1194.2 2367.6 1195.2 2367.3 1195.7 2367.2 C1196.2 2367.1 1197.2 2367 1197.6 2367.2 C1198.1 2367.4 1198.9 2368.3 1198.9 2368.7 Z" fill="#c9efc6"/><path d="M1164.6 2417 C1166.6 2409.1 1182.8 2396.6 1187.3 2391.5 C1191.8 2386.4 1205.4 2368.3 1210 2366 C1214.5 2363.7 1230.1 2359.8 1232.6 2368.8 C1235.2 2377.9 1235 2440.8 1235.4 2456.7 C1235.9 2472.5 1238.3 2519.4 1236.9 2527.5 C1235.4 2535.5 1226.2 2538.7 1221.3 2537.4 C1216.3 2536.1 1192.7 2521.4 1187.3 2514.7 C1181.9 2508.1 1169.7 2480.6 1167.5 2470.8 C1165.2 2461 1162.6 2424.9 1164.6 2417 Z" fill="#8c8c28"/><path d="M1176 2417 C1177.9 2407.9 1194.4 2392.6 1198.6 2388.7 C1202.9 2384.7 1215.9 2372 1218.5 2377.3 C1221 2382.7 1223.8 2431.7 1224.1 2442.5 C1224.4 2453.3 1222 2477.9 1221.3 2485 C1220.6 2492.1 1219.3 2510.9 1217 2513.3 C1214.8 2515.7 1202.4 2512.5 1198.6 2509.1 C1194.8 2505.7 1181.1 2488.5 1178.8 2479.3 C1176.5 2470.1 1174 2426.1 1176 2417 Z" fill="#6b3a2a"/></g><g transform="matrix(-1 0 0 1 2980 0)"><path d="M1490 2172 C1487.5 2119.7 1470.3 2169.7 1465 2170 C1459.7 2170.3 1442.7 2174.3 1437 2175 C1431.3 2175.7 1416.5 2176.5 1408 2177 C1399.5 2177.5 1363.3 2179.5 1352 2180 C1340.7 2180.5 1303.5 2181.5 1295 2182 C1286.5 2182.5 1272.5 2184.3 1267 2185 C1261.5 2185.7 1245.4 2187.9 1240 2189 C1234.6 2190.1 1218.4 2194.2 1213 2196 C1207.6 2197.8 1191.3 2204.3 1186 2207 C1180.7 2209.7 1164.5 2219.7 1160 2223 C1155.5 2226.3 1144.4 2236.4 1141 2240 C1137.6 2243.6 1128.6 2254.7 1126 2259 C1123.4 2263.3 1117 2278.4 1115 2283 C1113 2287.6 1107.7 2300.1 1106 2305 C1104.3 2309.9 1099.4 2326.5 1098 2332 C1096.6 2337.5 1093.4 2354.4 1092 2360 C1090.6 2365.6 1085.6 2381.8 1084 2388 C1082.4 2394.2 1077.4 2415.1 1076 2422 C1074.6 2428.9 1071.2 2448 1070 2457 C1068.8 2466 1064.3 2503.4 1064 2512 C1063.7 2520.6 1065.6 2537.7 1067 2543 C1068.4 2548.3 1075.5 2558.9 1078 2565 C1080.5 2571.1 1088.5 2597.9 1092 2604 C1095.5 2610.1 1108.9 2621.9 1113 2626 C1117.1 2630.1 1127.9 2640.4 1133 2645 C1138.1 2649.6 1156.1 2668.4 1164 2672 C1171.9 2675.6 1201.7 2679.8 1212 2681 C1222.3 2682.2 1256 2683.4 1267 2684 C1278 2684.6 1312.5 2687.8 1322 2687 C1331.5 2686.2 1356.2 2678.1 1362 2676 C1367.8 2673.9 1376.2 2665.6 1380 2666 C1383.8 2666.4 1394.3 2677.6 1400 2680 C1405.7 2682.4 1428 2688.7 1437 2690 C1446 2691.3 1484.7 2744.8 1490 2693 C1495.3 2641.2 1492.5 2224.3 1490 2172 Z" fill="#98df8a"/><path d="M1289.3 2189.5 C1292.7 2186.9 1315.6 2184.5 1323.3 2183.8 C1330.9 2183.1 1358.7 2182.1 1365.7 2182.4 C1372.8 2182.7 1391 2184.5 1394.1 2186.7 C1397.2 2188.8 1398.3 2200 1396.9 2203.6 C1395.5 2207.3 1384.4 2220.9 1379.9 2223.5 C1375.4 2226 1357.2 2228.3 1351.6 2229.1 C1345.9 2230 1328.4 2232.3 1323.3 2232 C1318.2 2231.7 1304 2228.6 1300.6 2226.3 C1297.2 2224 1290.4 2213 1289.3 2209.3 C1288.1 2205.6 1285.9 2192 1289.3 2189.5 Z" fill="#bcbd22"/><path d="M1430.9 2186.7 C1434 2185.1 1454.7 2184.7 1459.2 2185.2 C1463.7 2185.8 1474.5 2189.6 1476.2 2192.3 C1477.9 2195 1478.2 2209.9 1476.2 2212.1 C1474.2 2214.4 1460.3 2215 1456.4 2215 C1452.4 2215 1439.4 2213.6 1436.6 2212.1 C1433.7 2210.7 1428.6 2203.4 1428.1 2200.8 C1427.5 2198.3 1427.8 2188.2 1430.9 2186.7 Z" fill="#bcbd22"/><path d="M1341.1 2208.8 C1341 2209.7 1340.3 2211.2 1339.5 2211.7 C1338.8 2212.2 1336.4 2212.8 1335.6 2212.6 C1334.8 2212.4 1333.9 2210.8 1333.5 2210.1 C1333.1 2209.3 1332.3 2207.9 1332.6 2207.3 C1332.8 2206.6 1334.6 2205.2 1335.6 2205 C1336.6 2204.7 1339.4 2204.9 1340.1 2205.4 C1340.8 2205.9 1341.2 2208 1341.1 2208.8 Z" fill="#98df8a"/><path d="M1340.5 2192.3 C1340.5 2192.9 1339.1 2194.3 1338.4 2194.6 C1337.7 2195 1335.9 2195.3 1335.3 2195.1 C1334.6 2195 1333.5 2193.9 1333.2 2193.4 C1332.9 2192.8 1332.8 2191.7 1333.1 2191.1 C1333.3 2190.6 1334.5 2189.3 1335.2 2189.1 C1335.9 2189 1337.7 2189.5 1338.4 2189.9 C1339.2 2190.3 1340.5 2191.6 1340.5 2192.3 Z" fill="#98df8a"/><path d="M1379 2189.2 C1379 2189.5 1378.2 2190.2 1377.8 2190.5 C1377.4 2190.8 1376.3 2191.1 1375.9 2191 C1375.5 2190.9 1375 2190.1 1374.9 2189.8 C1374.7 2189.4 1374.3 2188.7 1374.5 2188.4 C1374.7 2188.2 1375.7 2188 1376.1 2187.9 C1376.5 2187.9 1377 2188 1377.4 2188.1 C1377.8 2188.3 1378.9 2188.8 1379 2189.2 Z" fill="#98df8a"/><path d="M1344.3 2212.9 C1344.5 2213.5 1344.9 2215.2 1344.4 2215.7 C1343.9 2216.1 1341.5 2216.5 1340.7 2216.3 C1339.8 2216.2 1338.3 2214.9 1338 2214.3 C1337.7 2213.7 1337.9 2212.1 1338.3 2211.6 C1338.7 2211.2 1340.4 2210.8 1341 2210.8 C1341.7 2210.7 1342.8 2211 1343.2 2211.3 C1343.7 2211.6 1344.2 2212.3 1344.3 2212.9 Z" fill="#98df8a"/><path d="M1302.4 2190.9 C1302.4 2191.3 1302 2191.7 1301.7 2192 C1301.3 2192.3 1300.3 2193.4 1299.9 2193.3 C1299.5 2193.3 1299 2192.2 1298.6 2191.7 C1298.3 2191.2 1297.1 2190 1297.3 2189.7 C1297.5 2189.4 1299.5 2189.5 1300.2 2189.5 C1300.8 2189.5 1301.8 2189.2 1302.1 2189.4 C1302.4 2189.6 1302.5 2190.6 1302.4 2190.9 Z" fill="#98df8a"/><path d="M1336 2209.1 C1336.1 2209.4 1335 2210.2 1334.6 2210.5 C1334.2 2210.7 1333.2 2210.9 1332.8 2210.8 C1332.4 2210.7 1332 2210 1331.8 2209.7 C1331.6 2209.3 1331.1 2208.7 1331.2 2208.3 C1331.3 2207.9 1332.1 2206.6 1332.5 2206.6 C1333 2206.5 1333.9 2207.6 1334.4 2208 C1334.8 2208.3 1336 2208.8 1336 2209.1 Z" fill="#98df8a"/><path d="M1342.7 2213.7 C1342.7 2214.3 1342.8 2215.5 1342.3 2215.8 C1341.9 2216.1 1340.2 2216.1 1339.6 2216 C1339.1 2215.8 1338.4 2214.9 1338.2 2214.5 C1338 2214.1 1338.1 2213.3 1338.3 2212.9 C1338.5 2212.6 1339.2 2212.1 1339.8 2211.9 C1340.3 2211.8 1342 2211.4 1342.4 2211.6 C1342.7 2211.9 1342.7 2213.1 1342.7 2213.7 Z" fill="#98df8a"/><path d="M1321.1 2225.2 C1321.3 2225.8 1321.5 2228.2 1320.9 2228.5 C1320.3 2228.9 1317.7 2228 1316.8 2227.7 C1315.9 2227.5 1314.6 2227.1 1314.1 2226.5 C1313.5 2225.9 1312.5 2224 1312.8 2223.3 C1313.1 2222.7 1315.6 2221.5 1316.5 2221.5 C1317.4 2221.5 1318.8 2222.8 1319.4 2223.3 C1320 2223.8 1320.9 2224.5 1321.1 2225.2 Z" fill="#98df8a"/><path d="M1315.2 2196.9 C1315.1 2197.6 1314.3 2198.8 1313.8 2199.1 C1313.2 2199.4 1311.6 2199.2 1311 2199.1 C1310.4 2198.9 1309.5 2198.4 1309 2197.9 C1308.6 2197.4 1307.4 2195.9 1307.7 2195.4 C1307.9 2194.9 1310 2194.5 1310.9 2194.3 C1311.8 2194.1 1313.8 2193.8 1314.4 2194.1 C1314.9 2194.5 1315.3 2196.2 1315.2 2196.9 Z" fill="#98df8a"/><path d="M1358.9 2191.7 C1358.8 2192.2 1356.8 2193 1356.1 2193.3 C1355.4 2193.7 1354.4 2194.3 1353.7 2194.2 C1353.1 2194.2 1351.2 2193.5 1350.9 2193.1 C1350.7 2192.6 1351.3 2191.1 1351.7 2190.6 C1352.1 2190.2 1353.1 2189.6 1353.8 2189.5 C1354.5 2189.3 1356.2 2189 1356.9 2189.3 C1357.6 2189.6 1359 2191.2 1358.9 2191.7 Z" fill="#98df8a"/><path d="M1144.8 2226.3 C1147.4 2222.9 1162.1 2217 1167.5 2215 C1172.8 2213 1193.2 2207.9 1198.6 2206.5 C1204 2205.1 1219.6 2199.4 1221.3 2200.8 C1223 2202.2 1219 2217.2 1215.6 2220.6 C1212.2 2224 1192.7 2231.7 1187.3 2234.8 C1181.9 2237.9 1166.3 2250.4 1161.8 2251.8 C1157.3 2253.2 1143.7 2251.5 1142 2249 C1140.3 2246.4 1142.3 2229.7 1144.8 2226.3 Z" fill="#ff9896"/><path d="M1183.4 2234.3 C1183.3 2234.8 1182.8 2235.3 1182.4 2235.6 C1182 2235.9 1180.9 2236.6 1180.5 2236.6 C1180 2236.5 1179.1 2235.7 1178.7 2235.3 C1178.3 2234.8 1177.4 2233.5 1177.6 2233 C1177.8 2232.5 1179.5 2231.6 1180.3 2231.5 C1181 2231.4 1182.8 2231.8 1183.2 2232.2 C1183.6 2232.6 1183.5 2233.9 1183.4 2234.3 Z" fill="#2ca02c"/><path d="M1164.5 2251.3 C1164.4 2251.8 1164.2 2252.8 1163.8 2253.2 C1163.3 2253.5 1161.7 2254.2 1161.1 2254.1 C1160.5 2254 1159.7 2252.8 1159.4 2252.2 C1159.1 2251.7 1158.5 2250.5 1158.8 2250.1 C1159 2249.6 1160.5 2249.2 1161.2 2249.1 C1162 2248.9 1163.7 2248.7 1164.2 2249 C1164.6 2249.3 1164.5 2250.7 1164.5 2251.3 Z" fill="#9467bd"/><path d="M1189.5 2226.7 C1189.6 2227 1189.1 2227.9 1188.7 2228.1 C1188.3 2228.3 1187.3 2228.3 1186.8 2228.2 C1186.4 2228.2 1185.5 2227.8 1185.3 2227.4 C1185.1 2227.1 1185.2 2226.3 1185.3 2225.9 C1185.5 2225.6 1186.4 2224.9 1186.8 2224.9 C1187.1 2224.9 1187.8 2225.5 1188.2 2225.8 C1188.5 2226 1189.4 2226.4 1189.5 2226.7 Z" fill="#9467bd"/><path d="M1175.7 2219.3 C1175.6 2219.8 1174 2220.5 1173.5 2220.8 C1172.9 2221 1172 2221.4 1171.5 2221.3 C1170.9 2221.3 1169.8 2220.7 1169.5 2220.3 C1169.1 2219.9 1168.9 2218.7 1169.1 2218.2 C1169.4 2217.7 1170.5 2216.4 1171.2 2216.3 C1171.8 2216.1 1173.5 2216.9 1174.1 2217.3 C1174.7 2217.7 1175.8 2218.9 1175.7 2219.3 Z" fill="#9467bd"/><path d="M1163.1 2231.8 C1162.9 2232.3 1162.3 2232.9 1161.9 2233.2 C1161.4 2233.5 1160.4 2234 1159.8 2233.9 C1159.2 2233.9 1157.9 2233.3 1157.6 2232.9 C1157.3 2232.4 1157.2 2231.1 1157.4 2230.6 C1157.7 2230.1 1158.9 2229.2 1159.6 2229 C1160.4 2228.8 1162.4 2229 1162.9 2229.3 C1163.3 2229.7 1163.2 2231.3 1163.1 2231.8 Z" fill="#2ca02c"/><path d="M1170 2225.1 C1170.1 2225.9 1170 2227.9 1169.5 2228.2 C1168.9 2228.5 1166.7 2227.5 1165.7 2227.3 C1164.7 2227.1 1162.3 2227.2 1162 2226.8 C1161.6 2226.3 1162.8 2224.5 1163.3 2223.9 C1163.8 2223.4 1165 2223.1 1165.7 2222.9 C1166.5 2222.6 1168.5 2222 1169.1 2222.3 C1169.7 2222.6 1170 2224.3 1170 2225.1 Z" fill="#2ca02c"/><path d="M1173.3 2241 C1173.2 2241.6 1171.8 2242.3 1171.2 2242.7 C1170.6 2243.1 1169.3 2243.8 1168.7 2243.7 C1168 2243.7 1166.7 2242.7 1166.4 2242.1 C1166 2241.6 1165.7 2240.1 1166 2239.6 C1166.4 2239.2 1168 2238.9 1168.8 2238.7 C1169.7 2238.5 1171.8 2237.8 1172.3 2238.1 C1172.9 2238.4 1173.5 2240.3 1173.3 2241 Z" fill="#2ca02c"/><path d="M1166.6 2235.7 C1166.7 2236.3 1167.3 2237.9 1166.9 2238.2 C1166.5 2238.6 1164.3 2238.2 1163.6 2238 C1163 2237.8 1162.2 2237 1162 2236.6 C1161.7 2236.1 1161.4 2235.2 1161.5 2234.6 C1161.7 2234 1162.7 2232.4 1163.3 2232.3 C1164 2232.1 1166 2233.1 1166.4 2233.5 C1166.8 2234 1166.6 2235 1166.6 2235.7 Z" fill="#2ca02c"/><path d="M1196.1 2220.4 C1196.1 2220.7 1195 2221.3 1194.6 2221.5 C1194.3 2221.6 1193.6 2221.6 1193.3 2221.6 C1193 2221.5 1192.4 2221.2 1192.3 2220.9 C1192.2 2220.7 1192.1 2220.2 1192.2 2219.9 C1192.4 2219.6 1192.8 2218.9 1193.1 2218.8 C1193.5 2218.8 1194.3 2219.2 1194.7 2219.4 C1195.1 2219.6 1196.1 2220.2 1196.1 2220.4 Z" fill="#ff7f0e"/><path d="M1184.9 2232 C1184.9 2232.4 1184.4 2233.3 1184 2233.6 C1183.6 2233.9 1182.3 2234 1181.9 2233.9 C1181.5 2233.7 1181.2 2232.9 1181 2232.5 C1180.8 2232.2 1180.4 2231.5 1180.6 2231.3 C1180.7 2231 1181.6 2230.8 1182.1 2230.7 C1182.5 2230.7 1183.3 2230.5 1183.7 2230.7 C1184 2230.9 1184.8 2231.6 1184.9 2232 Z" fill="#2ca02c"/><path d="M1122.1 2263.1 C1125.4 2261.7 1134.4 2257.9 1142 2254.6 C1149.5 2251.3 1158 2247.1 1167.5 2243.3 C1176.9 2239.5 1186.8 2235.7 1198.6 2232 C1210.4 2228.2 1224.6 2224.9 1238.3 2220.6 C1252 2216.4 1269 2209.8 1280.8 2206.5 C1292.6 2203.2 1304.4 2201.8 1309.1 2200.8" fill="none" stroke="#2ca02c" stroke-width="4" stroke-linecap="round"/><path d="M1147.6 2254.6 C1148.5 2252.4 1169.7 2244.3 1176 2241.9 C1182.2 2239.5 1202.3 2232.3 1210 2230.6 C1217.6 2228.9 1245.4 2225.6 1252.4 2224.9 C1259.5 2224.2 1275.1 2222.8 1280.8 2223.5 C1286.4 2224.2 1304.6 2230.6 1309.1 2232 C1313.6 2233.4 1326.1 2235.9 1326.1 2237.6 C1326.1 2239.3 1313.6 2247.5 1309.1 2249 C1304.6 2250.4 1287.8 2251.4 1280.8 2252.4 C1273.7 2253.4 1245.4 2257.1 1238.3 2258.9 C1231.2 2260.7 1214.3 2267.2 1210 2270.2 C1205.6 2273.2 1196.6 2285.5 1194.4 2288.6 C1192.1 2291.7 1189.1 2301.4 1187.3 2301.4 C1185.5 2301.4 1177.9 2292.3 1176 2288.6 C1174 2284.9 1170.3 2267.9 1167.5 2264.5 C1164.6 2261.1 1146.8 2256.9 1147.6 2254.6 Z" fill="#1b5e8c"/><path d="M1394.1 2188.1 C1396.6 2186.3 1417.3 2181.9 1422.4 2181.6 C1427.5 2181.2 1443.6 2182.6 1445.1 2184.4 C1446.5 2186.2 1439.7 2197.6 1436.6 2199.4 C1433.4 2201.2 1417.9 2202.2 1413.9 2202.2 C1409.9 2202.2 1398.9 2200.8 1396.9 2199.4 C1394.9 2198 1391.5 2189.9 1394.1 2188.1 Z" fill="#1b5e8c"/><path d="M1096.7 2305.6 C1098.9 2300 1109.4 2281.5 1113.6 2277.3 C1117.9 2273 1132.9 2265.1 1139.1 2263.1 C1145.4 2261.1 1170 2257.7 1176 2257.5 C1181.9 2257.2 1196.9 2257.2 1198.6 2260.3 C1200.3 2263.4 1195.5 2284.1 1193 2288.6 C1190.4 2293.2 1176.5 2301.7 1173.1 2305.6 C1169.7 2309.6 1161.5 2323.2 1159 2328.3 C1156.4 2333.4 1149.9 2350.9 1147.6 2356.6 C1145.4 2362.3 1138.6 2378.6 1136.3 2384.9 C1134 2391.3 1126.4 2414.3 1125 2420.1 C1123.6 2425.8 1123 2437.4 1122.1 2442.5 C1121.3 2447.6 1121 2468 1116.5 2470.8 C1111.9 2473.6 1080.2 2475.1 1076.8 2470.8 C1073.4 2466.6 1081.6 2433.4 1082.5 2428.3 C1083.3 2423.2 1084.8 2425.8 1085.3 2420.1 C1085.9 2414.3 1087.6 2379.4 1088.2 2370.8 C1088.7 2362.2 1090.1 2340.5 1091 2333.9 C1091.8 2327.4 1094.4 2311.3 1096.7 2305.6 Z" fill="#bcbd22"/><path d="M1114.5 2368.9 C1114.5 2369.4 1111.8 2370.7 1111 2371 C1110.1 2371.4 1108.7 2371.8 1108 2371.7 C1107.3 2371.6 1106.1 2370.6 1105.8 2370 C1105.5 2369.5 1105.3 2368.3 1105.6 2367.6 C1105.8 2366.9 1106.9 2364.9 1107.6 2364.8 C1108.3 2364.7 1109.9 2366.3 1110.8 2366.8 C1111.7 2367.4 1114.4 2368.3 1114.5 2368.9 Z" fill="#98df8a"/><path d="M1104.5 2368.7 C1104.7 2369.7 1102.3 2372.7 1101.2 2373.1 C1100 2373.5 1097.3 2372.1 1095.9 2371.8 C1094.5 2371.5 1091.3 2371.9 1090.5 2371.1 C1089.8 2370.4 1089.5 2367 1090.2 2366.2 C1090.9 2365.4 1094.4 2365.2 1095.7 2365 C1097.1 2364.9 1099 2364.8 1100.2 2365.3 C1101.4 2365.8 1104.4 2367.7 1104.5 2368.7 Z" fill="#98df8a"/><path d="M1113 2395.7 C1113.1 2396.2 1111.7 2397.7 1111 2398.1 C1110.3 2398.5 1108.5 2398.6 1107.8 2398.4 C1107.1 2398.3 1105.9 2397.4 1105.5 2396.8 C1105.2 2396.3 1105.1 2394.9 1105.4 2394.4 C1105.7 2393.9 1107.2 2393.2 1107.9 2393.1 C1108.5 2393.1 1109.6 2393.6 1110.3 2394 C1111 2394.3 1112.9 2395.1 1113 2395.7 Z" fill="#98df8a"/><path d="M1151.4 2347.6 C1151.5 2348.3 1151.9 2350.5 1151.3 2350.9 C1150.7 2351.4 1147.8 2351.4 1146.9 2351.1 C1146.1 2350.8 1145 2349.5 1144.7 2348.8 C1144.4 2348.2 1144.3 2347 1144.6 2346.3 C1144.9 2345.6 1146.1 2344 1146.9 2343.8 C1147.6 2343.7 1149.8 2344.6 1150.4 2345.1 C1151 2345.6 1151.3 2346.8 1151.4 2347.6 Z" fill="#98df8a"/><path d="M1114.6 2303 C1114.7 2303.9 1113.4 2305.9 1112.5 2306.4 C1111.6 2307 1109.1 2307.5 1107.8 2307.3 C1106.5 2307.2 1103.5 2306.2 1102.9 2305.4 C1102.4 2304.5 1102.9 2301.6 1103.6 2300.9 C1104.3 2300.2 1107 2300.1 1108.2 2300 C1109.3 2299.9 1111.3 2299.5 1112.2 2299.9 C1113 2300.3 1114.6 2302.1 1114.6 2303 Z" fill="#98df8a"/><path d="M1124.3 2374.3 C1124.2 2375.1 1123.8 2376.2 1123.1 2376.9 C1122.5 2377.5 1120.3 2379.6 1119.2 2379.6 C1118 2379.5 1115 2377.7 1114.5 2376.7 C1114 2375.7 1114.5 2373 1115.2 2372.3 C1115.9 2371.5 1118.6 2371.3 1119.7 2371.2 C1120.9 2371 1123.2 2370.7 1123.8 2371.2 C1124.4 2371.6 1124.3 2373.6 1124.3 2374.3 Z" fill="#98df8a"/><path d="M1107.6 2396.3 C1107.5 2396.8 1105.9 2397.3 1105.2 2397.8 C1104.6 2398.2 1103.4 2399.8 1102.7 2399.8 C1102.1 2399.7 1100.8 2398.1 1100.5 2397.5 C1100.2 2396.9 1099.9 2395.4 1100.2 2394.9 C1100.6 2394.5 1102.4 2394.3 1103.1 2394.2 C1103.9 2394.1 1105.4 2393.7 1106 2394 C1106.6 2394.3 1107.7 2395.8 1107.6 2396.3 Z" fill="#98df8a"/><path d="M1120.6 2375.8 C1120.5 2376.3 1119.9 2376.9 1119.4 2377.3 C1118.9 2377.7 1117.6 2378.7 1117.1 2378.6 C1116.6 2378.5 1116 2377.1 1115.8 2376.6 C1115.6 2376.1 1115.4 2375.2 1115.6 2374.9 C1115.8 2374.6 1116.8 2374.3 1117.4 2374.1 C1118 2373.9 1119.7 2373.3 1120.1 2373.6 C1120.5 2373.8 1120.7 2375.3 1120.6 2375.8 Z" fill="#98df8a"/><path d="M1145.8 2343.1 C1145.8 2343.5 1145.5 2344.1 1145.2 2344.5 C1144.8 2344.8 1143.6 2345.6 1143.1 2345.5 C1142.6 2345.4 1141.8 2344.4 1141.5 2343.9 C1141.3 2343.5 1141.1 2342.6 1141.3 2342.1 C1141.5 2341.7 1142.6 2340.7 1143.1 2340.6 C1143.6 2340.5 1144.9 2341.2 1145.3 2341.6 C1145.7 2341.9 1145.9 2342.7 1145.8 2343.1 Z" fill="#98df8a"/><path d="M1135.9 2334.6 C1135.8 2335.2 1134.6 2335.9 1134 2336.4 C1133.3 2336.9 1132.1 2338 1131.2 2338 C1130.2 2338.1 1127.4 2337.3 1126.9 2336.6 C1126.4 2335.9 1126.9 2333.4 1127.4 2332.8 C1128 2332.1 1130.3 2331.9 1131.3 2331.7 C1132.4 2331.5 1134.7 2331 1135.3 2331.4 C1135.9 2331.8 1136.1 2333.9 1135.9 2334.6 Z" fill="#98df8a"/><path d="M1111.4 2353.1 C1111.4 2353.5 1110.9 2354.5 1110.5 2354.8 C1110 2355 1108.8 2355.1 1108.2 2355.1 C1107.6 2355 1106.3 2354.4 1106.1 2354.1 C1106 2353.7 1106.6 2352.8 1106.8 2352.3 C1107.1 2351.9 1107.6 2350.8 1108.1 2350.7 C1108.5 2350.6 1109.7 2351.3 1110.2 2351.7 C1110.6 2352 1111.4 2352.7 1111.4 2353.1 Z" fill="#98df8a"/><path d="M1159.3 2288.4 C1159.4 2288.9 1158.1 2290.1 1157.5 2290.5 C1156.9 2290.8 1155.5 2291 1154.8 2290.9 C1154.1 2290.8 1152.5 2290.1 1152.3 2289.7 C1152 2289.2 1152.7 2288.1 1153 2287.5 C1153.3 2286.8 1153.9 2284.8 1154.4 2284.7 C1155 2284.6 1156.5 2286.3 1157.1 2286.8 C1157.8 2287.3 1159.3 2287.9 1159.3 2288.4 Z" fill="#98df8a"/><path d="M1107.3 2306.8 C1107.3 2307.2 1107 2308 1106.6 2308.3 C1106.2 2308.6 1105 2309.2 1104.4 2309.1 C1103.8 2309.1 1102.6 2308.4 1102.2 2307.9 C1101.8 2307.4 1101 2305.9 1101.2 2305.3 C1101.5 2304.7 1103.4 2303.2 1104.1 2303.2 C1104.8 2303.2 1106.1 2304.9 1106.5 2305.4 C1106.9 2305.9 1107.3 2306.4 1107.3 2306.8 Z" fill="#98df8a"/><path d="M1101.1 2388.1 C1101.2 2388.6 1099.7 2389.9 1099.1 2390.2 C1098.5 2390.4 1097 2390.1 1096.5 2389.9 C1096 2389.7 1095.5 2389.2 1095.3 2388.8 C1095 2388.5 1094.6 2387.8 1094.8 2387.2 C1094.9 2386.7 1095.7 2385.1 1096.2 2385 C1096.7 2385 1097.8 2386.3 1098.5 2386.7 C1099.1 2387.1 1101 2387.7 1101.1 2388.1 Z" fill="#98df8a"/><path d="M1173.4 2268.9 C1173.3 2269.4 1171.5 2269.9 1171 2270.1 C1170.4 2270.4 1169.9 2270.7 1169.3 2270.7 C1168.7 2270.7 1166.8 2270.5 1166.5 2270.2 C1166.3 2269.8 1167.3 2268.6 1167.7 2268.1 C1168 2267.6 1168.4 2266.3 1169 2266.2 C1169.6 2266 1171.4 2266.4 1171.9 2266.7 C1172.5 2267.1 1173.5 2268.5 1173.4 2268.9 Z" fill="#98df8a"/><path d="M1143.9 2358.4 C1143.8 2359 1140.5 2360.3 1139.6 2360.6 C1138.6 2361 1137.4 2361.3 1136.5 2361.3 C1135.5 2361.2 1133.2 2360.9 1132.6 2360.2 C1131.9 2359.5 1131.2 2357 1131.6 2356.2 C1132.1 2355.4 1135 2354.4 1136.1 2354.3 C1137.2 2354.2 1139 2355.1 1140 2355.7 C1141 2356.2 1143.9 2357.7 1143.9 2358.4 Z" fill="#98df8a"/><path d="M1113.1 2318.1 C1112.9 2318.8 1111.9 2319.7 1111.1 2320.2 C1110.4 2320.8 1108.6 2322.5 1107.7 2322.4 C1106.9 2322.3 1105.2 2320.4 1104.9 2319.6 C1104.6 2318.9 1105.1 2317.4 1105.5 2316.7 C1105.9 2316 1106.9 2314.7 1107.9 2314.3 C1108.8 2314 1112 2313.8 1112.7 2314.3 C1113.4 2314.8 1113.3 2317.3 1113.1 2318.1 Z" fill="#98df8a"/><path d="M1153.6 2304.7 C1153.6 2305.4 1153.4 2306.6 1152.8 2307.3 C1152.1 2307.9 1149.7 2309.9 1148.8 2309.8 C1147.9 2309.7 1146.3 2307.2 1146 2306.3 C1145.7 2305.4 1146.2 2304.1 1146.6 2303.3 C1147 2302.5 1148.1 2300.4 1148.9 2300.2 C1149.8 2300 1152.5 2301.2 1153.1 2301.8 C1153.7 2302.4 1153.7 2304 1153.6 2304.7 Z" fill="#98df8a"/><path d="M1135.4 2344 C1135.4 2344.6 1136 2346.1 1135.5 2346.5 C1135.1 2346.9 1133 2347.2 1132.2 2347.1 C1131.3 2346.9 1129.7 2345.9 1129.5 2345.4 C1129.3 2344.8 1130.2 2343.5 1130.6 2343.1 C1131 2342.7 1131.9 2342.5 1132.5 2342.3 C1133.2 2342.1 1134.9 2341.5 1135.3 2341.7 C1135.7 2341.9 1135.4 2343.4 1135.4 2344 Z" fill="#98df8a"/><path d="M1133 2382 C1133 2382.5 1130.1 2383.3 1129.2 2383.9 C1128.2 2384.6 1126.8 2386.8 1126 2386.7 C1125.2 2386.7 1123.6 2384.5 1123.2 2383.6 C1122.8 2382.8 1122.7 2381 1123.1 2380.4 C1123.6 2379.9 1125.8 2379.5 1126.6 2379.4 C1127.4 2379.4 1128.3 2379.9 1129.1 2380.2 C1130 2380.6 1133 2381.6 1133 2382 Z" fill="#98df8a"/><path d="M1117 2401.4 C1117 2402.2 1116.7 2404 1116.1 2404.3 C1115.5 2404.6 1113.4 2403.9 1112.5 2403.7 C1111.6 2403.5 1109.6 2403.4 1109.1 2402.9 C1108.7 2402.4 1109 2400.5 1109.4 2399.9 C1109.8 2399.3 1111.4 2398.8 1112.4 2398.6 C1113.3 2398.4 1115.7 2397.8 1116.3 2398.2 C1117 2398.6 1117 2400.6 1117 2401.4 Z" fill="#98df8a"/><path d="M1117.5 2358.2 C1117.5 2358.8 1115.8 2360.2 1114.9 2360.8 C1114.1 2361.3 1112 2362.4 1111.2 2362.2 C1110.4 2362 1109.4 2360.1 1109.2 2359.4 C1109 2358.7 1109.5 2357.7 1109.8 2357.2 C1110.1 2356.7 1111 2356 1111.7 2355.8 C1112.3 2355.6 1113.9 2355.5 1114.7 2355.8 C1115.5 2356.1 1117.4 2357.5 1117.5 2358.2 Z" fill="#98df8a"/><path d="M1150 2440 C1147.7 2434.7 1161.7 2387 1165 2380 C1168.3 2373 1194.3 2340 1200 2335 C1205.7 2330 1243.3 2308 1250 2305 C1256.7 2302 1293.3 2291.7 1300 2290 C1306.7 2288.3 1337 2280.7 1350 2280 C1363 2279.3 1485.3 2256 1495 2280 C1504.7 2304 1501.3 2616 1495 2640 C1488.7 2664 1410.3 2645.3 1400 2640 C1389.7 2634.7 1346.7 2569.3 1340 2560 C1333.3 2550.7 1306 2506 1300 2500 C1294 2494 1256.7 2472.7 1250 2470 C1243.3 2467.3 1206.7 2462 1200 2460 C1193.3 2458 1152.3 2445.3 1150 2440 Z" fill="#aec7e8"/><path d="M1302.5 2277.3 C1302 2274 1308.9 2253.2 1311 2249 C1313.1 2244.7 1322.8 2229.4 1328 2226.3 C1333.2 2223.2 1366 2214 1373.3 2212.1 C1380.6 2210.3 1408.7 2204 1415.8 2204.2 C1422.9 2204.4 1453.3 2213.4 1458.3 2215 C1463.2 2216.6 1472.6 2223.5 1475.3 2223.5 C1478 2223.5 1489.6 2208.6 1490.9 2215 C1492.2 2221.3 1495.9 2293.8 1490.9 2300 C1485.8 2306.1 1439.7 2289.6 1430 2288.6 C1420.2 2287.7 1382.7 2288.6 1373.3 2288.6 C1363.9 2288.6 1322.6 2289.6 1316.7 2288.6 C1310.7 2287.7 1303 2280.6 1302.5 2277.3 Z" fill="#c7c7c7"/><path d="M1074 2479.3 C1076.5 2475.1 1091.6 2470.2 1096.7 2470.8 C1101.7 2471.4 1119.3 2482.7 1125 2485 C1130.6 2487.2 1147.6 2489.2 1153.3 2493.5 C1159 2497.7 1176 2520.9 1181.6 2527.5 C1187.3 2534 1204.3 2552.1 1210 2558.6 C1215.6 2565.1 1232.6 2586.4 1238.3 2592.6 C1243.9 2598.8 1259.5 2617 1266.6 2620.9 C1273.7 2624.9 1300.6 2630.3 1309.1 2632.3 C1317.6 2634.3 1344.5 2637.7 1351.6 2640.8 C1358.7 2643.9 1377.4 2659.5 1379.9 2663.4 C1382.5 2667.4 1379.9 2678.2 1377.1 2680.4 C1374.2 2682.7 1359.8 2685.4 1351.6 2686.1 C1343.4 2686.8 1306.3 2687.6 1294.9 2687.5 C1283.6 2687.4 1249.6 2685.5 1238.3 2684.7 C1226.9 2683.8 1190.1 2681 1181.6 2679 C1173.1 2677 1159 2668.4 1153.3 2664.8 C1147.6 2661.3 1130.6 2649.7 1125 2643.6 C1119.3 2637.5 1100.9 2612.4 1096.7 2603.9 C1092.4 2595.4 1085 2567.7 1082.5 2558.6 C1079.9 2549.6 1072 2521.2 1071.2 2513.3 C1070.3 2505.4 1071.4 2483.6 1074 2479.3 Z" fill="#ff7f0e"/><path d="M1071.2 2470.8 C1070.7 2477.9 1067.4 2498.7 1068.3 2513.3 C1069.3 2527.9 1073 2544.5 1076.8 2558.6 C1080.6 2572.8 1084.8 2585.5 1091 2598.3 C1097.1 2611 1105.1 2624.7 1113.6 2635.1 C1122.1 2645.5 1132.1 2654 1142 2660.6 C1151.9 2667.2 1159.4 2671.2 1173.1 2674.8 C1186.8 2678.3 1206.2 2680.2 1224.1 2681.8 C1242.1 2683.5 1261.9 2684.2 1280.8 2684.7 C1299.6 2685.1 1322.3 2685.6 1337.4 2684.7 C1352.5 2683.7 1365.7 2679.9 1371.4 2679" fill="none" stroke="#2ca02c" stroke-width="6"/><path d="M1153.3 2493.5 C1154.2 2489.9 1171.4 2498.6 1176 2502 C1180.5 2505.4 1193.8 2521.8 1198.6 2527.5 C1203.4 2533.1 1218.7 2552.1 1224.1 2558.6 C1229.5 2565.1 1246.8 2586.4 1252.4 2592.6 C1258.1 2598.8 1273.7 2616.7 1280.8 2620.9 C1287.8 2625.2 1314.8 2631.7 1323.3 2635.1 C1331.8 2638.5 1361.2 2650.7 1365.7 2654.9 C1370.3 2659.2 1371.4 2674.8 1368.6 2677.6 C1365.7 2680.4 1343.4 2684.2 1337.4 2683.3 C1331.5 2682.3 1314.8 2670.9 1309.1 2667.7 C1303.4 2664.4 1287.8 2654.6 1280.8 2650.7 C1273.7 2646.7 1245.4 2633.1 1238.3 2628 C1231.2 2622.9 1215.1 2605.4 1210 2599.7 C1204.9 2594 1191.5 2577.6 1187.3 2571.4 C1183 2565.1 1170.9 2545.2 1167.5 2537.4 C1164.1 2529.6 1152.5 2497 1153.3 2493.5 Z" fill="#8c564b"/><path d="M1289.3 2637.9 C1293.5 2635.1 1315.6 2634 1323.3 2635.1 C1330.9 2636.2 1360.9 2645 1365.7 2649.3 C1370.6 2653.5 1374.2 2674.2 1371.4 2677.6 C1368.6 2681 1345.1 2683 1337.4 2683.3 C1329.8 2683.5 1300.6 2682.4 1294.9 2680.4 C1289.3 2678.4 1281.3 2667.7 1280.8 2663.4 C1280.2 2659.2 1285 2640.8 1289.3 2637.9 Z" fill="#8c564b"/><path d="M1238 2671.2 C1238 2671.7 1238.1 2672.8 1237.7 2673.1 C1237.4 2673.4 1235.7 2673.7 1235.1 2673.5 C1234.6 2673.3 1234 2672.4 1233.7 2672 C1233.5 2671.5 1232.9 2670.5 1233.1 2670.1 C1233.3 2669.8 1234.6 2669.4 1235.2 2669.2 C1235.9 2669.1 1237.4 2668.9 1237.8 2669.2 C1238.2 2669.4 1238 2670.6 1238 2671.2 Z" fill="#8c564b"/><path d="M1181.8 2656.9 C1181.9 2657.3 1181 2658.5 1180.5 2658.8 C1180 2659 1178.8 2658.7 1178.1 2658.6 C1177.5 2658.5 1175.9 2658.4 1175.7 2658 C1175.4 2657.7 1176.1 2656.4 1176.4 2656.1 C1176.8 2655.7 1177.7 2655.5 1178.2 2655.4 C1178.7 2655.4 1179.4 2655.5 1179.9 2655.7 C1180.4 2655.9 1181.8 2656.5 1181.8 2656.9 Z" fill="#2ca02c"/><path d="M1227.2 2670.5 C1227.2 2671.4 1227.8 2673 1227.2 2673.6 C1226.6 2674.2 1223.8 2675.2 1222.8 2675 C1221.9 2674.8 1220.3 2673 1219.9 2672.2 C1219.4 2671.3 1219.2 2669.5 1219.7 2668.8 C1220.1 2668.2 1222.2 2667.6 1223.2 2667.4 C1224.3 2667.1 1227.1 2666.6 1227.6 2667 C1228.2 2667.4 1227.3 2669.6 1227.2 2670.5 Z" fill="#2ca02c"/><path d="M1142.5 2600.2 C1142.5 2600.5 1141.4 2600.8 1141.1 2601 C1140.7 2601.3 1140 2601.8 1139.7 2601.7 C1139.5 2601.7 1139.1 2600.9 1138.9 2600.6 C1138.8 2600.3 1138.3 2599.8 1138.4 2599.5 C1138.5 2599.2 1139.3 2598.5 1139.7 2598.4 C1140.1 2598.3 1141.1 2598.7 1141.5 2598.9 C1141.8 2599.1 1142.6 2599.9 1142.5 2600.2 Z" fill="#2ca02c"/><path d="M1181.4 2619.4 C1181.4 2619.9 1179.8 2620.7 1179.2 2621 C1178.6 2621.3 1177.5 2621.7 1176.9 2621.7 C1176.4 2621.6 1175.2 2620.9 1174.9 2620.5 C1174.6 2620 1174.3 2618.7 1174.6 2618.3 C1174.8 2617.8 1176.2 2617.2 1176.9 2617.1 C1177.6 2616.9 1179 2617.1 1179.6 2617.4 C1180.2 2617.7 1181.5 2619 1181.4 2619.4 Z" fill="#2ca02c"/><path d="M1246.8 2631.5 C1246.9 2631.8 1246.5 2632.9 1246.1 2633.1 C1245.8 2633.3 1244.5 2633 1244.1 2632.9 C1243.7 2632.8 1243.2 2632.3 1243 2632.1 C1242.8 2631.8 1242.6 2631.1 1242.7 2630.7 C1242.8 2630.4 1243.6 2629.5 1244 2629.4 C1244.3 2629.4 1245.2 2630.2 1245.5 2630.5 C1245.9 2630.7 1246.7 2631.1 1246.8 2631.5 Z" fill="#2ca02c"/><path d="M1221.7 2655.8 C1221.6 2656.2 1221.4 2656.7 1221.2 2656.9 C1220.9 2657 1220.1 2657 1219.8 2656.9 C1219.5 2656.8 1219.1 2656.5 1218.9 2656.3 C1218.7 2656 1218.1 2655.4 1218.2 2655.1 C1218.3 2654.8 1219.2 2654.2 1219.6 2654.1 C1220.1 2654 1221.5 2653.9 1221.8 2654.2 C1222.1 2654.4 1221.7 2655.5 1221.7 2655.8 Z" fill="#2ca02c"/><path d="M1169.4 2623.8 C1169.4 2624.3 1169.5 2625.3 1169.2 2625.6 C1168.9 2625.8 1167.6 2625.6 1167 2625.5 C1166.5 2625.4 1165.3 2625.2 1165 2624.8 C1164.7 2624.5 1164.4 2623.1 1164.7 2622.8 C1165 2622.5 1166.5 2622.7 1167.2 2622.6 C1167.8 2622.5 1169.2 2621.7 1169.5 2621.9 C1169.8 2622 1169.4 2623.3 1169.4 2623.8 Z" fill="#8c564b"/><path d="M1214 2660.5 C1214.1 2661.1 1214.2 2662.7 1213.8 2663 C1213.3 2663.3 1211.4 2663.1 1210.7 2662.9 C1209.9 2662.7 1208.4 2662.2 1208.2 2661.7 C1207.9 2661.3 1208.7 2660.2 1209 2659.6 C1209.4 2659.1 1209.9 2657.7 1210.5 2657.5 C1211.1 2657.4 1212.9 2658.1 1213.3 2658.5 C1213.8 2658.9 1214 2659.9 1214 2660.5 Z" fill="#8c564b"/><path d="M1237.1 2616.2 C1237.2 2616.9 1237.9 2619 1237.4 2619.3 C1237 2619.6 1234.4 2618.8 1233.6 2618.5 C1232.9 2618.2 1232.4 2617.7 1231.8 2617.1 C1231.2 2616.6 1229.2 2614.8 1229.4 2614.3 C1229.7 2613.8 1232.6 2613.7 1233.6 2613.7 C1234.6 2613.6 1236.3 2613.3 1236.8 2613.6 C1237.3 2614 1237.1 2615.4 1237.1 2616.2 Z" fill="#8c564b"/><path d="M1220.9 2610.9 C1220.9 2611.6 1220.4 2612.8 1219.9 2613.2 C1219.3 2613.7 1217.3 2614.1 1216.7 2614 C1216 2613.8 1215.1 2612.5 1214.8 2612 C1214.6 2611.4 1214.3 2610.2 1214.6 2609.8 C1214.9 2609.3 1216.1 2608.8 1216.9 2608.5 C1217.7 2608.3 1220 2607.6 1220.6 2607.9 C1221.1 2608.2 1221 2610.2 1220.9 2610.9 Z" fill="#8c564b"/><path d="M1230.3 2658.6 C1230.2 2659.3 1229.3 2660.4 1228.6 2661 C1227.8 2661.5 1225.7 2662.8 1225 2662.6 C1224.3 2662.5 1223.3 2660.4 1223.1 2659.7 C1222.9 2659.1 1223.5 2658.2 1223.8 2657.6 C1224.1 2657.1 1224.6 2656.1 1225.4 2655.8 C1226.2 2655.5 1228.8 2654.9 1229.5 2655.2 C1230.2 2655.6 1230.4 2657.8 1230.3 2658.6 Z" fill="#8c564b"/><path d="M1207.2 2663 C1207.1 2663.6 1206.8 2664.4 1206.3 2664.7 C1205.9 2665 1204.5 2665.6 1203.9 2665.6 C1203.3 2665.5 1202.1 2664.7 1201.6 2664.1 C1201.2 2663.6 1200.6 2662.1 1200.8 2661.5 C1201.1 2661 1202.9 2660 1203.8 2659.9 C1204.6 2659.8 1206.7 2660 1207.2 2660.4 C1207.6 2660.9 1207.3 2662.4 1207.2 2663 Z" fill="#8c564b"/><path d="M1149.1 2611.1 C1149.1 2611.5 1147.9 2612.4 1147.4 2612.6 C1147 2612.9 1145.9 2613 1145.5 2612.9 C1145 2612.8 1144.2 2612.3 1143.9 2611.9 C1143.6 2611.6 1143.2 2610.6 1143.4 2610.1 C1143.5 2609.7 1144.7 2608.6 1145.2 2608.6 C1145.8 2608.5 1146.9 2609.3 1147.4 2609.7 C1147.9 2610 1149.1 2610.7 1149.1 2611.1 Z" fill="#8c564b"/><path d="M1218.1 2659.9 C1217.9 2660.3 1215.9 2660.9 1215.3 2661.2 C1214.7 2661.5 1213.9 2662.2 1213.3 2662.2 C1212.7 2662.2 1211.3 2661.5 1211 2661 C1210.6 2660.5 1210.2 2659 1210.5 2658.5 C1210.8 2658.1 1212.5 2657.7 1213.3 2657.5 C1214.1 2657.4 1215.6 2657.3 1216.2 2657.6 C1216.8 2657.9 1218.2 2659.4 1218.1 2659.9 Z" fill="#2ca02c"/><path d="M1293.5 2654.1 C1293.5 2654.5 1292.2 2655.3 1291.6 2655.6 C1291 2656 1290 2657 1289.3 2657 C1288.6 2657 1286.8 2656.1 1286.5 2655.5 C1286.2 2655 1286.5 2653.5 1286.9 2652.9 C1287.3 2652.3 1288.6 2651.3 1289.3 2651.3 C1289.9 2651.2 1291 2652.3 1291.5 2652.7 C1292.1 2653.1 1293.5 2653.7 1293.5 2654.1 Z" fill="#8c564b"/><path d="M1245.5 2639.9 C1245.4 2640.5 1244.3 2641.4 1243.6 2641.9 C1243 2642.4 1241.3 2643.7 1240.5 2643.7 C1239.7 2643.6 1238 2642.2 1237.6 2641.4 C1237.1 2640.7 1236.9 2638.8 1237.3 2638.2 C1237.8 2637.7 1240 2637.5 1240.9 2637.4 C1241.8 2637.3 1243.3 2637.2 1243.9 2637.5 C1244.5 2637.9 1245.5 2639.3 1245.5 2639.9 Z" fill="#8c564b"/><path d="M1194.2 2634.8 C1194.1 2635.3 1192.7 2636.3 1192.1 2636.6 C1191.5 2636.9 1190.3 2637.4 1189.6 2637.3 C1188.9 2637.3 1186.9 2636.7 1186.7 2636.2 C1186.5 2635.7 1187.4 2634.3 1187.8 2633.8 C1188.2 2633.4 1189.2 2633 1189.8 2632.9 C1190.4 2632.7 1192 2632.3 1192.6 2632.6 C1193.2 2632.8 1194.2 2634.3 1194.2 2634.8 Z" fill="#8c564b"/><path d="M1281.1 2658.2 C1281 2658.6 1280.1 2659.3 1279.6 2659.6 C1279.2 2659.8 1278.2 2660 1277.8 2659.9 C1277.3 2659.8 1276.6 2659.3 1276.3 2658.9 C1276.1 2658.6 1275.6 2657.6 1275.7 2657.2 C1275.9 2656.8 1277 2656 1277.6 2655.9 C1278.2 2655.8 1279.5 2656.2 1280 2656.5 C1280.4 2656.8 1281.1 2657.8 1281.1 2658.2 Z" fill="#8c564b"/><path d="M1166.6 2652.8 C1166.4 2653.6 1163.9 2654.6 1162.9 2655.2 C1161.9 2655.8 1160.3 2657.5 1159.2 2657.5 C1158.2 2657.5 1155.6 2655.7 1155.2 2654.9 C1154.8 2654 1155.5 2651.9 1156 2651.1 C1156.5 2650.2 1158.2 2648.5 1159.3 2648.2 C1160.3 2648 1163.2 2648.6 1164.2 2649.2 C1165.2 2649.8 1166.8 2652 1166.6 2652.8 Z" fill="#8c564b"/><path d="M1187.8 2661.8 C1187.8 2662.6 1187.9 2664 1187.4 2664.5 C1186.8 2665 1184.4 2665.7 1183.6 2665.5 C1182.9 2665.3 1181.8 2663.6 1181.7 2663 C1181.6 2662.4 1182.4 2661.5 1182.7 2661 C1183 2660.6 1183.4 2659.8 1184 2659.5 C1184.7 2659.2 1187 2658.7 1187.5 2659 C1188 2659.3 1187.8 2661.1 1187.8 2661.8 Z" fill="#8c564b"/><path d="M1178.5 2656.9 C1178.6 2657.3 1178.3 2658.4 1177.9 2658.7 C1177.4 2659 1175.8 2659.6 1175.3 2659.4 C1174.8 2659.3 1174.4 2658 1174.2 2657.6 C1174 2657.2 1173.7 2656.4 1173.9 2656.1 C1174.1 2655.7 1175.1 2655.2 1175.5 2655.1 C1176 2655.1 1176.8 2655.5 1177.2 2655.8 C1177.6 2656 1178.4 2656.5 1178.5 2656.9 Z" fill="#8c564b"/><path d="M1247.8 2628.6 C1248 2629.3 1248.2 2631.1 1247.7 2631.6 C1247.1 2632.1 1244.8 2632.4 1243.7 2632.3 C1242.6 2632.2 1239.6 2631.5 1239.2 2630.8 C1238.7 2630.1 1239.7 2627.6 1240.4 2627 C1241 2626.3 1243.1 2625.9 1244 2625.9 C1244.8 2625.9 1246.2 2626.3 1246.7 2626.7 C1247.2 2627 1247.7 2628 1247.8 2628.6 Z" fill="#2ca02c"/><path d="M1207.4 2620.6 C1207.5 2621.1 1207.9 2622.3 1207.5 2622.7 C1207.1 2623.2 1205.1 2623.9 1204.5 2623.8 C1203.9 2623.6 1203.3 2622.2 1202.9 2621.6 C1202.6 2621 1201.6 2619.7 1201.9 2619.3 C1202.1 2618.9 1204.1 2618.6 1204.8 2618.6 C1205.4 2618.5 1206.6 2618.8 1206.9 2619.1 C1207.3 2619.3 1207.3 2620.1 1207.4 2620.6 Z" fill="#2ca02c"/><path d="M1209.2 2647.2 C1209.2 2647.6 1208.9 2648.4 1208.6 2648.6 C1208.3 2648.8 1207.3 2648.8 1206.8 2648.7 C1206.3 2648.6 1205.1 2648.4 1204.9 2648.1 C1204.7 2647.8 1204.9 2646.7 1205.2 2646.4 C1205.5 2646.1 1206.4 2646 1206.8 2645.9 C1207.3 2645.8 1208.3 2645.6 1208.6 2645.8 C1208.9 2646 1209.2 2646.8 1209.2 2647.2 Z" fill="#2ca02c"/><path d="M1217.9 2654.2 C1217.8 2655 1215.5 2656.5 1214.6 2656.8 C1213.7 2657.2 1212.3 2656.9 1211.2 2656.9 C1210.1 2656.8 1206.9 2656.8 1206.5 2656.3 C1206 2655.7 1207.5 2653.4 1208.1 2652.7 C1208.7 2652 1210.1 2651.3 1211 2651 C1212 2650.8 1214.5 2650.2 1215.4 2650.6 C1216.4 2651.1 1218 2653.3 1217.9 2654.2 Z" fill="#2ca02c"/><path d="M1219.3 2644.9 C1219.2 2645.4 1218.8 2646.2 1218.5 2646.4 C1218.1 2646.6 1217.2 2646.6 1216.6 2646.6 C1215.9 2646.5 1213.9 2646.5 1213.7 2646.2 C1213.5 2645.9 1214.9 2644.6 1215.2 2644.2 C1215.6 2643.8 1216 2643.3 1216.5 2643.2 C1217 2643 1218.5 2642.8 1218.9 2643 C1219.3 2643.3 1219.3 2644.5 1219.3 2644.9 Z" fill="#8c564b"/><path d="M1151.1 2612.2 C1151.1 2612.5 1150.7 2613 1150.4 2613.3 C1150.1 2613.6 1149.3 2614.2 1148.8 2614.2 C1148.3 2614.1 1147.1 2613.5 1147 2613.1 C1146.9 2612.8 1147.8 2612 1148 2611.7 C1148.3 2611.4 1148.6 2610.9 1148.9 2610.8 C1149.3 2610.7 1150.2 2610.9 1150.5 2611.1 C1150.8 2611.3 1151.1 2611.9 1151.1 2612.2 Z" fill="#2ca02c"/><path d="M1265 2657.8 C1265 2658.1 1264.1 2658.8 1263.7 2659 C1263.3 2659.2 1262.6 2659.4 1262.1 2659.3 C1261.7 2659.3 1260.4 2659 1260.3 2658.7 C1260.1 2658.4 1260.6 2657.5 1260.9 2657.2 C1261.2 2656.9 1261.9 2656.7 1262.2 2656.6 C1262.5 2656.6 1263 2656.9 1263.4 2657 C1263.7 2657.2 1264.9 2657.6 1265 2657.8 Z" fill="#8c564b"/><path d="M1207.3 2646.5 C1207.5 2647.1 1206.2 2649.1 1205.4 2649.6 C1204.5 2650.1 1202.1 2650.6 1201.2 2650.3 C1200.3 2650.1 1199.4 2648.5 1198.9 2647.8 C1198.5 2647.1 1197.6 2645.3 1197.9 2644.8 C1198.3 2644.3 1200.8 2644 1201.6 2644 C1202.4 2644 1203.2 2644.5 1204 2644.8 C1204.7 2645.1 1207.1 2645.9 1207.3 2646.5 Z" fill="#2ca02c"/><path d="M1214.9 2566.8 C1214.9 2567.4 1214.1 2568.5 1213.6 2568.9 C1213.1 2569.2 1211.8 2569.3 1210.9 2569.3 C1210 2569.3 1207.6 2569.1 1207.1 2568.6 C1206.6 2568 1206.6 2565.8 1207.1 2565.1 C1207.5 2564.4 1209.7 2563.2 1210.5 2563.1 C1211.4 2563.1 1213 2564.4 1213.5 2564.9 C1214.1 2565.4 1214.9 2566.3 1214.9 2566.8 Z" fill="#2ca02c"/><path d="M1212.2 2583.5 C1212.2 2584 1212.5 2585.2 1212.1 2585.5 C1211.7 2585.8 1210.1 2585.8 1209.4 2585.6 C1208.8 2585.5 1207.5 2585.1 1207.1 2584.6 C1206.7 2584.1 1206.1 2582.6 1206.4 2582.1 C1206.7 2581.6 1208.6 2580.9 1209.3 2580.8 C1210 2580.8 1211.5 2581.3 1211.9 2581.7 C1212.2 2582 1212.2 2583 1212.2 2583.5 Z" fill="#ff7f0e"/><path d="M1223.4 2589.1 C1223.3 2589.7 1222.7 2590.7 1222.2 2591.1 C1221.7 2591.4 1220.4 2591.4 1219.6 2591.4 C1218.8 2591.3 1216.9 2591.1 1216.3 2590.6 C1215.8 2590 1214.9 2587.8 1215.2 2587.1 C1215.6 2586.5 1218.2 2585.6 1219.2 2585.5 C1220.2 2585.4 1222.2 2586 1222.8 2586.5 C1223.3 2587 1223.4 2588.5 1223.4 2589.1 Z" fill="#ff7f0e"/><path d="M1232.1 2581.5 C1232.1 2581.9 1231.4 2582.9 1231 2583.1 C1230.5 2583.3 1229.3 2583.3 1228.9 2583.1 C1228.5 2583 1228.2 2582.3 1228 2582 C1227.8 2581.7 1227.3 2581 1227.5 2580.8 C1227.6 2580.5 1228.5 2580.1 1228.9 2580 C1229.4 2579.9 1230.6 2579.7 1231 2579.9 C1231.4 2580 1232.1 2581.1 1232.1 2581.5 Z" fill="#ff7f0e"/><path d="M1334.4 2652.7 C1334.4 2653.1 1333.9 2653.9 1333.5 2654.2 C1333.1 2654.5 1331.7 2655.3 1331.3 2655.2 C1331 2655.1 1330.7 2653.7 1330.6 2653.3 C1330.5 2652.9 1330.5 2652.6 1330.6 2652.2 C1330.7 2651.8 1331 2650.6 1331.4 2650.4 C1331.8 2650.3 1333.2 2650.9 1333.6 2651.2 C1334 2651.5 1334.4 2652.3 1334.4 2652.7 Z" fill="#2ca02c"/><path d="M1254.3 2621.1 C1254.1 2621.7 1252.5 2622.2 1251.8 2622.7 C1251.1 2623.2 1249.9 2624.6 1249.1 2624.6 C1248.4 2624.6 1246.2 2623.4 1245.8 2622.7 C1245.5 2622.1 1246.4 2620.3 1246.9 2619.8 C1247.4 2619.3 1248.7 2619.3 1249.6 2619.1 C1250.4 2618.8 1252.7 2617.6 1253.3 2617.9 C1253.9 2618.2 1254.5 2620.4 1254.3 2621.1 Z" fill="#2ca02c"/><path d="M1229.6 2604.6 C1229.4 2605.3 1228.3 2606 1227.8 2606.3 C1227.2 2606.6 1226.3 2606.9 1225.5 2606.9 C1224.7 2606.9 1222.2 2606.9 1221.7 2606.3 C1221.2 2605.8 1221.5 2603.6 1222 2603 C1222.5 2602.5 1224.6 2602.7 1225.5 2602.5 C1226.5 2602.3 1228.6 2601.3 1229.2 2601.6 C1229.7 2601.9 1229.8 2604 1229.6 2604.6 Z" fill="#2ca02c"/><path d="M1292.2 2637.7 C1292.2 2638.4 1291.3 2639.7 1290.6 2640.2 C1290 2640.6 1287.9 2641.4 1287.2 2641.2 C1286.5 2641 1285.4 2639.5 1285.1 2638.9 C1284.9 2638.3 1285.2 2637.2 1285.5 2636.7 C1285.7 2636.1 1286.6 2634.8 1287.3 2634.7 C1288 2634.5 1289.9 2634.9 1290.6 2635.3 C1291.2 2635.7 1292.2 2637.1 1292.2 2637.7 Z" fill="#ff7f0e"/><path d="M1280.6 2636.6 C1280.6 2637.2 1278.7 2638.5 1277.9 2638.9 C1277.1 2639.4 1275.4 2640 1274.6 2639.8 C1273.9 2639.7 1272.4 2638.7 1271.9 2638 C1271.4 2637.3 1270.5 2635.2 1270.9 2634.8 C1271.3 2634.3 1274.1 2634.7 1275 2634.6 C1275.9 2634.6 1276.9 2634.2 1277.7 2634.5 C1278.4 2634.7 1280.6 2636 1280.6 2636.6 Z" fill="#2ca02c"/><path d="M1230.7 2605.9 C1230.8 2606.5 1229.6 2607.5 1229 2608.1 C1228.3 2608.6 1226.3 2610.1 1225.6 2609.9 C1224.9 2609.8 1224.2 2607.8 1223.8 2607 C1223.3 2606.3 1221.8 2604.6 1222.1 2604.1 C1222.4 2603.6 1225.1 2603.4 1226 2603.3 C1227 2603.3 1228.2 2603.5 1228.9 2603.8 C1229.5 2604.1 1230.7 2605.3 1230.7 2605.9 Z" fill="#2ca02c"/><path d="M1222.4 2581.5 C1222.5 2582.3 1222 2584.5 1221.3 2584.9 C1220.6 2585.3 1218 2584.8 1217.1 2584.6 C1216.2 2584.3 1215 2583.4 1214.6 2582.8 C1214.1 2582.2 1213.5 2580.4 1213.9 2580 C1214.3 2579.5 1216.4 2579.6 1217.3 2579.5 C1218.2 2579.3 1219.9 2578.6 1220.6 2578.9 C1221.3 2579.1 1222.3 2580.7 1222.4 2581.5 Z" fill="#ff7f0e"/><path d="M1245.1 2608.9 C1245.2 2609.7 1246 2611.9 1245.4 2612.3 C1244.9 2612.7 1242.1 2612.3 1241.2 2612 C1240.3 2611.7 1239 2611 1238.5 2610.3 C1237.9 2609.7 1236.8 2607.7 1237.1 2607 C1237.5 2606.4 1240.1 2605.7 1241.1 2605.6 C1242.1 2605.5 1244.1 2605.9 1244.6 2606.4 C1245.2 2606.8 1245 2608.2 1245.1 2608.9 Z" fill="#ff7f0e"/><path d="M1200.2 2555.8 C1200.2 2556.2 1199.7 2557.1 1199.3 2557.5 C1198.8 2557.9 1197.3 2558.7 1196.8 2558.6 C1196.2 2558.5 1195.4 2557.2 1195.1 2556.7 C1194.9 2556.2 1194.8 2555.2 1195.1 2554.8 C1195.3 2554.5 1196.6 2554.3 1197.1 2554.3 C1197.6 2554.2 1198.5 2554.2 1198.9 2554.4 C1199.4 2554.6 1200.2 2555.4 1200.2 2555.8 Z" fill="#ff7f0e"/><path d="M1284.5 2634.2 C1284.6 2634.9 1284 2636.5 1283.4 2636.9 C1282.7 2637.3 1280.8 2637.2 1279.9 2637.1 C1279 2636.9 1276.9 2636.5 1276.4 2635.9 C1275.9 2635.3 1275.8 2633.2 1276.2 2632.5 C1276.7 2631.8 1278.8 2630.6 1279.7 2630.6 C1280.5 2630.5 1282.2 2631.6 1282.8 2632.1 C1283.5 2632.6 1284.4 2633.6 1284.5 2634.2 Z" fill="#2ca02c"/><path d="M1274.9 2636.1 C1274.9 2636.5 1274.2 2637.2 1273.8 2637.4 C1273.4 2637.6 1272.5 2637.7 1272.1 2637.6 C1271.6 2637.6 1270.7 2637.3 1270.3 2637 C1270 2636.6 1269.3 2635.4 1269.5 2635 C1269.7 2634.6 1271.2 2633.9 1271.8 2633.8 C1272.5 2633.7 1273.9 2633.9 1274.4 2634.2 C1274.8 2634.6 1275 2635.7 1274.9 2636.1 Z" fill="#2ca02c"/><path d="M1267.9 2612.3 C1267.8 2613.1 1266.9 2614.6 1266 2615.2 C1265.2 2615.8 1262.9 2616.7 1261.9 2616.6 C1260.8 2616.5 1258.6 2615 1258.1 2614.2 C1257.6 2613.4 1257.8 2611.2 1258.3 2610.4 C1258.8 2609.6 1260.9 2608.6 1262 2608.4 C1263.1 2608.1 1265.8 2608.2 1266.6 2608.7 C1267.4 2609.3 1268 2611.4 1267.9 2612.3 Z" fill="#ff7f0e"/><path d="M1287.5 2647.8 C1287.5 2648.3 1287.2 2649.3 1286.7 2649.6 C1286.3 2649.9 1284.8 2650.3 1284.2 2650.2 C1283.6 2650.1 1282.2 2649.4 1281.9 2648.9 C1281.5 2648.4 1281.2 2646.9 1281.6 2646.5 C1281.9 2646 1283.6 2645.7 1284.3 2645.6 C1285 2645.5 1286.5 2645.4 1287 2645.7 C1287.4 2646 1287.6 2647.2 1287.5 2647.8 Z" fill="#ff7f0e"/><path d="M1280.8 2632.7 C1280.7 2633.2 1280.6 2633.9 1280.1 2634.3 C1279.7 2634.7 1278.2 2635.6 1277.7 2635.5 C1277.3 2635.4 1276.8 2633.8 1276.7 2633.4 C1276.5 2632.9 1276.4 2632.3 1276.6 2631.9 C1276.8 2631.6 1277.4 2630.9 1278 2630.6 C1278.5 2630.4 1280.6 2630 1281 2630.2 C1281.3 2630.5 1280.9 2632.1 1280.8 2632.7 Z" fill="#ff7f0e"/><path d="M1302.5 2653.8 C1302.5 2654.4 1302.6 2656 1302.2 2656.2 C1301.7 2656.4 1300.1 2655.5 1299.3 2655.4 C1298.6 2655.3 1296.8 2655.4 1296.4 2655.1 C1296.1 2654.7 1296.5 2653.1 1296.9 2652.7 C1297.3 2652.2 1298.4 2651.7 1299.2 2651.5 C1299.9 2651.3 1301.9 2650.9 1302.4 2651.2 C1302.8 2651.5 1302.5 2653.1 1302.5 2653.8 Z" fill="#2ca02c"/><path d="M1331.1 2656.1 C1331.1 2656.7 1331 2657.6 1330.7 2657.9 C1330.3 2658.1 1329.2 2658.1 1328.4 2658.1 C1327.6 2658.1 1325.1 2658.1 1324.9 2657.7 C1324.6 2657.3 1325.9 2655.6 1326.4 2655.2 C1326.9 2654.7 1327.8 2654.5 1328.4 2654.3 C1329.1 2654.2 1330.7 2653.7 1331.1 2654 C1331.5 2654.2 1331.2 2655.6 1331.1 2656.1 Z" fill="#ff7f0e"/><path d="M1258.7 2617.5 C1258.8 2617.8 1258.2 2618.8 1257.8 2619.1 C1257.4 2619.4 1256.1 2619.8 1255.6 2619.7 C1255 2619.6 1253.6 2619 1253.4 2618.6 C1253.1 2618.1 1253.2 2616.8 1253.5 2616.5 C1253.9 2616.1 1255.2 2615.9 1255.7 2615.9 C1256.2 2615.9 1256.8 2616.3 1257.2 2616.5 C1257.6 2616.7 1258.6 2617.1 1258.7 2617.5 Z" fill="#2ca02c"/><path d="M1297.9 2630.5 C1297.9 2630.8 1296.9 2631.1 1296.5 2631.4 C1296.1 2631.6 1295.5 2632.1 1295.2 2632.1 C1294.8 2632 1294.2 2631.4 1294 2631.1 C1293.8 2630.8 1293.5 2630.1 1293.6 2629.7 C1293.8 2629.4 1294.7 2628.6 1295.1 2628.6 C1295.5 2628.5 1296.4 2629 1296.8 2629.3 C1297.2 2629.6 1297.9 2630.2 1297.9 2630.5 Z" fill="#2ca02c"/><path d="M1253.4 2601.1 C1253.5 2601.8 1252.6 2604.1 1251.8 2604.5 C1251 2604.9 1248.3 2604.5 1247.5 2604.2 C1246.7 2603.8 1246 2602.7 1245.7 2602.1 C1245.4 2601.5 1244.9 2600.5 1245.1 2599.8 C1245.3 2599 1246.4 2596.7 1247.1 2596.6 C1247.9 2596.5 1249.8 2598.2 1250.6 2598.8 C1251.4 2599.4 1253.2 2600.3 1253.4 2601.1 Z" fill="#ff7f0e"/><path d="M1187.6 2549.8 C1187.6 2550.3 1187.2 2551.3 1186.8 2551.6 C1186.4 2551.8 1185.2 2551.7 1184.5 2551.6 C1183.8 2551.6 1181.9 2551.5 1181.6 2551.1 C1181.3 2550.7 1182.1 2549.2 1182.5 2548.8 C1182.9 2548.4 1183.9 2548 1184.5 2547.9 C1185.1 2547.8 1186.6 2547.5 1187 2547.8 C1187.4 2548 1187.7 2549.2 1187.6 2549.8 Z" fill="#2ca02c"/><path d="M1288.8 2625.6 C1288.8 2626 1288.1 2627.3 1287.6 2627.5 C1287.2 2627.8 1285.7 2627.5 1285.2 2627.3 C1284.7 2627.2 1284.1 2626.6 1283.9 2626.2 C1283.7 2625.9 1283.4 2625.1 1283.6 2624.7 C1283.7 2624.4 1284.6 2623.6 1285.1 2623.5 C1285.6 2623.4 1286.6 2623.9 1287.1 2624.2 C1287.6 2624.4 1288.7 2625.1 1288.8 2625.6 Z" fill="#ff7f0e"/><path d="M1198.5 2572.1 C1198.6 2572.6 1197.7 2573.8 1197.1 2574.1 C1196.6 2574.5 1195 2575 1194.3 2574.8 C1193.7 2574.7 1192.9 2573.7 1192.4 2573.1 C1192 2572.5 1190.7 2570.9 1191 2570.5 C1191.2 2570.1 1193.7 2570 1194.5 2570 C1195.3 2569.9 1196.5 2569.9 1197 2570.1 C1197.6 2570.4 1198.5 2571.6 1198.5 2572.1 Z" fill="#ff7f0e"/><path d="M1110.8 2485 C1113.1 2481 1126.4 2485.5 1130.6 2487.8 C1134.9 2490.1 1148.8 2502.3 1153.3 2507.6 C1157.8 2513 1172 2534.8 1176 2541.6 C1179.9 2548.4 1190.7 2568.5 1193 2575.6 C1195.2 2582.7 1198.6 2605.9 1198.6 2612.4 C1198.6 2619 1195.2 2638.5 1193 2640.8 C1190.7 2643 1179.4 2637.1 1176 2635.1 C1172.6 2633.1 1162.6 2624.6 1159 2620.9 C1155.3 2617.3 1143.1 2603.9 1139.1 2598.3 C1135.2 2592.6 1122.4 2571.4 1119.3 2564.3 C1116.2 2557.2 1108.8 2535.4 1108 2527.5 C1107.1 2519.5 1108.5 2488.9 1110.8 2485 Z" fill="#ff9896"/><path d="M1110.8 2547.3 C1112.2 2543.6 1129.2 2545 1133.5 2547.3 C1137.7 2549.6 1149.9 2564.3 1153.3 2570 C1156.7 2575.6 1166.6 2598.3 1167.5 2603.9 C1168.3 2609.6 1164.6 2626 1161.8 2626.6 C1159 2627.2 1143.4 2613.9 1139.1 2609.6 C1134.9 2605.4 1122.1 2590.3 1119.3 2584.1 C1116.5 2577.9 1109.4 2551 1110.8 2547.3 Z" fill="#9467bd"/><path d="M1132.2 2585.4 C1132.2 2585.9 1131.5 2586.8 1131 2587.2 C1130.5 2587.6 1129 2588.2 1128.5 2588.1 C1127.9 2588 1127.3 2586.8 1127 2586.3 C1126.7 2585.8 1125.9 2584.5 1126.2 2584.2 C1126.4 2583.9 1128.2 2583.9 1128.8 2583.9 C1129.4 2583.8 1130.4 2583.5 1130.9 2583.7 C1131.3 2584 1132.2 2584.9 1132.2 2585.4 Z" fill="#ff9896"/><path d="M1145.2 2597.3 C1145.3 2597.8 1144.6 2599.2 1144 2599.7 C1143.4 2600.1 1141.5 2600.9 1140.7 2600.7 C1140 2600.6 1138.4 2599.3 1138.2 2598.7 C1138 2598.1 1138.7 2596.8 1139.1 2596.3 C1139.5 2595.8 1140.5 2595 1141 2595 C1141.6 2594.9 1142.6 2595.6 1143.1 2595.9 C1143.7 2596.2 1145.1 2596.8 1145.2 2597.3 Z" fill="#ff9896"/><path d="M1156 2610 C1155.9 2610.5 1155.3 2611.3 1154.8 2611.6 C1154.4 2611.9 1153.2 2612.3 1152.6 2612.2 C1152 2612.2 1150.5 2611.5 1150.3 2611.1 C1150.1 2610.7 1150.9 2609.7 1151.2 2609.2 C1151.5 2608.6 1151.8 2607.2 1152.4 2606.9 C1153 2606.7 1155.3 2607.1 1155.7 2607.5 C1156.2 2607.9 1156.1 2609.4 1156 2610 Z" fill="#ff9896"/><path d="M1146.3 2585.2 C1146.3 2585.8 1145.1 2587.4 1144.3 2587.9 C1143.5 2588.4 1141.2 2589.1 1140.5 2588.9 C1139.9 2588.6 1139.5 2586.7 1139.3 2586.1 C1139 2585.4 1138.4 2584.6 1138.6 2584 C1138.8 2583.4 1139.9 2581.9 1140.6 2581.7 C1141.3 2581.6 1143.3 2582.3 1144 2582.7 C1144.8 2583.2 1146.3 2584.5 1146.3 2585.2 Z" fill="#ff9896"/><path d="M1144.9 2567.6 C1145 2567.9 1145.2 2568.8 1144.9 2569.1 C1144.6 2569.4 1143.1 2570.1 1142.7 2570 C1142.3 2569.9 1141.9 2568.6 1141.8 2568.1 C1141.7 2567.7 1141.6 2567.2 1141.8 2566.9 C1141.9 2566.6 1142.5 2565.9 1142.9 2565.8 C1143.2 2565.8 1144.1 2566.3 1144.4 2566.6 C1144.6 2566.8 1144.8 2567.2 1144.9 2567.6 Z" fill="#ff9896"/><path d="M1150.4 2581.2 C1150.4 2581.6 1148.9 2582.4 1148.4 2582.7 C1147.8 2583 1146.6 2583.8 1146.1 2583.7 C1145.7 2583.6 1145.4 2582.3 1145.2 2581.9 C1144.9 2581.4 1144.1 2580.5 1144.3 2580.2 C1144.4 2579.9 1145.8 2579.6 1146.4 2579.5 C1146.9 2579.4 1147.9 2579.4 1148.5 2579.6 C1149 2579.8 1150.4 2580.8 1150.4 2581.2 Z" fill="#ff9896"/><path d="M1158.3 2616.8 C1158.3 2617.2 1157.8 2617.9 1157.3 2618.3 C1156.9 2618.6 1155.7 2619.5 1155 2619.5 C1154.4 2619.5 1152.7 2618.7 1152.3 2618.1 C1152 2617.6 1151.9 2615.8 1152.3 2615.4 C1152.7 2615 1154.6 2614.9 1155.3 2614.9 C1156 2614.8 1157.3 2614.7 1157.7 2614.9 C1158.1 2615.2 1158.4 2616.3 1158.3 2616.8 Z" fill="#ff9896"/><path d="M1141.6 2592.7 C1141.7 2593.5 1140.1 2595.6 1139.2 2596.2 C1138.2 2596.8 1135.6 2597.3 1134.4 2597.1 C1133.3 2596.9 1131 2595.4 1130.8 2594.6 C1130.5 2593.8 1131.8 2592.2 1132.3 2591.4 C1132.8 2590.6 1133.8 2588.8 1134.6 2588.7 C1135.3 2588.5 1137.1 2589.9 1138 2590.4 C1138.9 2590.9 1141.4 2591.9 1141.6 2592.7 Z" fill="#ff9896"/><path d="M1138.8 2586.2 C1138.8 2586.6 1138.3 2587.4 1137.9 2587.7 C1137.5 2587.9 1136.3 2588.2 1135.9 2588.1 C1135.5 2588 1135 2587.2 1134.8 2586.8 C1134.6 2586.5 1134.4 2585.8 1134.6 2585.5 C1134.7 2585.1 1135.4 2584.3 1135.9 2584.1 C1136.3 2584 1137.6 2584.4 1138 2584.6 C1138.4 2584.9 1138.8 2585.8 1138.8 2586.2 Z" fill="#ff9896"/><path d="M1139 2589.5 C1139 2589.7 1138.4 2590.5 1138.1 2590.6 C1137.8 2590.8 1137 2590.7 1136.7 2590.6 C1136.3 2590.5 1135.6 2590.3 1135.5 2590 C1135.3 2589.8 1135.3 2589.1 1135.4 2588.9 C1135.6 2588.6 1136.4 2588.4 1136.7 2588.4 C1137 2588.3 1137.5 2588.4 1137.8 2588.6 C1138.2 2588.7 1138.9 2589.2 1139 2589.5 Z" fill="#ff9896"/><path d="M1158.7 2599.9 C1158.9 2600.5 1158.1 2602.5 1157.4 2602.9 C1156.7 2603.3 1154.4 2603 1153.5 2602.8 C1152.6 2602.6 1151.2 2601.9 1150.7 2601.3 C1150.3 2600.7 1149.9 2598.9 1150.3 2598.3 C1150.6 2597.7 1152.7 2597 1153.5 2596.9 C1154.3 2596.9 1155.5 2597.6 1156.2 2598 C1156.9 2598.4 1158.6 2599.2 1158.7 2599.9 Z" fill="#ff9896"/><path d="M1164.1 2605.2 C1164.4 2606 1163.1 2608.8 1162.2 2609.2 C1161.4 2609.5 1158.5 2608.3 1157.5 2608 C1156.5 2607.6 1155.5 2607.1 1155 2606.5 C1154.5 2605.9 1153.4 2604.2 1153.7 2603.4 C1153.9 2602.7 1156.1 2600.9 1157 2600.8 C1157.9 2600.8 1159.5 2602.5 1160.4 2603.1 C1161.4 2603.7 1163.9 2604.4 1164.1 2605.2 Z" fill="#ff9896"/><path d="M1133.5 2456.7 C1135.2 2455.7 1149.1 2468.5 1153.3 2472.2 C1157.6 2475.9 1171.4 2488.8 1176 2493.5 C1180.5 2498.1 1193.5 2513.6 1198.6 2519 C1203.7 2524.3 1221.8 2541.6 1226.9 2547.3 C1232 2553 1245.6 2570.5 1249.6 2575.6 C1253.6 2580.7 1265.5 2595.3 1266.6 2598.3 C1267.7 2601.3 1263.8 2606.6 1260.9 2605.4 C1258.1 2604.1 1243.4 2590.1 1238.3 2585.5 C1233.2 2581 1215.6 2565.4 1210 2560 C1204.3 2554.7 1186.7 2537.1 1181.6 2531.7 C1176.5 2526.3 1163.5 2511.2 1159 2506.2 C1154.4 2501.3 1138.9 2487.1 1136.3 2482.1 C1133.8 2477.2 1131.8 2457.6 1133.5 2456.7 Z" fill="#dfdc98"/><path d="M1232.6 2536 C1235.4 2536 1250.5 2543.9 1255.3 2547.3 C1260.1 2550.7 1275.4 2565.4 1280.8 2570 C1286.1 2574.5 1303.4 2588.1 1309.1 2592.6 C1314.8 2597.1 1333.5 2611.7 1337.4 2615.3 C1341.4 2618.8 1350.2 2626.2 1348.7 2628 C1347.3 2629.9 1328.6 2634.8 1323.3 2633.7 C1317.9 2632.6 1300.6 2620.7 1294.9 2616.7 C1289.3 2612.7 1271.7 2598.6 1266.6 2594 C1261.5 2589.5 1247.9 2576 1243.9 2571.4 C1240 2566.7 1228.1 2550.8 1226.9 2547.3 C1225.8 2543.8 1229.8 2536 1232.6 2536 Z" fill="#f7b6d2"/><path d="M1238.3 2428.3 C1242.8 2421.2 1286.4 2412.7 1294.9 2414.2 C1303.4 2415.6 1317.6 2432.6 1323.3 2442.5 C1328.9 2452.4 1343.1 2504.2 1351.6 2513.3 C1360.1 2522.4 1399.2 2531.4 1408.2 2533.1 C1417.3 2534.8 1433 2530.3 1442.2 2530.3 C1451.4 2530.3 1494.2 2530.3 1500 2533.1 C1505.8 2536 1503.5 2556.6 1500 2558.6 C1496.5 2560.6 1474.1 2553.5 1464.9 2553 C1455.7 2552.4 1416.2 2549.8 1408.2 2553 C1400.3 2556.1 1388.1 2577.9 1385.6 2584.1 C1383 2590.3 1386.1 2613.9 1382.7 2615.3 C1379.3 2616.7 1357.5 2602.8 1351.6 2598.3 C1345.6 2593.7 1328.9 2575.6 1323.3 2570 C1317.6 2564.3 1300.6 2546.7 1294.9 2541.6 C1289.3 2536.5 1271.1 2524.6 1266.6 2519 C1262.1 2513.3 1252.4 2494 1249.6 2485 C1246.8 2475.9 1233.7 2435.4 1238.3 2428.3 Z" fill="#aec7e8"/><path d="M1210 2356.6 C1212.8 2348.9 1232.6 2350.9 1238.3 2350.9 C1243.9 2350.9 1260.9 2355.5 1266.6 2356.6 C1272.3 2357.7 1290.4 2359.4 1294.9 2362.3 C1299.5 2365.1 1309.1 2379.2 1311.9 2384.9 C1314.8 2390.7 1328.9 2415.7 1323.3 2420.1 C1317.6 2424.4 1266.6 2427.5 1255.3 2428.3 C1243.9 2429.2 1214.5 2435.5 1210 2428.3 C1205.4 2421.2 1207.1 2364.3 1210 2356.6 Z" fill="#aec7e8"/><path d="M1260.9 2513.3 C1262.4 2511.2 1274.5 2511.6 1277.9 2513.3 C1281.3 2515 1291 2525.8 1294.9 2530.3 C1298.9 2534.8 1313.1 2553 1317.6 2558.6 C1322.1 2564.3 1335.4 2581.3 1340.2 2586.9 C1345.1 2592.6 1361.4 2609.7 1365.7 2615.3 C1370 2620.8 1381.9 2638.6 1383.3 2642.2 C1384.7 2645.7 1381.7 2650.4 1379.9 2650.7 C1378.1 2651 1370 2648.4 1365.7 2645 C1361.5 2641.6 1343.1 2622.6 1337.4 2616.7 C1331.8 2610.7 1314.8 2591.5 1309.1 2585.5 C1303.4 2579.6 1285.3 2562.3 1280.8 2557.2 C1276.2 2552.1 1265.8 2538.9 1263.8 2534.5 C1261.8 2530.2 1259.5 2515.4 1260.9 2513.3 Z" fill="#1f77b4"/><path d="M1218.5 2400 C1220.7 2394.3 1240.3 2397.2 1243.9 2400 C1247.6 2402.8 1254.1 2421.2 1255.3 2428.3 C1256.4 2435.4 1254.9 2462.3 1255.3 2470.8 C1255.6 2479.3 1259.2 2506.7 1258.7 2513.3 C1258.2 2519.9 1252.7 2534.8 1250.2 2536.5 C1247.6 2538.3 1235.7 2534.5 1233.2 2530.9 C1230.6 2527.2 1225.9 2507.1 1224.7 2499.7 C1223.5 2492.3 1221.9 2466.6 1221.3 2456.7 C1220.7 2446.7 1216.2 2405.7 1218.5 2400 Z" fill="#1f77b4"/><path d="M1266.6 2356.6 C1268.9 2353.5 1280.8 2352.4 1283.6 2353.8 C1286.4 2355.2 1293.2 2366.2 1294.9 2370.8 C1296.6 2375.3 1300.6 2394.2 1300.6 2399.1 C1300.6 2404 1298.3 2418 1294.9 2420.1 C1291.5 2422.1 1270 2423.6 1266.6 2420.1 C1263.2 2416.5 1260.9 2391.3 1260.9 2384.9 C1260.9 2378.6 1264.3 2359.7 1266.6 2356.6 Z" fill="#1f77b4"/><path d="M1119.3 2420.1 C1120.2 2414.3 1128.2 2391.8 1130.6 2384.9 C1133 2378 1140.6 2357.2 1143.4 2350.9 C1146.2 2344.7 1155.4 2328 1159 2322.6 C1162.5 2317.2 1175.1 2301.1 1178.8 2297.1 C1182.5 2293.2 1192.7 2285.4 1195.8 2283 C1198.9 2280.5 1205.7 2275.3 1210 2273 C1214.2 2270.8 1231.2 2262.8 1238.3 2260.9 C1245.4 2258.9 1273.7 2254.3 1280.8 2253.2 C1287.8 2252.2 1304.6 2251.6 1309.1 2250.4 C1313.6 2249.2 1323 2241.7 1326.1 2241 C1329.2 2240.3 1341.1 2241.3 1340.2 2243.3 C1339.4 2245.3 1322.1 2258.5 1317.6 2260.9 C1313.1 2263.2 1301.4 2264.8 1294.9 2266.5 C1288.4 2268.2 1259.8 2275 1252.4 2277.9 C1245.1 2280.7 1226.7 2290.9 1221.3 2294.9 C1215.9 2298.8 1202.6 2312.4 1198.6 2317.5 C1194.7 2322.6 1184.5 2340.2 1181.6 2345.8 C1178.8 2351.5 1172.6 2366.7 1170.3 2374.2 C1168 2381.6 1160.7 2413.2 1159 2420.1 C1157.3 2426.9 1157 2440.2 1153.3 2442.5 C1149.6 2444.7 1125.5 2444.7 1122.1 2442.5 C1118.7 2440.2 1118.5 2425.8 1119.3 2420.1 Z" fill="#c7c7c7"/><path d="M1147.6 2254.6 C1148.5 2252.4 1169.7 2244.3 1176 2241.9 C1182.2 2239.5 1202.3 2232.3 1210 2230.6 C1217.6 2228.9 1245.4 2225.6 1252.4 2224.9 C1259.5 2224.2 1275.1 2222.8 1280.8 2223.5 C1286.4 2224.2 1304.6 2230.6 1309.1 2232 C1313.6 2233.4 1326.1 2235.9 1326.1 2237.6 C1326.1 2239.3 1313.6 2247.5 1309.1 2249 C1304.6 2250.4 1287.3 2251.8 1280.8 2252.4 C1274.3 2252.9 1250.5 2253.6 1243.9 2254.6 C1237.4 2255.7 1220.1 2260.6 1215.6 2263.1 C1211.1 2265.7 1201.3 2276.4 1198.6 2280.1 C1195.9 2283.8 1190.7 2298.8 1188.7 2300 C1186.7 2301.1 1180.9 2295 1178.8 2291.5 C1176.7 2287.9 1170.6 2268.2 1167.5 2264.5 C1164.3 2260.9 1146.8 2256.9 1147.6 2254.6 Z" fill="#1b5e8c"/><ellipse cx="1255.3" cy="2302.8" rx="70" ry="53" transform="rotate(-25 1255.3 2302.8)" fill="#c49c94" /><ellipse cx="1257.3" cy="2304.8" rx="50" ry="36" transform="rotate(-25 1257.3 2304.8)" fill="#ffbb78" /><path d="M1243.9 2273 C1245.4 2272.2 1257.5 2269.5 1260.9 2268.8 C1264.3 2268.1 1276.4 2265.7 1277.9 2266 C1279.5 2266.2 1278.2 2270.8 1276.5 2271.6 C1274.8 2272.5 1263.9 2273.9 1260.9 2274.5 C1258 2275 1248.5 2277.4 1246.8 2277.3 C1245.1 2277.2 1242.5 2273.9 1243.9 2273 Z" fill="#d62728"/><path d="M1328 2268.8 C1328.3 2266 1331.9 2247.6 1333.6 2243.3 C1335.3 2239.1 1340.4 2229.1 1345 2226.3 C1349.5 2223.5 1371.9 2216.5 1379 2215 C1386 2213.4 1409.3 2210.7 1415.8 2210.7 C1422.3 2210.7 1439.3 2213.4 1444.1 2215 C1448.9 2216.5 1460.8 2222.9 1463.9 2226.3 C1467.1 2229.7 1473.9 2244.4 1475.3 2249 C1476.7 2253.5 1479 2267.8 1478.1 2271.6 C1477.3 2275.5 1468.8 2286.1 1466.8 2287.2 C1464.8 2288.3 1460.3 2285.9 1458.3 2283 C1456.3 2280 1449.8 2261.4 1446.9 2257.5 C1444.1 2253.5 1434.5 2245.3 1430 2243.3 C1425.4 2241.3 1407.9 2237.9 1401.6 2237.6 C1395.4 2237.4 1373.6 2239.1 1367.6 2240.5 C1361.7 2241.9 1345.8 2248.7 1342.1 2251.8 C1338.5 2254.9 1332.2 2269.9 1330.8 2271.6 C1329.4 2273.3 1327.7 2271.6 1328 2268.8 Z" fill="#a55194"/><path d="M1330.8 2271.6 C1331.8 2269.2 1338.5 2254.9 1342.1 2251.8 C1345.8 2248.7 1361.7 2241.9 1367.6 2240.5 C1373.6 2239.1 1395.4 2237.4 1401.6 2237.6 C1407.9 2237.9 1425.4 2241.3 1430 2243.3 C1434.5 2245.3 1444.1 2253.5 1446.9 2257.5 C1449.8 2261.4 1457.4 2280 1458.3 2283 C1459.1 2285.9 1458.3 2289.2 1455.4 2287.2 C1452.6 2285.2 1435.3 2266.4 1430 2263.1 C1424.6 2259.9 1407.3 2255.5 1401.6 2254.6 C1396 2253.8 1379 2253.8 1373.3 2254.6 C1367.6 2255.5 1349.1 2261 1345 2263.1 C1340.9 2265.3 1333.6 2275 1332.2 2275.9 C1330.8 2276.7 1329.8 2274 1330.8 2271.6 Z" fill="#f8c9d4"/><path d="M1332.2 2275.9 C1333.4 2273.3 1340.9 2265.3 1345 2263.1 C1349.1 2261 1367.6 2255.5 1373.3 2254.6 C1379 2253.8 1396 2253.8 1401.6 2254.6 C1407.3 2255.5 1424.6 2259.9 1430 2263.1 C1435.3 2266.4 1455.4 2284.7 1455.4 2287.2 C1455.4 2289.8 1435.3 2289 1430 2288.6 C1424.6 2288.2 1407.3 2283.5 1401.6 2283 C1396 2282.4 1379 2282.7 1373.3 2283 C1367.6 2283.2 1348.9 2285.2 1345 2285.8 C1341 2286.4 1334.9 2289.6 1333.6 2288.6 C1332.4 2287.6 1331.1 2278.4 1332.2 2275.9 Z" fill="#c9efc6"/><path d="M1316.7 2288.6 C1319.5 2286.8 1338.7 2284.8 1345 2284.4 C1351.2 2283.9 1375.6 2282.8 1379 2284.4 C1382.4 2285.9 1382.4 2297.8 1379 2300 C1375.6 2302.1 1351.2 2305.3 1345 2305.6 C1338.7 2305.9 1319.5 2304.5 1316.7 2302.8 C1313.8 2301.1 1313.8 2290.5 1316.7 2288.6 Z" fill="#e0d8ec"/><path d="M1320.4 2271.6 C1321.1 2270.2 1327.6 2268.2 1328.9 2268.8 C1330.2 2269.4 1333.2 2275.7 1333.2 2277.3 C1333.2 2278.8 1330.1 2283.8 1328.9 2284.4 C1327.8 2284.9 1322.7 2284.2 1321.8 2283 C1321 2281.7 1319.7 2273 1320.4 2271.6 Z" fill="#9e1b1b"/><path d="M1311.9 2288.6 C1314.5 2286.9 1331.2 2288.3 1337.4 2288.6 C1343.6 2288.9 1370.6 2289.8 1374.2 2291.5 C1377.9 2293.2 1377.9 2303.9 1374.2 2305.6 C1370.6 2307.3 1343.6 2308.5 1337.4 2308.5 C1331.2 2308.5 1314.5 2307.6 1311.9 2305.6 C1309.4 2303.6 1309.4 2290.3 1311.9 2288.6 Z" fill="#dcd0ea"/><path d="M1164.6 2365.1 C1167.7 2361.7 1182.8 2357.7 1187.3 2356.6 C1191.8 2355.5 1207.1 2352.4 1210 2353.8 C1212.8 2355.2 1216.8 2367.7 1215.6 2370.8 C1214.5 2373.9 1201.5 2381.8 1198.6 2384.9 C1195.8 2388 1189 2398.4 1187.3 2401.9 C1185.6 2405.4 1182.8 2416 1181.6 2420.1 C1180.5 2424.1 1177.9 2437.4 1176 2442.5 C1174 2447.6 1164.1 2467.1 1161.8 2470.8 C1159.5 2474.5 1155 2480.7 1153.3 2479.3 C1151.6 2477.9 1145.9 2463.2 1144.8 2456.7 C1143.7 2450.1 1140.8 2420.8 1142 2414.2 C1143.1 2407.6 1153.9 2395.5 1156.1 2390.6 C1158.4 2385.7 1161.5 2368.5 1164.6 2365.1 Z" fill="#9e1b1b"/><path d="M1188.7 2392.6 C1188.8 2393.3 1188.9 2395 1188.4 2395.4 C1187.8 2395.8 1185.5 2396.1 1184.6 2396 C1183.8 2395.8 1182 2394.6 1181.8 2394.1 C1181.6 2393.5 1182.8 2392.1 1183.2 2391.7 C1183.6 2391.2 1184.4 2390.9 1185 2390.7 C1185.6 2390.6 1187.2 2390.2 1187.7 2390.5 C1188.2 2390.7 1188.6 2392 1188.7 2392.6 Z" fill="#c9efc6"/><path d="M1175 2377.9 C1175 2378.5 1174.4 2379.8 1173.9 2380 C1173.4 2380.2 1172 2379.9 1171.3 2379.7 C1170.6 2379.6 1168.9 2379.4 1168.8 2379.1 C1168.6 2378.8 1170 2377.8 1170.3 2377.3 C1170.6 2376.9 1170.7 2375.7 1171.1 2375.5 C1171.6 2375.3 1173.3 2375.6 1173.8 2375.9 C1174.3 2376.2 1175 2377.4 1175 2377.9 Z" fill="#ffffff"/><path d="M1183.8 2378.2 C1183.8 2378.8 1182.9 2380.2 1182.2 2380.6 C1181.6 2381 1179.7 2381.5 1179 2381.3 C1178.3 2381.2 1177.2 2379.9 1176.9 2379.3 C1176.6 2378.8 1176.4 2377.4 1176.7 2377 C1177 2376.5 1178.5 2375.9 1179.2 2375.8 C1179.9 2375.7 1181.3 2375.8 1181.9 2376.1 C1182.6 2376.4 1183.7 2377.6 1183.8 2378.2 Z" fill="#ffffff"/><path d="M1172.4 2365.7 C1172.2 2366.4 1171.9 2367 1171.4 2367.3 C1171 2367.6 1169.9 2368.2 1169.2 2368.2 C1168.4 2368.2 1166.4 2367.8 1165.9 2367.3 C1165.4 2366.7 1165.3 2364.7 1165.7 2364.1 C1166.1 2363.5 1168.1 2363 1169 2362.8 C1170 2362.6 1172.4 2362.3 1172.9 2362.7 C1173.3 2363.1 1172.6 2365.1 1172.4 2365.7 Z" fill="#c9efc6"/><path d="M1179.1 2369.8 C1179.1 2370.3 1177.7 2371.4 1177.1 2371.6 C1176.5 2371.9 1175.5 2371.6 1174.7 2371.6 C1173.9 2371.5 1171.7 2371.6 1171.3 2371.3 C1171 2370.9 1171.9 2369.2 1172.3 2368.6 C1172.7 2368.1 1173.8 2367.1 1174.4 2367 C1175.1 2366.9 1176.5 2367.5 1177.1 2367.9 C1177.7 2368.2 1179.1 2369.3 1179.1 2369.8 Z" fill="#ffffff"/><path d="M1198.9 2368.7 C1198.9 2369.1 1198.2 2370.2 1197.8 2370.4 C1197.4 2370.5 1196.3 2369.8 1195.8 2369.7 C1195.4 2369.6 1194.4 2369.7 1194.2 2369.4 C1194 2369.2 1193.8 2368.2 1194 2367.9 C1194.2 2367.6 1195.2 2367.3 1195.7 2367.2 C1196.2 2367.1 1197.2 2367 1197.6 2367.2 C1198.1 2367.4 1198.9 2368.3 1198.9 2368.7 Z" fill="#c9efc6"/><path d="M1164.6 2417 C1166.6 2409.1 1182.8 2396.6 1187.3 2391.5 C1191.8 2386.4 1205.4 2368.3 1210 2366 C1214.5 2363.7 1230.1 2359.8 1232.6 2368.8 C1235.2 2377.9 1235 2440.8 1235.4 2456.7 C1235.9 2472.5 1238.3 2519.4 1236.9 2527.5 C1235.4 2535.5 1226.2 2538.7 1221.3 2537.4 C1216.3 2536.1 1192.7 2521.4 1187.3 2514.7 C1181.9 2508.1 1169.7 2480.6 1167.5 2470.8 C1165.2 2461 1162.6 2424.9 1164.6 2417 Z" fill="#8c8c28"/><path d="M1176 2417 C1177.9 2407.9 1194.4 2392.6 1198.6 2388.7 C1202.9 2384.7 1215.9 2372 1218.5 2377.3 C1221 2382.7 1223.8 2431.7 1224.1 2442.5 C1224.4 2453.3 1222 2477.9 1221.3 2485 C1220.6 2492.1 1219.3 2510.9 1217 2513.3 C1214.8 2515.7 1202.4 2512.5 1198.6 2509.1 C1194.8 2505.7 1181.1 2488.5 1178.8 2479.3 C1176.5 2470.1 1174 2426.1 1176 2417 Z" fill="#6b3a2a"/></g>
<path d="M1579.4 2527.7 C1582.8 2517.8 1612 2493.7 1621.9 2485.2 C1631.9 2476.6 1667.4 2450 1678.7 2442.6 C1690.1 2435.2 1728.1 2413.9 1735.5 2411.4 C1742.9 2408.8 1754.8 2406.8 1752.5 2417 C1750.2 2427.3 1720.7 2496.8 1712.8 2513.5 C1704.8 2530.3 1678.7 2572.3 1673 2584.5 C1667.4 2596.7 1659.4 2629.6 1656 2635.6 C1652.6 2641.6 1643.8 2645 1639 2644.1 C1634.1 2643.3 1612.8 2633.1 1607.7 2627.1 C1602.6 2621.1 1590.7 2594.4 1587.9 2584.5 C1585 2574.6 1575.9 2537.7 1579.4 2527.7 Z" fill="#aec7e8"/><path d="M1656 2635.6 C1658.7 2629.9 1673.6 2610.9 1678.7 2604.4 C1683.8 2597.9 1701.4 2576.6 1707.1 2570.3 C1712.8 2564.1 1729.8 2547 1735.5 2541.9 C1741.2 2536.8 1758.2 2524 1763.9 2519.2 C1769.5 2514.4 1786.6 2498.2 1792.3 2493.7 C1797.9 2489.1 1815 2476.6 1820.6 2473.8 C1826.3 2471 1841.9 2465.6 1849 2465.3 C1856.1 2465 1884.2 2468.1 1891.6 2471 C1899 2473.8 1919.1 2486.6 1922.8 2493.7 C1926.5 2500.8 1928.5 2531.4 1928.5 2541.9 C1928.5 2552.4 1925.1 2588.8 1922.8 2598.7 C1920.6 2608.6 1910.3 2634.5 1905.8 2641.3 C1901.3 2648.1 1885.9 2662.6 1877.4 2666.8 C1868.9 2671.1 1832 2681.6 1820.6 2683.9 C1809.3 2686.1 1775.2 2688.7 1763.9 2689.5 C1752.5 2690.4 1717 2692.7 1707.1 2692.4 C1697.2 2692.1 1670 2689.8 1664.5 2686.7 C1659 2683.6 1652.6 2666.3 1651.7 2661.2 C1650.9 2656 1653.3 2641.3 1656 2635.6 Z" fill="#ff7f0e"/><path d="M1656 2641.3 C1658.8 2635.6 1685 2628.5 1692.9 2627.1 C1700.8 2625.7 1728.9 2624.3 1735.5 2627.1 C1742 2629.9 1756.8 2650.1 1758.2 2655.5 C1759.6 2660.9 1754.8 2677.9 1749.7 2681 C1744.6 2684.1 1715.6 2686.4 1707.1 2686.7 C1698.6 2687 1669.6 2688.4 1664.5 2683.9 C1659.4 2679.3 1653.2 2647 1656 2641.3 Z" fill="#8c564b"/><path d="M1772.4 2576 C1774.4 2568.9 1792.3 2540.8 1797.9 2533.4 C1803.6 2526 1823.2 2505 1829.2 2502.2 C1835.1 2499.4 1855 2501.9 1857.5 2505 C1860.1 2508.2 1857.8 2528 1854.7 2533.4 C1851.6 2538.8 1832 2553 1826.3 2559 C1820.6 2564.9 1802.8 2588.5 1797.9 2593 C1793.1 2597.6 1780.6 2606.1 1778.1 2604.4 C1775.5 2602.7 1770.4 2583.1 1772.4 2576 Z" fill="#8c564b"/><path d="M1834.8 2490.8 C1836.3 2486.3 1857.5 2481.8 1863.2 2482.3 C1868.9 2482.9 1887.3 2492 1891.6 2496.5 C1895.9 2501.1 1904.9 2518.9 1905.8 2527.7 C1906.6 2536.5 1902.4 2574.6 1900.1 2584.5 C1897.8 2594.4 1888.2 2621.4 1883.1 2627.1 C1878 2632.8 1853.9 2642.7 1849 2641.3 C1844.2 2639.9 1834.8 2620 1834.8 2612.9 C1834.8 2605.8 1847.6 2578.8 1849 2570.3 C1850.4 2561.8 1850.4 2535.7 1849 2527.7 C1847.6 2519.8 1833.4 2495.4 1834.8 2490.8 Z" fill="#2ca02c"/><path d="M1807.6 2626.7 C1807.7 2627.4 1807.5 2629.2 1806.9 2629.6 C1806.3 2630.1 1804 2630.2 1803 2630 C1802.1 2629.8 1800 2629 1799.6 2628.4 C1799.2 2627.7 1799.5 2625.9 1799.9 2625.1 C1800.4 2624.4 1802 2622.9 1802.8 2622.8 C1803.7 2622.7 1805.7 2623.8 1806.3 2624.3 C1807 2624.8 1807.5 2626 1807.6 2626.7 Z" fill="#8c564b"/><path d="M1833.8 2607.1 C1833.8 2607.4 1833.1 2608.3 1832.7 2608.5 C1832.3 2608.7 1831.4 2608.7 1830.8 2608.6 C1830.3 2608.6 1828.9 2608.3 1828.8 2608 C1828.7 2607.7 1829.6 2606.9 1829.8 2606.5 C1830.1 2606.2 1830.4 2605.5 1830.8 2605.4 C1831.2 2605.3 1832.3 2605.4 1832.7 2605.6 C1833.1 2605.8 1833.8 2606.7 1833.8 2607.1 Z" fill="#ff7f0e"/><path d="M1888.6 2626.5 C1888.5 2627.4 1888.6 2628.9 1887.9 2629.5 C1887.2 2630.1 1884.6 2631.4 1883.5 2631.2 C1882.4 2631.1 1879.7 2629.4 1879.4 2628.6 C1879.1 2627.7 1880.5 2626 1881 2625 C1881.5 2623.9 1882.1 2621.2 1883.3 2620.8 C1884.4 2620.4 1888.5 2621.3 1889.3 2622 C1890 2622.8 1888.8 2625.5 1888.6 2626.5 Z" fill="#2ca02c"/><path d="M1824.8 2657.9 C1824.8 2658.3 1824.5 2658.8 1824.1 2659.1 C1823.7 2659.5 1822.6 2660.9 1822.1 2660.8 C1821.6 2660.8 1820.8 2659.3 1820.6 2658.8 C1820.4 2658.3 1820.1 2657.3 1820.4 2657 C1820.6 2656.6 1821.9 2656.1 1822.4 2656.1 C1822.9 2656.1 1823.7 2656.6 1824 2656.8 C1824.4 2657.1 1824.8 2657.6 1824.8 2657.9 Z" fill="#8c564b"/><path d="M1824.2 2558.7 C1824.1 2559.1 1823.9 2559.4 1823.6 2559.7 C1823.3 2560.1 1822.4 2561.1 1821.9 2561.1 C1821.4 2561.2 1820 2560.3 1819.8 2559.8 C1819.5 2559.4 1819.7 2558.1 1820 2557.7 C1820.3 2557.4 1821.6 2557.5 1822.2 2557.4 C1822.8 2557.3 1824 2556.9 1824.3 2557 C1824.5 2557.2 1824.3 2558.4 1824.2 2558.7 Z" fill="#8c564b"/><path d="M1883.6 2575.6 C1883.7 2576.3 1883.9 2578 1883.3 2578.5 C1882.8 2579.1 1880.1 2579.7 1879.3 2579.5 C1878.5 2579.2 1878.1 2577.5 1877.5 2576.7 C1876.9 2575.9 1874.6 2574 1874.9 2573.5 C1875.2 2573 1878.5 2572.8 1879.6 2572.8 C1880.7 2572.7 1882.5 2572.6 1883 2573 C1883.5 2573.4 1883.6 2574.9 1883.6 2575.6 Z" fill="#2ca02c"/><path d="M1833.4 2575.1 C1833.4 2575.6 1831.2 2576.7 1830.5 2577 C1829.7 2577.3 1828.7 2577.4 1827.9 2577.3 C1827.2 2577.3 1825.2 2577 1824.9 2576.5 C1824.6 2576.1 1825.5 2574.7 1825.9 2574.1 C1826.2 2573.4 1826.9 2571.6 1827.5 2571.5 C1828.2 2571.4 1829.8 2572.7 1830.5 2573.1 C1831.3 2573.6 1833.4 2574.6 1833.4 2575.1 Z" fill="#ff7f0e"/><path d="M1761.7 2662.7 C1761.8 2663.3 1759.3 2664.6 1758.5 2665 C1757.6 2665.4 1756 2665.6 1755.4 2665.5 C1754.7 2665.3 1753.7 2664.3 1753.4 2663.7 C1753 2663.2 1752.7 2662.1 1752.9 2661.4 C1753.1 2660.7 1754.3 2658.6 1755 2658.5 C1755.7 2658.4 1757.3 2660.1 1758.2 2660.6 C1759.1 2661.2 1761.7 2662.1 1761.7 2662.7 Z" fill="#8c564b"/><path d="M1799.4 2614.2 C1799.4 2614.8 1799.3 2616 1798.8 2616.4 C1798.3 2616.9 1796.5 2617.7 1795.7 2617.7 C1794.8 2617.6 1792.7 2616.5 1792.4 2615.9 C1792.1 2615.2 1793 2613.7 1793.4 2613 C1793.8 2612.3 1795 2610.9 1795.7 2610.8 C1796.3 2610.7 1798 2612 1798.5 2612.4 C1799 2612.9 1799.3 2613.7 1799.4 2614.2 Z" fill="#2ca02c"/><path d="M1709.5 2630.1 C1709.5 2630.4 1709.5 2631.3 1709.2 2631.7 C1708.8 2632 1707.4 2632.7 1706.9 2632.6 C1706.4 2632.5 1705.8 2631.4 1705.5 2630.9 C1705.2 2630.4 1704.4 2629.4 1704.6 2628.9 C1704.8 2628.5 1706.3 2627.5 1706.9 2627.5 C1707.4 2627.5 1708.3 2628.7 1708.6 2629 C1709 2629.4 1709.4 2629.7 1709.5 2630.1 Z" fill="#ff7f0e"/><path d="M1814 2564.3 C1814 2565.3 1812.7 2567.6 1811.8 2568 C1810.9 2568.4 1808.2 2567.6 1807.3 2567.3 C1806.4 2567 1805.7 2566.1 1805.1 2565.5 C1804.6 2564.8 1802.8 2563 1803 2562.3 C1803.3 2561.7 1805.9 2560.7 1807.1 2560.5 C1808.2 2560.3 1810.7 2560.3 1811.6 2560.8 C1812.5 2561.3 1814 2563.4 1814 2564.3 Z" fill="#ff7f0e"/><path d="M1735.7 2607.7 C1735.8 2608.2 1734.7 2609.7 1734.1 2609.9 C1733.5 2610.2 1732 2609.8 1731.4 2609.7 C1730.7 2609.5 1729.5 2609.2 1729.2 2608.8 C1728.9 2608.4 1728.7 2607 1729 2606.6 C1729.3 2606.2 1730.8 2605.9 1731.4 2605.8 C1732 2605.8 1732.8 2606 1733.4 2606.3 C1734 2606.5 1735.6 2607.2 1735.7 2607.7 Z" fill="#2ca02c"/><path d="M1781.9 2604.4 C1782 2605 1781.7 2606.8 1781.1 2607.2 C1780.5 2607.7 1778.2 2607.8 1777.4 2607.6 C1776.6 2607.4 1775.6 2606.2 1775.2 2605.6 C1774.9 2605 1774.4 2603.5 1774.7 2603 C1775 2602.5 1776.8 2601.6 1777.5 2601.5 C1778.2 2601.5 1779.6 2602.1 1780.2 2602.4 C1780.8 2602.8 1781.8 2603.7 1781.9 2604.4 Z" fill="#2ca02c"/><path d="M1720.9 2660.4 C1721 2661 1721.2 2662.7 1720.7 2663.1 C1720.2 2663.5 1717.8 2663.7 1717.2 2663.5 C1716.5 2663.2 1716.2 2661.9 1715.8 2661.3 C1715.3 2660.6 1713.5 2659.2 1713.7 2658.7 C1713.9 2658.3 1716.5 2657.9 1717.3 2657.9 C1718.1 2657.9 1719.1 2658.5 1719.6 2658.8 C1720.1 2659.2 1720.7 2659.8 1720.9 2660.4 Z" fill="#ff7f0e"/><path d="M1842.6 2570.5 C1842.7 2570.9 1842.1 2572 1841.7 2572.3 C1841.2 2572.6 1839.8 2573 1839.3 2572.9 C1838.7 2572.7 1837.8 2571.9 1837.6 2571.4 C1837.4 2571 1837.3 2570 1837.5 2569.6 C1837.7 2569.1 1838.8 2568.2 1839.3 2568.2 C1839.8 2568.1 1840.7 2569 1841.2 2569.3 C1841.6 2569.6 1842.5 2570.1 1842.6 2570.5 Z" fill="#8c564b"/><path d="M1863.6 2599.8 C1863.6 2600.7 1862.9 2602.3 1862.1 2603 C1861.3 2603.6 1858.7 2604.8 1857.6 2604.6 C1856.6 2604.4 1854.5 2602.5 1854.2 2601.7 C1853.9 2600.9 1854.8 2599 1855.3 2598.4 C1855.9 2597.8 1857.3 2597.2 1858.2 2597 C1859.1 2596.8 1861.3 2596.4 1862 2596.8 C1862.7 2597.2 1863.6 2599 1863.6 2599.8 Z" fill="#8c564b"/><path d="M1874.7 2531.3 C1874.8 2531.7 1875.2 2533 1874.9 2533.2 C1874.6 2533.5 1873.1 2533.1 1872.5 2533 C1871.8 2532.8 1870.2 2532.7 1870 2532.4 C1869.8 2532.1 1870.7 2531 1871 2530.5 C1871.3 2530 1871.9 2528.9 1872.3 2528.8 C1872.7 2528.8 1873.9 2529.7 1874.2 2530.1 C1874.5 2530.4 1874.6 2530.8 1874.7 2531.3 Z" fill="#2ca02c"/><path d="M1735.3 2656.2 C1735.2 2656.9 1734 2657.8 1733.3 2658.5 C1732.5 2659.1 1730.4 2661.2 1729.6 2661.1 C1728.7 2661 1727.1 2658.7 1726.7 2657.8 C1726.3 2656.9 1726.1 2655.3 1726.5 2654.4 C1726.9 2653.6 1728.6 2651.5 1729.6 2651.3 C1730.6 2651.1 1733.2 2652.5 1734 2653.2 C1734.7 2653.8 1735.4 2655.5 1735.3 2656.2 Z" fill="#2ca02c"/><path d="M1830.8 2613.2 C1830.9 2613.7 1829 2614.7 1828.2 2615.3 C1827.3 2616 1825.6 2617.9 1824.7 2617.9 C1823.7 2617.9 1821.2 2615.9 1821 2615.1 C1820.8 2614.4 1822.8 2612.8 1823.3 2612.2 C1823.9 2611.5 1824.6 2610.3 1825.2 2610.2 C1825.8 2610.1 1827.2 2610.9 1827.9 2611.3 C1828.7 2611.7 1830.8 2612.7 1830.8 2613.2 Z" fill="#ff7f0e"/><path d="M1890 2553.3 C1890 2553.8 1889.9 2554.5 1889.5 2554.8 C1889.2 2555.1 1887.8 2555.8 1887.3 2555.7 C1886.8 2555.6 1886.4 2554.6 1886 2554.1 C1885.6 2553.5 1884.4 2552.4 1884.6 2552 C1884.7 2551.5 1886.6 2551 1887.3 2550.9 C1888.1 2550.8 1889.8 2550.8 1890.2 2551.1 C1890.5 2551.4 1890.1 2552.8 1890 2553.3 Z" fill="#2ca02c"/><path d="M1825.9 2542.5 C1826.2 2543.5 1826.2 2546.4 1825.3 2547 C1824.5 2547.5 1821 2546.9 1819.7 2546.5 C1818.4 2546.2 1815.7 2545.3 1815.4 2544.6 C1815.1 2543.9 1817 2541.9 1817.6 2541.2 C1818.2 2540.5 1819.1 2539.4 1819.9 2539.2 C1820.7 2538.9 1822.9 2539.1 1823.7 2539.6 C1824.5 2540 1825.7 2541.5 1825.9 2542.5 Z" fill="#2ca02c"/><path d="M1835 2593.4 C1835 2594.2 1834.7 2596.2 1834.1 2596.5 C1833.5 2596.8 1831.4 2595.7 1830.4 2595.5 C1829.4 2595.4 1826.7 2595.6 1826.5 2595.2 C1826.2 2594.8 1827.9 2593.1 1828.4 2592.4 C1828.9 2591.8 1829.5 2590.8 1830.2 2590.5 C1830.9 2590.3 1833.2 2590.2 1833.8 2590.6 C1834.5 2591 1834.9 2592.7 1835 2593.4 Z" fill="#ff7f0e"/><path d="M1865.4 2626.5 C1865.5 2627.4 1864 2630.1 1862.9 2630.7 C1861.8 2631.3 1858.3 2631.5 1857.4 2631.1 C1856.4 2630.7 1856.4 2628.5 1855.8 2627.6 C1855.2 2626.7 1852.5 2624.9 1852.7 2624.2 C1853 2623.5 1856.3 2622.5 1857.5 2622.4 C1858.7 2622.3 1860.7 2622.9 1861.7 2623.5 C1862.8 2624 1865.2 2625.5 1865.4 2626.5 Z" fill="#2ca02c"/><path d="M1761.1 2664.6 C1761.2 2665 1760.3 2665.9 1759.8 2666.3 C1759.3 2666.6 1758 2667.2 1757.4 2667.1 C1756.8 2667 1755.6 2666.1 1755.4 2665.6 C1755.1 2665.2 1755.2 2664 1755.4 2663.5 C1755.7 2663 1756.8 2662.1 1757.4 2662 C1757.9 2662 1759.1 2662.8 1759.6 2663.1 C1760.1 2663.5 1761.1 2664.1 1761.1 2664.6 Z" fill="#2ca02c"/><path d="M1885.7 2595.3 C1885.6 2595.8 1884 2597 1883.3 2597.3 C1882.7 2597.6 1881.6 2597.6 1880.7 2597.6 C1879.8 2597.5 1876.9 2597.5 1876.6 2597.1 C1876.3 2596.6 1877.9 2594.7 1878.4 2594.2 C1879 2593.6 1879.9 2592.9 1880.6 2592.8 C1881.3 2592.6 1883 2592.5 1883.7 2592.9 C1884.4 2593.2 1885.7 2594.7 1885.7 2595.3 Z" fill="#8c564b"/><path d="M1894.1 2559.5 C1894.1 2559.9 1892.3 2560.6 1891.7 2560.8 C1891.2 2561 1890.4 2561.4 1889.9 2561.3 C1889.5 2561.3 1888.8 2560.6 1888.5 2560.3 C1888.2 2559.9 1887.6 2558.9 1887.7 2558.5 C1887.9 2558 1889.2 2556.9 1889.7 2556.8 C1890.2 2556.8 1891.1 2557.9 1891.7 2558.3 C1892.3 2558.6 1894.1 2559.2 1894.1 2559.5 Z" fill="#8c564b"/><path d="M1804 2671.5 C1803.9 2672.2 1801.6 2673 1800.7 2673.6 C1799.8 2674.3 1797.9 2676.8 1797.1 2676.7 C1796.3 2676.6 1795.2 2674 1794.6 2673 C1794 2672.1 1792.3 2669.8 1792.7 2669.3 C1793.1 2668.7 1796.6 2668.8 1797.8 2668.7 C1798.9 2668.7 1800.3 2668.6 1801.2 2668.9 C1802 2669.3 1804 2670.9 1804 2671.5 Z" fill="#8c564b"/><path d="M1848.5 2533.7 C1848.5 2534.3 1847.2 2535.3 1846.6 2535.6 C1846 2535.9 1844.7 2536.1 1844.1 2536 C1843.6 2535.9 1842.8 2535.1 1842.5 2534.6 C1842.1 2534.1 1841.2 2532.9 1841.4 2532.5 C1841.7 2532 1843.3 2531.2 1844 2531.1 C1844.7 2531 1846.2 2531.4 1846.8 2531.7 C1847.4 2532.1 1848.5 2533.2 1848.5 2533.7 Z" fill="#2ca02c"/><path d="M1818.7 2555.4 C1818.5 2556.4 1818.3 2557.4 1817.7 2558 C1817.1 2558.5 1815 2559.6 1814 2559.5 C1813 2559.4 1810.7 2558 1810.4 2557.3 C1810.1 2556.5 1811 2554.8 1811.5 2554 C1812 2553.2 1812.9 2551.6 1814 2551.2 C1815.1 2550.8 1819.1 2550.3 1819.7 2550.9 C1820.3 2551.5 1819 2554.5 1818.7 2555.4 Z" fill="#2ca02c"/><path d="M1750 2672.9 C1749.9 2673.6 1748.2 2674.9 1747.4 2675.3 C1746.6 2675.8 1744.8 2676.6 1744 2676.4 C1743.1 2676.3 1741.4 2675.1 1741.1 2674.4 C1740.7 2673.7 1740.9 2672.2 1741.3 2671.5 C1741.6 2670.7 1743 2669.1 1743.8 2668.9 C1744.7 2668.8 1746.7 2669.8 1747.5 2670.3 C1748.4 2670.8 1750 2672.2 1750 2672.9 Z" fill="#ff7f0e"/><path d="M1780 2635.9 C1780.1 2636.6 1780.3 2638.4 1779.8 2638.9 C1779.2 2639.3 1776.6 2639.6 1775.9 2639.4 C1775.2 2639.1 1774.7 2637.7 1774.2 2637 C1773.7 2636.3 1772.1 2634.8 1772.3 2634.2 C1772.5 2633.6 1775 2632.5 1775.9 2632.4 C1776.8 2632.4 1778.4 2633.4 1778.9 2633.9 C1779.5 2634.4 1779.9 2635.3 1780 2635.9 Z" fill="#2ca02c"/><path d="M1903 2572.9 C1902.8 2573.7 1900.4 2574.9 1899.5 2575.3 C1898.6 2575.8 1897 2576.3 1896.1 2576.2 C1895.3 2576.1 1893.7 2575.1 1893.1 2574.4 C1892.6 2573.7 1891.5 2571.5 1891.9 2570.9 C1892.3 2570.3 1895 2570 1896.2 2569.8 C1897.4 2569.6 1899.9 2568.8 1900.8 2569.2 C1901.7 2569.6 1903.2 2572.1 1903 2572.9 Z" fill="#8c564b"/><path d="M1871.7 2610.5 C1871.7 2610.9 1870.8 2611.8 1870.3 2612.1 C1869.8 2612.5 1868.4 2613.2 1867.9 2613.1 C1867.3 2613 1866.3 2612 1866 2611.5 C1865.7 2611 1865.4 2609.7 1865.7 2609.3 C1866 2609 1867.6 2609.2 1868.2 2609.1 C1868.9 2609.1 1869.9 2608.6 1870.3 2608.8 C1870.8 2608.9 1871.7 2610 1871.7 2610.5 Z" fill="#2ca02c"/><path d="M1860.9 2592.5 C1860.9 2592.8 1860.7 2593.4 1860.4 2593.6 C1860.2 2593.7 1859.4 2593.6 1859.1 2593.6 C1858.7 2593.5 1858 2593.4 1857.8 2593.1 C1857.5 2592.9 1857 2592 1857.2 2591.7 C1857.3 2591.3 1858.4 2590.8 1858.9 2590.8 C1859.3 2590.7 1860.4 2591 1860.6 2591.3 C1860.9 2591.5 1860.9 2592.2 1860.9 2592.5 Z" fill="#ff7f0e"/><path d="M1765.9 2648.9 C1765.7 2649.5 1764 2650.1 1763.2 2650.7 C1762.5 2651.2 1761.1 2653 1760.2 2653 C1759.4 2653 1757.1 2651.5 1756.6 2650.7 C1756.2 2649.9 1756.4 2648 1756.9 2647.1 C1757.3 2646.2 1759 2644.1 1760 2644 C1761 2643.9 1763.5 2645.4 1764.3 2646 C1765 2646.7 1766 2648.2 1765.9 2648.9 Z" fill="#2ca02c"/><path d="M1717.6 2653.9 C1717.6 2654.4 1717.2 2655.6 1716.7 2655.8 C1716.3 2656 1714.9 2655.7 1714.4 2655.6 C1714 2655.4 1713.5 2654.8 1713.4 2654.5 C1713.2 2654.2 1713.3 2653.6 1713.5 2653.4 C1713.6 2653.1 1714.1 2652.9 1714.5 2652.7 C1715 2652.5 1716.4 2651.8 1716.8 2652 C1717.2 2652.1 1717.6 2653.4 1717.6 2653.9 Z" fill="#8c564b"/><path d="M1748.3 2601.2 C1748.2 2601.7 1746.6 2602.2 1746 2602.5 C1745.5 2602.7 1744.8 2603 1744.3 2603 C1743.8 2602.9 1742.9 2602.4 1742.6 2602.1 C1742.3 2601.7 1742.1 2600.7 1742.3 2600.3 C1742.5 2599.9 1743.5 2599.2 1744.2 2599 C1744.8 2598.8 1746.6 2598.6 1747.2 2598.9 C1747.7 2599.2 1748.5 2600.8 1748.3 2601.2 Z" fill="#2ca02c"/><path d="M1784.8 2609.4 C1784.9 2610.2 1783.1 2612 1782.2 2612.5 C1781.3 2613 1778.9 2613.3 1778 2613 C1777.2 2612.8 1776.5 2611.5 1775.7 2610.6 C1775 2609.8 1772.1 2607.6 1772.4 2606.8 C1772.6 2605.9 1776.3 2604.3 1777.6 2604.3 C1778.9 2604.2 1781 2605.7 1782 2606.4 C1783 2607.1 1784.8 2608.5 1784.8 2609.4 Z" fill="#ff7f0e"/><path d="M1835.7 2617.3 C1835.6 2618.1 1834.8 2619.8 1834 2620.3 C1833.3 2620.7 1830.8 2620.9 1830.1 2620.6 C1829.4 2620.4 1828.8 2618.9 1828.5 2618.3 C1828.3 2617.6 1827.7 2616.6 1827.9 2616.1 C1828.1 2615.5 1829.3 2614.4 1830.2 2614.2 C1831 2613.9 1833.3 2613.9 1834.1 2614.3 C1834.8 2614.7 1835.7 2616.5 1835.7 2617.3 Z" fill="#ff7f0e"/><path d="M1730.8 2624.9 C1730.8 2625.4 1729.3 2626.4 1728.8 2626.6 C1728.2 2626.8 1727.3 2626.6 1726.6 2626.6 C1726 2626.5 1724.3 2626.5 1724 2626.1 C1723.7 2625.8 1724.1 2624.3 1724.4 2623.9 C1724.7 2623.4 1725.9 2622.7 1726.4 2622.6 C1727 2622.6 1728.2 2623 1728.7 2623.3 C1729.3 2623.6 1730.7 2624.5 1730.8 2624.9 Z" fill="#2ca02c"/><path d="M1786.6 2507.9 C1788.6 2503.3 1801.6 2499.1 1806.4 2496.5 C1811.3 2494 1830.3 2482.6 1834.8 2482.3 C1839.4 2482 1853.3 2490 1851.9 2493.7 C1850.4 2497.4 1826.6 2513.8 1820.6 2519.2 C1814.7 2524.6 1797.9 2541.1 1792.3 2547.6 C1786.6 2554.1 1769.5 2577.7 1763.9 2584.5 C1758.2 2591.3 1741.2 2611.5 1735.5 2615.7 C1729.8 2620 1712.2 2626.2 1707.1 2627.1 C1702 2627.9 1684.4 2625.4 1684.4 2624.3 C1684.4 2623.1 1702 2618.3 1707.1 2615.7 C1712.2 2613.2 1729.8 2603.2 1735.5 2598.7 C1741.2 2594.2 1758.8 2576 1763.9 2570.3 C1769 2564.6 1784.3 2548.2 1786.6 2541.9 C1788.8 2535.7 1784.6 2512.4 1786.6 2507.9 Z" fill="#dedb9a"/><path d="M1684.4 2598.7 C1686.7 2593.5 1702 2576 1707.1 2570.3 C1712.2 2564.6 1729.8 2546.8 1735.5 2541.9 C1741.2 2537.1 1758.6 2525.3 1763.9 2522.1 C1769.1 2518.8 1785.6 2507.3 1788 2509.3 C1790.4 2511.3 1790.4 2535.8 1788 2541.9 C1785.6 2548 1769.1 2564.6 1763.9 2570.3 C1758.6 2576 1741.2 2594 1735.5 2598.7 C1729.8 2603.4 1712.2 2614.7 1707.1 2617.2 C1702 2619.6 1686.7 2624.7 1684.4 2622.8 C1682.1 2621 1682.1 2604 1684.4 2598.7 Z" fill="#f7b6d2"/><path d="M1749.7 2405.7 C1751.9 2402.3 1761 2405.7 1763.9 2408.5 C1766.7 2411.4 1777.5 2427.8 1778.1 2434.1 C1778.6 2440.3 1772.4 2463.6 1769.5 2471 C1766.7 2478.3 1753.9 2501.3 1749.7 2507.9 C1745.4 2514.4 1731.8 2530.6 1727 2536.3 C1722.1 2541.9 1706.2 2558.4 1701.4 2564.6 C1696.6 2570.9 1682.7 2592.5 1678.7 2598.7 C1674.7 2605 1664.5 2623.4 1661.7 2627.1 C1658.8 2630.8 1651.7 2636.2 1650.3 2635.6 C1648.9 2635 1646.9 2625.1 1647.5 2621.4 C1648 2617.7 1652.9 2605 1656 2598.7 C1659.1 2592.5 1674.2 2566.6 1678.7 2559 C1683.2 2551.3 1696.9 2529.4 1701.4 2522.1 C1706 2514.7 1720.1 2493.1 1724.1 2485.2 C1728.1 2477.2 1738.6 2450.5 1741.2 2442.6 C1743.7 2434.6 1747.4 2409.1 1749.7 2405.7 Z" fill="#1f77b4"/><path d="M1900.1 2400 C1901.5 2392.9 1912.9 2392.9 1914.3 2400 C1915.7 2407.1 1915.7 2463.9 1914.3 2471 C1912.9 2478.1 1901.5 2478.1 1900.1 2471 C1898.7 2463.9 1898.7 2407.1 1900.1 2400 Z" fill="#c7c7c7"/><path d="M1911.5 2436.9 C1913.5 2434.1 1929.4 2436.6 1931.3 2439.7 C1933.3 2442.9 1933.3 2465.3 1931.3 2468.1 C1929.4 2471 1913.5 2471.3 1911.5 2468.1 C1909.5 2465 1909.5 2439.7 1911.5 2436.9 Z" fill="#1b5e8c"/><path d="M1661.7 2249.2 C1666.2 2243.5 1696.9 2243.5 1707.1 2243.5 C1717.3 2243.5 1753.9 2247.2 1763.9 2249.2 C1773.8 2251.2 1797.9 2259.4 1806.4 2263.4 C1815 2267.4 1842.5 2283.9 1849 2289 C1855.6 2294.1 1868.3 2309.1 1871.7 2314.5 C1875.1 2319.9 1882 2335.8 1883.1 2342.9 C1884.2 2350 1883.7 2377.8 1883.1 2385.5 C1882.5 2393.2 1882.2 2416.6 1877.4 2420.1 C1872.6 2423.6 1843.3 2423.6 1834.8 2420.1 C1826.3 2416.6 1800.8 2390.4 1792.3 2385.5 C1783.7 2380.6 1758.2 2374.7 1749.7 2371.3 C1741.2 2367.9 1714.2 2355.7 1707.1 2351.4 C1700 2347.2 1683.2 2333.8 1678.7 2328.7 C1674.2 2323.6 1663.4 2308.3 1661.7 2300.3 C1660 2292.4 1657.1 2254.9 1661.7 2249.2 Z" fill="#dedb9a"/><path d="M1707.1 2306 C1711.4 2300.3 1741.2 2294.6 1749.7 2294.6 C1758.2 2294.6 1786.6 2302.6 1792.3 2306 C1797.9 2309.4 1805.9 2323.6 1806.4 2328.7 C1807 2333.8 1800.8 2351.4 1797.9 2357.1 C1795.1 2362.8 1782.9 2381.2 1778.1 2385.5 C1773.2 2389.7 1755.3 2399.7 1749.7 2399.7 C1744 2399.7 1725.5 2390.3 1721.3 2385.5 C1717 2380.7 1708.5 2359.4 1707.1 2351.4 C1705.7 2343.5 1702.8 2311.7 1707.1 2306 Z" fill="#c9b3da"/><path d="M1778.1 2300.3 C1779.5 2296.9 1800.8 2294.1 1806.4 2294.6 C1812.1 2295.2 1829.7 2302.6 1834.8 2306 C1839.9 2309.4 1856.1 2324.7 1857.5 2328.7 C1859 2332.7 1852.7 2344.6 1849 2345.7 C1845.3 2346.9 1826.3 2341.8 1820.6 2340.1 C1815 2338.4 1796.5 2332.7 1792.3 2328.7 C1788 2324.7 1776.6 2303.7 1778.1 2300.3 Z" fill="#f5a3b5"/><path d="M1661.7 2252.1 C1663.9 2248.1 1679 2248.7 1684.4 2249.2 C1689.8 2249.8 1712.2 2253.8 1715.6 2257.7 C1719 2261.7 1718.7 2281.9 1718.4 2289 C1718.2 2296.1 1715 2324.2 1712.8 2328.7 C1710.5 2333.2 1699.7 2335 1695.7 2334.4 C1691.8 2333.8 1676.4 2327.6 1673 2323 C1669.6 2318.5 1662.8 2296.1 1661.7 2289 C1660.5 2281.9 1659.4 2256 1661.7 2252.1 Z" fill="#c49c94"/><path d="M1684.4 2260.6 C1686.4 2257.2 1702 2255.2 1707.1 2254.9 C1712.2 2254.6 1729.8 2256 1735.5 2257.7 C1741.2 2259.4 1760.2 2268.5 1763.9 2271.9 C1767.6 2275.3 1772.9 2288.1 1772.4 2291.8 C1771.8 2295.5 1762.4 2306.8 1758.2 2308.8 C1753.9 2310.8 1734.9 2312 1729.8 2311.7 C1724.7 2311.4 1711.4 2308.3 1707.1 2306 C1702.8 2303.7 1689.5 2293.5 1687.2 2289 C1685 2284.4 1682.4 2264 1684.4 2260.6 Z" fill="#858585"/><path d="M1687.2 2269.1 C1688.9 2267.1 1702.8 2263.4 1707.1 2263.4 C1711.4 2263.4 1726.4 2267.4 1729.8 2269.1 C1733.2 2270.8 1741.2 2278.5 1741.2 2280.4 C1741.2 2282.4 1733.2 2288 1729.8 2289 C1726.4 2290 1711.1 2291 1707.1 2290.4 C1703.1 2289.8 1692 2285.4 1690.1 2283.3 C1688.1 2281.2 1685.5 2271.1 1687.2 2269.1 Z" fill="#d62728"/><path d="M1729.8 2206.6 C1732.6 2203.8 1756.2 2202.4 1763.9 2203.8 C1771.5 2205.2 1797.9 2216.3 1806.4 2220.8 C1815 2225.4 1841.9 2243.5 1849 2249.2 C1856.1 2254.9 1875.1 2272.5 1877.4 2277.6 C1879.7 2282.7 1874.6 2297.5 1871.7 2300.3 C1868.9 2303.2 1854.1 2307.1 1849 2306 C1843.9 2304.9 1827.7 2293.5 1820.6 2289 C1813.5 2284.4 1785.2 2264.6 1778.1 2260.6 C1771 2256.6 1753.9 2252.1 1749.7 2249.2 C1745.4 2246.4 1737.5 2236.4 1735.5 2232.2 C1733.5 2227.9 1727 2209.5 1729.8 2206.6 Z" fill="#2ca02c"/><path d="M1749.7 2223.7 C1751.7 2221.7 1772.4 2222.3 1778.1 2223.7 C1783.7 2225.1 1800.8 2234.2 1806.4 2237.9 C1812.1 2241.6 1830 2256 1834.8 2260.6 C1839.7 2265.1 1853 2279.3 1854.7 2283.3 C1856.4 2287.3 1853.9 2299.2 1851.9 2300.3 C1849.9 2301.5 1839.4 2297.5 1834.8 2294.6 C1830.3 2291.8 1812.1 2275.9 1806.4 2271.9 C1800.8 2268 1782.9 2257.7 1778.1 2254.9 C1773.2 2252.1 1761 2246.7 1758.2 2243.5 C1755.3 2240.4 1747.7 2225.7 1749.7 2223.7 Z" fill="#ff7f0e"/><path d="M1774.3 2234.2 C1774.4 2234.8 1773.8 2236.6 1773.3 2236.8 C1772.7 2237.1 1770.8 2236.2 1770.1 2236 C1769.4 2235.7 1768 2235.6 1767.8 2235.2 C1767.6 2234.9 1768.4 2233.8 1768.7 2233.4 C1769 2233 1769.5 2232.3 1770 2232.1 C1770.6 2232 1772.1 2231.8 1772.7 2232.1 C1773.3 2232.4 1774.3 2233.5 1774.3 2234.2 Z" fill="#2ca02c"/><path d="M1827.4 2250.9 C1827.5 2251.4 1827.7 2252.7 1827.2 2253.1 C1826.8 2253.4 1824.9 2253.6 1824.3 2253.4 C1823.8 2253.2 1823.4 2252.1 1823.2 2251.6 C1823 2251.1 1822.5 2250.3 1822.7 2250 C1822.9 2249.6 1824.1 2249.2 1824.6 2249.1 C1825 2249 1826 2249.3 1826.4 2249.5 C1826.8 2249.8 1827.3 2250.4 1827.4 2250.9 Z" fill="#ff9896"/><path d="M1782.9 2244.5 C1782.9 2244.9 1783.1 2245.7 1782.8 2245.9 C1782.5 2246.1 1781.5 2245.9 1780.9 2245.8 C1780.4 2245.8 1778.6 2245.8 1778.5 2245.5 C1778.3 2245.3 1779.5 2244.2 1779.8 2243.9 C1780.2 2243.5 1780.5 2243 1780.9 2242.9 C1781.3 2242.7 1782.7 2242.6 1783 2242.8 C1783.2 2243 1783 2244 1782.9 2244.5 Z" fill="#ff9896"/><path d="M1784 2246.7 C1784.1 2247.1 1784.3 2248.3 1784 2248.6 C1783.6 2248.8 1782.1 2248.8 1781.5 2248.7 C1781 2248.5 1780 2247.9 1779.8 2247.5 C1779.7 2247.2 1780.3 2246.5 1780.5 2246.1 C1780.7 2245.7 1781.1 2244.7 1781.5 2244.6 C1781.8 2244.5 1782.8 2245.3 1783.2 2245.6 C1783.5 2245.9 1783.9 2246.3 1784 2246.7 Z" fill="#ff9896"/><path d="M1850.1 2269.9 C1850.1 2270.3 1850.4 2271.3 1850.1 2271.5 C1849.8 2271.7 1848.5 2271.7 1848 2271.6 C1847.5 2271.6 1846.4 2271.1 1846.2 2270.8 C1846 2270.5 1846.4 2269.5 1846.6 2269.2 C1846.9 2268.8 1847.6 2268.2 1848 2268.1 C1848.4 2268 1849.4 2268.4 1849.7 2268.7 C1850 2268.9 1850 2269.5 1850.1 2269.9 Z" fill="#2ca02c"/><path d="M1830 2273.2 C1829.9 2273.8 1829.9 2275 1829.6 2275.2 C1829.2 2275.4 1827.7 2275 1827.1 2274.8 C1826.5 2274.7 1825.3 2274.5 1825 2274.2 C1824.8 2273.8 1824.8 2272.8 1825 2272.2 C1825.2 2271.7 1826 2270.4 1826.7 2270.2 C1827.3 2270 1829.4 2270.5 1829.9 2270.9 C1830.3 2271.3 1830 2272.6 1830 2273.2 Z" fill="#ff9896"/><path d="M1861.2 2293.7 C1861.2 2294.3 1860.1 2295.7 1859.5 2296 C1858.9 2296.2 1857.4 2295.9 1856.7 2295.7 C1856 2295.6 1854.8 2295.4 1854.3 2294.9 C1853.8 2294.4 1852.6 2292.6 1852.8 2292 C1853.1 2291.4 1855.4 2290.2 1856.3 2290.2 C1857.1 2290.2 1858.5 2291.4 1859.1 2291.9 C1859.8 2292.3 1861.1 2293.2 1861.2 2293.7 Z" fill="#2ca02c"/><path d="M1799.3 2262 C1799.3 2262.3 1798.1 2263.2 1797.6 2263.4 C1797.1 2263.6 1796.3 2263.5 1795.8 2263.5 C1795.3 2263.4 1794.2 2263.2 1794 2262.8 C1793.7 2262.5 1793.4 2261.3 1793.7 2261 C1793.9 2260.7 1795.3 2260.6 1795.8 2260.5 C1796.3 2260.5 1797 2260.5 1797.5 2260.7 C1797.9 2260.9 1799.2 2261.6 1799.3 2262 Z" fill="#98df8a"/><path d="M1820.6 2252.5 C1820.6 2252.8 1820.3 2253.6 1819.9 2253.9 C1819.6 2254.2 1818.5 2254.5 1817.9 2254.4 C1817.4 2254.4 1815.9 2253.9 1815.7 2253.5 C1815.5 2253.2 1816.1 2252 1816.4 2251.7 C1816.7 2251.3 1817.5 2250.7 1818 2250.7 C1818.4 2250.6 1819.4 2251 1819.7 2251.2 C1820.1 2251.5 1820.5 2252.1 1820.6 2252.5 Z" fill="#98df8a"/><path d="M1744.7 2220.9 C1744.7 2221.3 1744.5 2222 1744.2 2222.1 C1744 2222.3 1743 2222.3 1742.6 2222.2 C1742.2 2222.1 1741.4 2221.8 1741.3 2221.6 C1741.1 2221.3 1741 2220.5 1741.2 2220.2 C1741.3 2219.9 1742 2219.2 1742.5 2219.1 C1742.9 2219 1744.3 2219.1 1744.6 2219.3 C1744.9 2219.6 1744.8 2220.5 1744.7 2220.9 Z" fill="#98df8a"/><path d="M1644.6 2237.9 C1647.8 2236.4 1671 2233.3 1678.7 2232.2 C1686.4 2231.1 1714.2 2226.8 1721.3 2226.5 C1728.4 2226.2 1745.4 2227.6 1749.7 2229.4 C1753.9 2231.1 1761 2241 1763.9 2243.5 C1766.7 2246.1 1779.5 2254 1778.1 2254.9 C1776.6 2255.8 1756.8 2253.1 1749.7 2252.6 C1742.6 2252.1 1715.6 2250.1 1707.1 2249.8 C1698.6 2249.5 1670.5 2250.1 1664.5 2249.8 C1658.6 2249.5 1649.5 2247.6 1647.5 2246.4 C1645.5 2245.2 1641.5 2239.3 1644.6 2237.9 Z" fill="#1b5e8c"/><path d="M1857.5 2289 C1858.7 2286.7 1873.7 2296.9 1877.4 2300.3 C1881.1 2303.7 1891.6 2317.9 1894.4 2323 C1897.3 2328.1 1905.2 2348 1905.8 2351.4 C1906.4 2354.8 1902.4 2357.7 1900.1 2357.1 C1897.8 2356.5 1886.5 2349.1 1883.1 2345.7 C1879.7 2342.3 1868.6 2328.7 1866.1 2323 C1863.5 2317.4 1856.4 2291.2 1857.5 2289 Z" fill="#1b5e8c"/><path d="M1857.5 2340.1 C1858.7 2336.1 1878.8 2342.6 1883.1 2345.7 C1887.3 2348.9 1897.8 2363.8 1900.1 2371.3 C1902.4 2378.7 1908.1 2415.2 1905.8 2420.1 C1903.5 2425 1880.8 2423.6 1877.4 2420.1 C1874 2416.6 1873.7 2393.5 1871.7 2385.5 C1869.7 2377.5 1856.4 2344 1857.5 2340.1 Z" fill="#c7c7c7"/><path d="M1888.8 2328.7 C1889.2 2325 1902.4 2331.5 1905.8 2334.4 C1909.2 2337.2 1920 2352 1922.8 2357.1 C1925.7 2362.2 1933 2379.2 1934.2 2385.5 C1935.3 2391.8 1936.9 2416.6 1934.2 2420.1 C1931.5 2423.6 1910.5 2425 1907.2 2420.1 C1904 2415.2 1903.4 2380.4 1901.5 2371.3 C1899.7 2362.1 1888.3 2332.4 1888.8 2328.7 Z" fill="#98df8a"/><path d="M1712.8 2354.3 C1713.8 2351.4 1722.4 2349.4 1724.1 2351.4 C1725.8 2353.4 1729.4 2369 1729.8 2374.1 C1730.2 2379.2 1729.5 2399.7 1728.4 2402.5 C1727.2 2405.3 1719.9 2404.8 1718.4 2402.5 C1717 2400.2 1714.8 2384.6 1714.2 2379.8 C1713.6 2375 1711.8 2357.1 1712.8 2354.3 Z" fill="#17868f"/>
<path d="M1490 2160 C1487.5 2159.8 1470.2 2157.9 1464.9 2158.3 C1459.6 2158.7 1442.3 2163.2 1436.6 2164 C1430.9 2164.8 1416.7 2166.2 1408.2 2166.8 C1399.7 2167.4 1362.9 2169.1 1351.6 2169.7 C1340.3 2170.3 1303.4 2171.9 1294.9 2172.5 C1286.4 2173.1 1272.3 2174.6 1266.6 2175.3 C1260.9 2176 1244 2178.5 1238.3 2179.6 C1232.6 2180.7 1215.7 2184.9 1210 2186.7 C1204.3 2188.5 1187.3 2195.2 1181.6 2198 C1175.9 2200.8 1158.1 2211.6 1153.3 2215 C1148.5 2218.4 1137.2 2228.3 1133.5 2232 C1129.8 2235.7 1119.3 2247.3 1116.5 2251.8 C1113.7 2256.3 1107.1 2272.5 1105.1 2277.3 C1103.1 2282.1 1098.4 2294.9 1096.7 2300 C1095 2305.1 1089.6 2322.6 1088.2 2328.3 C1086.8 2334 1083.9 2350.9 1082.5 2356.6 C1081.1 2362.3 1075.7 2378.6 1074 2384.9 C1072.3 2391.2 1067.4 2412.8 1066 2420 C1064.6 2427.2 1061.1 2447.4 1059.8 2456.7 C1058.5 2466 1053.1 2504.5 1052.7 2513.3 C1052.3 2522.1 1054.4 2539.3 1056 2545 C1057.6 2550.7 1065.6 2563.3 1068.3 2570 C1071 2576.7 1078.8 2605.9 1082.5 2612.4 C1086.2 2618.9 1100.8 2630.8 1105.1 2635.1 C1109.3 2639.4 1119.6 2650.2 1125 2655 C1130.4 2659.8 1150.5 2679.6 1159 2683.3 C1167.5 2687 1199.2 2690.7 1210 2691.8 C1220.8 2692.9 1255.3 2694 1266.6 2694.6 C1277.9 2695.2 1313.4 2698.2 1323.3 2697.4 C1333.2 2696.6 1360 2688.1 1365.7 2686.1 C1371.4 2684.1 1377.6 2677.9 1379.9 2677.6 C1382.2 2677.3 1386.1 2681.6 1388.4 2683.3 C1390.7 2685 1397.8 2692.9 1402.6 2694.6 C1407.4 2696.3 1427.9 2699.4 1436.6 2700.2 C1445.3 2701 1484.7 2702.7 1490 2703 C1495.3 2703.3 1484.7 2703.3 1490 2703 C1495.3 2702.7 1534.7 2701 1543.4 2700.2 C1552.1 2699.4 1572.6 2696.3 1577.4 2694.6 C1582.2 2692.9 1589.3 2685 1591.6 2683.3 C1593.9 2681.6 1597.8 2677.3 1600.1 2677.6 C1602.4 2677.9 1608.6 2684.1 1614.3 2686.1 C1620 2688.1 1646.8 2696.6 1656.7 2697.4 C1666.6 2698.2 1702.1 2695.2 1713.4 2694.6 C1724.7 2694 1759.2 2692.9 1770 2691.8 C1780.8 2690.7 1812.5 2687 1821 2683.3 C1829.5 2679.6 1849.6 2659.8 1855 2655 C1860.4 2650.2 1870.7 2639.4 1874.9 2635.1 C1879.2 2630.8 1893.8 2618.9 1897.5 2612.4 C1901.2 2605.9 1909 2576.7 1911.7 2570 C1914.4 2563.3 1922.4 2550.7 1924 2545 C1925.6 2539.3 1927.7 2522.1 1927.3 2513.3 C1926.9 2504.5 1921.5 2466 1920.2 2456.7 C1918.9 2447.4 1915.4 2427.2 1914 2420 C1912.6 2412.8 1907.7 2391.2 1906 2384.9 C1904.3 2378.6 1898.9 2362.3 1897.5 2356.6 C1896.1 2350.9 1893.2 2334 1891.8 2328.3 C1890.4 2322.6 1885 2305.1 1883.3 2300 C1881.6 2294.9 1876.9 2282.1 1874.9 2277.3 C1872.9 2272.5 1866.3 2256.3 1863.5 2251.8 C1860.7 2247.3 1850.2 2235.7 1846.5 2232 C1842.8 2228.3 1831.5 2218.4 1826.7 2215 C1821.9 2211.6 1804.1 2200.8 1798.4 2198 C1792.7 2195.2 1775.7 2188.5 1770 2186.7 C1764.3 2184.9 1747.4 2180.7 1741.7 2179.6 C1736 2178.5 1719.1 2176 1713.4 2175.3 C1707.7 2174.6 1693.6 2173.1 1685.1 2172.5 C1676.6 2171.9 1639.7 2170.3 1628.4 2169.7 C1617.1 2169.1 1580.3 2167.4 1571.8 2166.8 C1563.3 2166.2 1549.1 2164.8 1543.4 2164 C1537.7 2163.2 1520.4 2158.7 1515.1 2158.3 C1509.8 2157.9 1492.5 2159.8 1490 2160 C1487.5 2160.2 1492.5 2160.2 1490 2160 Z" fill="none" stroke="#9467bd" stroke-width="17"/>
<path d="M1071.2 2470.8 C1070.7 2477.9 1067.4 2498.7 1068.3 2513.3 C1069.3 2527.9 1073 2544.5 1076.8 2558.6 C1080.6 2572.8 1084.8 2585.5 1091 2598.3 C1097.1 2611 1105.1 2624.7 1113.6 2635.1 C1122.1 2645.5 1132.1 2654 1142 2660.6 C1151.9 2667.2 1159.4 2671.2 1173.1 2674.8 C1186.8 2678.3 1206.2 2680.2 1224.1 2681.8 C1242.1 2683.5 1261.9 2684.2 1280.8 2684.7 C1299.6 2685.1 1322.3 2685.6 1337.4 2684.7 C1352.5 2683.7 1365.7 2679.9 1371.4 2679" fill="none" stroke="#2ca02c" stroke-width="6"/>
<path d="M1908.8 2470.8 C1909.3 2477.9 1912.6 2498.7 1911.7 2513.3 C1910.7 2527.9 1907 2544.5 1903.2 2558.6 C1899.4 2572.8 1895.2 2585.5 1889 2598.3 C1882.9 2611 1874.9 2624.7 1866.4 2635.1 C1857.9 2645.5 1847.9 2654 1838 2660.6 C1828.1 2667.2 1820.6 2671.2 1806.9 2674.8 C1793.2 2678.3 1773.8 2680.2 1755.9 2681.8 C1737.9 2683.5 1718.1 2684.2 1699.2 2684.7 C1680.4 2685.1 1657.7 2685.6 1642.6 2684.7 C1627.5 2683.7 1614.3 2679.9 1608.6 2679" fill="none" stroke="#2ca02c" stroke-width="6"/>
<path d="M1311 2383.1 C1315.2 2380.2 1361.4 2369.2 1373.3 2369 C1385.2 2368.7 1418.2 2375.2 1430 2380.3 C1441.7 2385.4 1478.7 2420 1490.9 2420 C1503 2420 1538 2384.8 1551.8 2380.3 C1565.5 2375.8 1616.1 2374.1 1628.2 2374.6 C1640.4 2375.2 1670.7 2383 1673.6 2386 C1676.4 2388.9 1666.8 2401 1656.6 2404.4 C1646.4 2407.8 1585.7 2415.6 1571.6 2420 C1557.4 2424.3 1521.7 2442.6 1514.9 2448.3 C1508.1 2453.9 1502.2 2469.5 1503.6 2476.6 C1505 2483.7 1525.1 2512.7 1529.1 2519.1 C1533.1 2525.4 1552.3 2538 1543.3 2540.1 C1534.2 2542.1 1446.9 2543.6 1438.5 2540.1 C1430 2536.5 1454.6 2511.8 1458.3 2504.9 C1462 2498 1476.7 2478 1475.3 2470.9 C1473.9 2463.9 1452.9 2440.3 1444.1 2434.1 C1435.3 2427.9 1398.8 2412.2 1387.5 2408.6 C1376.1 2405.1 1338.5 2401.3 1330.8 2398.7 C1323.2 2396.2 1306.7 2386.1 1311 2383.1 Z" fill="#7f7f7f"/>
<g><ellipse cx="1342.1" cy="2476.6" rx="78" ry="66" transform="rotate(-15 1342.1 2476.6)" fill="#c49c94" /><ellipse cx="1342.7" cy="2476.6" rx="68" ry="56" transform="rotate(-15 1342.7 2476.6)" fill="#ffbb78" /><path d="M1296.8 2453.9 C1299.1 2451.1 1312.4 2448.6 1316.7 2448.3 C1320.9 2448 1335.1 2450 1339.3 2451.1 C1343.6 2452.2 1356.3 2457.1 1359.1 2459.6 C1362 2462.2 1367.4 2473.2 1367.6 2476.6 C1367.9 2480 1364.2 2490.8 1362 2493.6 C1359.7 2496.4 1348.7 2503.5 1345 2504.9 C1341.3 2506.3 1329.4 2508.3 1325.1 2507.8 C1320.9 2507.2 1305.6 2502.4 1302.5 2499.3 C1299.4 2496.1 1294.6 2481.1 1294 2476.6 C1293.4 2472.1 1294.6 2456.8 1296.8 2453.9 Z" fill="#1e7a1e"/><path d="M1311 2400.1 C1313.3 2396.6 1333.1 2388.1 1339.3 2387.4 C1345.5 2386.7 1367.1 2390.2 1373.3 2393 C1379.5 2395.9 1396 2410 1401.6 2415.7 C1407.3 2421.4 1425.3 2443.5 1430 2449.7 C1434.6 2455.9 1446.8 2472.4 1448.4 2478 C1449.9 2483.7 1448.2 2502.1 1445.5 2506.3 C1442.8 2510.6 1425.8 2518.8 1421.5 2520.5 C1417.1 2522.2 1404.7 2524.9 1401.6 2523.3 C1398.5 2521.8 1391.1 2509.6 1390.3 2504.9 C1389.4 2500.3 1394.3 2482.3 1393.1 2476.6 C1392 2470.9 1383.2 2453.1 1379 2448.3 C1374.7 2443.5 1356.9 2431 1350.6 2428.5 C1344.4 2425.9 1320.6 2425.6 1316.7 2422.8 C1312.7 2420 1308.7 2403.7 1311 2400.1 Z" fill="#d62728"/><path d="M1277 2343.5 C1277 2339.2 1288.6 2324.8 1294 2320.8 C1299.4 2316.8 1322.9 2306.4 1330.8 2303.8 C1338.7 2301.3 1364.8 2295.9 1373.3 2295.3 C1381.8 2294.8 1407.3 2296.2 1415.8 2298.2 C1424.3 2300.1 1450.6 2311.5 1458.3 2315.1 C1465.9 2318.8 1488.9 2330.7 1492.3 2335 C1495.7 2339.2 1495.7 2354 1492.3 2357.6 C1488.9 2361.3 1467.3 2370.1 1458.3 2371.8 C1449.2 2373.5 1413 2374.9 1401.6 2374.6 C1390.3 2374.3 1355.7 2370.1 1345 2369 C1334.2 2367.8 1300.8 2365.9 1294 2363.3 C1287.2 2360.8 1277 2347.7 1277 2343.5 Z" fill="#7b4ea0"/><path d="M1313.8 2335 C1317.5 2330.6 1337.6 2311.6 1345 2308.1 C1352.3 2304.5 1379 2299.7 1387.5 2299.6 C1396 2299.4 1422.9 2304.2 1430 2306.7 C1437 2309.1 1452.2 2321.4 1458.3 2324.2 C1464.4 2327 1488.3 2332.5 1490.9 2335 C1493.4 2337.5 1487 2346.7 1483.8 2349.1 C1480.5 2351.5 1465.1 2358.1 1458.3 2359.1 C1451.5 2360 1424.3 2359.1 1415.8 2359.1 C1407.3 2359 1381.8 2358.3 1373.3 2358.2 C1364.8 2358.1 1337.3 2358.3 1330.8 2357.6 C1324.3 2357 1309.9 2354.2 1308.2 2352 C1306.5 2349.7 1310.1 2339.4 1313.8 2335 Z" fill="#17becf"/><path d="M1345 2315.7 C1352.1 2314.3 1373.3 2307.2 1387.5 2307.2 C1401.6 2307.2 1418.2 2311.8 1430 2315.7 C1441.8 2319.6 1453.6 2328.2 1458.3 2330.7" fill="none" stroke="#e8f2f2" stroke-width="5" stroke-linecap="round"/><path d="M1373.3 2361 C1379 2360.1 1420.9 2360.2 1430 2360.5 C1439 2360.8 1461.1 2362.6 1463.9 2363.9 C1466.8 2365.1 1464.5 2372.4 1458.3 2373.2 C1452 2374.1 1410.1 2372.7 1401.6 2372.4 C1393.1 2372 1376.1 2370.7 1373.3 2369.5 C1370.5 2368.4 1367.6 2361.9 1373.3 2361 Z" fill="#fde3c8"/><path d="M1316.7 2369 C1322.3 2368.4 1362 2373.8 1373.3 2374.6 C1384.6 2375.5 1419.8 2377.5 1430 2377.5 C1440.1 2377.5 1470.2 2373.8 1475.3 2374.6 C1480.4 2375.5 1485.5 2384.5 1480.9 2386 C1476.4 2387.4 1440.7 2389.1 1430 2388.8 C1419.2 2388.5 1384.6 2384 1373.3 2383.1 C1362 2382.3 1322.3 2381.7 1316.7 2380.3 C1311 2378.9 1311 2369.5 1316.7 2369 Z" fill="#17becf"/><path d="M1373.3 2286.8 C1376.7 2284.8 1407.3 2277.8 1415.8 2278.3 C1424.3 2278.9 1450.8 2289.5 1458.3 2292.5 C1465.8 2295.5 1487.6 2304.9 1490.9 2308.1 C1494.1 2311.2 1492.7 2323.2 1490.9 2324.2 C1489 2325.3 1477.1 2320.2 1472.4 2318.5 C1467.8 2316.8 1449.8 2308.9 1444.1 2307.2 C1438.5 2305.5 1422 2302.4 1415.8 2301.6 C1409.6 2300.7 1386 2300.2 1381.8 2298.7 C1377.6 2297.2 1369.9 2288.9 1373.3 2286.8 Z" fill="#1f77b4"/><path d="M1430 2371.8 C1432.8 2369 1452.2 2369.2 1458.3 2369 C1464.4 2368.7 1487.6 2362.7 1490.9 2369 C1494.1 2375.2 1494.1 2425.1 1490.9 2431.3 C1487.6 2437.5 1463.8 2432.4 1458.3 2431.3 C1452.8 2430.1 1438.5 2423.4 1435.6 2420 C1432.8 2416.6 1430.5 2402.1 1430 2397.3 C1429.4 2392.5 1427.1 2374.6 1430 2371.8 Z" fill="#f8d5e2"/><path d="M1472.4 2343.5 C1474 2340.4 1489 2337.5 1490.9 2340.6 C1492.7 2343.8 1492.4 2371.5 1490.9 2374.6 C1489.3 2377.7 1477.1 2374.9 1475.3 2371.8 C1473.4 2368.7 1470.9 2346.6 1472.4 2343.5 Z" fill="#f3efc2"/><path d="M1483.8 2371.8 C1484.6 2369.1 1490.1 2365.6 1490.9 2370.4 C1491.6 2375.2 1491.3 2415 1490.9 2420 C1490.4 2424.9 1487.5 2422.2 1486.6 2420 C1485.8 2417.7 1482.6 2402.1 1482.4 2397.3 C1482.1 2392.5 1482.9 2374.5 1483.8 2371.8 Z" fill="#6e5a3a"/><path d="M1485.2 2391.6 C1485.6 2389.4 1490.3 2387.9 1490.9 2390.2 C1491.4 2392.5 1491.3 2412 1490.9 2414.3 C1490.4 2416.6 1487.2 2415.1 1486.6 2412.9 C1486 2410.6 1484.8 2393.9 1485.2 2391.6 Z" fill="#17868f"/><path d="M1342.6 2346.2 C1342.6 2346.6 1341.7 2347.2 1341.3 2347.5 C1340.9 2347.8 1339.9 2348.7 1339.3 2348.7 C1338.7 2348.7 1337.3 2347.8 1337.1 2347.3 C1336.9 2346.9 1337.3 2345.7 1337.6 2345.3 C1337.9 2344.9 1338.9 2344.2 1339.4 2344.2 C1339.9 2344.1 1340.9 2344.6 1341.3 2344.9 C1341.8 2345.2 1342.6 2345.9 1342.6 2346.2 Z" fill="#a0522d"/><path d="M1320.3 2355.2 C1320.3 2355.6 1320.6 2356.5 1320.3 2356.8 C1320 2357.1 1318.5 2357.6 1318 2357.4 C1317.5 2357.3 1316.5 2356.5 1316.3 2356 C1316.2 2355.6 1316.5 2354.9 1316.7 2354.4 C1316.9 2354 1317.5 2352.9 1318 2352.8 C1318.5 2352.7 1320 2353.2 1320.3 2353.5 C1320.6 2353.8 1320.3 2354.7 1320.3 2355.2 Z" fill="#9467bd"/><path d="M1405.9 2322.1 C1405.9 2322.3 1405.1 2322.7 1404.8 2323 C1404.4 2323.3 1403.6 2324.2 1403.3 2324.2 C1402.9 2324.2 1402.3 2323.1 1402.2 2322.7 C1402.1 2322.4 1402.4 2321.9 1402.5 2321.5 C1402.6 2321.2 1403 2320.1 1403.3 2320.1 C1403.6 2320 1404.5 2320.9 1404.8 2321.1 C1405.2 2321.4 1405.9 2321.8 1405.9 2322.1 Z" fill="#a0522d"/><path d="M1382.9 2341.1 C1382.9 2341.4 1382.1 2342 1381.8 2342.1 C1381.5 2342.3 1381 2342.2 1380.5 2342.2 C1380.1 2342.2 1378.6 2342.3 1378.5 2342.1 C1378.3 2341.8 1379.1 2340.9 1379.3 2340.6 C1379.6 2340.2 1379.9 2339.2 1380.3 2339.2 C1380.6 2339.1 1381.5 2339.9 1381.8 2340.1 C1382.2 2340.4 1382.9 2340.9 1382.9 2341.1 Z" fill="#7b4ea0"/><path d="M1426.5 2348.9 C1426.4 2349.3 1425.2 2349.8 1424.7 2350 C1424.2 2350.3 1423.5 2350.8 1423 2350.8 C1422.5 2350.8 1420.9 2350.3 1420.7 2350 C1420.6 2349.6 1421.5 2348.7 1421.8 2348.2 C1422.1 2347.7 1422.3 2346.5 1422.8 2346.3 C1423.3 2346.1 1425.1 2346.5 1425.6 2346.9 C1426.1 2347.2 1426.6 2348.5 1426.5 2348.9 Z" fill="#9467bd"/><path d="M1360.1 2356 C1360 2356.4 1359.8 2357.2 1359.5 2357.4 C1359.1 2357.6 1358.1 2357.6 1357.6 2357.5 C1357 2357.4 1355.5 2357.3 1355.3 2357 C1355.2 2356.7 1356.1 2355.8 1356.4 2355.3 C1356.7 2354.9 1356.9 2354 1357.4 2353.8 C1357.9 2353.6 1359.7 2353.7 1360 2353.9 C1360.4 2354.2 1360.1 2355.5 1360.1 2356 Z" fill="#a0522d"/><path d="M1388.5 2341.1 C1388.6 2341.5 1388.6 2342.7 1388.2 2343 C1387.8 2343.3 1386.2 2343.5 1385.6 2343.4 C1385 2343.3 1383.6 2342.6 1383.5 2342.2 C1383.3 2341.8 1384 2340.7 1384.3 2340.3 C1384.6 2340 1385.3 2339.5 1385.8 2339.4 C1386.3 2339.3 1387.5 2339.3 1387.8 2339.5 C1388.2 2339.7 1388.5 2340.6 1388.5 2341.1 Z" fill="#9467bd"/><path d="M1367.2 2342.8 C1367.1 2343.1 1366.9 2343.4 1366.6 2343.7 C1366.3 2343.9 1365.6 2344.7 1365.2 2344.7 C1364.8 2344.7 1363.7 2344 1363.6 2343.6 C1363.4 2343.3 1363.9 2342.5 1364.1 2342.2 C1364.3 2341.8 1364.8 2341.1 1365.2 2341 C1365.6 2340.9 1366.9 2341.2 1367.2 2341.4 C1367.4 2341.6 1367.2 2342.5 1367.2 2342.8 Z" fill="#7b4ea0"/></g><g transform="matrix(-1 0 0 1 2980 0)"><ellipse cx="1342.1" cy="2476.6" rx="78" ry="66" transform="rotate(-15 1342.1 2476.6)" fill="#c49c94" /><ellipse cx="1342.7" cy="2476.6" rx="68" ry="56" transform="rotate(-15 1342.7 2476.6)" fill="#ffbb78" /><path d="M1296.8 2453.9 C1299.1 2451.1 1312.4 2448.6 1316.7 2448.3 C1320.9 2448 1335.1 2450 1339.3 2451.1 C1343.6 2452.2 1356.3 2457.1 1359.1 2459.6 C1362 2462.2 1367.4 2473.2 1367.6 2476.6 C1367.9 2480 1364.2 2490.8 1362 2493.6 C1359.7 2496.4 1348.7 2503.5 1345 2504.9 C1341.3 2506.3 1329.4 2508.3 1325.1 2507.8 C1320.9 2507.2 1305.6 2502.4 1302.5 2499.3 C1299.4 2496.1 1294.6 2481.1 1294 2476.6 C1293.4 2472.1 1294.6 2456.8 1296.8 2453.9 Z" fill="#1e7a1e"/><path d="M1311 2400.1 C1313.3 2396.6 1333.1 2388.1 1339.3 2387.4 C1345.5 2386.7 1367.1 2390.2 1373.3 2393 C1379.5 2395.9 1396 2410 1401.6 2415.7 C1407.3 2421.4 1425.3 2443.5 1430 2449.7 C1434.6 2455.9 1446.8 2472.4 1448.4 2478 C1449.9 2483.7 1448.2 2502.1 1445.5 2506.3 C1442.8 2510.6 1425.8 2518.8 1421.5 2520.5 C1417.1 2522.2 1404.7 2524.9 1401.6 2523.3 C1398.5 2521.8 1391.1 2509.6 1390.3 2504.9 C1389.4 2500.3 1394.3 2482.3 1393.1 2476.6 C1392 2470.9 1383.2 2453.1 1379 2448.3 C1374.7 2443.5 1356.9 2431 1350.6 2428.5 C1344.4 2425.9 1320.6 2425.6 1316.7 2422.8 C1312.7 2420 1308.7 2403.7 1311 2400.1 Z" fill="#d62728"/><path d="M1277 2343.5 C1277 2339.2 1288.6 2324.8 1294 2320.8 C1299.4 2316.8 1322.9 2306.4 1330.8 2303.8 C1338.7 2301.3 1364.8 2295.9 1373.3 2295.3 C1381.8 2294.8 1407.3 2296.2 1415.8 2298.2 C1424.3 2300.1 1450.6 2311.5 1458.3 2315.1 C1465.9 2318.8 1488.9 2330.7 1492.3 2335 C1495.7 2339.2 1495.7 2354 1492.3 2357.6 C1488.9 2361.3 1467.3 2370.1 1458.3 2371.8 C1449.2 2373.5 1413 2374.9 1401.6 2374.6 C1390.3 2374.3 1355.7 2370.1 1345 2369 C1334.2 2367.8 1300.8 2365.9 1294 2363.3 C1287.2 2360.8 1277 2347.7 1277 2343.5 Z" fill="#7b4ea0"/><path d="M1313.8 2335 C1317.5 2330.6 1337.6 2311.6 1345 2308.1 C1352.3 2304.5 1379 2299.7 1387.5 2299.6 C1396 2299.4 1422.9 2304.2 1430 2306.7 C1437 2309.1 1452.2 2321.4 1458.3 2324.2 C1464.4 2327 1488.3 2332.5 1490.9 2335 C1493.4 2337.5 1487 2346.7 1483.8 2349.1 C1480.5 2351.5 1465.1 2358.1 1458.3 2359.1 C1451.5 2360 1424.3 2359.1 1415.8 2359.1 C1407.3 2359 1381.8 2358.3 1373.3 2358.2 C1364.8 2358.1 1337.3 2358.3 1330.8 2357.6 C1324.3 2357 1309.9 2354.2 1308.2 2352 C1306.5 2349.7 1310.1 2339.4 1313.8 2335 Z" fill="#17becf"/><path d="M1345 2315.7 C1352.1 2314.3 1373.3 2307.2 1387.5 2307.2 C1401.6 2307.2 1418.2 2311.8 1430 2315.7 C1441.8 2319.6 1453.6 2328.2 1458.3 2330.7" fill="none" stroke="#e8f2f2" stroke-width="5" stroke-linecap="round"/><path d="M1373.3 2361 C1379 2360.1 1420.9 2360.2 1430 2360.5 C1439 2360.8 1461.1 2362.6 1463.9 2363.9 C1466.8 2365.1 1464.5 2372.4 1458.3 2373.2 C1452 2374.1 1410.1 2372.7 1401.6 2372.4 C1393.1 2372 1376.1 2370.7 1373.3 2369.5 C1370.5 2368.4 1367.6 2361.9 1373.3 2361 Z" fill="#fde3c8"/><path d="M1316.7 2369 C1322.3 2368.4 1362 2373.8 1373.3 2374.6 C1384.6 2375.5 1419.8 2377.5 1430 2377.5 C1440.1 2377.5 1470.2 2373.8 1475.3 2374.6 C1480.4 2375.5 1485.5 2384.5 1480.9 2386 C1476.4 2387.4 1440.7 2389.1 1430 2388.8 C1419.2 2388.5 1384.6 2384 1373.3 2383.1 C1362 2382.3 1322.3 2381.7 1316.7 2380.3 C1311 2378.9 1311 2369.5 1316.7 2369 Z" fill="#17becf"/><path d="M1373.3 2286.8 C1376.7 2284.8 1407.3 2277.8 1415.8 2278.3 C1424.3 2278.9 1450.8 2289.5 1458.3 2292.5 C1465.8 2295.5 1487.6 2304.9 1490.9 2308.1 C1494.1 2311.2 1492.7 2323.2 1490.9 2324.2 C1489 2325.3 1477.1 2320.2 1472.4 2318.5 C1467.8 2316.8 1449.8 2308.9 1444.1 2307.2 C1438.5 2305.5 1422 2302.4 1415.8 2301.6 C1409.6 2300.7 1386 2300.2 1381.8 2298.7 C1377.6 2297.2 1369.9 2288.9 1373.3 2286.8 Z" fill="#1f77b4"/><path d="M1430 2371.8 C1432.8 2369 1452.2 2369.2 1458.3 2369 C1464.4 2368.7 1487.6 2362.7 1490.9 2369 C1494.1 2375.2 1494.1 2425.1 1490.9 2431.3 C1487.6 2437.5 1463.8 2432.4 1458.3 2431.3 C1452.8 2430.1 1438.5 2423.4 1435.6 2420 C1432.8 2416.6 1430.5 2402.1 1430 2397.3 C1429.4 2392.5 1427.1 2374.6 1430 2371.8 Z" fill="#f8d5e2"/><path d="M1472.4 2343.5 C1474 2340.4 1489 2337.5 1490.9 2340.6 C1492.7 2343.8 1492.4 2371.5 1490.9 2374.6 C1489.3 2377.7 1477.1 2374.9 1475.3 2371.8 C1473.4 2368.7 1470.9 2346.6 1472.4 2343.5 Z" fill="#f3efc2"/><path d="M1483.8 2371.8 C1484.6 2369.1 1490.1 2365.6 1490.9 2370.4 C1491.6 2375.2 1491.3 2415 1490.9 2420 C1490.4 2424.9 1487.5 2422.2 1486.6 2420 C1485.8 2417.7 1482.6 2402.1 1482.4 2397.3 C1482.1 2392.5 1482.9 2374.5 1483.8 2371.8 Z" fill="#6e5a3a"/><path d="M1485.2 2391.6 C1485.6 2389.4 1490.3 2387.9 1490.9 2390.2 C1491.4 2392.5 1491.3 2412 1490.9 2414.3 C1490.4 2416.6 1487.2 2415.1 1486.6 2412.9 C1486 2410.6 1484.8 2393.9 1485.2 2391.6 Z" fill="#17868f"/><path d="M1342.6 2346.2 C1342.6 2346.6 1341.7 2347.2 1341.3 2347.5 C1340.9 2347.8 1339.9 2348.7 1339.3 2348.7 C1338.7 2348.7 1337.3 2347.8 1337.1 2347.3 C1336.9 2346.9 1337.3 2345.7 1337.6 2345.3 C1337.9 2344.9 1338.9 2344.2 1339.4 2344.2 C1339.9 2344.1 1340.9 2344.6 1341.3 2344.9 C1341.8 2345.2 1342.6 2345.9 1342.6 2346.2 Z" fill="#a0522d"/><path d="M1320.3 2355.2 C1320.3 2355.6 1320.6 2356.5 1320.3 2356.8 C1320 2357.1 1318.5 2357.6 1318 2357.4 C1317.5 2357.3 1316.5 2356.5 1316.3 2356 C1316.2 2355.6 1316.5 2354.9 1316.7 2354.4 C1316.9 2354 1317.5 2352.9 1318 2352.8 C1318.5 2352.7 1320 2353.2 1320.3 2353.5 C1320.6 2353.8 1320.3 2354.7 1320.3 2355.2 Z" fill="#9467bd"/><path d="M1405.9 2322.1 C1405.9 2322.3 1405.1 2322.7 1404.8 2323 C1404.4 2323.3 1403.6 2324.2 1403.3 2324.2 C1402.9 2324.2 1402.3 2323.1 1402.2 2322.7 C1402.1 2322.4 1402.4 2321.9 1402.5 2321.5 C1402.6 2321.2 1403 2320.1 1403.3 2320.1 C1403.6 2320 1404.5 2320.9 1404.8 2321.1 C1405.2 2321.4 1405.9 2321.8 1405.9 2322.1 Z" fill="#a0522d"/><path d="M1382.9 2341.1 C1382.9 2341.4 1382.1 2342 1381.8 2342.1 C1381.5 2342.3 1381 2342.2 1380.5 2342.2 C1380.1 2342.2 1378.6 2342.3 1378.5 2342.1 C1378.3 2341.8 1379.1 2340.9 1379.3 2340.6 C1379.6 2340.2 1379.9 2339.2 1380.3 2339.2 C1380.6 2339.1 1381.5 2339.9 1381.8 2340.1 C1382.2 2340.4 1382.9 2340.9 1382.9 2341.1 Z" fill="#7b4ea0"/><path d="M1426.5 2348.9 C1426.4 2349.3 1425.2 2349.8 1424.7 2350 C1424.2 2350.3 1423.5 2350.8 1423 2350.8 C1422.5 2350.8 1420.9 2350.3 1420.7 2350 C1420.6 2349.6 1421.5 2348.7 1421.8 2348.2 C1422.1 2347.7 1422.3 2346.5 1422.8 2346.3 C1423.3 2346.1 1425.1 2346.5 1425.6 2346.9 C1426.1 2347.2 1426.6 2348.5 1426.5 2348.9 Z" fill="#9467bd"/><path d="M1360.1 2356 C1360 2356.4 1359.8 2357.2 1359.5 2357.4 C1359.1 2357.6 1358.1 2357.6 1357.6 2357.5 C1357 2357.4 1355.5 2357.3 1355.3 2357 C1355.2 2356.7 1356.1 2355.8 1356.4 2355.3 C1356.7 2354.9 1356.9 2354 1357.4 2353.8 C1357.9 2353.6 1359.7 2353.7 1360 2353.9 C1360.4 2354.2 1360.1 2355.5 1360.1 2356 Z" fill="#a0522d"/><path d="M1388.5 2341.1 C1388.6 2341.5 1388.6 2342.7 1388.2 2343 C1387.8 2343.3 1386.2 2343.5 1385.6 2343.4 C1385 2343.3 1383.6 2342.6 1383.5 2342.2 C1383.3 2341.8 1384 2340.7 1384.3 2340.3 C1384.6 2340 1385.3 2339.5 1385.8 2339.4 C1386.3 2339.3 1387.5 2339.3 1387.8 2339.5 C1388.2 2339.7 1388.5 2340.6 1388.5 2341.1 Z" fill="#9467bd"/><path d="M1367.2 2342.8 C1367.1 2343.1 1366.9 2343.4 1366.6 2343.7 C1366.3 2343.9 1365.6 2344.7 1365.2 2344.7 C1364.8 2344.7 1363.7 2344 1363.6 2343.6 C1363.4 2343.3 1363.9 2342.5 1364.1 2342.2 C1364.3 2341.8 1364.8 2341.1 1365.2 2341 C1365.6 2340.9 1366.9 2341.2 1367.2 2341.4 C1367.4 2341.6 1367.2 2342.5 1367.2 2342.8 Z" fill="#7b4ea0"/></g>
<path d="M1385 2528.2 C1388.7 2519.7 1407.1 2522.5 1413.3 2522.5 C1419.5 2522.5 1441.6 2528.4 1447.3 2528.2 C1453 2527.9 1463.2 2521.1 1470 2519.7 C1476.8 2518.2 1506.8 2512.3 1515.3 2514 C1523.8 2515.7 1548.1 2532.7 1554.9 2536.7 C1561.7 2540.6 1577.6 2551.9 1583.3 2553.6 C1588.9 2555.3 1606.8 2551.7 1611.6 2553.6 C1616.4 2555.6 1628.9 2565 1631.4 2573.5 C1634 2582 1636.2 2627.6 1637.1 2638.6 C1637.9 2649.7 1641 2677.1 1639.9 2683.9 C1638.8 2690.7 1639.9 2703.8 1625.7 2706.6 C1611.6 2709.4 1521.5 2712.3 1498.3 2712.3 C1475.1 2712.3 1405.1 2710 1393.5 2706.6 C1381.9 2703.2 1383.8 2688.2 1382.1 2678.3 C1380.4 2668.4 1376.2 2622.5 1376.5 2607.5 C1376.8 2592.5 1381.3 2536.7 1385 2528.2 Z" fill="#aec7e8"/><path d="M1444.5 2533.8 C1445.9 2531.6 1460 2524.3 1464.3 2522.5 C1468.5 2520.6 1482.1 2516 1486.9 2515.4 C1491.8 2514.8 1507.6 2515.5 1512.4 2516.8 C1517.3 2518.1 1530.9 2525 1535.1 2528.2 C1539.3 2531.3 1552.1 2544.3 1554.9 2548 C1557.8 2551.7 1564.8 2562.4 1563.4 2565 C1562 2567.5 1544.7 2572.6 1540.8 2573.5 C1536.8 2574.3 1526 2570.9 1523.8 2573.5 C1521.5 2576 1519.2 2594.2 1518.1 2599 C1517 2603.8 1513.6 2618.8 1512.4 2621.6 C1511.3 2624.5 1507.9 2629.3 1506.8 2627.3 C1505.6 2625.3 1502.2 2607.5 1501.1 2601.8 C1500 2596.1 1498 2575.5 1495.4 2570.6 C1492.9 2565.8 1480.1 2556.2 1475.6 2553.6 C1471.1 2551.1 1453.2 2547.1 1450.1 2545.1 C1447 2543.2 1443 2536.1 1444.5 2533.8 Z" fill="#dae6f5"/><path d="M1379.3 2607.5 C1381.6 2604.6 1394.9 2600.1 1399.1 2599 C1403.4 2597.8 1418.1 2597 1421.8 2596.1 C1425.5 2595.3 1433.1 2593.6 1436 2590.5 C1438.8 2587.4 1448.4 2570.1 1450.1 2565 C1451.8 2559.9 1451 2542.6 1453 2539.5 C1454.9 2536.4 1466.8 2533.3 1470 2533.8 C1473.1 2534.4 1481.6 2541.2 1484.1 2545.1 C1486.7 2549.1 1493.7 2567.8 1495.4 2573.5 C1497.1 2579.1 1500 2596.1 1501.1 2601.8 C1502.2 2607.5 1506.5 2625.3 1506.8 2630.1 C1507.1 2634.9 1506.2 2646.6 1503.9 2650 C1501.7 2653.4 1490.3 2662.7 1484.1 2664.1 C1477.9 2665.5 1449.3 2665 1441.6 2664.1 C1434 2663.3 1413.3 2657 1407.6 2655.6 C1402 2654.2 1388.1 2652.8 1385 2650 C1381.9 2647.1 1377 2631.5 1376.5 2627.3 C1375.9 2623 1377 2610.3 1379.3 2607.5 Z" fill="#e377c2"/><path d="M1424.6 2601.8 C1426.9 2599.2 1443.9 2587.9 1447.3 2587.6 C1450.7 2587.4 1458.1 2596.1 1458.6 2599 C1459.2 2601.8 1455.2 2613.7 1453 2616 C1450.7 2618.2 1438.8 2621.9 1436 2621.6 C1433.1 2621.3 1425.8 2615.1 1424.6 2613.1 C1423.5 2611.1 1422.4 2604.3 1424.6 2601.8 Z" fill="#cfaed8"/><path d="M1518.1 2570.6 C1520.4 2565.3 1537.1 2567 1540.8 2567.8 C1544.4 2568.7 1552.1 2576 1554.9 2579.1 C1557.8 2582.3 1566.3 2597.6 1569.1 2599 C1571.9 2600.4 1579.6 2593.9 1583.3 2593.3 C1586.9 2592.7 1602.2 2593.3 1605.9 2593.3 C1609.6 2593.3 1617.5 2591.9 1620.1 2593.3 C1622.6 2594.7 1630 2603.2 1631.4 2607.5 C1632.8 2611.7 1633.7 2630.4 1634.2 2635.8 C1634.8 2641.2 1637.9 2657.3 1637.1 2661.3 C1636.2 2665.2 1631.1 2674 1625.7 2675.4 C1620.4 2676.9 1591.2 2676.6 1583.3 2675.4 C1575.3 2674.3 1552.1 2666.7 1546.4 2664.1 C1540.8 2661.6 1529.4 2654.2 1526.6 2650 C1523.8 2645.7 1519 2629.6 1518.1 2621.6 C1517.3 2613.7 1515.8 2576 1518.1 2570.6 Z" fill="#e377c2"/><path d="M1563.4 2599 C1564.8 2596.1 1579.6 2597.3 1583.3 2599 C1586.9 2600.7 1598 2612 1600.2 2616 C1602.5 2619.9 1606.2 2634.7 1605.9 2638.6 C1605.6 2642.6 1599.7 2654.5 1597.4 2655.6 C1595.2 2656.8 1586.1 2652.8 1583.3 2650 C1580.4 2647.1 1571.1 2632.4 1569.1 2627.3 C1567.1 2622.2 1562 2601.8 1563.4 2599 Z" fill="#c8b8e0"/><path d="M1385 2604.6 C1386.4 2602.1 1408.2 2577.4 1413.3 2573.5 C1418.4 2569.5 1433.1 2564.1 1436 2565 C1438.8 2565.8 1442.5 2578.9 1441.6 2582 C1440.8 2585.1 1431.7 2594.4 1427.5 2596.1 C1423.2 2597.8 1403.4 2598.1 1399.1 2599 C1394.9 2599.8 1383.6 2607.2 1385 2604.6 Z" fill="#cfaed8"/><path d="M1382.1 2655.6 C1385 2653.9 1407.4 2660.1 1413.3 2661.3 C1419.2 2662.4 1436 2667.5 1441.6 2666.9 C1447.3 2666.4 1464.3 2657.6 1470 2655.6 C1475.6 2653.6 1492.6 2647.7 1498.3 2647.1 C1503.9 2646.6 1520.9 2648.3 1526.6 2650 C1532.3 2651.7 1549.3 2661.6 1554.9 2664.1 C1560.6 2666.7 1576.2 2674.3 1583.3 2675.4 C1590.3 2676.6 1620.1 2675.2 1625.7 2675.4 C1631.4 2675.7 1639.1 2676.3 1639.9 2678.3 C1640.8 2680.3 1639.9 2692.7 1634.2 2695.3 C1628.6 2697.8 1594 2702.6 1583.3 2703.8 C1572.5 2704.9 1537.9 2706.3 1526.6 2706.6 C1515.3 2706.9 1481.3 2706.9 1470 2706.6 C1458.6 2706.3 1421.2 2704.9 1413.3 2703.8 C1405.4 2702.6 1393.5 2697.8 1390.6 2695.3 C1387.8 2692.7 1385.8 2682.2 1385 2678.3 C1384.1 2674.3 1379.3 2657.3 1382.1 2655.6 Z" fill="#f6b2cc"/><path d="M1376.5 2647.1 C1377.3 2643.4 1391.3 2635.5 1393.5 2638.6 C1395.6 2641.7 1398.6 2674.6 1397.7 2678.3 C1396.9 2682 1387.1 2678.6 1385 2675.4 C1382.9 2672.3 1375.6 2650.8 1376.5 2647.1 Z" fill="#ff9896"/><path d="M1634.2 2638.6 C1635.7 2635.8 1649.8 2640.3 1651.2 2644.3 C1652.7 2648.3 1650.4 2675.4 1649 2678.3 C1647.6 2681.1 1638.5 2676.6 1637.1 2672.6 C1635.6 2668.6 1632.8 2641.5 1634.2 2638.6 Z" fill="#ff9896"/><path d="M1509.6 2655.6 C1510.3 2654.2 1514.1 2652.2 1515.3 2652.8 C1516.4 2653.4 1520.5 2658.7 1520.9 2661.3 C1521.4 2663.8 1520.1 2675.4 1519.5 2678.3 C1519 2681.2 1516.1 2690.2 1515.3 2690.2 C1514.4 2690.2 1511.7 2680.6 1511 2678.3 C1510.3 2676 1508.3 2669.2 1508.2 2666.9 C1508.1 2664.7 1508.9 2657 1509.6 2655.6 Z" fill="#6a6a6a"/><path d="M1433.4 2627 C1433.4 2627.3 1433.2 2627.8 1432.9 2628.1 C1432.6 2628.4 1431.5 2629.2 1431.1 2629.1 C1430.7 2629 1430.4 2628 1430.2 2627.6 C1429.9 2627.1 1429.1 2626.4 1429.3 2626 C1429.4 2625.7 1430.7 2625 1431.1 2625 C1431.6 2624.9 1432.5 2625.6 1432.8 2625.9 C1433.1 2626.2 1433.3 2626.7 1433.4 2627 Z" fill="#ff9896"/><path d="M1474.8 2612.7 C1474.7 2613 1473.7 2613.5 1473.2 2613.8 C1472.8 2614.1 1472 2615 1471.4 2615 C1470.9 2615 1469.4 2614.2 1469.2 2613.8 C1469.1 2613.4 1469.8 2612.2 1470.1 2611.9 C1470.5 2611.5 1471.2 2611.2 1471.7 2611.1 C1472.1 2611.1 1473.1 2611 1473.5 2611.2 C1473.9 2611.4 1474.8 2612.3 1474.8 2612.7 Z" fill="#ff9896"/><path d="M1501.3 2584 C1501.2 2584.5 1500.7 2585.3 1500.2 2585.7 C1499.8 2586 1498.4 2586.7 1497.9 2586.7 C1497.3 2586.6 1495.9 2585.6 1495.8 2585.1 C1495.6 2584.7 1496.3 2583.6 1496.6 2583.3 C1496.9 2582.9 1497.6 2582.7 1498.2 2582.5 C1498.7 2582.3 1500.1 2581.9 1500.6 2582.1 C1501 2582.3 1501.3 2583.6 1501.3 2584 Z" fill="#cfaed8"/><path d="M1393.5 2631.6 C1393.5 2632.2 1391.6 2633.2 1390.8 2633.8 C1389.9 2634.3 1388.3 2635.8 1387.4 2635.8 C1386.5 2635.7 1384.2 2634.1 1384 2633.4 C1383.7 2632.7 1385.1 2631.2 1385.5 2630.4 C1386 2629.7 1386.8 2628 1387.5 2627.8 C1388.2 2627.7 1390 2628.9 1390.8 2629.4 C1391.5 2629.9 1393.5 2631 1393.5 2631.6 Z" fill="#f7b6d2"/><path d="M1456.3 2608.6 C1456.2 2609.2 1455.4 2610 1454.9 2610.5 C1454.3 2611 1452.6 2612.2 1452 2612.1 C1451.5 2612 1451 2610.2 1450.6 2609.6 C1450.2 2608.9 1448.8 2607.7 1449 2607.1 C1449.1 2606.5 1451.1 2605 1451.9 2604.9 C1452.8 2604.7 1454.9 2605.7 1455.5 2606.2 C1456 2606.7 1456.3 2608.1 1456.3 2608.6 Z" fill="#ff9896"/><path d="M1486.3 2591.7 C1486.3 2592.1 1486.8 2593.3 1486.5 2593.5 C1486.3 2593.8 1484.8 2593.5 1484.2 2593.4 C1483.6 2593.3 1482.1 2593.2 1481.8 2592.8 C1481.6 2592.5 1482 2591.1 1482.3 2590.8 C1482.6 2590.4 1483.8 2590.2 1484.3 2590.2 C1484.8 2590.1 1485.7 2590.2 1486 2590.4 C1486.3 2590.6 1486.2 2591.3 1486.3 2591.7 Z" fill="#f7b6d2"/><path d="M1427.1 2601.5 C1427.1 2601.8 1426.1 2602.3 1425.8 2602.6 C1425.4 2602.8 1424.5 2603.6 1424.1 2603.5 C1423.7 2603.5 1422.9 2602.7 1422.7 2602.3 C1422.4 2601.9 1422 2600.8 1422.2 2600.6 C1422.5 2600.3 1423.9 2600.3 1424.3 2600.3 C1424.8 2600.3 1425.3 2600.4 1425.7 2600.5 C1426 2600.7 1427 2601.2 1427.1 2601.5 Z" fill="#f7b6d2"/><path d="M1445 2610.1 C1445.1 2610.7 1444.5 2612 1443.9 2612.5 C1443.3 2612.9 1441.4 2613.7 1440.6 2613.6 C1439.7 2613.5 1437.7 2612.3 1437.5 2611.7 C1437.3 2611.1 1438.6 2609.7 1439.1 2609.2 C1439.6 2608.7 1440.3 2607.9 1440.9 2607.8 C1441.5 2607.7 1442.9 2607.9 1443.5 2608.2 C1444 2608.5 1445 2609.6 1445 2610.1 Z" fill="#ff9896"/><path d="M1459.9 2610.1 C1459.8 2610.8 1460.3 2612.2 1459.7 2612.7 C1459.2 2613.3 1456.8 2614.3 1456 2614.1 C1455.1 2613.9 1453.6 2612.2 1453.3 2611.5 C1453.1 2610.8 1453.6 2609.4 1454 2608.9 C1454.4 2608.4 1455.6 2608 1456.4 2607.7 C1457.2 2607.5 1459.5 2606.9 1459.9 2607.3 C1460.4 2607.6 1459.9 2609.4 1459.9 2610.1 Z" fill="#cfaed8"/><path d="M1402 2643.4 C1402 2643.7 1401.2 2644.2 1400.8 2644.4 C1400.5 2644.6 1399.9 2644.6 1399.5 2644.6 C1399 2644.6 1397.7 2644.5 1397.6 2644.3 C1397.4 2644 1398 2643.1 1398.3 2642.8 C1398.5 2642.5 1399.1 2642.3 1399.5 2642.2 C1399.9 2642.1 1400.7 2642 1401.1 2642.2 C1401.4 2642.3 1402.1 2643.1 1402 2643.4 Z" fill="#ff9896"/><path d="M1538.5 2599.1 C1538.5 2599.6 1537.2 2600.5 1536.7 2600.8 C1536.1 2601.2 1534.7 2601.8 1534.2 2601.6 C1533.8 2601.5 1533.4 2600.2 1533.2 2599.8 C1532.9 2599.3 1532.3 2598.6 1532.4 2598.1 C1532.6 2597.7 1533.6 2596.5 1534.2 2596.4 C1534.7 2596.3 1536.1 2597 1536.7 2597.3 C1537.3 2597.7 1538.5 2598.6 1538.5 2599.1 Z" fill="#cfaed8"/><path d="M1533 2647.4 C1533.2 2648.2 1532 2650.7 1531.2 2651 C1530.4 2651.4 1527.7 2650.4 1526.9 2650.1 C1526 2649.7 1525.2 2649 1524.9 2648.5 C1524.7 2648 1524.6 2647.1 1524.8 2646.4 C1525 2645.6 1525.7 2643 1526.3 2642.9 C1526.9 2642.8 1528.6 2644.9 1529.5 2645.5 C1530.4 2646.1 1532.8 2646.7 1533 2647.4 Z" fill="#f7b6d2"/><path d="M1578.6 2619.5 C1578.4 2620.2 1576.9 2621.3 1576.1 2621.7 C1575.3 2622.2 1573.8 2623 1572.9 2622.9 C1571.9 2622.9 1569.5 2622 1569.1 2621.3 C1568.7 2620.6 1569.3 2618.6 1569.8 2617.9 C1570.3 2617.2 1571.8 2616.1 1572.8 2615.8 C1573.8 2615.6 1576.5 2615.5 1577.3 2616 C1578.1 2616.5 1578.7 2618.7 1578.6 2619.5 Z" fill="#cfaed8"/><path d="M1592.2 2633 C1592.1 2633.5 1590.5 2634.6 1589.8 2635 C1589.2 2635.4 1587.7 2635.9 1587 2635.7 C1586.3 2635.6 1585.2 2634.7 1584.8 2634.1 C1584.5 2633.6 1584.1 2632.4 1584.4 2631.6 C1584.6 2630.9 1585.8 2628.8 1586.6 2628.6 C1587.3 2628.5 1589.5 2629.9 1590.2 2630.5 C1591 2631.1 1592.2 2632.4 1592.2 2633 Z" fill="#f7b6d2"/><path d="M1552 2594.4 C1551.9 2595.1 1549.1 2596.1 1548.1 2596.5 C1547.2 2596.9 1546 2597.5 1545.1 2597.4 C1544.3 2597.3 1541.9 2596.6 1541.6 2596.1 C1541.3 2595.5 1542.4 2593.7 1542.8 2593.2 C1543.3 2592.6 1544.4 2592.1 1545.3 2591.9 C1546.1 2591.6 1548.2 2590.9 1549.1 2591.2 C1550 2591.5 1552.1 2593.7 1552 2594.4 Z" fill="#cfaed8"/><path d="M1622.9 2636.9 C1622.8 2637.4 1621.7 2638.3 1621.1 2638.6 C1620.6 2638.9 1619.5 2639.4 1618.8 2639.3 C1618.1 2639.3 1616.1 2638.7 1615.9 2638.3 C1615.7 2637.8 1616.7 2636.6 1617.1 2636 C1617.4 2635.4 1617.9 2633.7 1618.5 2633.6 C1619.1 2633.4 1621 2634.3 1621.6 2634.8 C1622.2 2635.2 1622.9 2636.4 1622.9 2636.9 Z" fill="#cfaed8"/><path d="M1616.7 2608.7 C1616.8 2609.3 1614.3 2611.1 1613.4 2611.5 C1612.5 2611.8 1610.8 2611.4 1609.9 2611.2 C1609 2611 1607.3 2610.6 1607 2610.1 C1606.7 2609.6 1607.1 2608.1 1607.5 2607.4 C1607.8 2606.8 1609 2605.5 1609.7 2605.4 C1610.4 2605.3 1611.7 2606.2 1612.6 2606.6 C1613.6 2607.1 1616.6 2608 1616.7 2608.7 Z" fill="#f7b6d2"/><path d="M1543.6 2643.8 C1543.5 2644.3 1542.5 2645.1 1542.1 2645.3 C1541.6 2645.5 1540.7 2645.3 1540.2 2645.2 C1539.6 2645.2 1538 2645.2 1537.7 2644.9 C1537.4 2644.6 1537.7 2643.3 1538 2642.8 C1538.3 2642.3 1539.2 2641.3 1539.8 2641.2 C1540.4 2641 1542.2 2641.3 1542.7 2641.7 C1543.2 2642 1543.7 2643.3 1543.6 2643.8 Z" fill="#f7b6d2"/><path d="M1626 2646.6 C1626.1 2647.1 1624.3 2648.5 1623.6 2648.7 C1622.9 2649 1621.5 2648.8 1620.9 2648.7 C1620.2 2648.6 1619 2648.2 1618.5 2647.7 C1618 2647.2 1616.6 2645.5 1616.9 2644.8 C1617.1 2644.1 1619.4 2642.6 1620.3 2642.5 C1621.2 2642.5 1622.6 2644.1 1623.4 2644.7 C1624.1 2645.2 1626 2646 1626 2646.6 Z" fill="#cfaed8"/><path d="M1534.8 2642.8 C1534.9 2643.1 1534.7 2644.2 1534.4 2644.3 C1534.1 2644.4 1532.9 2643.9 1532.6 2643.8 C1532.2 2643.6 1531.8 2643.4 1531.6 2643.2 C1531.5 2643 1531.2 2642.5 1531.3 2642.2 C1531.4 2641.9 1532 2641 1532.3 2641 C1532.7 2640.9 1533.4 2641.6 1533.7 2641.9 C1534.1 2642.1 1534.7 2642.4 1534.8 2642.8 Z" fill="#f7b6d2"/>
</g>
</svg></body></html>
